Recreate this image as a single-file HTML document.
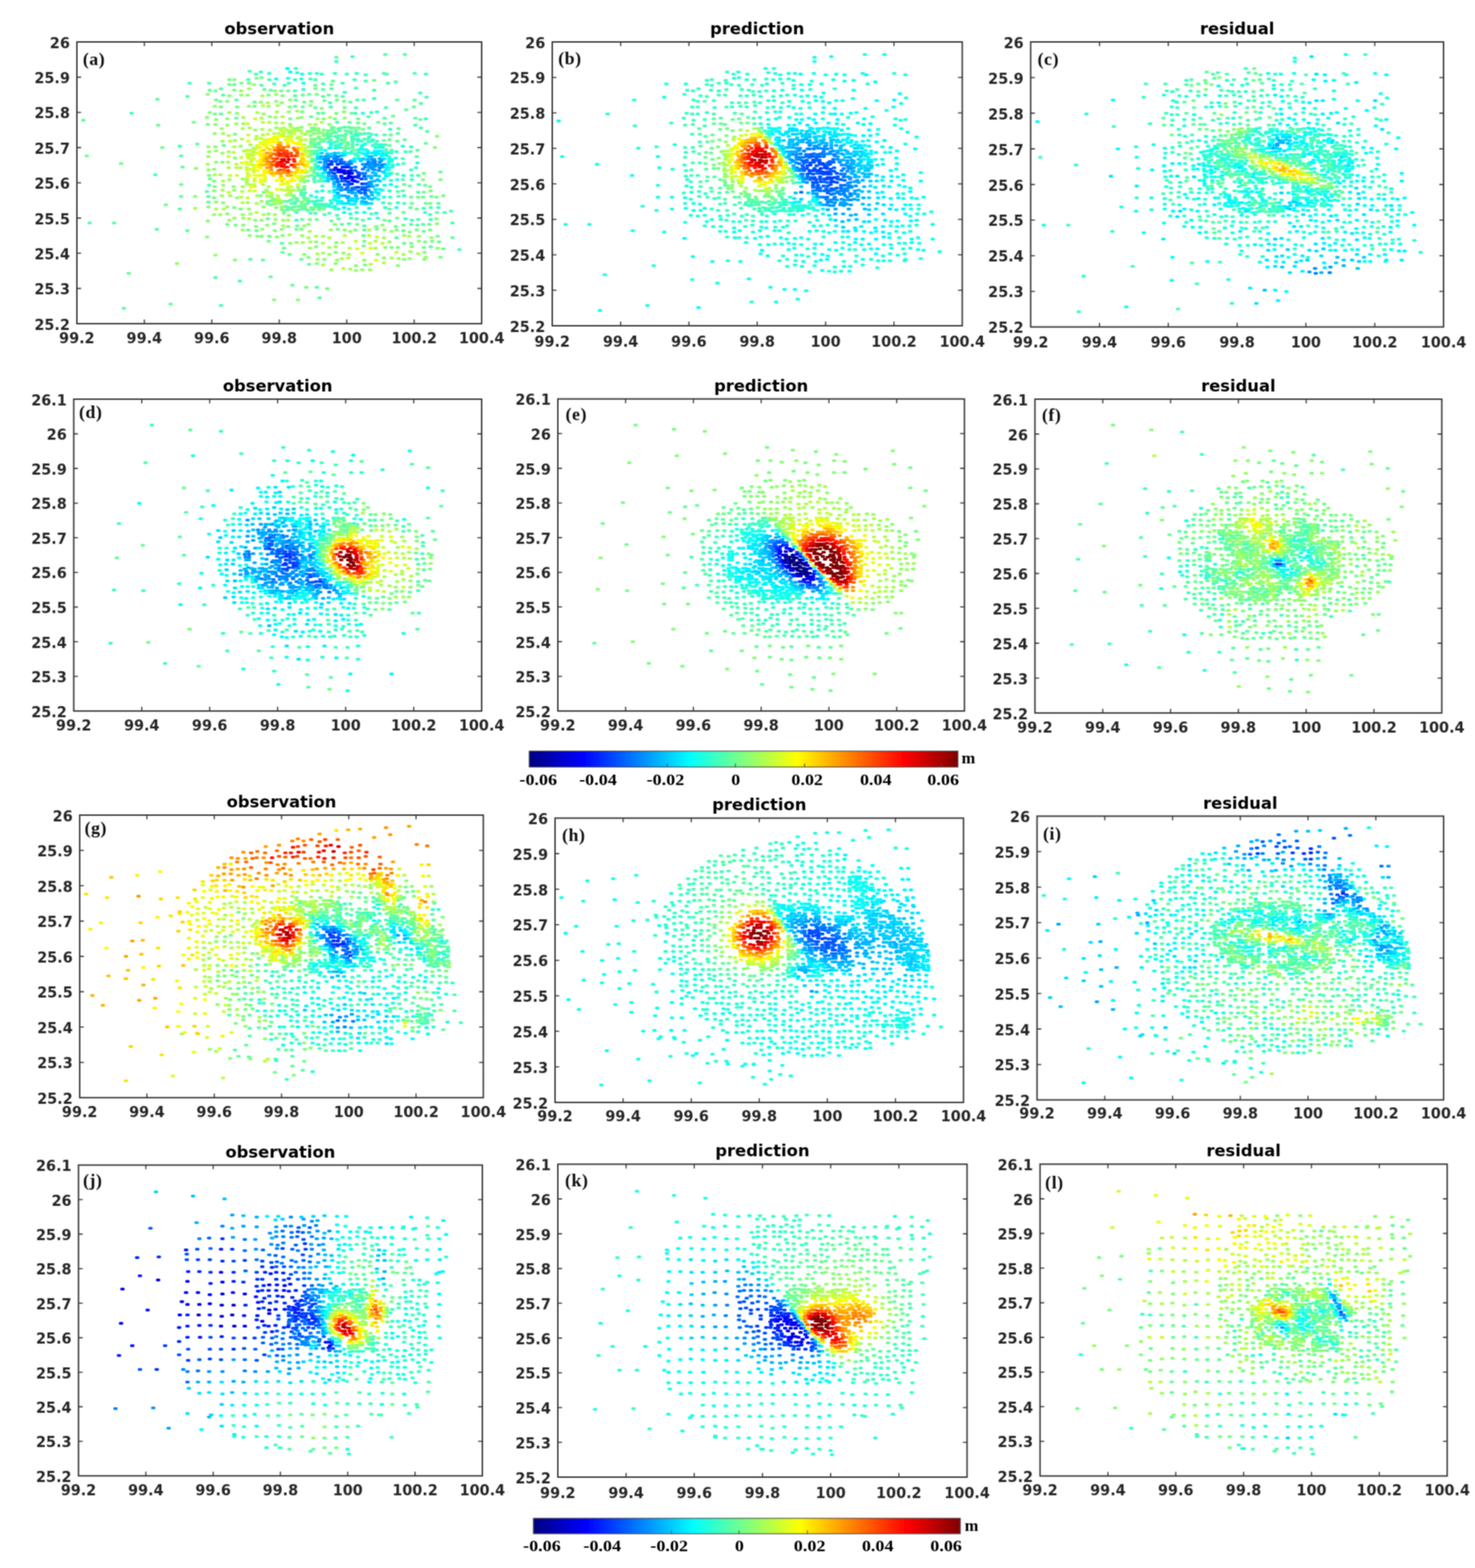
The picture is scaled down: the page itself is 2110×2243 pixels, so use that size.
<!DOCTYPE html><html><head><meta charset="utf-8"><style>html,body{margin:0;padding:0;background:#fff;}svg{display:block;}#w{width:2110px;height:2243px;overflow:hidden;}.tk{font-family:"DejaVu Sans","Liberation Sans",sans-serif;font-weight:bold;font-size:20.6px;fill:#262626;}.ti{font-family:"DejaVu Sans","Liberation Sans",sans-serif;font-weight:bold;font-size:23.4px;fill:#000;}.pl{font-family:"Liberation Serif",serif;font-weight:bold;font-size:25.5px;letter-spacing:0.8px;fill:#111;}.cl{font-family:"Liberation Serif",serif;font-weight:bold;font-size:23.5px;fill:#000;}</style></head><body>
<div id="w">
<svg width="2110" height="2243" viewBox="0 0 2110 2243">
<defs><filter id="bl" x="0" y="0" width="2110" height="2243" filterUnits="userSpaceOnUse"><feConvolveMatrix order="3" kernelMatrix="1 2 1 2 4 2 1 2 1" divisor="16" edgeMode="none"/></filter></defs>
<rect width="2110" height="2243" fill="#fff"/>
<g filter="url(#bl)">
<g fill="none" stroke-width="4.1" stroke-linecap="round"><path d="M354 114h2.4M365 106h2.4M384 114h2.4M391 120h2.4M406 122h2.4M412 119h2.4M423 304h2.4M443 305h2.4M450 305h2.4M421 291h2.4M423 284h2.4M433 280h2.4M430 276h2.4M435 276h2.4M434 271h2.4M439 288h2.4M445 288h2.4M450 288h2.4M454 292h2.4M449 260h2.4M448 256h2.4M455 259h2.4M453 248h2.4M448 243h2.4M450 239h2.4M450 235h2.4M453 216h2.4M454 206h2.4M443 113h2.4M450 114h2.4M470 305h2.4M481 308h2.4M465 292h2.4M468 293h2.4M478 299h2.4M460 266h2.4M458 211h2.4M492 216h2.4M487 211h2.4M462 202h2.4M479 203h2.4M487 194h2.4M484 187h2.4M481 175h2.4M492 182h2.4M472 153h2.4M471 147h2.4M461 120h2.4M509 313h2.4M530 306h2.4M502 216h2.4M497 212h2.4M503 207h2.4M507 220h2.4M510 207h2.4M502 196h2.4M501 191h2.4M520 199h2.4M520 191h2.4M526 203h2.4M531 202h2.4M526 191h2.4M530 192h2.4M508 154h2.4M530 161h2.4M559 248h2.4M551 214h2.4M550 207h2.4M559 219h2.4M559 215h2.4M538 202h2.4M588 315h2.4M577 291h2.4M605 298h2.4M575 257h2.4M588 251h2.4M598 264h2.4M597 251h2.4M576 234h2.4M575 227h2.4M579 217h2.4M615 314h2.4M614 307h2.4M635 304h2.4M626 297h2.4M489 119h2.4M495 106h2.4M508 126h2.4M506 114h2.4M522 116h2.4M534 129h2.4M551 154h2.4M554 119h2.4M593 179h2.4M187 162h2.4M221 250h2.4M256 209h2.4M270 119h2.4M315 437h2.4M342 402h2.4M503 81h2.4M609 139h2.4M646 319h2.4M656 357h2.4" stroke="#47ffb8"/>
<path d="M297 281h2.4M295 274h2.4M298 265h2.4M298 119h2.4M315 163h2.4M337 143h2.4M318 136h2.4M315 127h2.4M373 122h2.4M356 102h2.4M402 348h2.4M387 287h2.4M410 300h2.4M410 296h2.4M416 297h2.4M410 288h2.4M416 291h2.4M415 286h2.4M421 289h2.4M424 287h2.4M431 299h2.4M430 295h2.4M436 299h2.4M435 292h2.4M430 279h2.4M434 283h2.4M445 300h2.4M439 291h2.4M450 295h2.4M454 296h2.4M449 252h2.4M449 216h2.4M449 210h2.4M450 206h2.4M454 211h2.4M455 204h2.4M454 162h2.4M421 137h2.4M421 130h2.4M463 307h2.4M483 313h2.4M458 296h2.4M462 299h2.4M458 259h2.4M458 255h2.4M494 208h2.4M459 202h2.4M467 198h2.4M472 200h2.4M468 195h2.4M467 191h2.4M472 195h2.4M482 202h2.4M482 198h2.4M479 190h2.4M484 194h2.4M493 192h2.4M483 184h2.4M461 162h2.4M461 138h2.4M461 128h2.4M473 127h2.4M489 138h2.4M498 320h2.4M501 312h2.4M520 329h2.4M520 323h2.4M518 315h2.4M503 211h2.4M496 204h2.4M503 203h2.4M506 194h2.4M513 191h2.4M496 188h2.4M501 188h2.4M501 183h2.4M516 192h2.4M525 199h2.4M527 183h2.4M510 143h2.4M526 167h2.4M566 340h2.4M556 316h2.4M556 305h2.4M556 299h2.4M556 291h2.4M569 281h2.4M568 274h2.4M567 249h2.4M549 193h2.4M549 177h2.4M568 191h2.4M558 176h2.4M549 169h2.4M576 330h2.4M587 321h2.4M596 322h2.4M604 321h2.4M597 314h2.4M575 273h2.4M597 275h2.4M586 217h2.4M595 224h2.4M596 215h2.4M615 353h2.4M615 297h2.4M626 291h2.4M519 143h2.4M552 106h2.4M565 117h2.4M593 169h2.4M118 172h2.4M127 319h2.4M162 319h2.4M176 441h2.4M223 328h2.4M258 223h2.4M256 299h2.4M267 330h2.4M267 138h2.4M307 397h2.4M357 371h2.4M456 426h2.4M452 411h2.4M578 78h2.4M550 78h2.4M548 105h2.4M592 105h2.4M601 148h2.4M601 183h2.4M610 188h2.4M644 302h2.4" stroke="#57ffa8"/>
<path d="M372 103h2.4M384 105h2.4M423 315h2.4M449 292h2.4M449 230h2.4M448 228h2.4M448 220h2.4M433 128h2.4M424 104h2.4M422 98h2.4M442 105h2.4M452 105h2.4M464 295h2.4M459 292h2.4M458 287h2.4M473 296h2.4M470 274h2.4M484 211h2.4M482 208h2.4M474 204h2.4M479 195h2.4M488 200h2.4M459 106h2.4M527 313h2.4M509 297h2.4M508 222h2.4M511 223h2.4M501 219h2.4M532 208h2.4M503 200h2.4M506 199h2.4M511 202h2.4M511 199h2.4M508 191h2.4M510 194h2.4M516 202h2.4M507 162h2.4M539 312h2.4M547 290h2.4M568 290h2.4M557 282h2.4M555 251h2.4M536 206h2.4M541 207h2.4M550 218h2.4M561 236h2.4M537 193h2.4M557 185h2.4M538 160h2.4M579 313h2.4M607 304h2.4M588 257h2.4M587 243h2.4M594 240h2.4M587 210h2.4M478 105h2.4M492 132h2.4M509 105h2.4M522 107h2.4M534 141h2.4M480 88h2.4M608 106h2.4M600 133h2.4M608 170h2.4" stroke="#37ffc8"/>
<path d="M297 289h2.4M299 129h2.4M319 208h2.4M308 143h2.4M337 169h2.4M327 121h2.4M334 121h2.4M366 330h2.4M363 146h2.4M377 128h2.4M373 111h2.4M384 338h2.4M403 361h2.4M405 355h2.4M413 364h2.4M382 313h2.4M405 301h2.4M407 295h2.4M405 288h2.4M415 299h2.4M386 129h2.4M430 371h2.4M441 378h2.4M424 323h2.4M431 314h2.4M420 296h2.4M426 300h2.4M426 295h2.4M430 272h2.4M439 301h2.4M444 297h2.4M455 300h2.4M439 284h2.4M444 251h2.4M448 247h2.4M444 216h2.4M444 203h2.4M449 199h2.4M455 198h2.4M448 186h2.4M421 152h2.4M422 143h2.4M432 153h2.4M434 146h2.4M444 167h2.4M450 154h2.4M432 136h2.4M441 135h2.4M450 122h2.4M473 316h2.4M488 321h2.4M492 212h2.4M463 192h2.4M473 191h2.4M473 186h2.4M474 182h2.4M489 204h2.4M492 199h2.4M492 195h2.4M477 188h2.4M476 183h2.4M487 183h2.4M493 187h2.4M491 145h2.4M469 136h2.4M480 137h2.4M519 337h2.4M506 215h2.4M498 182h2.4M499 175h2.4M508 187h2.4M512 183h2.4M502 162h2.4M511 170h2.4M500 146h2.4M565 324h2.4M556 208h2.4M548 201h2.4M556 200h2.4M558 193h2.4M567 202h2.4M569 184h2.4M577 348h2.4M576 322h2.4M576 304h2.4M605 331h2.4M586 297h2.4M588 291h2.4M587 282h2.4M595 299h2.4M608 291h2.4M597 282h2.4M604 282h2.4M577 264h2.4M585 266h2.4M607 265h2.4M578 200h2.4M627 346h2.4M613 321h2.4M624 304h2.4M616 281h2.4M475 116h2.4M567 143h2.4M580 157h2.4M591 153h2.4M592 143h2.4M608 205h2.4M183 391h2.4M224 142h2.4M225 179h2.4M243 435h2.4M260 239h2.4M258 281h2.4M281 206h2.4M375 372h2.4M386 396h2.4M417 408h2.4M480 82h2.4M600 171h2.4M629 246h2.4M646 340h2.4M633 356h2.4" stroke="#67ff98"/>
<path d="M411 112h2.4M453 287h2.4M444 280h2.4M451 282h2.4M454 251h2.4M454 242h2.4M453 220h2.4M421 114h2.4M430 113h2.4M470 295h2.4M472 287h2.4M460 283h2.4M482 291h2.4M463 259h2.4M458 251h2.4M460 248h2.4M458 214h2.4M472 211h2.4M472 207h2.4M479 212h2.4M479 208h2.4M493 219h2.4M486 206h2.4M469 203h2.4M500 306h2.4M509 304h2.4M498 219h2.4M512 218h2.4M512 214h2.4M516 211h2.4M532 200h2.4M527 196h2.4M518 162h2.4M550 297h2.4M546 272h2.4M566 297h2.4M556 273h2.4M558 258h2.4M566 267h2.4M567 257h2.4M555 243h2.4M556 240h2.4M541 211h2.4M545 216h2.4M545 207h2.4M559 231h2.4M555 224h2.4M565 226h2.4M554 218h2.4M566 217h2.4M577 280h2.4M576 251h2.4M575 209h2.4M596 233h2.4" stroke="#26ffd9"/>
<path d="M299 256h2.4M298 251h2.4M296 178h2.4M324 321h2.4M336 322h2.4M305 283h2.4M334 297h2.4M306 267h2.4M305 259h2.4M335 192h2.4M306 163h2.4M315 153h2.4M314 145h2.4M338 153h2.4M307 130h2.4M334 129h2.4M327 114h2.4M373 338h2.4M354 329h2.4M343 299h2.4M372 280h2.4M363 152h2.4M344 119h2.4M355 119h2.4M366 112h2.4M383 345h2.4M391 320h2.4M405 305h2.4M382 288h2.4M386 293h2.4M391 285h2.4M402 300h2.4M414 170h2.4M383 136h2.4M401 130h2.4M411 130h2.4M423 328h2.4M430 328h2.4M442 314h2.4M452 314h2.4M420 301h2.4M435 296h2.4M431 292h2.4M430 289h2.4M420 283h2.4M419 280h2.4M448 299h2.4M434 267h2.4M434 260h2.4M439 259h2.4M444 231h2.4M445 227h2.4M443 222h2.4M444 206h2.4M448 202h2.4M455 196h2.4M445 183h2.4M448 183h2.4M431 160h2.4M444 145h2.4M452 135h2.4M450 127h2.4M482 328h2.4M460 299h2.4M463 199h2.4M462 194h2.4M468 187h2.4M491 203h2.4M463 144h2.4M478 170h2.4M480 162h2.4M481 143h2.4M492 154h2.4M473 121h2.4M521 379h2.4M519 352h2.4M520 345h2.4M507 329h2.4M510 321h2.4M496 207h2.4M506 183h2.4M511 176h2.4M518 185h2.4M520 177h2.4M568 354h2.4M538 328h2.4M537 324h2.4M549 315h2.4M566 329h2.4M567 312h2.4M540 175h2.4M587 348h2.4M605 354h2.4M607 346h2.4M595 329h2.4M605 275h2.4M605 248h2.4M617 345h2.4M625 338h2.4M614 329h2.4M614 291h2.4M615 273h2.4M623 282h2.4M614 267h2.4M534 115h2.4M561 166h2.4M123 223h2.4M172 234h2.4M231 211h2.4M236 293h2.4M258 264h2.4M276 175h2.4M467 413h2.4M437 411h2.4M629 257h2.4M633 280h2.4M629 368h2.4" stroke="#77ff88"/>
<path d="M394 113h2.4M452 274h2.4M454 232h2.4M433 119h2.4M431 106h2.4M491 304h2.4M473 291h2.4M460 273h2.4M478 295h2.4M483 299h2.4M478 286h2.4M477 284h2.4M463 254h2.4M462 252h2.4M520 304h2.4M498 299h2.4M517 219h2.4M517 214h2.4M522 214h2.4M517 208h2.4M521 206h2.4M537 305h2.4M540 285h2.4M540 279h2.4M548 282h2.4M556 248h2.4M560 239h2.4M536 211h2.4M546 211h2.4M555 235h2.4M555 231h2.4M556 227h2.4M559 228h2.4M568 235h2.4" stroke="#16ffe9"/>
<path d="M297 296h2.4M295 168h2.4M299 161h2.4M324 306h2.4M334 312h2.4M308 289h2.4M318 290h2.4M305 273h2.4M305 242h2.4M333 267h2.4M308 232h2.4M317 232h2.4M307 210h2.4M335 226h2.4M307 178h2.4M308 171h2.4M324 170h2.4M338 162h2.4M324 145h2.4M327 137h2.4M334 114h2.4M356 337h2.4M367 338h2.4M347 322h2.4M365 324h2.4M364 315h2.4M376 296h2.4M376 275h2.4M355 152h2.4M372 146h2.4M353 136h2.4M395 339h2.4M403 337h2.4M414 348h2.4M381 322h2.4M392 330h2.4M383 306h2.4M402 328h2.4M411 324h2.4M412 308h2.4M381 291h2.4M394 297h2.4M391 292h2.4M387 282h2.4M415 279h2.4M414 178h2.4M385 167h2.4M394 145h2.4M412 160h2.4M402 147h2.4M413 153h2.4M414 143h2.4M392 130h2.4M403 137h2.4M440 368h2.4M452 377h2.4M434 364h2.4M451 353h2.4M451 346h2.4M440 321h2.4M435 287h2.4M426 272h2.4M439 252h2.4M444 240h2.4M443 220h2.4M430 182h2.4M444 199h2.4M443 194h2.4M448 191h2.4M454 191h2.4M439 188h2.4M443 188h2.4M454 187h2.4M454 184h2.4M430 168h2.4M443 151h2.4M463 371h2.4M479 377h2.4M479 361h2.4M480 347h2.4M478 321h2.4M492 329h2.4M458 200h2.4M459 190h2.4M462 186h2.4M470 178h2.4M462 170h2.4M459 155h2.4M491 160h2.4M508 380h2.4M548 369h2.4M568 380h2.4M539 364h2.4M550 354h2.4M559 354h2.4M549 329h2.4M546 322h2.4M577 371h2.4M588 353h2.4M606 361h2.4M598 345h2.4M585 332h2.4M604 257h2.4M624 320h2.4M623 313h2.4M279 241h2.4M295 339h2.4M296 316h2.4M335 372h2.4M391 429h2.4M425 429h2.4M624 195h2.4M621 211h2.4M606 371h2.4" stroke="#88ff77"/>
<path d="M414 103h2.4M482 288h2.4M477 275h2.4M458 242h2.4M464 215h2.4M470 212h2.4M501 292h2.4M506 227h2.4M520 220h2.4M525 216h2.4M549 265h2.4M548 256h2.4M550 248h2.4M558 264h2.4M545 223h2.4M549 227h2.4M535 216h2.4M540 220h2.4" stroke="#06fff9"/>
<path d="M297 243h2.4M297 224h2.4M298 217h2.4M297 210h2.4M296 135h2.4M305 307h2.4M314 307h2.4M327 315h2.4M316 280h2.4M324 296h2.4M328 280h2.4M338 283h2.4M334 272h2.4M318 265h2.4M327 257h2.4M308 216h2.4M317 219h2.4M306 191h2.4M317 202h2.4M316 184h2.4M324 179h2.4M337 177h2.4M306 152h2.4M327 161h2.4M346 329h2.4M347 312h2.4M346 307h2.4M374 328h2.4M373 315h2.4M355 299h2.4M353 290h2.4M373 288h2.4M367 280h2.4M346 267h2.4M346 256h2.4M352 259h2.4M343 209h2.4M362 212h2.4M347 177h2.4M364 186h2.4M376 163h2.4M344 136h2.4M344 130h2.4M362 121h2.4M393 314h2.4M404 315h2.4M390 288h2.4M397 291h2.4M380 272h2.4M402 296h2.4M400 291h2.4M394 183h2.4M393 168h2.4M383 152h2.4M394 135h2.4M453 371h2.4M423 347h2.4M431 337h2.4M442 355h2.4M434 323h2.4M425 268h2.4M431 256h2.4M444 243h2.4M440 216h2.4M440 210h2.4M444 210h2.4M426 196h2.4M435 192h2.4M420 184h2.4M425 183h2.4M425 169h2.4M424 159h2.4M453 170h2.4M473 386h2.4M481 372h2.4M470 364h2.4M479 353h2.4M490 362h2.4M472 329h2.4M492 169h2.4M508 387h2.4M517 386h2.4M528 386h2.4M520 372h2.4M500 331h2.4M569 370h2.4M556 346h2.4M559 331h2.4M585 370h2.4M608 368h2.4M586 360h2.4M577 337h2.4M598 338h2.4M625 355h2.4M616 340h2.4M252 377h2.4M278 281h2.4M307 365h2.4" stroke="#98ff67"/>
<path d="M410 98h2.4M454 238h2.4M453 224h2.4M491 297h2.4M488 291h2.4M487 288h2.4M478 280h2.4M489 219h2.4M506 292h2.4M507 284h2.4M527 298h2.4M512 227h2.4M520 228h2.4M523 223h2.4M525 219h2.4M531 219h2.4M536 275h2.4M542 271h2.4M551 252h2.4M551 243h2.4M552 239h2.4M551 222h2.4M537 219h2.4M541 216h2.4M546 220h2.4" stroke="#00f5ff"/>
<path d="M296 235h2.4M308 299h2.4M319 299h2.4M317 272h2.4M318 259h2.4M306 250h2.4M314 250h2.4M326 240h2.4M325 232h2.4M326 217h2.4M334 210h2.4M318 191h2.4M326 194h2.4M335 201h2.4M355 313h2.4M357 306h2.4M376 307h2.4M366 291h2.4M348 216h2.4M357 207h2.4M345 199h2.4M346 184h2.4M356 183h2.4M374 185h2.4M347 168h2.4M367 161h2.4M373 169h2.4M355 127h2.4M374 137h2.4M413 336h2.4M392 307h2.4M404 323h2.4M411 315h2.4M395 287h2.4M381 280h2.4M387 279h2.4M382 275h2.4M409 279h2.4M414 275h2.4M383 267h2.4M394 176h2.4M404 191h2.4M412 190h2.4M415 191h2.4M400 184h2.4M409 186h2.4M415 187h2.4M395 160h2.4M382 147h2.4M396 151h2.4M403 167h2.4M432 347h2.4M453 363h2.4M443 346h2.4M440 340h2.4M451 338h2.4M442 331h2.4M429 259h2.4M433 256h2.4M434 253h2.4M438 246h2.4M440 224h2.4M425 187h2.4M429 187h2.4M439 190h2.4M442 178h2.4M450 178h2.4M461 379h2.4M488 370h2.4M461 362h2.4M470 354h2.4M461 348h2.4M461 338h2.4M489 347h2.4M459 175h2.4M471 168h2.4M500 385h2.4M498 364h2.4M527 329h2.4M559 369h2.4M536 355h2.4M536 345h2.4M548 340h2.4M576 364h2.4M584 338h2.4M597 363h2.4M278 298h2.4" stroke="#a8ff57"/>
<path d="M492 291h2.4M483 283h2.4M483 279h2.4M477 272h2.4M463 247h2.4M477 267h2.4M473 220h2.4M492 222h2.4M483 219h2.4M497 291h2.4M503 287h2.4M508 288h2.4M502 284h2.4M516 291h2.4M521 292h2.4M530 291h2.4M506 231h2.4M535 283h2.4M536 271h2.4M540 276h2.4M536 222h2.4" stroke="#00e5ff"/>
<path d="M337 240h2.4M337 235h2.4M333 218h2.4M328 202h2.4M366 304h2.4M346 290h2.4M344 282h2.4M345 274h2.4M352 263h2.4M356 264h2.4M352 256h2.4M343 240h2.4M352 240h2.4M375 264h2.4M352 215h2.4M357 215h2.4M361 218h2.4M365 199h2.4M366 195h2.4M375 193h2.4M375 175h2.4M375 151h2.4M397 284h2.4M396 280h2.4M400 287h2.4M410 272h2.4M414 272h2.4M391 191h2.4M397 191h2.4M385 186h2.4M384 175h2.4M405 183h2.4M403 176h2.4M415 182h2.4M419 272h2.4M434 215h2.4M435 212h2.4M434 207h2.4M424 198h2.4M430 200h2.4M436 200h2.4M419 187h2.4M490 384h2.4M470 340h2.4M492 337h2.4M497 369h2.4M529 378h2.4M499 355h2.4M527 337h2.4M548 376h2.4M546 348h2.4" stroke="#b8ff47"/>
<path d="M454 227h2.4M468 259h2.4M468 255h2.4M458 227h2.4M459 219h2.4M467 220h2.4M498 287h2.4M510 284h2.4M525 291h2.4M515 230h2.4M518 227h2.4M542 259h2.4M536 248h2.4M541 252h2.4M547 246h2.4M546 228h2.4" stroke="#00d4ff"/>
<path d="M326 275h2.4M328 251h2.4M338 251h2.4M326 224h2.4M353 283h2.4M356 273h2.4M353 248h2.4M363 267h2.4M362 264h2.4M377 259h2.4M362 246h2.4M362 243h2.4M344 225h2.4M358 231h2.4M354 226h2.4M359 228h2.4M359 223h2.4M357 220h2.4M361 236h2.4M361 222h2.4M363 214h2.4M366 211h2.4M354 193h2.4M353 177h2.4M372 198h2.4M364 170h2.4M387 276h2.4M401 271h2.4M406 272h2.4M411 277h2.4M411 268h2.4M382 192h2.4M405 195h2.4M411 195h2.4M415 195h2.4M401 187h2.4M405 188h2.4M426 255h2.4M420 191h2.4M428 202h2.4M428 196h2.4M431 191h2.4M508 345h2.4M528 348h2.4M538 339h2.4M566 361h2.4" stroke="#c8ff37"/>
<path d="M482 271h2.4M488 280h2.4M460 240h2.4M477 260h2.4M487 223h2.4M478 219h2.4M507 276h2.4M517 288h2.4M527 284h2.4M531 285h2.4M531 279h2.4M530 252h2.4M532 247h2.4M501 230h2.4M525 228h2.4M527 224h2.4M538 265h2.4M535 259h2.4M539 257h2.4M549 235h2.4" stroke="#00c4ff"/>
<path d="M363 273h2.4M356 251h2.4M352 243h2.4M356 242h2.4M363 259h2.4M363 256h2.4M345 233h2.4M356 235h2.4M353 223h2.4M352 220h2.4M362 227h2.4M367 208h2.4M354 202h2.4M372 204h2.4M377 200h2.4M404 263h2.4M415 267h2.4M396 199h2.4M407 200h2.4M402 192h2.4M411 199h2.4M425 264h2.4M429 252h2.4M434 247h2.4M439 238h2.4M435 222h2.4M436 219h2.4M439 235h2.4M510 356h2.4M517 362h2.4M529 355h2.4M537 372h2.4" stroke="#d9ff26"/>
<path d="M482 276h2.4M492 280h2.4M469 251h2.4M477 263h2.4M457 232h2.4M463 236h2.4M458 224h2.4M468 223h2.4M472 224h2.4M496 283h2.4M497 281h2.4M508 280h2.4M522 289h2.4M517 283h2.4M520 284h2.4M530 275h2.4M532 267h2.4M530 264h2.4M530 260h2.4M530 255h2.4M526 252h2.4M530 224h2.4M536 251h2.4M546 239h2.4M542 227h2.4M544 230h2.4" stroke="#00b4ff"/>
<path d="M358 268h2.4M353 252h2.4M372 260h2.4M363 251h2.4M368 251h2.4M362 240h2.4M373 251h2.4M377 252h2.4M352 235h2.4M351 232h2.4M367 219h2.4M373 206h2.4M377 204h2.4M395 271h2.4M401 264h2.4M410 263h2.4M380 208h2.4M387 208h2.4M382 204h2.4M381 200h2.4M391 196h2.4M401 195h2.4M416 202h2.4M415 198h2.4M420 251h2.4M436 243h2.4M431 211h2.4M439 231h2.4M426 204h2.4" stroke="#e9ff16"/>
<path d="M464 243h2.4M483 267h2.4M464 224h2.4M498 275h2.4M503 276h2.4M522 279h2.4M525 281h2.4M527 265h2.4M525 244h2.4M527 240h2.4M518 235h2.4M531 235h2.4M531 228h2.4M535 243h2.4M534 228h2.4" stroke="#00a4ff"/>
<path d="M372 257h2.4M378 255h2.4M367 244h2.4M368 239h2.4M367 236h2.4M367 231h2.4M371 220h2.4M371 216h2.4M395 258h2.4M417 256h2.4M386 203h2.4M390 199h2.4M395 196h2.4M420 258h2.4M424 252h2.4M429 247h2.4M430 214h2.4M429 206h2.4" stroke="#f9ff06"/>
<path d="M487 272h2.4M474 256h2.4M464 239h2.4M474 252h2.4M487 268h2.4M463 228h2.4M468 227h2.4M478 223h2.4M498 272h2.4M506 271h2.4M513 275h2.4M526 272h2.4M527 261h2.4M532 242h2.4M531 239h2.4M498 232h2.4M527 236h2.4M532 232h2.4M535 238h2.4M541 244h2.4M539 236h2.4M542 232h2.4" stroke="#0094ff"/>
<path d="M377 248h2.4M372 240h2.4M377 244h2.4M372 232h2.4M372 228h2.4M372 223h2.4M371 211h2.4M377 208h2.4M382 247h2.4M400 255h2.4M405 256h2.4M410 260h2.4M415 259h2.4M385 199h2.4M390 203h2.4M396 203h2.4M410 203h2.4M426 246h2.4M431 223h2.4M424 206h2.4M419 204h2.4" stroke="#fff500"/>
<path d="M469 247h2.4M484 264h2.4M478 255h2.4M464 232h2.4M477 227h2.4M481 228h2.4M482 224h2.4M502 272h2.4M507 239h2.4M522 256h2.4M521 248h2.4M518 242h2.4M521 239h2.4M501 234h2.4M523 235h2.4M526 232h2.4M542 240h2.4M535 234h2.4M535 231h2.4M545 236h2.4" stroke="#0084ff"/>
<path d="M377 224h2.4M377 220h2.4M383 245h2.4M390 251h2.4M402 259h2.4M381 212h2.4M431 244h2.4M435 238h2.4M433 231h2.4M433 227h2.4" stroke="#ffe500"/>
<path d="M493 271h2.4M473 247h2.4M482 260h2.4M479 252h2.4M468 230h2.4M493 235h2.4M491 232h2.4M487 228h2.4M512 273h2.4M515 276h2.4M496 268h2.4M503 269h2.4M508 268h2.4M517 268h2.4M526 267h2.4M516 248h2.4" stroke="#0073ff"/>
<path d="M371 236h2.4M376 227h2.4M376 215h2.4M385 214h2.4M411 207h2.4M421 247h2.4M424 243h2.4M425 240h2.4M435 236h2.4M431 227h2.4M431 220h2.4" stroke="#ffd500"/>
<path d="M472 243h2.4M481 256h2.4M492 264h2.4M488 259h2.4M479 231h2.4M486 231h2.4M521 276h2.4M498 264h2.4M501 240h2.4M522 268h2.4M522 263h2.4M497 236h2.4" stroke="#0063ff"/>
<path d="M376 236h2.4M377 231h2.4M391 247h2.4M401 252h2.4M391 211h2.4M400 204h2.4M429 231h2.4M425 212h2.4" stroke="#ffc400"/>
<path d="M468 239h2.4M493 259h2.4M487 234h2.4M517 271h2.4M521 272h2.4M511 247h2.4M507 244h2.4M520 252h2.4" stroke="#0053ff"/>
<path d="M387 248h2.4M410 251h2.4M415 251h2.4M415 246h2.4M381 224h2.4M386 219h2.4M431 235h2.4" stroke="#ffb400"/>
<path d="M477 248h2.4M469 235h2.4M473 231h2.4M511 268h2.4M511 254h2.4M497 239h2.4M517 263h2.4M516 256h2.4" stroke="#0043ff"/>
<path d="M381 240h2.4M395 248h2.4M381 235h2.4M381 219h2.4M397 207h2.4M425 235h2.4" stroke="#ffa400"/>
<path d="M488 255h2.4M473 235h2.4M482 235h2.4M497 260h2.4M510 260h2.4M512 251h2.4" stroke="#0033ff"/>
<path d="M387 243h2.4M400 248h2.4M405 247h2.4M380 227h2.4M385 226h2.4M400 208h2.4M411 210h2.4M424 216h2.4" stroke="#ff9400"/>
<path d="M483 246h2.4M477 243h2.4M487 252h2.4M489 239h2.4M494 239h2.4M502 263h2.4M501 244h2.4M507 253h2.4" stroke="#0022ff"/>
<path d="M386 239h2.4M382 231h2.4M392 215h2.4M401 211h2.4M424 223h2.4M419 212h2.4" stroke="#ff8400"/>
<path d="M479 240h2.4M486 243h2.4M497 255h2.4M503 254h2.4" stroke="#0012ff"/>
<path d="M397 244h2.4M411 247h2.4M387 235h2.4M387 232h2.4M386 223h2.4M391 220h2.4M397 211h2.4M405 211h2.4M420 236h2.4" stroke="#ff7300"/>
<path d="M493 255h2.4M487 246h2.4M503 258h2.4M506 259h2.4" stroke="#0002ff"/>
<path d="M405 243h2.4M390 236h2.4M390 227h2.4M396 215h2.4M420 239h2.4M421 215h2.4M424 219h2.4" stroke="#ff6300"/>
<path d="M483 243h2.4M491 244h2.4M498 252h2.4M502 248h2.4" stroke="#0000f1"/>
<path d="M400 243h2.4M391 231h2.4M395 222h2.4M404 215h2.4M409 216h2.4M415 219h2.4" stroke="#ff5300"/>
<path d="M498 248h2.4M497 245h2.4" stroke="#0000e1"/>
<path d="M411 244h2.4M397 219h2.4M400 215h2.4M421 223h2.4" stroke="#ff4300"/>
<path d="M492 248h2.4M501 253h2.4" stroke="#0000d0"/>
<path d="M395 238h2.4M397 232h2.4M395 227h2.4M399 223h2.4M405 223h2.4M416 223h2.4M405 219h2.4M410 220h2.4M420 231h2.4" stroke="#ff3300"/>
<path d="M410 239h2.4M400 236h2.4M400 220h2.4M419 228h2.4" stroke="#ff2200"/>
<path d="M407 239h2.4M395 235h2.4M405 235h2.4M402 228h2.4M416 236h2.4M410 224h2.4" stroke="#ff1200"/>
<path d="M402 238h2.4" stroke="#ff0200"/>
<path d="M401 232h2.4" stroke="#f10000"/>
<path d="M405 228h2.4M410 232h2.4M412 228h2.4" stroke="#e10000"/>
<path d="M405 230h2.4" stroke="#d00000"/>
<path d="M979 225h2.4M979 211h2.4M979 179h2.4M1011 282h2.4M1001 267h2.4M988 251h2.4M988 243h2.4M1016 269h2.4M990 233h2.4M1000 233h2.4M991 217h2.4M1000 203h2.4M990 178h2.4M1007 180h2.4M991 172h2.4M997 153h2.4M997 145h2.4M1007 171h2.4M1020 163h2.4M1010 138h2.4M1049 306h2.4M1029 292h2.4M1039 301h2.4M1036 291h2.4M1027 283h2.4M1028 276h2.4M1050 293h2.4M1059 298h2.4M1057 290h2.4M1050 162h2.4M1058 152h2.4M1056 147h2.4M1027 136h2.4M1036 136h2.4M1038 128h2.4M1027 119h2.4M1066 315h2.4M1076 309h2.4M1065 293h2.4M1066 290h2.4M1078 299h2.4M1074 294h2.4M1074 290h2.4M1085 302h2.4M1085 298h2.4M1088 303h2.4M1091 297h2.4M1084 293h2.4M1089 289h2.4M1094 301h2.4M1100 298h2.4M1100 293h2.4M1099 288h2.4M1096 191h2.4M1077 169h2.4M1079 160h2.4M1066 147h2.4M1078 146h2.4M1076 131h2.4M1105 290h2.4M1118 285h2.4M1133 245h2.4M1114 215h2.4" stroke="#47ffb8"/>
<path d="M1017 274h2.4M1001 260h2.4M1010 259h2.4M1011 253h2.4M1009 242h2.4M1021 253h2.4M999 220h2.4M1001 209h2.4M1000 192h2.4M999 184h2.4M1011 203h2.4M1008 195h2.4M1020 170h2.4M1007 145h2.4M1036 285h2.4M1039 275h2.4M1050 282h2.4M1029 269h2.4M1030 169h2.4M1038 153h2.4M1060 163h2.4M1070 288h2.4M1080 293h2.4M1079 289h2.4M1070 284h2.4M1075 286h2.4M1084 289h2.4M1094 290h2.4M1078 177h2.4M1069 168h2.4M1105 292h2.4M1108 289h2.4M1114 280h2.4M1117 282h2.4M1119 277h2.4M1134 262h2.4" stroke="#57ffa8"/>
<path d="M977 276h2.4M980 252h2.4M980 244h2.4M978 236h2.4M980 218h2.4M977 169h2.4M981 162h2.4M978 135h2.4M982 129h2.4M999 281h2.4M999 274h2.4M1017 299h2.4M1008 277h2.4M1021 284h2.4M988 268h2.4M987 260h2.4M997 251h2.4M990 211h2.4M989 192h2.4M989 163h2.4M997 163h2.4M989 153h2.4M991 143h2.4M1010 161h2.4M1021 154h2.4M1020 144h2.4M990 130h2.4M1001 137h2.4M998 127h2.4M1016 129h2.4M1010 121h2.4M1010 115h2.4M1017 122h2.4M1017 114h2.4M1039 339h2.4M1029 309h2.4M1038 315h2.4M1040 308h2.4M1060 309h2.4M1026 301h2.4M1046 153h2.4M1046 147h2.4M1027 130h2.4M1038 119h2.4M1037 115h2.4M1058 137h2.4M1060 128h2.4M1045 121h2.4M1056 122h2.4M1039 103h2.4M1048 106h2.4M1067 307h2.4M1076 316h2.4M1089 307h2.4M1070 294h2.4M1094 298h2.4M1099 301h2.4M1099 196h2.4M1088 183h2.4M1067 153h2.4M1079 151h2.4M1086 147h2.4M1097 154h2.4M1067 137h2.4M1070 129h2.4M1077 136h2.4M1075 121h2.4M1078 114h2.4M1085 131h2.4M1095 130h2.4M1089 122h2.4M1095 113h2.4M1104 297h2.4M1110 302h2.4M1110 297h2.4M1115 301h2.4M1114 296h2.4M1120 301h2.4M1115 294h2.4M1114 290h2.4M1120 293h2.4M1120 289h2.4M1123 302h2.4M1128 298h2.4M1123 293h2.4M1123 289h2.4M1133 301h2.4M1123 286h2.4M1139 261h2.4M1138 253h2.4M1119 223h2.4M1118 147h2.4M1105 138h2.4M1118 119h2.4M1155 306h2.4M1147 301h2.4M907 180h2.4M938 210h2.4M959 176h2.4" stroke="#37ffc8"/>
<path d="M1020 241h2.4M1008 234h2.4M1008 225h2.4M1018 228h2.4M1009 218h2.4M1016 219h2.4M1017 212h2.4M1018 193h2.4M1020 177h2.4M1056 282h2.4M1029 257h2.4M1036 265h2.4M1036 261h2.4M1029 185h2.4M1030 177h2.4M1036 178h2.4M1047 171h2.4M1056 170h2.4M1070 280h2.4M1081 285h2.4M1104 284h2.4M1108 286h2.4M1110 274h2.4M1114 278h2.4M1118 272h2.4M1133 253h2.4" stroke="#67ff98"/>
<path d="M979 291h2.4M981 266h2.4M982 257h2.4M980 120h2.4M987 308h2.4M997 309h2.4M1007 323h2.4M1019 324h2.4M1010 317h2.4M1007 308h2.4M1017 314h2.4M1001 301h2.4M987 285h2.4M988 275h2.4M1056 340h2.4M1029 331h2.4M1030 324h2.4M1037 331h2.4M1030 314h2.4M1048 317h2.4M1057 317h2.4M1049 112h2.4M1056 111h2.4M1055 103h2.4M1067 340h2.4M1065 324h2.4M1076 332h2.4M1075 322h2.4M1088 325h2.4M1088 317h2.4M1095 317h2.4M1096 309h2.4M1087 177h2.4M1093 187h2.4M1099 188h2.4M1086 168h2.4M1098 171h2.4M1096 161h2.4M1098 144h2.4M1067 114h2.4M1087 138h2.4M1096 120h2.4M1068 106h2.4M1098 104h2.4M1094 98h2.4M1114 373h2.4M1125 381h2.4M1125 371h2.4M1137 373h2.4M1119 366h2.4M1107 349h2.4M1135 349h2.4M1107 330h2.4M1108 325h2.4M1114 330h2.4M1119 325h2.4M1107 317h2.4M1107 306h2.4M1115 316h2.4M1127 333h2.4M1125 323h2.4M1126 316h2.4M1128 307h2.4M1137 316h2.4M1134 307h2.4M1104 303h2.4M1120 298h2.4M1129 302h2.4M1129 290h2.4M1134 297h2.4M1140 302h2.4M1139 298h2.4M1139 294h2.4M1137 250h2.4M1108 207h2.4M1108 160h2.4M1114 168h2.4M1115 160h2.4M1105 153h2.4M1106 144h2.4M1116 154h2.4M1138 163h2.4M1127 152h2.4M1128 145h2.4M1106 130h2.4M1116 137h2.4M1118 129h2.4M1105 114h2.4M1115 113h2.4M1125 136h2.4M1136 136h2.4M1134 127h2.4M1134 122h2.4M1134 115h2.4M1108 105h2.4M1106 98h2.4M1115 107h2.4M1127 105h2.4M1157 389h2.4M1146 381h2.4M1164 380h2.4M1155 367h2.4M1154 356h2.4M1177 339h2.4M1157 318h2.4M1144 301h2.4M1143 298h2.4M1148 297h2.4M1143 294h2.4M1154 297h2.4M1157 298h2.4M1153 295h2.4M1158 293h2.4M1163 300h2.4M1162 297h2.4M1168 301h2.4M1143 261h2.4M1145 163h2.4M1144 155h2.4M1157 154h2.4M1156 147h2.4M1145 138h2.4M1158 128h2.4M1185 388h2.4M1193 389h2.4M1193 382h2.4M1206 374h2.4M1214 357h2.4M1205 347h2.4M1204 339h2.4M1183 322h2.4M1223 374h2.4M1254 383h2.4M1224 366h2.4M1222 357h2.4M1293 363h2.4M1313 299h2.4M1160 116h2.4M1193 127h2.4M1240 120h2.4M1267 158h2.4M808 321h2.4M842 321h2.4M864 393h2.4M868 163h2.4M906 143h2.4M912 212h2.4M918 295h2.4M934 380h2.4M940 265h2.4M942 240h2.4M938 301h2.4M952 120h2.4M961 242h2.4M964 207h2.4M960 299h2.4M979 318h2.4M989 400h2.4M1040 373h2.4M1074 432h2.4M1236 78h2.4M1164 88h2.4M1278 105h2.4M1294 107h2.4M1287 172h2.4M1294 171h2.4M1316 370h2.4" stroke="#26ffd9"/>
<path d="M1020 236h2.4M1018 202h2.4M1047 274h2.4M1059 277h2.4M1041 270h2.4M1040 266h2.4M1035 258h2.4M1026 241h2.4M1026 210h2.4M1028 200h2.4M1038 194h2.4M1039 184h2.4M1047 187h2.4M1059 176h2.4M1065 281h2.4M1066 277h2.4M1070 278h2.4M1080 282h2.4M1093 281h2.4M1099 281h2.4M1068 176h2.4M1103 282h2.4M1114 274h2.4M1132 258h2.4M1128 241h2.4M1132 248h2.4" stroke="#77ff88"/>
<path d="M980 298h2.4M979 283h2.4M991 301h2.4M991 291h2.4M1000 292h2.4M1007 298h2.4M1050 340h2.4M1049 332h2.4M1049 326h2.4M1057 330h2.4M1066 347h2.4M1079 341h2.4M1087 363h2.4M1086 350h2.4M1087 339h2.4M1098 350h2.4M1086 330h2.4M1095 326h2.4M1099 192h2.4M1099 183h2.4M1098 178h2.4M1136 379h2.4M1117 349h2.4M1116 340h2.4M1127 357h2.4M1138 365h2.4M1135 355h2.4M1127 348h2.4M1124 342h2.4M1136 341h2.4M1133 294h2.4M1129 282h2.4M1109 170h2.4M1128 168h2.4M1134 154h2.4M1127 113h2.4M1136 105h2.4M1148 374h2.4M1175 387h2.4M1166 374h2.4M1146 365h2.4M1145 350h2.4M1145 340h2.4M1155 342h2.4M1164 363h2.4M1164 355h2.4M1165 349h2.4M1174 349h2.4M1147 308h2.4M1167 330h2.4M1163 323h2.4M1177 331h2.4M1173 323h2.4M1168 315h2.4M1166 309h2.4M1149 294h2.4M1157 289h2.4M1163 288h2.4M1167 293h2.4M1167 289h2.4M1147 145h2.4M1176 170h2.4M1176 161h2.4M1177 154h2.4M1176 145h2.4M1146 129h2.4M1154 137h2.4M1145 121h2.4M1157 121h2.4M1165 138h2.4M1174 139h2.4M1202 388h2.4M1214 388h2.4M1206 381h2.4M1215 381h2.4M1183 366h2.4M1185 357h2.4M1195 358h2.4M1202 364h2.4M1204 355h2.4M1214 350h2.4M1212 339h2.4M1185 333h2.4M1193 331h2.4M1187 163h2.4M1195 144h2.4M1203 163h2.4M1212 168h2.4M1233 379h2.4M1233 371h2.4M1245 371h2.4M1255 373h2.4M1235 357h2.4M1231 350h2.4M1245 356h2.4M1254 192h2.4M1255 185h2.4M1224 161h2.4M1263 373h2.4M1272 373h2.4M1294 371h2.4M1262 366h2.4M1272 363h2.4M1274 355h2.4M1263 350h2.4M1273 350h2.4M1283 365h2.4M1291 356h2.4M1285 348h2.4M1285 340h2.4M1293 348h2.4M1273 323h2.4M1281 331h2.4M1290 323h2.4M1291 277h2.4M1265 218h2.4M1301 355h2.4M1312 357h2.4M1314 348h2.4M1312 340h2.4M1301 331h2.4M1300 323h2.4M1310 322h2.4M1301 309h2.4M1311 306h2.4M1321 306h2.4M1302 299h2.4M1313 293h2.4M1163 105h2.4M1177 133h2.4M1174 120h2.4M1180 107h2.4M1191 114h2.4M1195 106h2.4M1204 144h2.4M1207 116h2.4M1207 107h2.4M1219 141h2.4M1220 129h2.4M1220 115h2.4M1237 155h2.4M1247 167h2.4M1279 179h2.4M1280 170h2.4M1277 153h2.4M1294 206h2.4M803 224h2.4M853 235h2.4M857 444h2.4M903 251h2.4M904 330h2.4M925 437h2.4M940 224h2.4M940 282h2.4M949 332h2.4M949 139h2.4M960 282h2.4M990 367h2.4M1018 374h2.4M1025 405h2.4M1058 374h2.4M1070 399h2.4M1109 432h2.4M1140 428h2.4M1152 416h2.4M1136 414h2.4M1121 414h2.4M1101 411h2.4M1264 78h2.4M1188 81h2.4M1164 82h2.4M1233 105h2.4M1295 140h2.4M1288 148h2.4M1288 184h2.4M1297 189h2.4M1310 196h2.4M1316 247h2.4M1331 303h2.4M1333 342h2.4M1343 360h2.4M1320 358h2.4M1293 373h2.4" stroke="#16ffe9"/>
<path d="M1036 253h2.4M1036 249h2.4M1046 269h2.4M1046 265h2.4M1028 234h2.4M1027 226h2.4M1031 217h2.4M1064 274h2.4M1095 278h2.4M1099 199h2.4M1095 196h2.4M1084 184h2.4M1088 189h2.4M1109 269h2.4M1119 269h2.4M1128 253h2.4M1123 232h2.4M1103 205h2.4" stroke="#88ff77"/>
<path d="M1089 358h2.4M1097 366h2.4M1097 338h2.4M1134 290h2.4M1137 289h2.4M1103 188h2.4M1104 184h2.4M1109 188h2.4M1109 184h2.4M1114 183h2.4M1127 179h2.4M1135 179h2.4M1138 171h2.4M1173 372h2.4M1175 364h2.4M1157 331h2.4M1176 306h2.4M1162 286h2.4M1143 256h2.4M1177 183h2.4M1146 171h2.4M1156 169h2.4M1163 171h2.4M1165 163h2.4M1166 144h2.4M1144 106h2.4M1182 371h2.4M1194 347h2.4M1187 314h2.4M1181 189h2.4M1186 184h2.4M1184 176h2.4M1191 184h2.4M1197 184h2.4M1196 177h2.4M1206 192h2.4M1210 200h2.4M1205 178h2.4M1212 184h2.4M1197 171h2.4M1185 147h2.4M1193 155h2.4M1216 162h2.4M1222 347h2.4M1223 342h2.4M1252 363h2.4M1254 356h2.4M1242 349h2.4M1252 342h2.4M1235 331h2.4M1245 333h2.4M1252 331h2.4M1252 314h2.4M1237 215h2.4M1236 208h2.4M1251 228h2.4M1245 220h2.4M1245 216h2.4M1224 203h2.4M1222 194h2.4M1233 202h2.4M1234 178h2.4M1253 203h2.4M1242 186h2.4M1244 177h2.4M1235 170h2.4M1271 340h2.4M1271 334h2.4M1274 317h2.4M1282 324h2.4M1292 333h2.4M1283 316h2.4M1294 306h2.4M1294 293h2.4M1283 277h2.4M1291 284h2.4M1274 252h2.4M1285 265h2.4M1293 267h2.4M1291 258h2.4M1283 253h2.4M1281 242h2.4M1291 250h2.4M1261 228h2.4M1261 210h2.4M1272 218h2.4M1282 234h2.4M1281 226h2.4M1282 216h2.4M1303 347h2.4M1303 342h2.4M1302 316h2.4M1310 315h2.4M1301 293h2.4M1303 283h2.4M1301 274h2.4M1310 284h2.4M1301 269h2.4M1238 107h2.4M1253 144h2.4M1251 117h2.4M1278 143h2.4M798 173h2.4M978 341h2.4M998 440h2.4M1286 134h2.4M1308 213h2.4M1316 259h2.4M1320 282h2.4M1333 321h2.4" stroke="#06fff9"/>
<path d="M1035 244h2.4M1047 260h2.4M1035 236h2.4M1035 221h2.4M1037 203h2.4M1058 186h2.4M1089 273h2.4M1098 277h2.4M1103 273h2.4M1109 265h2.4M1124 260h2.4M1123 254h2.4M1128 244h2.4M1115 221h2.4" stroke="#98ff67"/>
<path d="M1120 220h2.4M1119 217h2.4M1115 212h2.4M1110 205h2.4M1109 200h2.4M1104 192h2.4M1110 197h2.4M1115 191h2.4M1113 188h2.4M1123 189h2.4M1142 289h2.4M1176 299h2.4M1163 282h2.4M1143 176h2.4M1158 183h2.4M1161 184h2.4M1169 188h2.4M1168 184h2.4M1166 176h2.4M1172 184h2.4M1178 188h2.4M1195 323h2.4M1205 331h2.4M1217 209h2.4M1198 192h2.4M1183 183h2.4M1193 188h2.4M1205 200h2.4M1201 193h2.4M1211 204h2.4M1216 204h2.4M1217 201h2.4M1212 197h2.4M1212 192h2.4M1216 193h2.4M1203 186h2.4M1193 163h2.4M1233 342h2.4M1223 330h2.4M1222 326h2.4M1231 324h2.4M1251 326h2.4M1254 276h2.4M1235 228h2.4M1235 219h2.4M1230 208h2.4M1241 229h2.4M1241 225h2.4M1245 229h2.4M1254 236h2.4M1240 220h2.4M1242 209h2.4M1252 218h2.4M1234 194h2.4M1226 176h2.4M1241 201h2.4M1244 194h2.4M1263 339h2.4M1262 332h2.4M1262 324h2.4M1265 315h2.4M1274 293h2.4M1263 282h2.4M1261 275h2.4M1273 284h2.4M1281 300h2.4M1291 299h2.4M1284 283h2.4M1263 266h2.4M1261 258h2.4M1271 267h2.4M1274 259h2.4M1262 253h2.4M1273 244h2.4M1262 235h2.4M1273 211h2.4M1264 201h2.4" stroke="#00f5ff"/>
<path d="M1039 252h2.4M1035 241h2.4M1059 266h2.4M1034 233h2.4M1037 228h2.4M1037 225h2.4M1035 216h2.4M1040 208h2.4M1049 196h2.4M1079 272h2.4M1084 273h2.4M1094 273h2.4M1098 274h2.4M1066 269h2.4M1078 184h2.4M1085 188h2.4M1118 261h2.4" stroke="#a8ff57"/>
<path d="M1135 284h2.4M1113 208h2.4M1118 209h2.4M1113 203h2.4M1114 201h2.4M1113 197h2.4M1119 193h2.4M1124 191h2.4M1127 195h2.4M1127 188h2.4M1129 184h2.4M1133 187h2.4M1133 184h2.4M1139 187h2.4M1138 185h2.4M1173 293h2.4M1168 285h2.4M1146 187h2.4M1157 187h2.4M1154 179h2.4M1169 195h2.4M1172 195h2.4M1177 196h2.4M1178 193h2.4M1162 189h2.4M1185 308h2.4M1212 331h2.4M1206 207h2.4M1187 197h2.4M1186 192h2.4M1197 200h2.4M1191 195h2.4M1193 192h2.4M1195 195h2.4M1186 189h2.4M1201 203h2.4M1235 317h2.4M1242 317h2.4M1252 299h2.4M1255 283h2.4M1244 266h2.4M1251 268h2.4M1253 259h2.4M1253 251h2.4M1235 237h2.4M1231 229h2.4M1237 223h2.4M1226 217h2.4M1222 207h2.4M1226 212h2.4M1227 208h2.4M1232 221h2.4M1232 212h2.4M1241 233h2.4M1245 232h2.4M1262 306h2.4M1263 293h2.4M1272 299h2.4" stroke="#00e5ff"/>
<path d="M1039 244h2.4M1046 257h2.4M1056 262h2.4M1039 236h2.4M1040 221h2.4M1040 216h2.4M1048 200h2.4M1099 269h2.4M1068 187h2.4M1114 261h2.4M1115 258h2.4M1117 258h2.4M1122 248h2.4M1109 213h2.4" stroke="#b8ff47"/>
<path d="M1134 241h2.4M1119 213h2.4M1129 233h2.4M1124 225h2.4M1120 201h2.4M1139 199h2.4M1133 192h2.4M1139 197h2.4M1138 192h2.4M1145 285h2.4M1155 276h2.4M1145 267h2.4M1142 252h2.4M1144 191h2.4M1147 195h2.4M1147 193h2.4M1152 196h2.4M1152 192h2.4M1157 192h2.4M1153 188h2.4M1166 199h2.4M1164 196h2.4M1164 191h2.4M1194 315h2.4M1205 325h2.4M1211 220h2.4M1191 200h2.4M1196 203h2.4M1242 307h2.4M1242 300h2.4M1242 293h2.4M1254 291h2.4M1242 283h2.4M1228 242h2.4M1231 241h2.4M1237 240h2.4M1244 259h2.4M1245 249h2.4M1242 241h2.4M1245 240h2.4M1227 234h2.4M1227 228h2.4M1230 237h2.4M1230 232h2.4M1230 224h2.4M1223 220h2.4M1221 217h2.4M1225 221h2.4M1222 212h2.4M1231 217h2.4M1241 236h2.4M1246 237h2.4" stroke="#00d4ff"/>
<path d="M1055 258h2.4M1046 253h2.4M1045 248h2.4M1051 252h2.4M1045 242h2.4M1042 229h2.4M1042 224h2.4M1059 194h2.4M1095 270h2.4M1088 192h2.4M1100 203h2.4M1118 254h2.4M1124 240h2.4M1123 236h2.4" stroke="#c8ff37"/>
<path d="M1137 276h2.4M1124 217h2.4M1124 211h2.4M1128 211h2.4M1128 207h2.4M1128 204h2.4M1129 200h2.4M1132 203h2.4M1133 200h2.4M1172 290h2.4M1143 203h2.4M1142 201h2.4M1157 196h2.4M1164 204h2.4M1167 203h2.4M1173 201h2.4M1177 200h2.4M1204 317h2.4M1213 315h2.4M1208 225h2.4M1215 225h2.4M1202 215h2.4M1205 221h2.4M1208 215h2.4M1201 212h2.4M1202 209h2.4M1211 217h2.4M1216 220h2.4M1188 204h2.4M1188 201h2.4M1224 314h2.4M1236 299h2.4M1233 292h2.4M1232 274h2.4M1242 274h2.4M1235 267h2.4M1227 253h2.4M1227 246h2.4M1233 248h2.4M1236 253h2.4M1236 249h2.4M1237 244h2.4M1241 253h2.4M1242 249h2.4M1241 244h2.4M1220 235h2.4M1220 232h2.4M1225 237h2.4M1220 230h2.4M1221 223h2.4" stroke="#00c4ff"/>
<path d="M1060 261h2.4M1046 244h2.4M1042 232h2.4M1045 238h2.4M1045 220h2.4M1046 215h2.4M1045 213h2.4M1085 266h2.4M1088 264h2.4M1066 193h2.4M1104 260h2.4M1110 257h2.4M1113 254h2.4M1119 249h2.4M1115 224h2.4" stroke="#d9ff26"/>
<path d="M1138 244h2.4M1129 228h2.4M1127 224h2.4M1134 237h2.4M1128 221h2.4M1129 217h2.4M1133 217h2.4M1133 211h2.4M1134 207h2.4M1139 207h2.4M1139 205h2.4M1177 293h2.4M1162 277h2.4M1148 260h2.4M1171 207h2.4M1147 203h2.4M1147 200h2.4M1152 199h2.4M1159 205h2.4M1157 201h2.4M1174 205h2.4M1176 204h2.4M1194 306h2.4M1205 306h2.4M1216 308h2.4M1183 300h2.4M1217 248h2.4M1218 244h2.4M1181 208h2.4M1188 208h2.4M1197 216h2.4M1195 208h2.4M1203 229h2.4M1205 229h2.4M1216 236h2.4M1218 233h2.4M1213 225h2.4M1217 229h2.4M1203 220h2.4M1181 205h2.4M1223 307h2.4M1226 286h2.4M1226 281h2.4M1226 278h2.4M1227 272h2.4M1234 283h2.4M1233 258h2.4M1222 253h2.4M1222 250h2.4M1220 245h2.4M1220 240h2.4" stroke="#00b4ff"/>
<path d="M1061 257h2.4M1057 253h2.4M1045 223h2.4M1049 212h2.4M1056 199h2.4M1086 193h2.4M1120 245h2.4M1117 228h2.4" stroke="#e9ff16"/>
<path d="M1134 231h2.4M1138 217h2.4M1138 212h2.4M1168 281h2.4M1148 256h2.4M1145 249h2.4M1147 253h2.4M1143 212h2.4M1164 209h2.4M1154 204h2.4M1194 299h2.4M1196 286h2.4M1201 293h2.4M1202 290h2.4M1206 294h2.4M1207 290h2.4M1213 299h2.4M1210 292h2.4M1216 293h2.4M1206 286h2.4M1212 286h2.4M1215 254h2.4M1216 240h2.4M1197 224h2.4M1188 212h2.4M1191 216h2.4M1197 219h2.4M1208 236h2.4M1211 233h2.4M1211 230h2.4M1221 285h2.4M1221 277h2.4M1222 273h2.4M1221 260h2.4M1227 261h2.4M1225 258h2.4" stroke="#00a4ff"/>
<path d="M1050 246h2.4M1046 228h2.4M1051 209h2.4M1093 265h2.4M1099 261h2.4M1075 192h2.4M1081 192h2.4" stroke="#f9ff06"/>
<path d="M1139 240h2.4M1138 233h2.4M1132 229h2.4M1139 228h2.4M1138 225h2.4M1133 221h2.4M1138 221h2.4M1162 273h2.4M1167 277h2.4M1173 282h2.4M1153 261h2.4M1142 215h2.4M1154 213h2.4M1157 208h2.4M1169 212h2.4M1167 209h2.4M1172 212h2.4M1179 209h2.4M1182 293h2.4M1186 294h2.4M1188 289h2.4M1191 294h2.4M1193 290h2.4M1187 286h2.4M1203 285h2.4M1208 280h2.4M1211 282h2.4M1216 286h2.4M1216 280h2.4M1211 273h2.4M1212 269h2.4M1217 268h2.4M1216 266h2.4M1212 262h2.4M1215 261h2.4M1215 256h2.4M1212 253h2.4M1211 245h2.4M1213 241h2.4M1193 223h2.4M1197 228h2.4M1183 220h2.4M1186 220h2.4M1187 217h2.4M1182 213h2.4M1203 236h2.4M1200 232h2.4M1212 238h2.4M1223 266h2.4" stroke="#0094ff"/>
<path d="M1051 241h2.4M1061 254h2.4M1051 237h2.4M1050 220h2.4M1054 212h2.4M1056 207h2.4M1056 205h2.4M1060 201h2.4M1085 260h2.4M1093 261h2.4M1089 196h2.4M1108 253h2.4M1113 248h2.4M1119 240h2.4M1119 238h2.4" stroke="#fff500"/>
<path d="M1177 282h2.4M1152 256h2.4M1147 249h2.4M1143 244h2.4M1144 242h2.4M1143 228h2.4M1143 225h2.4M1148 225h2.4M1144 220h2.4M1149 216h2.4M1157 213h2.4M1163 213h2.4M1178 221h2.4M1177 217h2.4M1177 213h2.4M1183 289h2.4M1181 285h2.4M1192 285h2.4M1193 282h2.4M1192 277h2.4M1198 276h2.4M1197 274h2.4M1201 278h2.4M1202 273h2.4M1206 277h2.4M1206 273h2.4M1215 277h2.4M1208 270h2.4M1213 266h2.4M1207 249h2.4M1203 244h2.4M1206 241h2.4M1192 221h2.4" stroke="#0084ff"/>
<path d="M1061 250h2.4M1079 259h2.4M1101 257h2.4M1094 200h2.4M1115 246h2.4M1117 232h2.4" stroke="#ffe500"/>
<path d="M1145 275h2.4M1167 272h2.4M1172 273h2.4M1178 273h2.4M1158 257h2.4M1154 253h2.4M1162 268h2.4M1172 269h2.4M1142 234h2.4M1153 224h2.4M1152 221h2.4M1177 224h2.4M1163 220h2.4M1168 221h2.4M1173 220h2.4M1182 282h2.4M1188 278h2.4M1187 273h2.4M1191 272h2.4M1193 270h2.4M1202 269h2.4M1202 265h2.4M1207 265h2.4M1207 258h2.4M1202 249h2.4M1206 253h2.4M1191 228h2.4" stroke="#0073ff"/>
<path d="M1055 241h2.4M1060 246h2.4M1051 232h2.4M1054 237h2.4M1054 221h2.4M1054 217h2.4M1060 205h2.4M1084 257h2.4M1065 201h2.4M1074 197h2.4M1085 196h2.4M1104 252h2.4M1110 248h2.4M1115 228h2.4" stroke="#ffd500"/>
<path d="M1149 244h2.4M1148 240h2.4M1154 249h2.4M1159 254h2.4M1162 265h2.4M1168 268h2.4M1169 265h2.4M1177 266h2.4M1178 260h2.4M1168 248h2.4M1147 237h2.4M1149 233h2.4M1147 230h2.4M1152 232h2.4M1153 229h2.4M1157 225h2.4M1158 221h2.4M1162 224h2.4M1167 225h2.4M1171 229h2.4M1171 224h2.4M1183 276h2.4M1183 273h2.4M1181 270h2.4M1183 266h2.4M1188 270h2.4M1182 261h2.4M1196 269h2.4M1192 240h2.4M1202 257h2.4M1183 233h2.4M1186 231h2.4M1191 232h2.4" stroke="#0063ff"/>
<path d="M1055 233h2.4M1088 257h2.4M1069 200h2.4M1079 197h2.4M1105 248h2.4" stroke="#ffc400"/>
<path d="M1157 248h2.4M1153 241h2.4M1162 261h2.4M1163 256h2.4M1167 261h2.4M1166 257h2.4M1173 260h2.4M1172 256h2.4M1178 256h2.4M1164 254h2.4M1162 249h2.4M1164 241h2.4M1172 253h2.4M1172 248h2.4M1154 237h2.4M1158 233h2.4M1163 232h2.4M1167 237h2.4M1162 229h2.4M1166 229h2.4M1172 235h2.4M1187 264h2.4M1196 261h2.4M1197 256h2.4M1187 249h2.4M1182 241h2.4M1186 246h2.4M1187 242h2.4M1197 253h2.4M1196 248h2.4M1192 245h2.4M1182 237h2.4M1186 235h2.4" stroke="#0053ff"/>
<path d="M1055 229h2.4M1056 224h2.4M1061 209h2.4M1099 252h2.4M1065 205h2.4M1074 200h2.4M1109 241h2.4M1115 236h2.4" stroke="#ffb400"/>
<path d="M1157 244h2.4M1162 244h2.4M1167 244h2.4M1177 249h2.4M1171 244h2.4M1173 241h2.4M1176 246h2.4M1179 240h2.4M1158 236h2.4M1171 232h2.4M1178 236h2.4M1176 234h2.4M1182 256h2.4M1188 260h2.4M1188 256h2.4M1191 260h2.4M1183 254h2.4M1183 249h2.4M1186 254h2.4M1182 246h2.4M1192 254h2.4" stroke="#0043ff"/>
<path d="M1066 249h2.4M1071 250h2.4M1074 252h2.4M1085 254h2.4M1064 209h2.4M1069 204h2.4M1079 200h2.4M1091 201h2.4M1108 244h2.4M1113 232h2.4M1108 217h2.4" stroke="#ffa400"/>
<path d="M1059 237h2.4M1060 216h2.4M1066 246h2.4M1094 253h2.4M1099 248h2.4M1109 237h2.4M1109 220h2.4" stroke="#ff9400"/>
<path d="M1060 232h2.4M1059 228h2.4M1061 221h2.4M1064 241h2.4M1079 249h2.4M1065 213h2.4M1074 204h2.4M1094 204h2.4M1103 213h2.4" stroke="#ff8400"/>
<path d="M1061 225h2.4M1075 248h2.4M1095 248h2.4M1080 204h2.4M1108 224h2.4M1105 216h2.4" stroke="#ff7300"/>
<path d="M1071 244h2.4M1084 249h2.4M1089 248h2.4M1095 246h2.4M1064 237h2.4M1070 209h2.4M1084 205h2.4M1104 241h2.4" stroke="#ff6300"/>
<path d="M1069 240h2.4M1064 228h2.4M1065 220h2.4M1095 208h2.4M1104 237h2.4" stroke="#ff5300"/>
<path d="M1081 245h2.4M1084 245h2.4M1065 233h2.4M1065 225h2.4M1104 232h2.4M1105 225h2.4" stroke="#ff4300"/>
<path d="M1089 244h2.4M1069 215h2.4M1074 212h2.4M1080 208h2.4M1100 237h2.4M1084 209h2.4" stroke="#ff3300"/>
<path d="M1093 241h2.4M1070 236h2.4M1069 227h2.4M1070 220h2.4M1095 211h2.4M1103 229h2.4" stroke="#ff2200"/>
<path d="M1079 240h2.4M1091 241h2.4M1071 233h2.4M1070 224h2.4M1074 237h2.4M1089 213h2.4" stroke="#ff1200"/>
<path d="M1086 239h2.4M1079 236h2.4M1076 217h2.4M1081 212h2.4M1100 224h2.4M1085 212h2.4M1099 220h2.4" stroke="#ff0200"/>
<path d="M1074 232h2.4M1075 221h2.4M1079 216h2.4M1089 237h2.4M1083 216h2.4M1093 217h2.4" stroke="#f10000"/>
<path d="M1081 233h2.4M1074 228h2.4M1084 237h2.4M1094 233h2.4M1088 216h2.4" stroke="#e10000"/>
<path d="M1078 229h2.4M1079 223h2.4M1081 220h2.4M1085 233h2.4M1089 231h2.4M1095 230h2.4M1094 225h2.4M1084 221h2.4M1094 221h2.4" stroke="#d00000"/>
<path d="M1086 229h2.4M1083 224h2.4M1089 221h2.4" stroke="#c00000"/>
<path d="M1089 230h2.4M1089 225h2.4" stroke="#b00000"/>
<path d="M1663 277h2.4M1668 258h2.4M1668 130h2.4M1677 292h2.4M1674 276h2.4M1685 275h2.4M1673 261h2.4M1685 221h2.4M1675 179h2.4M1697 204h2.4M1704 193h2.4M1683 164h2.4M1706 171h2.4M1696 121h2.4M1716 315h2.4M1715 310h2.4M1724 316h2.4M1727 309h2.4M1726 267h2.4M1742 263h2.4M1747 255h2.4M1737 238h2.4M1732 229h2.4M1731 224h2.4M1745 238h2.4M1746 217h2.4M1747 209h2.4M1734 201h2.4M1745 194h2.4M1716 169h2.4M1734 172h2.4M1742 170h2.4M1746 129h2.4M1741 104h2.4M1752 316h2.4M1764 300h2.4M1757 245h2.4M1761 249h2.4M1765 250h2.4M1767 246h2.4M1770 257h2.4M1785 261h2.4M1781 253h2.4M1781 249h2.4M1786 253h2.4M1761 233h2.4M1751 221h2.4M1756 220h2.4M1751 213h2.4M1776 232h2.4M1782 230h2.4M1752 206h2.4M1771 197h2.4M1774 192h2.4M1782 192h2.4M1785 193h2.4M1773 177h2.4M1755 169h2.4M1766 152h2.4M1783 154h2.4M1785 144h2.4M1753 137h2.4M1756 130h2.4M1764 114h2.4M1771 131h2.4M1781 98h2.4M1793 331h2.4M1805 326h2.4M1814 308h2.4M1821 308h2.4M1795 290h2.4M1801 291h2.4M1794 287h2.4M1806 278h2.4M1821 298h2.4M1825 299h2.4M1826 295h2.4M1822 285h2.4M1800 261h2.4M1794 245h2.4M1807 245h2.4M1821 263h2.4M1825 254h2.4M1825 226h2.4M1805 194h2.4M1790 188h2.4M1821 179h2.4M1796 171h2.4M1801 169h2.4M1793 144h2.4M1803 154h2.4M1825 172h2.4M1804 129h2.4M1831 302h2.4M1830 299h2.4M1854 278h2.4M1835 257h2.4M1854 262h2.4M1859 270h2.4M1835 226h2.4M1844 226h2.4M1849 229h2.4M1859 236h2.4M1858 233h2.4M1865 237h2.4M1863 234h2.4M1859 225h2.4M1850 221h2.4M1851 209h2.4M1861 221h2.4M1859 213h2.4M1840 188h2.4M1849 190h2.4M1848 185h2.4M1855 185h2.4M1843 148h2.4M1841 137h2.4M1845 128h2.4M1844 121h2.4M1870 323h2.4M1892 332h2.4M1899 332h2.4M1879 273h2.4M1895 291h2.4M1890 270h2.4M1893 254h2.4M1893 242h2.4M1905 249h2.4M1905 244h2.4M1904 241h2.4M1878 217h2.4M1900 226h2.4M1898 217h2.4M1875 205h2.4M1875 202h2.4M1900 185h2.4M1880 164h2.4M1910 327h2.4M1921 284h2.4M1919 275h2.4M1911 267h2.4M1908 261h2.4M1909 254h2.4M1909 251h2.4M1908 245h2.4M1914 246h2.4M1919 241h2.4M1929 250h2.4M1909 213h2.4M1921 202h2.4M1932 177h2.4M1962 356h2.4M1969 332h2.4M1979 300h2.4M1961 245h2.4M1972 266h2.4M1981 268h2.4M1950 236h2.4M1927 120h2.4M1487 225h2.4M1527 322h2.4M1592 181h2.4M1619 381h2.4M1638 120h2.4M1711 406h2.4M1744 375h2.4M1952 78h2.4M1921 105h2.4" stroke="#47ffb8"/>
<path d="M1666 120h2.4M1673 286h2.4M1696 259h2.4M1702 270h2.4M1697 254h2.4M1694 226h2.4M1704 228h2.4M1702 220h2.4M1703 212h2.4M1696 162h2.4M1683 128h2.4M1703 114h2.4M1743 341h2.4M1736 333h2.4M1743 331h2.4M1734 318h2.4M1743 318h2.4M1732 266h2.4M1733 261h2.4M1745 267h2.4M1741 259h2.4M1712 210h2.4M1740 238h2.4M1742 234h2.4M1741 230h2.4M1740 217h2.4M1722 178h2.4M1742 206h2.4M1742 200h2.4M1747 206h2.4M1734 187h2.4M1736 112h2.4M1734 106h2.4M1782 318h2.4M1757 250h2.4M1756 241h2.4M1780 265h2.4M1771 255h2.4M1770 250h2.4M1775 249h2.4M1765 224h2.4M1757 209h2.4M1761 222h2.4M1762 217h2.4M1767 209h2.4M1772 230h2.4M1766 204h2.4M1766 201h2.4M1764 178h2.4M1780 205h2.4M1785 188h2.4M1765 146h2.4M1773 168h2.4M1784 172h2.4M1754 106h2.4M1785 104h2.4M1797 298h2.4M1791 293h2.4M1792 291h2.4M1807 302h2.4M1804 273h2.4M1810 303h2.4M1816 291h2.4M1809 249h2.4M1820 254h2.4M1794 217h2.4M1801 202h2.4M1807 202h2.4M1791 185h2.4M1814 179h2.4M1814 152h2.4M1792 138h2.4M1801 114h2.4M1802 107h2.4M1849 266h2.4M1839 232h2.4M1845 233h2.4M1840 229h2.4M1850 233h2.4M1849 225h2.4M1844 188h2.4M1845 183h2.4M1895 271h2.4M1895 225h2.4M1899 234h2.4M1904 237h2.4M1890 220h2.4M1898 221h2.4M1884 201h2.4M1879 196h2.4M1914 281h2.4M1909 274h2.4M1915 273h2.4M1915 208h2.4M1939 219h2.4M1970 326h2.4M1971 317h2.4M1865 133h2.4M1861 120h2.4M1867 107h2.4M1684 442h2.4M1704 376h2.4" stroke="#57ffa8"/>
<path d="M1665 226h2.4M1667 162h2.4M1693 309h2.4M1685 282h2.4M1674 269h2.4M1687 267h2.4M1695 243h2.4M1676 218h2.4M1694 234h2.4M1686 193h2.4M1685 185h2.4M1704 202h2.4M1676 172h2.4M1675 153h2.4M1683 154h2.4M1693 171h2.4M1686 137h2.4M1702 130h2.4M1696 115h2.4M1715 293h2.4M1723 285h2.4M1733 275h2.4M1745 278h2.4M1748 257h2.4M1736 246h2.4M1743 253h2.4M1741 242h2.4M1728 233h2.4M1728 230h2.4M1728 225h2.4M1727 222h2.4M1737 233h2.4M1745 229h2.4M1740 222h2.4M1747 221h2.4M1743 208h2.4M1736 196h2.4M1745 177h2.4M1724 153h2.4M1732 147h2.4M1744 152h2.4M1754 341h2.4M1765 342h2.4M1773 364h2.4M1783 367h2.4M1784 351h2.4M1762 310h2.4M1775 326h2.4M1767 294h2.4M1750 275h2.4M1765 273h2.4M1772 303h2.4M1775 304h2.4M1771 274h2.4M1752 270h2.4M1765 260h2.4M1752 249h2.4M1753 247h2.4M1775 265h2.4M1775 258h2.4M1781 271h2.4M1786 249h2.4M1782 246h2.4M1750 237h2.4M1756 237h2.4M1757 234h2.4M1751 226h2.4M1755 228h2.4M1765 229h2.4M1775 230h2.4M1787 238h2.4M1781 196h2.4M1765 161h2.4M1764 136h2.4M1762 131h2.4M1761 121h2.4M1773 138h2.4M1783 120h2.4M1781 113h2.4M1802 341h2.4M1795 326h2.4M1794 318h2.4M1813 317h2.4M1790 298h2.4M1797 303h2.4M1801 297h2.4M1801 279h2.4M1816 303h2.4M1810 294h2.4M1810 290h2.4M1820 302h2.4M1824 290h2.4M1795 266h2.4M1802 258h2.4M1790 241h2.4M1799 255h2.4M1805 255h2.4M1805 249h2.4M1802 246h2.4M1819 259h2.4M1810 255h2.4M1796 214h2.4M1795 208h2.4M1801 216h2.4M1819 222h2.4M1790 206h2.4M1796 205h2.4M1797 198h2.4M1801 183h2.4M1814 196h2.4M1825 185h2.4M1805 147h2.4M1825 163h2.4M1815 146h2.4M1803 137h2.4M1812 136h2.4M1814 113h2.4M1821 115h2.4M1823 106h2.4M1834 309h2.4M1853 310h2.4M1832 286h2.4M1855 302h2.4M1849 274h2.4M1859 274h2.4M1835 261h2.4M1840 261h2.4M1849 262h2.4M1830 226h2.4M1854 226h2.4M1858 230h2.4M1855 221h2.4M1856 212h2.4M1864 214h2.4M1864 184h2.4M1852 163h2.4M1863 161h2.4M1832 121h2.4M1852 138h2.4M1862 139h2.4M1880 283h2.4M1879 278h2.4M1889 294h2.4M1893 295h2.4M1903 287h2.4M1903 278h2.4M1870 267h2.4M1881 271h2.4M1884 270h2.4M1879 246h2.4M1903 257h2.4M1889 250h2.4M1873 236h2.4M1875 209h2.4M1884 216h2.4M1890 237h2.4M1895 237h2.4M1891 229h2.4M1905 234h2.4M1904 230h2.4M1903 225h2.4M1889 216h2.4M1874 198h2.4M1878 200h2.4M1884 204h2.4M1883 195h2.4M1889 193h2.4M1903 193h2.4M1892 179h2.4M1874 163h2.4M1911 343h2.4M1911 331h2.4M1914 254h2.4M1923 250h2.4M1907 230h2.4M1918 238h2.4M1917 232h2.4M1908 218h2.4M1914 218h2.4M1909 208h2.4M1914 213h2.4M1919 218h2.4M1924 216h2.4M1919 213h2.4M1918 208h2.4M1927 220h2.4M1932 216h2.4M1929 202h2.4M1931 194h2.4M1940 204h2.4M1923 170h2.4M1951 351h2.4M1979 357h2.4M1972 341h2.4M1982 307h2.4M1971 278h2.4M1971 253h2.4M1948 229h2.4M1991 343h2.4M2001 300h2.4M1989 275h2.4M1847 116h2.4M1880 127h2.4M1968 170h2.4M1542 446h2.4M1549 395h2.4M1590 331h2.4M1625 283h2.4M1635 139h2.4M1644 177h2.4M1976 149h2.4M1974 172h2.4M1985 190h2.4M2022 344h2.4" stroke="#37ffc8"/>
<path d="M1664 179h2.4M1663 169h2.4M1686 204h2.4M1706 178h2.4M1693 146h2.4M1707 154h2.4M1735 327h2.4M1747 262h2.4M1746 233h2.4M1715 185h2.4M1716 178h2.4M1747 201h2.4M1736 162h2.4M1713 131h2.4M1713 120h2.4M1723 115h2.4M1725 103h2.4M1751 242h2.4M1760 253h2.4M1750 210h2.4M1770 225h2.4M1775 225h2.4M1780 226h2.4M1770 209h2.4M1781 208h2.4M1756 205h2.4M1760 205h2.4M1761 197h2.4M1767 192h2.4M1771 205h2.4M1775 196h2.4M1785 184h2.4M1784 179h2.4M1806 299h2.4M1821 291h2.4M1796 242h2.4M1790 214h2.4M1807 221h2.4M1814 222h2.4M1792 153h2.4M1815 168h2.4M1821 155h2.4M1792 131h2.4M1804 119h2.4M1795 105h2.4M1839 257h2.4M1829 253h2.4M1866 241h2.4M1834 230h2.4M1854 237h2.4M1853 230h2.4M1874 265h2.4M1869 262h2.4M1874 247h2.4M1883 249h2.4M1889 258h2.4M1894 259h2.4M1899 269h2.4M1904 269h2.4M1869 238h2.4M1899 238h2.4M1913 279h2.4" stroke="#67ff98"/>
<path d="M1665 292h2.4M1665 284h2.4M1667 267h2.4M1666 253h2.4M1666 219h2.4M1665 212h2.4M1664 136h2.4M1673 309h2.4M1696 318h2.4M1686 293h2.4M1703 300h2.4M1707 285h2.4M1703 275h2.4M1687 261h2.4M1673 244h2.4M1676 211h2.4M1687 209h2.4M1694 195h2.4M1693 180h2.4M1675 164h2.4M1677 144h2.4M1682 146h2.4M1676 131h2.4M1696 138h2.4M1725 340h2.4M1736 341h2.4M1736 307h2.4M1746 310h2.4M1725 302h2.4M1714 276h2.4M1725 276h2.4M1742 283h2.4M1715 270h2.4M1727 271h2.4M1723 254h2.4M1725 253h2.4M1733 270h2.4M1747 246h2.4M1713 227h2.4M1720 234h2.4M1723 228h2.4M1723 225h2.4M1721 217h2.4M1726 216h2.4M1727 209h2.4M1742 224h2.4M1747 226h2.4M1737 220h2.4M1735 213h2.4M1737 209h2.4M1740 212h2.4M1724 195h2.4M1713 137h2.4M1723 136h2.4M1773 340h2.4M1783 339h2.4M1761 323h2.4M1753 309h2.4M1763 317h2.4M1781 327h2.4M1774 318h2.4M1783 310h2.4M1751 282h2.4M1757 279h2.4M1766 283h2.4M1772 299h2.4M1786 299h2.4M1786 294h2.4M1786 289h2.4M1779 282h2.4M1786 282h2.4M1785 275h2.4M1765 240h2.4M1771 267h2.4M1785 270h2.4M1787 258h2.4M1770 245h2.4M1777 241h2.4M1752 233h2.4M1760 238h2.4M1760 229h2.4M1770 238h2.4M1754 176h2.4M1777 202h2.4M1781 200h2.4M1787 204h2.4M1763 169h2.4M1773 148h2.4M1754 115h2.4M1781 131h2.4M1805 367h2.4M1811 343h2.4M1801 331h2.4M1794 307h2.4M1801 317h2.4M1823 317h2.4M1802 302h2.4M1802 295h2.4M1806 289h2.4M1791 285h2.4M1790 283h2.4M1801 281h2.4M1804 283h2.4M1801 275h2.4M1815 299h2.4M1826 303h2.4M1820 295h2.4M1810 287h2.4M1823 277h2.4M1797 257h2.4M1805 270h2.4M1805 262h2.4M1794 254h2.4M1797 248h2.4M1810 261h2.4M1826 262h2.4M1815 253h2.4M1805 217h2.4M1802 213h2.4M1805 209h2.4M1811 218h2.4M1791 193h2.4M1799 204h2.4M1799 198h2.4M1802 192h2.4M1796 184h2.4M1799 189h2.4M1816 200h2.4M1810 191h2.4M1810 189h2.4M1814 189h2.4M1816 185h2.4M1819 185h2.4M1802 161h2.4M1842 343h2.4M1851 356h2.4M1861 351h2.4M1844 332h2.4M1864 332h2.4M1855 316h2.4M1835 298h2.4M1850 283h2.4M1855 282h2.4M1854 273h2.4M1860 283h2.4M1864 283h2.4M1865 274h2.4M1829 257h2.4M1849 269h2.4M1855 269h2.4M1856 266h2.4M1845 221h2.4M1850 214h2.4M1854 209h2.4M1864 218h2.4M1858 208h2.4M1851 197h2.4M1851 192h2.4M1864 200h2.4M1864 196h2.4M1859 185h2.4M1833 171h2.4M1853 144h2.4M1833 129h2.4M1870 368h2.4M1900 340h2.4M1874 295h2.4M1881 300h2.4M1878 295h2.4M1880 291h2.4M1871 277h2.4M1875 279h2.4M1880 286h2.4M1884 275h2.4M1890 291h2.4M1893 287h2.4M1888 278h2.4M1890 274h2.4M1894 274h2.4M1875 271h2.4M1899 254h2.4M1902 255h2.4M1900 242h2.4M1870 234h2.4M1874 218h2.4M1869 209h2.4M1876 212h2.4M1885 220h2.4M1883 209h2.4M1893 230h2.4M1898 230h2.4M1893 222h2.4M1895 216h2.4M1888 213h2.4M1893 208h2.4M1903 221h2.4M1905 210h2.4M1880 193h2.4M1886 192h2.4M1870 183h2.4M1885 185h2.4M1888 204h2.4M1893 193h2.4M1899 204h2.4M1899 192h2.4M1880 155h2.4M1929 350h2.4M1919 325h2.4M1922 318h2.4M1940 333h2.4M1930 318h2.4M1920 293h2.4M1908 286h2.4M1909 278h2.4M1930 301h2.4M1929 294h2.4M1930 284h2.4M1922 267h2.4M1908 240h2.4M1915 242h2.4M1920 249h2.4M1924 254h2.4M1931 266h2.4M1929 254h2.4M1933 241h2.4M1908 236h2.4M1907 232h2.4M1923 229h2.4M1913 222h2.4M1919 222h2.4M1923 209h2.4M1934 238h2.4M1929 226h2.4M1933 230h2.4M1942 237h2.4M1939 228h2.4M1932 221h2.4M1930 210h2.4M1911 204h2.4M1910 194h2.4M1922 195h2.4M1922 178h2.4M1942 193h2.4M1942 185h2.4M1961 351h2.4M1971 366h2.4M1973 349h2.4M1981 349h2.4M1950 325h2.4M1959 335h2.4M1961 324h2.4M1953 316h2.4M1962 318h2.4M1979 335h2.4M1978 324h2.4M1979 278h2.4M1962 253h2.4M1979 259h2.4M1979 250h2.4M1960 218h2.4M1970 217h2.4M1952 202h2.4M1991 348h2.4M2000 342h2.4M1990 317h2.4M1989 310h2.4M2009 307h2.4M1907 130h2.4M1925 107h2.4M1935 167h2.4M1965 154h2.4M1982 206h2.4M1538 236h2.4M1553 163h2.4M1603 296h2.4M1624 210h2.4M1627 241h2.4M1646 300h2.4M1756 400h2.4M1761 434h2.4M1851 83h2.4M1851 88h2.4M1983 140h2.4M2031 361h2.4" stroke="#26ffd9"/>
<path d="M1695 219h2.4M1675 193h2.4M1706 144h2.4M1703 122h2.4M1725 185h2.4M1724 128h2.4M1724 119h2.4M1732 121h2.4M1780 262h2.4M1755 216h2.4M1767 213h2.4M1781 212h2.4M1751 202h2.4M1755 201h2.4M1752 194h2.4M1760 200h2.4M1761 193h2.4M1765 198h2.4M1772 193h2.4M1775 184h2.4M1753 153h2.4M1752 148h2.4M1782 161h2.4M1824 251h2.4M1791 238h2.4M1806 224h2.4M1791 217h2.4M1802 222h2.4M1814 224h2.4M1795 160h2.4M1792 115h2.4M1793 98h2.4M1856 188h2.4M1869 241h2.4M1903 267h2.4M1900 263h2.4M1903 262h2.4" stroke="#77ff88"/>
<path d="M1665 299h2.4M1693 324h2.4M1697 283h2.4M1706 242h2.4M1707 164h2.4M1724 332h2.4M1722 292h2.4M1745 299h2.4M1743 291h2.4M1715 258h2.4M1722 265h2.4M1722 245h2.4M1721 242h2.4M1725 245h2.4M1733 258h2.4M1732 253h2.4M1731 248h2.4M1737 253h2.4M1726 237h2.4M1717 218h2.4M1721 222h2.4M1731 220h2.4M1732 216h2.4M1731 214h2.4M1714 201h2.4M1724 203h2.4M1732 153h2.4M1742 147h2.4M1744 137h2.4M1753 349h2.4M1775 359h2.4M1772 351h2.4M1762 333h2.4M1751 294h2.4M1761 295h2.4M1761 287h2.4M1767 286h2.4M1770 294h2.4M1781 299h2.4M1781 291h2.4M1781 279h2.4M1784 278h2.4M1772 261h2.4M1780 242h2.4M1750 229h2.4M1756 224h2.4M1771 234h2.4M1780 234h2.4M1785 200h2.4M1786 197h2.4M1776 122h2.4M1801 375h2.4M1803 351h2.4M1811 325h2.4M1791 304h2.4M1806 294h2.4M1815 283h2.4M1796 270h2.4M1791 261h2.4M1804 259h2.4M1800 249h2.4M1800 208h2.4M1824 222h2.4M1795 200h2.4M1795 188h2.4M1819 188h2.4M1821 127h2.4M1821 122h2.4M1813 105h2.4M1842 368h2.4M1832 351h2.4M1851 364h2.4M1852 350h2.4M1864 340h2.4M1842 308h2.4M1834 302h2.4M1830 295h2.4M1829 290h2.4M1855 286h2.4M1832 268h2.4M1829 262h2.4M1864 267h2.4M1840 225h2.4M1839 222h2.4M1841 214h2.4M1866 210h2.4M1833 188h2.4M1861 206h2.4M1853 177h2.4M1865 189h2.4M1844 154h2.4M1864 171h2.4M1863 146h2.4M1831 106h2.4M1873 334h2.4M1880 332h2.4M1882 324h2.4M1881 307h2.4M1892 326h2.4M1891 318h2.4M1892 307h2.4M1870 283h2.4M1874 287h2.4M1874 274h2.4M1885 277h2.4M1895 281h2.4M1874 242h2.4M1879 241h2.4M1890 244h2.4M1880 224h2.4M1885 229h2.4M1869 214h2.4M1880 221h2.4M1888 232h2.4M1889 210h2.4M1873 192h2.4M1868 190h2.4M1874 189h2.4M1873 184h2.4M1880 188h2.4M1883 177h2.4M1890 186h2.4M1884 171h2.4M1919 351h2.4M1933 357h2.4M1929 308h2.4M1923 300h2.4M1913 287h2.4M1912 259h2.4M1925 241h2.4M1932 260h2.4M1933 250h2.4M1930 242h2.4M1912 238h2.4M1915 234h2.4M1909 224h2.4M1924 224h2.4M1910 221h2.4M1923 220h2.4M1930 187h2.4M1958 341h2.4M1949 333h2.4M1949 275h2.4M1961 285h2.4M1982 294h2.4M1951 267h2.4M1959 268h2.4M1962 260h2.4M1950 254h2.4M1970 235h2.4M1969 226h2.4M2002 349h2.4M2001 294h2.4M1991 284h2.4M1989 270h2.4M1850 105h2.4M1907 142h2.4M1924 155h2.4M1941 144h2.4M1492 322h2.4M1610 439h2.4M1625 225h2.4M1624 302h2.4M1635 333h2.4M1649 207h2.4M1646 283h2.4M1664 319h2.4M1675 401h2.4M1924 78h2.4M1966 105h2.4M1974 134h2.4M1981 374h2.4" stroke="#16ffe9"/>
<path d="M1744 186h2.4M1743 111h2.4M1767 221h2.4M1766 217h2.4M1761 212h2.4M1771 222h2.4M1770 217h2.4M1775 221h2.4M1772 212h2.4M1780 221h2.4M1755 188h2.4M1764 185h2.4M1771 189h2.4M1775 189h2.4M1780 188h2.4M1815 245h2.4M1819 249h2.4M1845 258h2.4M1865 261h2.4M1845 237h2.4M1884 257h2.4M1874 250h2.4M1869 247h2.4M1884 254h2.4M1894 266h2.4M1900 267h2.4" stroke="#88ff77"/>
<path d="M1665 245h2.4M1664 237h2.4M1705 325h2.4M1703 315h2.4M1693 299h2.4M1694 278h2.4M1674 252h2.4M1686 234h2.4M1706 237h2.4M1716 325h2.4M1712 302h2.4M1713 284h2.4M1737 283h2.4M1722 262h2.4M1721 258h2.4M1712 242h2.4M1722 250h2.4M1732 245h2.4M1731 243h2.4M1738 241h2.4M1747 251h2.4M1742 123h2.4M1751 326h2.4M1775 308h2.4M1752 291h2.4M1756 295h2.4M1760 291h2.4M1752 278h2.4M1777 298h2.4M1771 290h2.4M1785 302h2.4M1776 274h2.4M1776 245h2.4M1765 237h2.4M1767 234h2.4M1775 237h2.4M1824 374h2.4M1822 357h2.4M1822 350h2.4M1813 334h2.4M1797 275h2.4M1805 286h2.4M1806 214h2.4M1816 218h2.4M1811 212h2.4M1815 212h2.4M1815 205h2.4M1819 204h2.4M1820 193h2.4M1826 188h2.4M1836 295h2.4M1850 301h2.4M1850 298h2.4M1863 300h2.4M1860 294h2.4M1864 294h2.4M1849 287h2.4M1849 278h2.4M1831 221h2.4M1844 213h2.4M1865 221h2.4M1831 192h2.4M1844 193h2.4M1830 177h2.4M1841 179h2.4M1856 195h2.4M1860 202h2.4M1859 196h2.4M1866 193h2.4M1843 169h2.4M1831 156h2.4M1834 145h2.4M1850 171h2.4M1864 155h2.4M1832 138h2.4M1902 358h2.4M1901 351h2.4M1873 309h2.4M1881 316h2.4M1900 316h2.4M1869 294h2.4M1875 290h2.4M1883 287h2.4M1900 300h2.4M1898 293h2.4M1903 294h2.4M1890 285h2.4M1894 278h2.4M1900 287h2.4M1898 283h2.4M1904 281h2.4M1898 274h2.4M1868 271h2.4M1894 250h2.4M1898 246h2.4M1878 233h2.4M1878 229h2.4M1884 225h2.4M1873 221h2.4M1868 206h2.4M1878 184h2.4M1893 201h2.4M1898 201h2.4M1900 198h2.4M1899 169h2.4M1923 358h2.4M1921 343h2.4M1923 332h2.4M1910 308h2.4M1939 327h2.4M1939 300h2.4M1921 259h2.4M1924 245h2.4M1940 259h2.4M1928 245h2.4M1941 251h2.4M1923 237h2.4M1919 230h2.4M1928 233h2.4M1929 229h2.4M1911 161h2.4M1951 374h2.4M1959 374h2.4M1951 340h2.4M1951 294h2.4M1962 294h2.4M1951 283h2.4M1969 301h2.4M1971 284h2.4M1949 259h2.4M1968 242h2.4M1953 219h2.4M1949 211h2.4M1961 212h2.4M1989 357h2.4M1988 332h2.4M1998 323h2.4M1998 316h2.4M1999 307h2.4M1878 114h2.4M1907 115h2.4M1954 158h2.4M1967 180h2.4M1483 174h2.4M1591 143h2.4M1598 213h2.4M1647 243h2.4M1676 368h2.4M1726 374h2.4M1839 417h2.4M1823 415h2.4M1982 107h2.4M1982 171h2.4M1999 197h2.4M1996 213h2.4M2004 248h2.4M2008 283h2.4M2019 304h2.4M2022 322h2.4" stroke="#06fff9"/>
<path d="M1746 164h2.4M1776 213h2.4M1779 218h2.4M1771 185h2.4M1806 241h2.4M1820 246h2.4M1796 237h2.4M1806 238h2.4M1802 225h2.4M1826 229h2.4M1834 254h2.4M1853 258h2.4M1860 261h2.4M1861 241h2.4M1829 229h2.4M1878 261h2.4M1883 262h2.4" stroke="#98ff67"/>
<path d="M1677 302h2.4M1676 234h2.4M1715 333h2.4M1736 293h2.4M1714 235h2.4M1721 237h2.4M1731 238h2.4M1773 331h2.4M1757 289h2.4M1765 290h2.4M1757 285h2.4M1757 281h2.4M1775 290h2.4M1781 274h2.4M1812 382h2.4M1794 350h2.4M1814 349h2.4M1790 274h2.4M1791 253h2.4M1792 249h2.4M1820 217h2.4M1820 200h2.4M1825 193h2.4M1823 136h2.4M1835 375h2.4M1862 388h2.4M1860 373h2.4M1862 366h2.4M1844 319h2.4M1854 331h2.4M1860 324h2.4M1842 276h2.4M1829 216h2.4M1844 209h2.4M1864 224h2.4M1834 193h2.4M1846 206h2.4M1839 192h2.4M1851 204h2.4M1854 204h2.4M1853 199h2.4M1863 204h2.4M1832 163h2.4M1893 376h2.4M1893 348h2.4M1874 315h2.4M1870 301h2.4M1870 290h2.4M1868 286h2.4M1870 274h2.4M1874 232h2.4M1871 220h2.4M1871 176h2.4M1872 147h2.4M1891 163h2.4M1903 162h2.4M1909 358h2.4M1909 348h2.4M1941 357h2.4M1940 315h2.4M1930 275h2.4M1915 262h2.4M1915 229h2.4M1933 233h2.4M1982 372h2.4M1959 364h2.4M1980 364h2.4M1979 285h2.4M2000 359h2.4M1988 325h2.4M1990 300h2.4M1998 285h2.4M1891 144h2.4M1895 116h2.4M1894 107h2.4M1939 118h2.4M1625 266h2.4M1663 342h2.4M1827 430h2.4M1787 412h2.4M2004 259h2.4M2008 359h2.4M2004 372h2.4" stroke="#00f5ff"/>
<path d="M1775 216h2.4M1815 242h2.4M1790 230h2.4M1795 221h2.4M1819 230h2.4M1841 253h2.4M1879 255h2.4M1889 266h2.4" stroke="#a8ff57"/>
<path d="M1683 310h2.4M1687 302h2.4M1683 252h2.4M1707 253h2.4M1781 302h2.4M1772 240h2.4M1811 372h2.4M1823 381h2.4M1813 358h2.4M1825 367h2.4M1824 217h2.4M1821 208h2.4M1826 199h2.4M1844 390h2.4M1851 381h2.4M1853 375h2.4M1833 366h2.4M1832 341h2.4M1850 324h2.4M1863 307h2.4M1840 296h2.4M1845 294h2.4M1844 290h2.4M1854 294h2.4M1854 290h2.4M1859 291h2.4M1836 216h2.4M1830 213h2.4M1834 196h2.4M1839 196h2.4M1894 383h2.4M1872 358h2.4M1882 359h2.4M1881 349h2.4M1889 366h2.4M1891 341h2.4M1903 309h2.4M1904 204h2.4M1905 201h2.4M1882 144h2.4M1940 364h2.4M1940 343h2.4M1912 315h2.4M1933 334h2.4M1941 292h2.4M1943 284h2.4M1942 277h2.4M1939 269h2.4M1918 225h2.4M1928 237h2.4M1913 176h2.4M1950 307h2.4M1960 300h2.4M1989 294h2.4M1882 106h2.4M1966 144h2.4M1588 252h2.4M1796 434h2.4M1875 81h2.4M1976 185h2.4" stroke="#00e5ff"/>
<path d="M1786 225h2.4M1786 220h2.4M1810 240h2.4M1791 233h2.4M1811 226h2.4M1816 229h2.4M1831 250h2.4M1850 257h2.4M1860 257h2.4M1863 247h2.4M1875 261h2.4" stroke="#b8ff47"/>
<path d="M1823 342h2.4M1815 208h2.4M1825 212h2.4M1826 197h2.4M1833 382h2.4M1841 357h2.4M1841 298h2.4M1844 299h2.4M1832 276h2.4M1850 289h2.4M1830 204h2.4M1834 201h2.4M1839 200h2.4M1844 201h2.4M1844 196h2.4M1869 372h2.4M1892 356h2.4M1910 376h2.4M1921 372h2.4M1933 372h2.4M1943 374h2.4M1950 368h2.4" stroke="#00d4ff"/>
<path d="M1791 225h2.4M1802 237h2.4M1804 229h2.4M1846 255h2.4M1865 257h2.4M1836 234h2.4M1870 250h2.4" stroke="#c8ff37"/>
<path d="M1841 205h2.4M1941 384h2.4M1912 368h2.4M1808 415h2.4" stroke="#00c4ff"/>
<path d="M1795 225h2.4M1804 233h2.4M1802 229h2.4M1851 254h2.4M1864 250h2.4M1858 245h2.4M1841 237h2.4M1876 257h2.4M1870 255h2.4" stroke="#d9ff26"/>
<path d="M1820 212h2.4M1826 208h2.4M1829 201h2.4M1834 204h2.4M1889 390h2.4M1921 380h2.4" stroke="#00b4ff"/>
<path d="M1825 244h2.4M1800 232h2.4M1810 237h2.4M1816 233h2.4M1820 232h2.4M1851 242h2.4M1869 257h2.4M1873 255h2.4" stroke="#e9ff16"/>
<path d="M1826 206h2.4M1872 389h2.4M1902 382h2.4" stroke="#00a4ff"/>
<path d="M1821 241h2.4M1825 234h2.4M1840 249h2.4" stroke="#f9ff06"/>
<path d="M1880 384h2.4" stroke="#0094ff"/>
<path d="M1810 233h2.4M1821 238h2.4M1834 249h2.4M1844 249h2.4M1854 245h2.4M1859 254h2.4" stroke="#fff500"/>
<path d="M1881 391h2.4M1901 390h2.4" stroke="#0084ff"/>
<path d="M1830 244h2.4M1840 241h2.4M1855 248h2.4M1859 249h2.4" stroke="#ffe500"/>
<path d="M1825 240h2.4M1849 250h2.4M1849 245h2.4M1829 234h2.4M1834 238h2.4" stroke="#ffd500"/>
<path d="M1836 245h2.4M1844 245h2.4" stroke="#ffc400"/>
<path d="M1831 243h2.4M1835 241h2.4" stroke="#ffb400"/>
<path d="M334 735h2.4M363 886h2.4M362 869h2.4M409 901h2.4M441 910h2.4M419 711h2.4M430 713h2.4M477 871h2.4M467 813h2.4M472 817h2.4M462 809h2.4M461 805h2.4M457 797h2.4M457 785h2.4M461 773h2.4M466 773h2.4M467 764h2.4M487 742h2.4M467 710h2.4M491 719h2.4M480 713h2.4M500 911h2.4M499 903h2.4M508 887h2.4M509 849h2.4M495 832h2.4M529 752h2.4M506 719h2.4M597 845h2.4M595 800h2.4M603 792h2.4M604 776h2.4M576 760h2.4M576 753h2.4M344 649h2.4M296 702h2.4M169 749h2.4M235 949h2.4M324 931h2.4M598 877h2.4M632 702h2.4M459 662h2.4M479 665h2.4M496 926h2.4M387 941h2.4" stroke="#47ffb8"/>
<path d="M354 869h2.4M419 720h2.4M429 705h2.4M438 719h2.4M450 721h2.4M429 695h2.4M440 696h2.4M438 690h2.4M468 887h2.4M457 778h2.4M461 778h2.4M467 777h2.4M472 765h2.4M492 753h2.4M482 741h2.4M467 718h2.4M459 703h2.4M478 703h2.4M510 902h2.4M529 880h2.4M519 864h2.4M507 844h2.4M501 840h2.4M527 855h2.4M510 750h2.4M528 744h2.4M500 727h2.4M498 720h2.4M508 729h2.4M556 872h2.4M547 854h2.4M597 832h2.4M605 815h2.4M597 807h2.4M604 781h2.4M603 766h2.4M207 662h2.4M588 664h2.4M611 669h2.4M256 768h2.4M262 794h2.4M265 733h2.4M357 906h2.4M369 931h2.4M438 965h2.4M440 983h2.4M472 969h2.4M596 900h2.4M611 741h2.4M618 760h2.4M516 660h2.4M427 926h2.4M479 926h2.4M495 941h2.4" stroke="#57ffa8"/>
<path d="M325 751h2.4M332 742h2.4M353 880h2.4M342 871h2.4M360 863h2.4M383 902h2.4M403 887h2.4M409 688h2.4M418 911h2.4M442 702h2.4M451 705h2.4M431 687h2.4M471 911h2.4M469 904h2.4M469 893h2.4M491 909h2.4M488 900h2.4M490 896h2.4M476 828h2.4M485 833h2.4M462 814h2.4M472 822h2.4M456 801h2.4M456 773h2.4M462 770h2.4M466 769h2.4M460 735h2.4M476 741h2.4M480 734h2.4M461 722h2.4M487 728h2.4M488 714h2.4M468 697h2.4M488 696h2.4M517 904h2.4M497 887h2.4M506 864h2.4M520 877h2.4M520 869h2.4M525 871h2.4M505 849h2.4M505 749h2.4M496 736h2.4M509 737h2.4M510 714h2.4M535 744h2.4M567 745h2.4M216 608h2.4M315 617h2.4M404 640h2.4M441 644h2.4M162 844h2.4M204 845h2.4M288 725h2.4M255 835h2.4M291 865h2.4M157 920h2.4M391 960h2.4M391 659h2.4M426 662h2.4M501 676h2.4M389 925h2.4" stroke="#37ffc8"/>
<path d="M428 718h2.4M482 828h2.4M457 789h2.4M457 781h2.4M462 785h2.4M470 777h2.4M471 769h2.4M477 749h2.4M491 761h2.4M492 758h2.4M490 750h2.4M477 745h2.4M491 745h2.4M490 741h2.4M458 711h2.4M491 706h2.4M508 877h2.4M528 862h2.4M502 837h2.4M501 833h2.4M509 841h2.4M497 757h2.4M494 750h2.4M502 753h2.4M517 758h2.4M520 749h2.4M529 736h2.4M537 862h2.4M557 863h2.4M566 862h2.4M538 856h2.4M565 751h2.4M585 847h2.4M603 839h2.4M607 830h2.4M606 806h2.4M604 799h2.4M594 791h2.4M584 759h2.4M584 750h2.4M271 615h2.4M262 698h2.4M203 780h2.4M166 798h2.4M283 953h2.4M344 904h2.4M589 877h2.4M630 724h2.4M621 772h2.4M616 794h2.4M613 831h2.4M407 676h2.4M443 675h2.4M476 679h2.4" stroke="#67ff98"/>
<path d="M325 846h2.4M313 816h2.4M323 784h2.4M321 760h2.4M321 744h2.4M361 877h2.4M374 870h2.4M372 864h2.4M361 855h2.4M361 839h2.4M360 833h2.4M343 726h2.4M403 904h2.4M413 895h2.4M392 887h2.4M391 880h2.4M410 885h2.4M450 911h2.4M442 903h2.4M447 901h2.4M450 894h2.4M438 861h2.4M424 856h2.4M452 785h2.4M451 774h2.4M430 726h2.4M438 729h2.4M439 713h2.4M450 710h2.4M418 696h2.4M451 694h2.4M451 688h2.4M477 910h2.4M479 901h2.4M479 895h2.4M467 879h2.4M467 872h2.4M490 869h2.4M481 833h2.4M490 833h2.4M457 769h2.4M467 745h2.4M491 734h2.4M470 726h2.4M467 705h2.4M480 695h2.4M509 911h2.4M498 893h2.4M520 909h2.4M497 880h2.4M505 870h2.4M508 856h2.4M496 841h2.4M497 837h2.4M519 853h2.4M506 742h2.4M577 743h2.4M546 672h2.4M286 742h2.4M298 764h2.4M304 837h2.4M318 906h2.4M372 906h2.4M397 979h2.4M410 659h2.4M501 659h2.4M462 676h2.4M516 676h2.4M439 944h2.4M460 940h2.4M511 943h2.4" stroke="#26ffd9"/>
<path d="M461 801h2.4M462 796h2.4M462 793h2.4M461 781h2.4M475 769h2.4M477 761h2.4M487 757h2.4M486 753h2.4M482 745h2.4M509 845h2.4M516 840h2.4M495 761h2.4M496 753h2.4M499 749h2.4M510 754h2.4M530 759h2.4M525 726h2.4M536 872h2.4M559 849h2.4M566 846h2.4M546 752h2.4M536 736h2.4M545 744h2.4M558 742h2.4M557 736h2.4M578 861h2.4M597 837h2.4M596 821h2.4M595 768h2.4M270 900h2.4M211 919h2.4M470 986h2.4M614 814h2.4" stroke="#77ff88"/>
<path d="M313 791h2.4M313 784h2.4M333 789h2.4M332 750h2.4M371 895h2.4M345 862h2.4M352 862h2.4M373 877h2.4M344 855h2.4M353 839h2.4M372 854h2.4M350 734h2.4M353 729h2.4M371 729h2.4M372 710h2.4M372 704h2.4M409 912h2.4M399 892h2.4M412 879h2.4M384 853h2.4M380 718h2.4M391 710h2.4M411 718h2.4M383 697h2.4M429 910h2.4M420 893h2.4M420 886h2.4M421 861h2.4M431 862h2.4M439 870h2.4M450 870h2.4M419 857h2.4M427 856h2.4M434 856h2.4M437 852h2.4M453 796h2.4M452 792h2.4M452 780h2.4M452 777h2.4M434 757h2.4M428 753h2.4M431 749h2.4M428 742h2.4M436 762h2.4M451 727h2.4M461 910h2.4M457 894h2.4M458 808h2.4M461 766h2.4M462 749h2.4M458 727h2.4M478 718h2.4M458 688h2.4M509 894h2.4M501 849h2.4M515 743h2.4M275 652h2.4M475 646h2.4M585 645h2.4M287 820h2.4M347 957h2.4M496 988h2.4M576 906h2.4M611 698h2.4M389 680h2.4M439 925h2.4M511 924h2.4M409 940h2.4" stroke="#16ffe9"/>
<path d="M492 828h2.4M472 812h2.4M477 821h2.4M457 793h2.4M467 782h2.4M471 773h2.4M477 766h2.4M480 753h2.4M485 761h2.4M485 747h2.4M519 846h2.4M519 840h2.4M519 729h2.4M519 720h2.4M546 871h2.4M547 863h2.4M556 856h2.4M565 840h2.4M536 752h2.4M548 735h2.4M554 751h2.4M574 846h2.4M584 854h2.4M586 840h2.4M595 774h2.4M594 760h2.4M612 792h2.4" stroke="#88ff77"/>
<path d="M333 848h2.4M321 837h2.4M316 821h2.4M314 808h2.4M311 800h2.4M323 823h2.4M322 766h2.4M369 885h2.4M351 856h2.4M345 839h2.4M343 831h2.4M351 829h2.4M362 848h2.4M372 846h2.4M360 829h2.4M342 809h2.4M351 808h2.4M341 743h2.4M343 735h2.4M391 908h2.4M393 901h2.4M393 893h2.4M402 911h2.4M382 887h2.4M382 877h2.4M394 861h2.4M403 872h2.4M401 861h2.4M379 849h2.4M392 853h2.4M414 745h2.4M400 710h2.4M403 688h2.4M419 879h2.4M429 872h2.4M438 878h2.4M448 886h2.4M451 862h2.4M417 852h2.4M428 853h2.4M432 853h2.4M442 857h2.4M438 849h2.4M452 805h2.4M433 766h2.4M453 789h2.4M448 767h2.4M429 758h2.4M426 749h2.4M417 744h2.4M417 741h2.4M427 746h2.4M434 742h2.4M438 753h2.4M438 750h2.4M438 741h2.4M441 741h2.4M451 736h2.4M457 903h2.4M487 863h2.4M471 829h2.4M486 857h2.4M485 837h2.4M492 840h2.4M455 759h2.4M461 757h2.4M470 758h2.4M468 750h2.4M480 729h2.4M460 696h2.4M515 893h2.4M497 870h2.4M497 845h2.4M504 651h2.4M368 698h2.4M198 720h2.4M304 723h2.4M285 841h2.4M257 865h2.4M500 964h2.4M446 659h2.4M480 941h2.4" stroke="#06fff9"/>
<path d="M462 788h2.4M466 788h2.4M482 764h2.4M485 765h2.4M480 761h2.4M524 833h2.4M496 765h2.4M510 761h2.4M565 854h2.4M568 783h2.4M566 757h2.4M586 831h2.4M597 814h2.4M615 806h2.4M615 798h2.4" stroke="#98ff67"/>
<path d="M322 807h2.4M333 801h2.4M322 791h2.4M332 768h2.4M354 824h2.4M341 798h2.4M360 825h2.4M343 759h2.4M342 750h2.4M364 735h2.4M360 720h2.4M381 863h2.4M399 857h2.4M399 853h2.4M403 856h2.4M392 748h2.4M398 745h2.4M399 741h2.4M408 741h2.4M413 742h2.4M381 728h2.4M394 719h2.4M381 711h2.4M379 704h2.4M393 705h2.4M401 728h2.4M432 904h2.4M440 887h2.4M428 848h2.4M433 849h2.4M433 845h2.4M436 858h2.4M447 855h2.4M426 772h2.4M442 772h2.4M443 768h2.4M446 772h2.4M417 750h2.4M421 749h2.4M423 746h2.4M430 737h2.4M436 756h2.4M438 745h2.4M438 736h2.4M458 878h2.4M479 888h2.4M490 886h2.4M487 880h2.4M476 857h2.4M482 856h2.4M490 849h2.4M490 846h2.4M480 837h2.4M462 821h2.4M458 814h2.4M467 825h2.4M471 825h2.4M456 765h2.4M458 761h2.4M461 742h2.4M499 863h2.4M495 848h2.4M330 701h2.4M559 964h2.4M463 924h2.4" stroke="#00f5ff"/>
<path d="M482 824h2.4M477 773h2.4M489 765h2.4M507 836h2.4M510 837h2.4M519 833h2.4M529 833h2.4M500 757h2.4M506 757h2.4M504 753h2.4M518 734h2.4M544 837h2.4M556 838h2.4M567 832h2.4M549 825h2.4M565 822h2.4M546 758h2.4M576 854h2.4M576 829h2.4M574 821h2.4M585 799h2.4M584 790h2.4M577 774h2.4M574 768h2.4M595 785h2.4" stroke="#a8ff57"/>
<path d="M334 862h2.4M333 854h2.4M324 831h2.4M335 841h2.4M324 801h2.4M311 775h2.4M335 784h2.4M330 776h2.4M311 759h2.4M342 847h2.4M353 846h2.4M369 841h2.4M369 837h2.4M374 841h2.4M350 825h2.4M374 807h2.4M344 782h2.4M341 768h2.4M370 784h2.4M352 751h2.4M361 742h2.4M372 734h2.4M364 727h2.4M382 871h2.4M392 870h2.4M413 869h2.4M378 845h2.4M393 849h2.4M402 852h2.4M399 849h2.4M398 751h2.4M399 718h2.4M393 697h2.4M412 697h2.4M422 903h2.4M438 893h2.4M428 877h2.4M422 852h2.4M424 849h2.4M432 840h2.4M442 848h2.4M451 801h2.4M428 768h2.4M433 770h2.4M446 782h2.4M437 772h2.4M446 777h2.4M422 760h2.4M431 762h2.4M419 734h2.4M442 762h2.4M443 757h2.4M458 869h2.4M469 862h2.4M479 879h2.4M468 830h2.4M491 857h2.4M458 817h2.4M461 818h2.4M456 806h2.4M462 761h2.4M458 753h2.4M462 753h2.4M296 797h2.4M409 924h2.4M426 943h2.4" stroke="#00e5ff"/>
<path d="M467 804h2.4M485 826h2.4M465 794h2.4M468 786h2.4M471 781h2.4M528 845h2.4M519 836h2.4M496 769h2.4M510 756h2.4M544 831h2.4M549 816h2.4M565 791h2.4M556 760h2.4M574 817h2.4M587 824h2.4M577 798h2.4M575 792h2.4" stroke="#b8ff47"/>
<path d="M321 855h2.4M323 815h2.4M334 821h2.4M332 807h2.4M314 769h2.4M333 759h2.4M365 832h2.4M370 821h2.4M374 799h2.4M340 792h2.4M372 792h2.4M361 767h2.4M370 742h2.4M413 863h2.4M385 848h2.4M384 845h2.4M413 856h2.4M412 853h2.4M409 846h2.4M384 750h2.4M383 742h2.4M382 735h2.4M392 736h2.4M408 752h2.4M403 741h2.4M400 734h2.4M407 744h2.4M391 726h2.4M410 729h2.4M399 704h2.4M427 843h2.4M451 852h2.4M447 849h2.4M433 812h2.4M432 810h2.4M432 805h2.4M453 812h2.4M436 809h2.4M438 805h2.4M447 808h2.4M448 805h2.4M451 810h2.4M432 784h2.4M428 764h2.4M448 784h2.4M442 778h2.4M442 764h2.4M428 761h2.4M442 754h2.4M452 750h2.4M442 746h2.4M450 744h2.4M419 728h2.4M459 864h2.4M485 853h2.4M487 841h2.4M458 821h2.4M461 824h2.4M466 820h2.4" stroke="#00d4ff"/>
<path d="M472 809h2.4M467 797h2.4M481 821h2.4M477 817h2.4M487 770h2.4M500 829h2.4M505 832h2.4M515 833h2.4M528 841h2.4M530 825h2.4M505 761h2.4M539 845h2.4M548 846h2.4M539 833h2.4M567 798h2.4M539 782h2.4M547 783h2.4M545 767h2.4M555 790h2.4M559 774h2.4M564 776h2.4M537 758h2.4M576 840h2.4M583 813h2.4" stroke="#c8ff37"/>
<path d="M335 831h2.4M365 829h2.4M369 828h2.4M343 816h2.4M359 813h2.4M363 814h2.4M370 813h2.4M375 817h2.4M351 789h2.4M353 775h2.4M372 775h2.4M370 764h2.4M373 769h2.4M354 760h2.4M361 758h2.4M360 750h2.4M375 758h2.4M384 895h2.4M389 845h2.4M379 837h2.4M383 840h2.4M398 845h2.4M408 856h2.4M412 848h2.4M414 845h2.4M408 832h2.4M379 817h2.4M395 770h2.4M400 769h2.4M394 752h2.4M394 745h2.4M397 754h2.4M405 753h2.4M403 748h2.4M404 747h2.4M410 735h2.4M419 845h2.4M438 844h2.4M443 844h2.4M448 852h2.4M451 856h2.4M437 841h2.4M441 840h2.4M427 822h2.4M433 820h2.4M432 817h2.4M437 812h2.4M453 817h2.4M444 808h2.4M442 804h2.4M436 797h2.4M443 801h2.4M431 794h2.4M432 789h2.4M432 781h2.4M419 774h2.4M419 764h2.4M422 768h2.4M428 777h2.4M432 776h2.4M439 788h2.4M437 786h2.4M422 758h2.4M419 753h2.4M422 753h2.4M443 750h2.4M450 760h2.4M469 855h2.4M466 833h2.4M481 845h2.4M485 850h2.4M477 840h2.4" stroke="#00c4ff"/>
<path d="M468 801h2.4M485 820h2.4M470 786h2.4M483 770h2.4M490 770h2.4M497 828h2.4M530 828h2.4M501 765h2.4M524 774h2.4M526 767h2.4M501 761h2.4M535 825h2.4M539 824h2.4M539 820h2.4M539 813h2.4M546 808h2.4M566 809h2.4M540 789h2.4M539 773h2.4M578 808h2.4M584 783h2.4" stroke="#d9ff26"/>
<path d="M349 814h2.4M354 812h2.4M351 801h2.4M355 801h2.4M360 820h2.4M365 818h2.4M363 805h2.4M350 783h2.4M364 784h2.4M370 770h2.4M389 848h2.4M394 845h2.4M388 840h2.4M389 837h2.4M395 841h2.4M412 836h2.4M379 814h2.4M385 812h2.4M392 818h2.4M393 813h2.4M380 807h2.4M378 777h2.4M395 778h2.4M393 773h2.4M399 777h2.4M399 773h2.4M397 765h2.4M414 777h2.4M379 750h2.4M389 761h2.4M401 760h2.4M412 759h2.4M417 848h2.4M418 838h2.4M427 840h2.4M431 836h2.4M432 832h2.4M446 844h2.4M453 845h2.4M447 841h2.4M428 810h2.4M429 802h2.4M432 801h2.4M436 801h2.4M447 798h2.4M422 776h2.4M424 774h2.4M417 769h2.4M441 786h2.4M448 790h2.4M461 856h2.4M456 841h2.4M481 848h2.4" stroke="#00b4ff"/>
<path d="M475 809h2.4M505 828h2.4M521 828h2.4M520 772h2.4M519 769h2.4M525 777h2.4M534 818h2.4M539 816h2.4M536 804h2.4M540 809h2.4M540 802h2.4M539 796h2.4M558 817h2.4M557 805h2.4M557 799h2.4M549 792h2.4M535 774h2.4M539 778h2.4M545 773h2.4M558 768h2.4M575 782h2.4" stroke="#e9ff16"/>
<path d="M375 837h2.4M343 822h2.4M351 821h2.4M353 820h2.4M351 817h2.4M366 825h2.4M361 816h2.4M368 825h2.4M371 818h2.4M374 813h2.4M353 767h2.4M361 792h2.4M361 773h2.4M375 766h2.4M353 744h2.4M369 762h2.4M374 762h2.4M372 750h2.4M383 833h2.4M384 828h2.4M403 846h2.4M400 836h2.4M403 836h2.4M402 834h2.4M414 840h2.4M379 825h2.4M378 822h2.4M389 821h2.4M380 800h2.4M388 810h2.4M394 808h2.4M393 805h2.4M394 781h2.4M378 764h2.4M394 765h2.4M404 782h2.4M404 774h2.4M379 762h2.4M378 754h2.4M394 760h2.4M388 750h2.4M422 845h2.4M417 841h2.4M422 840h2.4M427 834h2.4M453 849h2.4M442 837h2.4M446 838h2.4M417 820h2.4M422 816h2.4M429 818h2.4M453 821h2.4M428 780h2.4M443 782h2.4M447 793h2.4M419 758h2.4M457 847h2.4M471 841h2.4M472 837h2.4" stroke="#00a4ff"/>
<path d="M482 816h2.4M476 778h2.4M511 832h2.4M517 830h2.4M525 828h2.4M501 769h2.4M511 773h2.4M508 766h2.4M530 784h2.4M529 777h2.4M536 782h2.4" stroke="#f9ff06"/>
<path d="M350 797h2.4M368 758h2.4M379 834h2.4M378 829h2.4M393 833h2.4M399 829h2.4M405 828h2.4M383 824h2.4M383 818h2.4M388 818h2.4M390 802h2.4M414 821h2.4M398 809h2.4M382 793h2.4M378 781h2.4M379 773h2.4M385 765h2.4M390 769h2.4M414 781h2.4M403 778h2.4M404 769h2.4M408 776h2.4M410 774h2.4M409 767h2.4M384 760h2.4M384 758h2.4M393 758h2.4M428 829h2.4M438 836h2.4M418 826h2.4M423 824h2.4M423 822h2.4M418 818h2.4M432 824h2.4M426 813h2.4M427 806h2.4M432 798h2.4M439 826h2.4M438 816h2.4M442 814h2.4M446 813h2.4M418 782h2.4M423 786h2.4M424 782h2.4M463 829h2.4M477 844h2.4" stroke="#0094ff"/>
<path d="M482 773h2.4M486 773h2.4M525 826h2.4M530 817h2.4M531 812h2.4M496 773h2.4M520 780h2.4M515 777h2.4M516 773h2.4M529 774h2.4M547 798h2.4M535 778h2.4" stroke="#fff500"/>
<path d="M373 828h2.4M355 797h2.4M349 793h2.4M354 789h2.4M388 833h2.4M409 829h2.4M414 834h2.4M393 820h2.4M388 804h2.4M395 802h2.4M399 825h2.4M403 825h2.4M398 816h2.4M398 813h2.4M402 818h2.4M409 825h2.4M408 821h2.4M412 824h2.4M399 804h2.4M399 802h2.4M388 790h2.4M384 773h2.4M409 784h2.4M403 766h2.4M413 773h2.4M423 832h2.4M437 821h2.4M448 821h2.4M453 824h2.4M448 816h2.4M443 797h2.4M417 778h2.4M442 794h2.4M462 837h2.4M466 837h2.4" stroke="#0084ff"/>
<path d="M471 802h2.4M480 813h2.4M472 793h2.4M491 772h2.4M530 821h2.4M526 813h2.4M524 805h2.4M531 809h2.4M526 782h2.4M530 782h2.4M534 820h2.4M533 812h2.4M535 790h2.4M541 793h2.4M534 785h2.4" stroke="#ffe500"/>
<path d="M355 793h2.4M390 829h2.4M395 824h2.4M404 820h2.4M379 785h2.4M383 782h2.4M388 792h2.4M394 792h2.4M380 770h2.4M388 778h2.4M390 766h2.4M403 788h2.4M397 786h2.4M402 785h2.4M413 785h2.4M418 828h2.4M438 830h2.4M441 833h2.4M451 840h2.4M452 837h2.4M424 812h2.4M424 801h2.4M442 816h2.4M448 824h2.4M424 790h2.4M428 794h2.4M470 847h2.4M463 840h2.4M457 829h2.4M461 833h2.4M466 841h2.4" stroke="#0073ff"/>
<path d="M492 821h2.4M486 818h2.4M480 778h2.4M500 824h2.4M505 825h2.4M529 804h2.4M531 802h2.4M499 772h2.4M516 782h2.4M519 785h2.4" stroke="#ffd500"/>
<path d="M395 796h2.4M409 816h2.4M400 798h2.4M403 797h2.4M413 801h2.4M395 788h2.4M389 786h2.4M387 780h2.4M385 769h2.4M388 774h2.4M409 781h2.4M422 798h2.4M442 822h2.4M418 790h2.4M422 793h2.4M419 785h2.4M456 837h2.4" stroke="#0063ff"/>
<path d="M476 806h2.4M481 809h2.4M475 786h2.4M477 781h2.4M526 822h2.4M530 798h2.4M512 782h2.4M504 774h2.4M528 790h2.4" stroke="#ffc400"/>
<path d="M404 814h2.4M404 808h2.4M408 808h2.4M384 778h2.4M398 792h2.4M398 789h2.4M404 792h2.4M407 789h2.4M414 789h2.4M446 833h2.4M418 812h2.4M424 805h2.4M419 800h2.4" stroke="#0053ff"/>
<path d="M473 790h2.4M521 825h2.4M519 804h2.4M524 808h2.4M506 777h2.4M535 797h2.4" stroke="#ffb400"/>
<path d="M409 814h2.4M412 812h2.4M414 805h2.4M408 801h2.4M384 785h2.4M451 832h2.4M419 805h2.4M423 809h2.4M443 825h2.4M419 794h2.4M457 832h2.4" stroke="#0043ff"/>
<path d="M481 781h2.4M485 778h2.4M521 818h2.4M521 808h2.4M526 797h2.4M509 777h2.4M515 786h2.4M529 793h2.4" stroke="#ffa400"/>
<path d="M407 806h2.4M408 796h2.4M414 797h2.4M409 793h2.4M413 793h2.4M419 809h2.4" stroke="#0033ff"/>
<path d="M490 777h2.4M514 825h2.4M520 813h2.4M519 801h2.4M525 792h2.4" stroke="#ff9400"/>
<path d="M485 812h2.4M491 817h2.4M480 805h2.4M477 800h2.4M476 797h2.4M501 821h2.4M511 826h2.4M497 778h2.4M501 777h2.4M522 790h2.4" stroke="#ff8400"/>
<path d="M477 793h2.4M519 820h2.4M500 780h2.4" stroke="#ff7300"/>
<path d="M487 781h2.4M497 820h2.4M515 806h2.4M504 782h2.4M509 784h2.4" stroke="#ff6300"/>
<path d="M491 782h2.4M511 821h2.4M516 797h2.4M515 792h2.4M515 789h2.4" stroke="#ff5300"/>
<path d="M491 812h2.4M485 808h2.4M480 785h2.4M497 818h2.4M506 820h2.4" stroke="#ff4300"/>
<path d="M516 813h2.4M516 800h2.4M509 788h2.4" stroke="#ff3300"/>
<path d="M487 784h2.4M495 814h2.4M515 820h2.4M516 817h2.4M514 810h2.4" stroke="#ff2200"/>
<path d="M481 793h2.4M490 785h2.4M511 817h2.4" stroke="#ff1200"/>
<path d="M500 784h2.4M506 786h2.4" stroke="#ff0200"/>
<path d="M511 804h2.4M496 786h2.4M506 790h2.4M509 794h2.4" stroke="#f10000"/>
<path d="M511 810h2.4M507 792h2.4" stroke="#e10000"/>
<path d="M510 813h2.4M509 800h2.4M509 797h2.4" stroke="#d00000"/>
<path d="M506 814h2.4M507 801h2.4M502 790h2.4" stroke="#c00000"/>
<path d="M486 790h2.4" stroke="#b00000"/>
<path d="M487 801h2.4M485 796h2.4M501 813h2.4M500 810h2.4M497 789h2.4" stroke="#a00000"/>
<path d="M497 808h2.4" stroke="#900000"/>
<path d="M491 797h2.4M501 804h2.4M497 801h2.4M496 796h2.4M501 800h2.4M500 798h2.4M505 809h2.4M504 805h2.4M495 794h2.4M499 794h2.4" stroke="#800000"/>
<path d="M1016 846h2.4M1025 854h2.4M1006 808h2.4M1014 823h2.4M1005 791h2.4M1005 783h2.4M1015 784h2.4M1022 776h2.4M1037 862h2.4M1065 877h2.4M1054 869h2.4M1052 863h2.4M1065 870h2.4M1064 864h2.4M1035 855h2.4M1034 847h2.4M1042 856h2.4M1063 854h2.4M1043 750h2.4M1064 734h2.4M1091 892h2.4M1104 895h2.4M1074 877h2.4M1074 871h2.4M1073 863h2.4M1083 870h2.4M1071 750h2.4M1075 742h2.4M1085 745h2.4M1090 745h2.4M1095 746h2.4M1113 903h2.4M1123 904h2.4M1132 910h2.4M1133 903h2.4M1139 901h2.4M1141 894h2.4M1131 887h2.4M1139 886h2.4M1162 911h2.4M1168 910h2.4M1170 895h2.4M1179 900h2.4M1181 896h2.4M1160 887h2.4M1159 879h2.4M1170 888h2.4M1179 879h2.4M1192 911h2.4M1201 902h2.4M1200 894h2.4M1207 892h2.4M1188 887h2.4M1188 880h2.4M1199 877h2.4M1197 870h2.4M1211 869h2.4M1210 864h2.4M988 797h2.4M996 837h2.4" stroke="#47ffb8"/>
<path d="M1025 862h2.4M1013 855h2.4M1024 848h2.4M1013 837h2.4M1016 831h2.4M1026 840h2.4M1008 821h2.4M1005 816h2.4M1003 800h2.4M1003 775h2.4M1006 769h2.4M1013 766h2.4M1025 759h2.4M1023 749h2.4M1062 895h2.4M1045 880h2.4M1046 868h2.4M1055 886h2.4M1053 877h2.4M1061 885h2.4M1035 759h2.4M1034 749h2.4M1033 743h2.4M1052 742h2.4M1063 729h2.4M1084 893h2.4M1095 903h2.4M1101 901h2.4M1074 887h2.4M1090 741h2.4M1094 741h2.4M1121 909h2.4M1142 911h2.4M1129 893h2.4M1128 772h2.4M1133 778h2.4M1153 910h2.4M1149 903h2.4M1182 909h2.4M1200 911h2.4M1190 903h2.4M1189 893h2.4M1199 887h2.4M1211 877h2.4M1220 880h2.4M1217 871h2.4M977 841h2.4M1170 926h2.4" stroke="#57ffa8"/>
<path d="M1015 815h2.4M1014 807h2.4M1016 800h2.4M1014 790h2.4M1024 789h2.4M1027 784h2.4M1024 768h2.4M1044 862h2.4M1045 845h2.4M1036 839h2.4M1034 831h2.4M1063 846h2.4M1033 767h2.4M1044 767h2.4M1046 760h2.4M1052 750h2.4M1064 750h2.4M1062 742h2.4M1084 887h2.4M1082 880h2.4M1085 861h2.4M1094 887h2.4M1101 884h2.4M1103 879h2.4M1095 872h2.4M1105 869h2.4M1071 849h2.4M1070 845h2.4M1076 848h2.4M1070 754h2.4M1076 749h2.4M1079 750h2.4M1086 752h2.4M1084 748h2.4M1089 754h2.4M1090 750h2.4M1095 748h2.4M1111 893h2.4M1111 886h2.4M1111 879h2.4M1120 877h2.4M1121 872h2.4M1129 878h2.4M1142 870h2.4M1143 862h2.4M1133 857h2.4M1139 855h2.4M1119 764h2.4M1125 770h2.4M1148 894h2.4M1160 904h2.4M1170 901h2.4M1158 871h2.4M1170 879h2.4M1181 886h2.4M1181 869h2.4M1188 870h2.4M1198 864h2.4M1199 856h2.4M1196 849h2.4" stroke="#37ffc8"/>
<path d="M1003 759h2.4M1013 760h2.4M1017 751h2.4M1013 744h2.4M1024 742h2.4M1034 871h2.4M1045 744h2.4M1042 734h2.4M1056 735h2.4M1034 726h2.4M1045 729h2.4M1055 727h2.4M1082 908h2.4M1074 902h2.4M1075 895h2.4M1084 901h2.4M1093 911h2.4M1100 911h2.4M1074 734h2.4M1083 735h2.4M1099 744h2.4M1073 728h2.4M1110 910h2.4M1114 757h2.4M1110 753h2.4M1211 908h2.4M1208 904h2.4M979 725h2.4M996 723h2.4M979 819h2.4M849 920h2.4M1016 931h2.4M1048 906h2.4M1064 906h2.4M1089 979h2.4M1129 965h2.4M1163 969h2.4M1081 925h2.4M1119 926h2.4M1131 925h2.4M1187 926h2.4M1171 941h2.4" stroke="#67ff98"/>
<path d="M1027 831h2.4M1026 821h2.4M1024 807h2.4M1025 801h2.4M1045 839h2.4M1043 829h2.4M1053 855h2.4M1053 848h2.4M1052 839h2.4M1066 841h2.4M1035 822h2.4M1041 825h2.4M1042 821h2.4M1032 792h2.4M1035 782h2.4M1042 783h2.4M1045 775h2.4M1053 766h2.4M1062 764h2.4M1053 757h2.4M1060 762h2.4M1060 758h2.4M1092 861h2.4M1104 863h2.4M1075 853h2.4M1084 852h2.4M1081 848h2.4M1075 839h2.4M1090 857h2.4M1091 853h2.4M1099 856h2.4M1104 855h2.4M1076 760h2.4M1081 760h2.4M1085 758h2.4M1096 753h2.4M1099 752h2.4M1112 861h2.4M1122 862h2.4M1130 870h2.4M1129 861h2.4M1127 857h2.4M1139 852h2.4M1142 856h2.4M1142 851h2.4M1110 758h2.4M1113 760h2.4M1160 893h2.4M1149 877h2.4M1149 869h2.4M1150 864h2.4M1168 871h2.4M1176 826h2.4M1190 863h2.4M1188 844h2.4M1192 849h2.4M1187 841h2.4" stroke="#26ffd9"/>
<path d="M1026 735h2.4M1034 735h2.4M1051 720h2.4M1064 710h2.4M1071 718h2.4M1071 703h2.4M1094 688h2.4M1140 784h2.4M1137 782h2.4M1109 750h2.4M1119 760h2.4M1201 849h2.4M1188 836h2.4M1227 872h2.4M1247 872h2.4M1295 776h2.4M1285 760h2.4M908 608h2.4M963 614h2.4M1096 640h2.4M1166 646h2.4M1301 669h2.4M1237 671h2.4M954 698h2.4M1060 698h2.4M890 719h2.4M861 749h2.4M895 779h2.4M896 845h2.4M954 794h2.4M957 733h2.4M990 764h2.4M947 835h2.4M949 864h2.4M983 864h2.4M927 949h2.4M975 953h2.4M1010 906h2.4M1036 903h2.4M1060 931h2.4M1082 960h2.4M1131 983h2.4M1161 986h2.4M1187 988h2.4M1267 906h2.4M1287 899h2.4M1301 698h2.4M1323 702h2.4M1309 760h2.4M1083 659h2.4M1151 662h2.4M1099 676h2.4M1134 674h2.4M1207 676h2.4M1100 924h2.4M1155 924h2.4M1202 924h2.4M1100 940h2.4M1117 943h2.4M1131 944h2.4M1152 940h2.4M1186 941h2.4" stroke="#77ff88"/>
<path d="M1052 833h2.4M1056 832h2.4M1061 841h2.4M1060 837h2.4M1067 837h2.4M1035 816h2.4M1046 824h2.4M1045 820h2.4M1041 813h2.4M1046 812h2.4M1033 809h2.4M1033 798h2.4M1042 801h2.4M1042 797h2.4M1046 801h2.4M1051 820h2.4M1041 793h2.4M1043 789h2.4M1046 789h2.4M1053 773h2.4M1061 770h2.4M1065 769h2.4M1067 766h2.4M1065 762h2.4M1067 757h2.4M1076 845h2.4M1080 845h2.4M1084 849h2.4M1086 845h2.4M1071 837h2.4M1079 839h2.4M1081 836h2.4M1095 856h2.4M1094 851h2.4M1091 849h2.4M1095 845h2.4M1103 853h2.4M1100 845h2.4M1104 848h2.4M1072 770h2.4M1070 764h2.4M1077 768h2.4M1071 762h2.4M1075 757h2.4M1086 760h2.4M1110 857h2.4M1109 852h2.4M1116 856h2.4M1113 852h2.4M1119 856h2.4M1119 853h2.4M1125 856h2.4M1123 852h2.4M1124 849h2.4M1128 852h2.4M1129 849h2.4M1138 849h2.4M1161 862h2.4M1178 863h2.4M1153 856h2.4" stroke="#16ffe9"/>
<path d="M1064 703h2.4M1092 734h2.4M1100 741h2.4M1105 744h2.4M1083 726h2.4M1073 710h2.4M1082 710h2.4M1085 704h2.4M1090 718h2.4M1102 718h2.4M1092 710h2.4M1090 704h2.4M1074 696h2.4M1085 697h2.4M1103 697h2.4M1101 687h2.4M1144 788h2.4M1113 753h2.4M1108 744h2.4M1120 695h2.4M1122 687h2.4M1142 688h2.4M1149 687h2.4M1237 871h2.4M1248 863h2.4M1269 861h2.4M1294 838h2.4M1298 830h2.4M1294 781h2.4M1286 774h2.4M1294 765h2.4M1275 750h2.4M1306 797h2.4M1303 792h2.4M1007 617h2.4M899 662h2.4M967 652h2.4M1036 649h2.4M1133 644h2.4M1195 650h2.4M1276 645h2.4M1278 664h2.4M988 702h2.4M1021 701h2.4M858 798h2.4M854 843h2.4M948 768h2.4M978 742h2.4M962 900h2.4M904 918h2.4M1039 957h2.4M1191 964h2.4M1250 964h2.4M1280 877h2.4M1288 877h2.4M1321 724h2.4M1302 741h2.4M1312 772h2.4M1307 794h2.4M1305 814h2.4M1303 831h2.4M1101 659h2.4M1117 661h2.4M1170 665h2.4M1192 659h2.4M1207 660h2.4M1154 676h2.4M1168 679h2.4M1192 676h2.4M1078 941h2.4M1202 943h2.4" stroke="#88ff77"/>
<path d="M1052 829h2.4M1057 829h2.4M1061 828h2.4M1065 828h2.4M1042 817h2.4M1042 808h2.4M1046 797h2.4M1052 825h2.4M1053 816h2.4M1055 814h2.4M1061 820h2.4M1054 805h2.4M1047 793h2.4M1053 792h2.4M1056 784h2.4M1062 784h2.4M1063 774h2.4M1071 833h2.4M1070 829h2.4M1075 833h2.4M1087 841h2.4M1080 832h2.4M1084 833h2.4M1089 845h2.4M1106 845h2.4M1105 840h2.4M1071 773h2.4M1075 773h2.4M1076 765h2.4M1081 769h2.4M1081 766h2.4M1092 760h2.4M1108 848h2.4M1110 845h2.4M1116 849h2.4M1114 845h2.4M1120 848h2.4M1125 845h2.4M1118 840h2.4M1133 848h2.4M1134 844h2.4M1144 849h2.4M1168 857h2.4M1183 857h2.4M1164 812h2.4M1172 821h2.4M1186 848h2.4" stroke="#06fff9"/>
<path d="M1085 719h2.4M1093 728h2.4M1125 766h2.4M1109 741h2.4M1115 746h2.4M1110 734h2.4M1119 746h2.4M1110 728h2.4M1111 719h2.4M1122 726h2.4M1119 718h2.4M1111 711h2.4M1122 713h2.4M1121 705h2.4M1110 696h2.4M1129 689h2.4M1143 694h2.4M1149 711h2.4M1150 703h2.4M1158 705h2.4M1169 702h2.4M1179 714h2.4M1182 705h2.4M1151 695h2.4M1171 694h2.4M1193 840h2.4M1197 719h2.4M1201 713h2.4M1210 720h2.4M1216 726h2.4M1257 862h2.4M1256 854h2.4M1236 744h2.4M1239 735h2.4M1256 751h2.4M1248 736h2.4M1258 745h2.4M1267 854h2.4M1275 854h2.4M1275 846h2.4M1277 831h2.4M1288 845h2.4M1288 837h2.4M1288 832h2.4M1278 824h2.4M1286 821h2.4M1288 814h2.4M1296 815h2.4M1288 807h2.4M1297 806h2.4M1295 799h2.4M1285 791h2.4M1286 784h2.4M1286 768h2.4M1267 753h2.4M1275 759h2.4M1138 659h2.4M1081 680h2.4" stroke="#98ff67"/>
<path d="M1057 825h2.4M1051 812h2.4M1057 818h2.4M1060 825h2.4M1062 818h2.4M1062 813h2.4M1067 817h2.4M1065 813h2.4M1065 807h2.4M1065 798h2.4M1063 792h2.4M1075 828h2.4M1081 829h2.4M1091 836h2.4M1094 836h2.4M1091 829h2.4M1094 834h2.4M1103 836h2.4M1105 834h2.4M1070 825h2.4M1074 824h2.4M1071 817h2.4M1070 814h2.4M1087 824h2.4M1072 800h2.4M1095 825h2.4M1094 818h2.4M1073 793h2.4M1070 781h2.4M1075 782h2.4M1069 776h2.4M1076 778h2.4M1080 778h2.4M1080 774h2.4M1087 770h2.4M1086 765h2.4M1089 765h2.4M1104 759h2.4M1118 843h2.4M1108 841h2.4M1113 840h2.4M1124 840h2.4M1123 836h2.4M1130 844h2.4M1138 844h2.4M1129 841h2.4M1133 840h2.4M1120 768h2.4M1160 855h2.4M1173 856h2.4M1177 857h2.4M1176 853h2.4M1183 840h2.4M1181 833h2.4M1168 817h2.4" stroke="#00f5ff"/>
<path d="M1105 742h2.4M1102 735h2.4M1101 728h2.4M1113 749h2.4M1120 758h2.4M1123 762h2.4M1118 748h2.4M1122 737h2.4M1129 728h2.4M1129 718h2.4M1130 712h2.4M1133 702h2.4M1141 710h2.4M1143 705h2.4M1132 696h2.4M1149 726h2.4M1152 721h2.4M1161 726h2.4M1158 710h2.4M1182 719h2.4M1172 713h2.4M1160 697h2.4M1179 696h2.4M1200 737h2.4M1209 733h2.4M1192 727h2.4M1189 719h2.4M1199 728h2.4M1210 729h2.4M1229 862h2.4M1238 863h2.4M1247 856h2.4M1258 831h2.4M1227 736h2.4M1257 757h2.4M1249 742h2.4M1267 840h2.4M1267 829h2.4M1277 840h2.4M1276 799h2.4M1286 800h2.4M1275 790h2.4M1275 783h2.4M1268 773h2.4M1265 768h2.4M1294 792h2.4M1267 759h2.4M1268 743h2.4M1306 806h2.4" stroke="#a8ff57"/>
<path d="M1096 828h2.4M1100 832h2.4M1101 829h2.4M1070 822h2.4M1075 818h2.4M1077 812h2.4M1081 821h2.4M1084 820h2.4M1072 807h2.4M1079 810h2.4M1079 804h2.4M1085 805h2.4M1081 802h2.4M1090 825h2.4M1095 820h2.4M1090 813h2.4M1095 814h2.4M1101 825h2.4M1100 821h2.4M1104 824h2.4M1106 821h2.4M1101 814h2.4M1095 808h2.4M1070 784h2.4M1075 785h2.4M1079 792h2.4M1079 789h2.4M1086 788h2.4M1081 785h2.4M1079 780h2.4M1085 781h2.4M1087 778h2.4M1084 772h2.4M1091 769h2.4M1109 838h2.4M1115 832h2.4M1118 834h2.4M1123 832h2.4M1130 836h2.4M1109 825h2.4M1135 782h2.4M1148 847h2.4M1176 850h2.4M1181 849h2.4M1182 846h2.4M1173 824h2.4" stroke="#00e5ff"/>
<path d="M1125 757h2.4M1119 753h2.4M1123 749h2.4M1120 742h2.4M1125 741h2.4M1128 756h2.4M1129 750h2.4M1130 744h2.4M1129 741h2.4M1133 741h2.4M1129 736h2.4M1142 736h2.4M1142 727h2.4M1141 721h2.4M1158 804h2.4M1151 735h2.4M1171 734h2.4M1158 718h2.4M1171 729h2.4M1169 718h2.4M1179 727h2.4M1219 862h2.4M1187 736h2.4M1197 742h2.4M1207 743h2.4M1220 736h2.4M1250 848h2.4M1257 846h2.4M1256 840h2.4M1259 783h2.4M1249 768h2.4M1237 758h2.4M1237 752h2.4M1226 744h2.4M1247 759h2.4M1245 751h2.4M1265 846h2.4M1265 821h2.4M1274 813h2.4M1266 781h2.4" stroke="#b8ff47"/>
<path d="M1079 817h2.4M1084 818h2.4M1085 813h2.4M1086 808h2.4M1086 802h2.4M1086 796h2.4M1090 816h2.4M1101 816h2.4M1104 812h2.4M1090 808h2.4M1090 804h2.4M1091 798h2.4M1095 797h2.4M1100 808h2.4M1099 806h2.4M1085 792h2.4M1089 789h2.4M1089 786h2.4M1090 777h2.4M1090 773h2.4M1096 769h2.4M1095 766h2.4M1109 828h2.4M1119 829h2.4M1144 844h2.4M1133 837h2.4M1138 841h2.4M1108 820h2.4M1110 764h2.4M1172 848h2.4" stroke="#00d4ff"/>
<path d="M1128 762h2.4M1129 753h2.4M1133 746h2.4M1142 744h2.4M1163 809h2.4M1152 742h2.4M1158 745h2.4M1182 741h2.4M1182 734h2.4M1198 844h2.4M1210 853h2.4M1220 752h2.4M1220 744h2.4M1229 856h2.4M1238 854h2.4M1239 846h2.4M1247 838h2.4M1256 822h2.4M1250 774h2.4M1255 775h2.4M1228 758h2.4M1227 752h2.4M1265 816h2.4M1269 808h2.4M1268 798h2.4M1266 792h2.4" stroke="#c8ff37"/>
<path d="M1090 802h2.4M1090 792h2.4M1095 792h2.4M1096 773h2.4M1100 767h2.4M1132 833h2.4M1137 838h2.4M1143 840h2.4M1115 824h2.4M1114 822h2.4M1110 818h2.4M1178 841h2.4M1152 800h2.4" stroke="#00c4ff"/>
<path d="M1134 772h2.4M1133 762h2.4M1133 754h2.4M1134 750h2.4M1143 750h2.4M1149 793h2.4M1153 749h2.4M1167 741h2.4M1173 741h2.4M1178 742h2.4M1182 745h2.4M1200 845h2.4M1196 749h2.4M1201 749h2.4M1211 749h2.4M1221 759h2.4M1257 808h2.4M1258 798h2.4M1246 790h2.4M1256 791h2.4" stroke="#d9ff26"/>
<path d="M1100 800h2.4M1099 796h2.4M1094 788h2.4M1094 784h2.4M1095 782h2.4M1100 793h2.4M1099 789h2.4M1095 778h2.4M1129 830h2.4M1109 812h2.4M1118 821h2.4M1124 824h2.4M1109 769h2.4M1113 768h2.4M1147 841h2.4M1173 845h2.4M1177 833h2.4" stroke="#00b4ff"/>
<path d="M1135 757h2.4M1149 752h2.4M1160 750h2.4M1168 745h2.4M1187 832h2.4M1191 748h2.4M1196 753h2.4M1201 753h2.4M1235 837h2.4M1240 816h2.4M1249 816h2.4M1248 805h2.4M1248 799h2.4M1238 783h2.4M1236 773h2.4M1236 766h2.4" stroke="#e9ff16"/>
<path d="M1105 804h2.4M1105 801h2.4M1101 774h2.4M1144 837h2.4M1137 833h2.4M1113 816h2.4M1118 772h2.4M1162 846h2.4M1176 837h2.4" stroke="#00a4ff"/>
<path d="M1134 768h2.4M1133 764h2.4M1137 777h2.4M1147 758h2.4M1154 753h2.4M1169 749h2.4M1173 745h2.4M1176 746h2.4M1218 855h2.4M1186 749h2.4M1201 756h2.4M1208 758h2.4M1230 845h2.4M1240 824h2.4M1237 807h2.4M1238 798h2.4M1240 792h2.4" stroke="#f9ff06"/>
<path d="M1100 776h2.4M1104 773h2.4M1120 818h2.4M1111 809h2.4M1168 844h2.4M1173 828h2.4M1148 797h2.4M1169 821h2.4" stroke="#0094ff"/>
<path d="M1143 785h2.4M1140 766h2.4M1141 759h2.4M1152 757h2.4M1177 753h2.4M1181 750h2.4M1217 767h2.4M1193 753h2.4M1198 756h2.4M1235 831h2.4M1231 789h2.4M1226 773h2.4M1230 778h2.4M1230 773h2.4" stroke="#fff500"/>
<path d="M1105 796h2.4M1104 792h2.4M1101 784h2.4M1100 781h2.4M1124 820h2.4M1110 805h2.4M1130 826h2.4M1116 773h2.4M1124 776h2.4M1144 792h2.4M1154 840h2.4M1157 841h2.4M1163 841h2.4M1168 840h2.4" stroke="#0084ff"/>
<path d="M1137 772h2.4M1183 828h2.4M1172 752h2.4M1183 753h2.4M1193 837h2.4M1191 757h2.4M1187 753h2.4M1202 761h2.4M1230 824h2.4M1230 820h2.4M1230 816h2.4M1230 813h2.4M1231 809h2.4M1231 802h2.4M1232 793h2.4M1227 782h2.4M1230 782h2.4M1226 778h2.4" stroke="#ffe500"/>
<path d="M1105 788h2.4M1104 785h2.4M1106 777h2.4M1116 812h2.4M1114 809h2.4M1110 774h2.4M1147 837h2.4M1172 837h2.4M1172 832h2.4" stroke="#0073ff"/>
<path d="M1147 765h2.4M1149 761h2.4M1161 758h2.4M1220 774h2.4M1230 832h2.4M1230 796h2.4" stroke="#ffd500"/>
<path d="M1106 781h2.4M1118 813h2.4M1123 817h2.4M1128 821h2.4M1108 778h2.4M1119 776h2.4M1154 837h2.4" stroke="#0063ff"/>
<path d="M1153 796h2.4M1176 820h2.4M1154 761h2.4M1179 756h2.4M1220 777h2.4M1188 757h2.4M1192 760h2.4M1196 761h2.4M1226 825h2.4M1225 820h2.4M1225 818h2.4M1227 804h2.4M1226 790h2.4M1225 785h2.4" stroke="#ffc400"/>
<path d="M1143 832h2.4M1110 800h2.4M1113 776h2.4M1163 837h2.4M1168 828h2.4" stroke="#0053ff"/>
<path d="M1183 757h2.4M1221 782h2.4M1210 769h2.4M1217 776h2.4M1215 774h2.4M1225 812h2.4M1226 797h2.4" stroke="#ffb400"/>
<path d="M1110 789h2.4M1109 782h2.4M1139 790h2.4M1158 837h2.4M1164 817h2.4" stroke="#0043ff"/>
<path d="M1142 774h2.4M1152 766h2.4M1169 761h2.4M1171 761h2.4M1176 761h2.4M1201 841h2.4M1210 845h2.4M1219 845h2.4M1221 784h2.4M1211 772h2.4" stroke="#ffa400"/>
<path d="M1115 804h2.4M1119 809h2.4M1135 824h2.4M1110 794h2.4M1110 785h2.4M1124 780h2.4M1133 786h2.4" stroke="#0033ff"/>
<path d="M1143 776h2.4M1149 769h2.4M1182 761h2.4M1219 840h2.4M1221 816h2.4M1222 812h2.4M1222 809h2.4M1222 798h2.4M1192 765h2.4M1200 766h2.4M1220 789h2.4M1217 782h2.4M1207 773h2.4M1186 761h2.4" stroke="#ff9400"/>
<path d="M1116 801h2.4M1114 797h2.4M1133 822h2.4M1144 796h2.4M1115 782h2.4M1119 780h2.4M1148 832h2.4M1152 833h2.4" stroke="#0022ff"/>
<path d="M1144 780h2.4M1153 769h2.4M1159 764h2.4M1221 825h2.4M1221 820h2.4M1221 804h2.4M1222 802h2.4M1220 793h2.4" stroke="#ff8400"/>
<path d="M1119 805h2.4M1114 786h2.4M1157 833h2.4M1163 821h2.4" stroke="#0012ff"/>
<path d="M1147 773h2.4M1163 765h2.4M1173 764h2.4M1181 765h2.4M1221 828h2.4M1188 765h2.4M1211 780h2.4M1216 792h2.4" stroke="#ff7300"/>
<path d="M1125 812h2.4M1123 810h2.4M1114 792h2.4M1124 784h2.4M1159 829h2.4M1162 829h2.4M1162 825h2.4M1158 813h2.4M1152 805h2.4" stroke="#0002ff"/>
<path d="M1148 788h2.4M1168 765h2.4M1176 764h2.4M1220 833h2.4M1217 797h2.4M1192 768h2.4M1202 773h2.4M1206 776h2.4" stroke="#ff6300"/>
<path d="M1130 816h2.4M1140 824h2.4M1115 789h2.4M1128 785h2.4M1147 801h2.4" stroke="#0000f1"/>
<path d="M1159 801h2.4M1173 816h2.4M1148 778h2.4M1153 773h2.4M1157 769h2.4M1207 840h2.4M1217 813h2.4M1213 790h2.4M1207 781h2.4M1210 785h2.4" stroke="#ff5300"/>
<path d="M1139 793h2.4M1149 829h2.4M1154 828h2.4M1154 809h2.4" stroke="#0000e1"/>
<path d="M1148 785h2.4M1162 769h2.4M1192 832h2.4M1210 840h2.4M1217 822h2.4M1215 805h2.4M1187 769h2.4M1200 776h2.4" stroke="#ff4300"/>
<path d="M1120 802h2.4M1128 812h2.4M1133 816h2.4M1139 821h2.4M1144 824h2.4M1119 794h2.4M1123 789h2.4M1130 788h2.4M1158 825h2.4" stroke="#0000d0"/>
<path d="M1152 777h2.4M1157 772h2.4M1166 769h2.4M1215 832h2.4M1216 828h2.4M1216 826h2.4M1215 808h2.4M1197 777h2.4M1195 774h2.4" stroke="#ff3300"/>
<path d="M1167 808h2.4M1149 781h2.4M1174 770h2.4M1182 770h2.4M1198 836h2.4M1203 782h2.4M1190 772h2.4M1206 789h2.4M1206 786h2.4" stroke="#ff2200"/>
<path d="M1124 805h2.4M1123 797h2.4M1133 813h2.4M1128 809h2.4M1153 824h2.4M1157 820h2.4" stroke="#0000b0"/>
<path d="M1171 813h2.4M1154 793h2.4M1153 781h2.4M1162 773h2.4M1179 770h2.4M1201 836h2.4M1210 836h2.4M1212 808h2.4M1210 804h2.4M1210 801h2.4M1187 773h2.4M1206 792h2.4" stroke="#ff1200"/>
<path d="M1123 801h2.4M1144 821h2.4M1123 794h2.4M1153 814h2.4" stroke="#0000a0"/>
<path d="M1158 777h2.4M1169 773h2.4M1183 772h2.4M1188 828h2.4M1207 800h2.4M1207 797h2.4M1193 777h2.4" stroke="#ff0200"/>
<path d="M1143 801h2.4M1133 794h2.4M1149 821h2.4M1154 821h2.4M1152 818h2.4M1150 808h2.4M1147 806h2.4" stroke="#000090"/>
<path d="M1158 797h2.4M1177 818h2.4M1153 788h2.4M1162 777h2.4M1173 773h2.4M1178 773h2.4M1210 833h2.4M1212 818h2.4M1211 813h2.4M1200 784h2.4" stroke="#f10000"/>
<path d="M1140 816h2.4M1138 813h2.4M1144 817h2.4M1144 812h2.4M1129 805h2.4M1135 808h2.4M1133 804h2.4M1128 801h2.4M1128 797h2.4M1134 801h2.4M1134 797h2.4M1139 808h2.4M1139 805h2.4M1143 810h2.4M1144 805h2.4M1138 798h2.4M1149 817h2.4M1149 813h2.4" stroke="#000080"/>
<path d="M1153 785h2.4M1192 829h2.4M1212 828h2.4M1212 825h2.4M1200 788h2.4M1195 782h2.4" stroke="#e10000"/>
<path d="M1162 802h2.4M1157 794h2.4M1158 781h2.4M1197 832h2.4M1206 833h2.4M1210 820h2.4M1191 780h2.4M1198 786h2.4M1188 778h2.4" stroke="#d00000"/>
<path d="M1167 778h2.4M1182 777h2.4M1208 830h2.4M1206 805h2.4M1200 794h2.4" stroke="#c00000"/>
<path d="M1158 788h2.4M1159 786h2.4M1162 781h2.4M1202 832h2.4M1207 813h2.4M1198 792h2.4M1197 790h2.4" stroke="#b00000"/>
<path d="M1183 820h2.4M1172 778h2.4M1177 778h2.4M1200 797h2.4M1207 817h2.4M1205 810h2.4M1191 784h2.4" stroke="#a00000"/>
<path d="M1167 806h2.4M1161 786h2.4M1197 828h2.4M1203 804h2.4M1200 800h2.4M1205 825h2.4M1207 820h2.4" stroke="#900000"/>
<path d="M1176 812h2.4M1182 816h2.4M1182 812h2.4M1172 809h2.4M1171 805h2.4M1168 800h2.4M1167 797h2.4M1176 808h2.4M1179 800h2.4M1176 796h2.4M1183 797h2.4M1164 792h2.4M1164 790h2.4M1168 792h2.4M1172 793h2.4M1166 786h2.4M1168 781h2.4M1172 785h2.4M1173 780h2.4M1177 790h2.4M1179 784h2.4M1178 781h2.4M1181 785h2.4M1182 782h2.4M1188 820h2.4M1191 824h2.4M1193 821h2.4M1188 818h2.4M1186 814h2.4M1192 812h2.4M1196 825h2.4M1197 820h2.4M1202 826h2.4M1202 821h2.4M1197 813h2.4M1202 817h2.4M1201 813h2.4M1188 808h2.4M1191 810h2.4M1192 804h2.4M1188 801h2.4M1187 796h2.4M1192 800h2.4M1192 798h2.4M1196 809h2.4M1195 805h2.4M1202 810h2.4M1198 801h2.4M1187 794h2.4M1188 789h2.4M1191 794h2.4M1193 790h2.4M1187 786h2.4" stroke="#800000"/>
<path d="M1699 848h2.4M1708 856h2.4M1698 833h2.4M1697 825h2.4M1699 752h2.4M1717 873h2.4M1748 872h2.4M1716 849h2.4M1728 847h2.4M1719 841h2.4M1746 848h2.4M1735 835h2.4M1749 843h2.4M1718 817h2.4M1728 822h2.4M1725 819h2.4M1724 815h2.4M1725 802h2.4M1725 798h2.4M1729 802h2.4M1740 826h2.4M1738 815h2.4M1745 765h2.4M1749 767h2.4M1777 889h2.4M1754 835h2.4M1769 826h2.4M1773 826h2.4M1778 821h2.4M1784 815h2.4M1783 783h2.4M1788 782h2.4M1786 698h2.4M1816 905h2.4M1805 864h2.4M1793 847h2.4M1796 842h2.4M1806 806h2.4M1827 819h2.4M1812 806h2.4M1843 895h2.4M1832 880h2.4M1832 823h2.4M1841 827h2.4M1845 826h2.4M1831 799h2.4M1842 803h2.4M1845 803h2.4M1855 822h2.4M1851 802h2.4M1850 799h2.4M1839 795h2.4M1845 782h2.4M1845 774h2.4M1851 783h2.4M1855 786h2.4M1855 782h2.4M1861 786h2.4M1861 782h2.4M1850 779h2.4M1851 767h2.4M1856 766h2.4M1860 775h2.4M1830 760h2.4M1865 763h2.4M1866 759h2.4M1864 751h2.4M1841 711h2.4M1834 696h2.4M1903 882h2.4M1871 802h2.4M1883 798h2.4M1890 815h2.4M1895 810h2.4M1890 801h2.4M1880 791h2.4M1885 783h2.4M1875 778h2.4M1869 762h2.4M1871 758h2.4M1870 754h2.4M1891 759h2.4M1894 751h2.4M1940 810h2.4M1690 618h2.4M1582 663h2.4M1718 650h2.4M1637 699h2.4M1637 796h2.4M1632 866h2.4M1644 903h2.4M1586 921h2.4M1743 933h2.4M1986 832h2.4M1853 929h2.4M1854 944h2.4" stroke="#47ffb8"/>
<path d="M1695 857h2.4M1707 850h2.4M1707 808h2.4M1686 760h2.4M1706 751h2.4M1706 743h2.4M1728 882h2.4M1726 864h2.4M1736 879h2.4M1734 865h2.4M1747 866h2.4M1725 858h2.4M1736 849h2.4M1743 842h2.4M1743 839h2.4M1749 839h2.4M1728 813h2.4M1715 800h2.4M1725 810h2.4M1735 818h2.4M1734 814h2.4M1742 827h2.4M1736 775h2.4M1746 776h2.4M1744 771h2.4M1717 736h2.4M1743 763h2.4M1767 895h2.4M1777 906h2.4M1773 894h2.4M1767 889h2.4M1775 863h2.4M1787 871h2.4M1787 865h2.4M1757 835h2.4M1758 829h2.4M1762 834h2.4M1764 831h2.4M1782 858h2.4M1787 857h2.4M1773 814h2.4M1783 823h2.4M1786 826h2.4M1784 817h2.4M1787 814h2.4M1753 786h2.4M1758 786h2.4M1757 783h2.4M1752 778h2.4M1759 779h2.4M1759 766h2.4M1762 779h2.4M1778 784h2.4M1783 786h2.4M1778 779h2.4M1783 778h2.4M1757 743h2.4M1765 711h2.4M1767 706h2.4M1773 719h2.4M1774 711h2.4M1794 888h2.4M1793 881h2.4M1803 850h2.4M1801 845h2.4M1808 847h2.4M1792 840h2.4M1812 846h2.4M1827 851h2.4M1827 846h2.4M1791 822h2.4M1806 812h2.4M1806 799h2.4M1816 817h2.4M1822 823h2.4M1827 823h2.4M1820 815h2.4M1810 811h2.4M1824 722h2.4M1814 697h2.4M1853 903h2.4M1844 848h2.4M1830 843h2.4M1836 839h2.4M1837 830h2.4M1840 839h2.4M1845 830h2.4M1841 799h2.4M1865 818h2.4M1854 806h2.4M1859 810h2.4M1847 794h2.4M1847 791h2.4M1844 787h2.4M1855 794h2.4M1849 788h2.4M1854 779h2.4M1864 778h2.4M1863 766h2.4M1832 762h2.4M1859 762h2.4M1860 754h2.4M1866 754h2.4M1865 746h2.4M1833 704h2.4M1862 697h2.4M1899 872h2.4M1902 863h2.4M1882 857h2.4M1880 815h2.4M1871 809h2.4M1874 811h2.4M1881 803h2.4M1900 824h2.4M1870 774h2.4M1883 778h2.4M1890 783h2.4M1903 775h2.4M1868 751h2.4M1884 751h2.4M1930 874h2.4M1912 858h2.4M1918 839h2.4M1929 858h2.4M1907 821h2.4M1910 754h2.4M1919 745h2.4M1930 761h2.4M1949 794h2.4M1878 651h2.4M1920 672h2.4M1704 702h2.4M1742 699h2.4M1573 721h2.4M1541 800h2.4M1537 845h2.4M1631 769h2.4M1679 724h2.4M1665 866h2.4M1532 922h2.4M1657 955h2.4M1718 906h2.4M1765 962h2.4M1763 927h2.4M1802 929h2.4" stroke="#57ffa8"/>
<path d="M1688 810h2.4M1698 802h2.4M1709 786h2.4M1745 897h2.4M1747 879h2.4M1739 833h2.4M1717 823h2.4M1724 827h2.4M1728 825h2.4M1716 810h2.4M1737 807h2.4M1718 783h2.4M1725 784h2.4M1748 771h2.4M1752 831h2.4M1767 819h2.4M1776 819h2.4M1806 906h2.4M1816 805h2.4M1817 798h2.4M1841 805h2.4M1846 810h2.4M1852 823h2.4M1851 819h2.4M1854 815h2.4M1861 802h2.4M1865 783h2.4M1865 773h2.4M1861 772h2.4M1864 771h2.4M1841 719h2.4M1832 712h2.4M1874 799h2.4M1884 811h2.4M1883 801h2.4M1888 811h2.4M1876 791h2.4M1870 787h2.4M1880 787h2.4M1878 783h2.4M1671 703h2.4M1640 734h2.4M1661 821h2.4M1699 933h2.4" stroke="#37ffc8"/>
<path d="M1708 864h2.4M1695 839h2.4M1709 832h2.4M1686 802h2.4M1687 785h2.4M1689 770h2.4M1697 792h2.4M1697 786h2.4M1707 791h2.4M1696 768h2.4M1705 777h2.4M1695 761h2.4M1708 736h2.4M1719 864h2.4M1729 870h2.4M1738 888h2.4M1737 871h2.4M1718 857h2.4M1717 833h2.4M1727 841h2.4M1726 831h2.4M1735 841h2.4M1739 831h2.4M1743 829h2.4M1734 822h2.4M1744 822h2.4M1748 809h2.4M1748 800h2.4M1724 795h2.4M1725 790h2.4M1729 794h2.4M1716 769h2.4M1727 768h2.4M1745 785h2.4M1728 745h2.4M1727 730h2.4M1746 704h2.4M1776 913h2.4M1783 903h2.4M1765 882h2.4M1756 865h2.4M1767 851h2.4M1753 839h2.4M1773 858h2.4M1774 855h2.4M1786 855h2.4M1783 847h2.4M1774 838h2.4M1788 842h2.4M1753 815h2.4M1759 814h2.4M1754 808h2.4M1764 803h2.4M1778 815h2.4M1789 822h2.4M1782 798h2.4M1752 783h2.4M1762 794h2.4M1762 791h2.4M1763 775h2.4M1769 779h2.4M1764 770h2.4M1764 767h2.4M1768 766h2.4M1772 787h2.4M1777 786h2.4M1781 791h2.4M1788 790h2.4M1787 787h2.4M1778 775h2.4M1772 766h2.4M1784 775h2.4M1753 751h2.4M1757 736h2.4M1754 719h2.4M1765 727h2.4M1768 720h2.4M1792 913h2.4M1803 912h2.4M1796 905h2.4M1825 914h2.4M1824 896h2.4M1802 879h2.4M1803 874h2.4M1814 889h2.4M1812 880h2.4M1796 854h2.4M1797 847h2.4M1808 858h2.4M1805 838h2.4M1811 854h2.4M1825 858h2.4M1811 843h2.4M1792 820h2.4M1792 814h2.4M1798 813h2.4M1802 807h2.4M1817 826h2.4M1816 815h2.4M1822 825h2.4M1827 826h2.4M1811 803h2.4M1810 798h2.4M1793 787h2.4M1791 779h2.4M1825 728h2.4M1826 706h2.4M1793 697h2.4M1812 690h2.4M1845 913h2.4M1831 905h2.4M1851 912h2.4M1865 912h2.4M1853 897h2.4M1853 881h2.4M1835 858h2.4M1830 839h2.4M1837 842h2.4M1831 834h2.4M1831 831h2.4M1835 835h2.4M1840 843h2.4M1846 839h2.4M1840 835h2.4M1851 846h2.4M1856 825h2.4M1859 822h2.4M1860 820h2.4M1859 813h2.4M1849 810h2.4M1850 807h2.4M1855 811h2.4M1836 794h2.4M1836 790h2.4M1835 767h2.4M1841 778h2.4M1845 778h2.4M1840 771h2.4M1841 766h2.4M1851 794h2.4M1859 779h2.4M1859 766h2.4M1835 758h2.4M1832 754h2.4M1852 762h2.4M1854 762h2.4M1856 747h2.4M1856 742h2.4M1859 748h2.4M1861 743h2.4M1864 743h2.4M1835 723h2.4M1841 706h2.4M1865 720h2.4M1862 715h2.4M1872 895h2.4M1883 896h2.4M1894 879h2.4M1884 815h2.4M1879 811h2.4M1900 815h2.4M1890 798h2.4M1893 802h2.4M1898 807h2.4M1900 799h2.4M1904 800h2.4M1874 782h2.4M1881 793h2.4M1883 795h2.4M1883 790h2.4M1883 786h2.4M1871 779h2.4M1870 770h2.4M1870 766h2.4M1880 778h2.4M1899 794h2.4M1903 794h2.4M1902 791h2.4M1875 754h2.4M1884 758h2.4M1884 755h2.4M1870 737h2.4M1904 760h2.4M1889 744h2.4M1903 737h2.4M1884 715h2.4M1893 721h2.4M1931 865h2.4M1913 847h2.4M1913 815h2.4M1923 826h2.4M1913 779h2.4M1938 793h2.4M1909 745h2.4M1928 752h2.4M1950 842h2.4M1950 831h2.4M1981 832h2.4M1961 826h2.4M1950 799h2.4M1969 822h2.4M1979 816h2.4M1971 809h2.4M1980 807h2.4M1949 783h2.4M1948 769h2.4M1978 777h2.4M1950 761h2.4M1988 808h2.4M1984 670h2.4M1544 750h2.4M1662 726h2.4M1672 765h2.4M1679 839h2.4M1746 908h2.4M1846 972h2.4M1844 989h2.4M1949 908h2.4M1971 879h2.4M1821 659h2.4M1833 663h2.4M1853 666h2.4M1870 929h2.4M1885 926h2.4M1761 944h2.4M1783 942h2.4M1813 946h2.4" stroke="#67ff98"/>
<path d="M1690 823h2.4M1697 817h2.4M1697 809h2.4M1744 887h2.4M1736 857h2.4M1747 830h2.4M1725 823h2.4M1717 727h2.4M1767 822h2.4M1772 818h2.4M1827 798h2.4M1840 822h2.4M1846 823h2.4M1847 814h2.4M1836 798h2.4M1856 817h2.4M1859 797h2.4M1864 787h2.4M1851 774h2.4M1856 774h2.4M1849 771h2.4M1857 772h2.4M1875 806h2.4M1878 807h2.4M1889 807h2.4M1873 795h2.4M1874 786h2.4M1660 842h2.4M1610 951h2.4M1722 959h2.4" stroke="#26ffd9"/>
<path d="M1709 842h2.4M1708 823h2.4M1707 802h2.4M1686 776h2.4M1706 770h2.4M1735 831h2.4M1729 798h2.4M1734 827h2.4M1715 794h2.4M1728 791h2.4M1728 776h2.4M1736 793h2.4M1736 768h2.4M1717 751h2.4M1726 752h2.4M1716 744h2.4M1724 735h2.4M1735 751h2.4M1743 759h2.4M1748 763h2.4M1749 759h2.4M1757 904h2.4M1767 903h2.4M1783 914h2.4M1787 897h2.4M1768 863h2.4M1784 886h2.4M1777 874h2.4M1753 851h2.4M1752 847h2.4M1759 849h2.4M1766 854h2.4M1763 850h2.4M1757 841h2.4M1762 841h2.4M1764 838h2.4M1767 835h2.4M1777 858h2.4M1773 851h2.4M1786 850h2.4M1753 827h2.4M1752 823h2.4M1757 819h2.4M1764 823h2.4M1767 814h2.4M1754 802h2.4M1762 806h2.4M1769 798h2.4M1778 827h2.4M1784 827h2.4M1773 810h2.4M1788 798h2.4M1756 794h2.4M1763 787h2.4M1762 781h2.4M1754 774h2.4M1755 771h2.4M1753 766h2.4M1787 794h2.4M1754 763h2.4M1758 759h2.4M1759 751h2.4M1763 762h2.4M1775 761h2.4M1755 712h2.4M1753 704h2.4M1773 705h2.4M1777 689h2.4M1815 912h2.4M1821 903h2.4M1795 863h2.4M1822 888h2.4M1813 872h2.4M1812 863h2.4M1825 864h2.4M1792 854h2.4M1798 858h2.4M1791 850h2.4M1798 851h2.4M1806 854h2.4M1807 851h2.4M1791 843h2.4M1801 842h2.4M1806 842h2.4M1812 851h2.4M1825 853h2.4M1821 843h2.4M1826 839h2.4M1798 826h2.4M1800 815h2.4M1808 813h2.4M1793 811h2.4M1802 811h2.4M1803 803h2.4M1806 803h2.4M1816 823h2.4M1811 814h2.4M1823 818h2.4M1797 794h2.4M1806 795h2.4M1802 782h2.4M1816 795h2.4M1822 794h2.4M1826 794h2.4M1802 719h2.4M1804 714h2.4M1813 714h2.4M1803 696h2.4M1805 688h2.4M1825 695h2.4M1835 912h2.4M1831 896h2.4M1864 898h2.4M1832 871h2.4M1843 864h2.4M1853 890h2.4M1861 881h2.4M1851 873h2.4M1831 848h2.4M1845 843h2.4M1842 831h2.4M1855 847h2.4M1851 830h2.4M1840 790h2.4M1842 787h2.4M1840 774h2.4M1845 770h2.4M1836 762h2.4M1844 759h2.4M1854 754h2.4M1861 758h2.4M1854 735h2.4M1832 728h2.4M1852 719h2.4M1865 707h2.4M1854 695h2.4M1874 913h2.4M1883 914h2.4M1873 905h2.4M1884 905h2.4M1882 889h2.4M1893 866h2.4M1893 855h2.4M1901 856h2.4M1869 816h2.4M1875 814h2.4M1904 818h2.4M1898 810h2.4M1905 810h2.4M1873 774h2.4M1889 791h2.4M1895 791h2.4M1889 787h2.4M1893 786h2.4M1894 781h2.4M1899 783h2.4M1889 778h2.4M1898 775h2.4M1874 758h2.4M1873 750h2.4M1884 762h2.4M1878 754h2.4M1883 738h2.4M1903 753h2.4M1902 745h2.4M1874 728h2.4M1882 730h2.4M1933 850h2.4M1930 840h2.4M1908 819h2.4M1907 814h2.4M1909 799h2.4M1932 818h2.4M1939 824h2.4M1941 800h2.4M1913 783h2.4M1912 775h2.4M1933 775h2.4M1932 769h2.4M1911 759h2.4M1922 736h2.4M1932 743h2.4M1941 746h2.4M1952 863h2.4M1948 848h2.4M1958 848h2.4M1959 842h2.4M1960 833h2.4M1971 839h2.4M1957 815h2.4M1958 801h2.4M1971 816h2.4M1969 802h2.4M1977 800h2.4M1977 783h2.4M1958 760h2.4M1989 799h2.4M1591 608h2.4M1579 847h2.4M1630 837h2.4M1814 985h2.4M1874 966h2.4M1932 966h2.4M1970 902h2.4M2006 703h2.4M1985 743h2.4M1800 662h2.4M1890 661h2.4M1817 675h2.4M1875 677h2.4M1813 928h2.4M1800 945h2.4" stroke="#77ff88"/>
<path d="M1687 818h2.4M1696 745h2.4M1818 809h2.4M1817 803h2.4M1835 826h2.4M1837 823h2.4M1832 815h2.4M1835 819h2.4M1865 798h2.4M1860 791h2.4M1875 802h2.4M1885 805h2.4M1893 805h2.4M1871 790h2.4M1671 798h2.4M1693 908h2.4" stroke="#16ffe9"/>
<path d="M1688 792h2.4M1707 761h2.4M1740 819h2.4M1745 814h2.4M1749 819h2.4M1748 815h2.4M1739 785h2.4M1746 794h2.4M1718 760h2.4M1729 761h2.4M1736 759h2.4M1738 736h2.4M1738 728h2.4M1746 730h2.4M1746 711h2.4M1765 911h2.4M1758 855h2.4M1759 846h2.4M1768 847h2.4M1769 842h2.4M1776 853h2.4M1772 846h2.4M1778 847h2.4M1788 846h2.4M1777 838h2.4M1774 830h2.4M1776 836h2.4M1779 830h2.4M1757 826h2.4M1762 811h2.4M1768 809h2.4M1769 803h2.4M1777 798h2.4M1788 806h2.4M1783 802h2.4M1787 803h2.4M1768 794h2.4M1758 774h2.4M1759 770h2.4M1769 771h2.4M1772 790h2.4M1778 794h2.4M1777 790h2.4M1783 794h2.4M1773 779h2.4M1779 770h2.4M1777 767h2.4M1788 779h2.4M1783 768h2.4M1753 755h2.4M1769 762h2.4M1767 760h2.4M1756 729h2.4M1775 729h2.4M1785 719h2.4M1757 697h2.4M1767 698h2.4M1783 688h2.4M1794 895h2.4M1812 895h2.4M1824 872h2.4M1801 858h2.4M1802 855h2.4M1801 835h2.4M1802 831h2.4M1810 859h2.4M1816 859h2.4M1817 846h2.4M1813 837h2.4M1816 839h2.4M1820 839h2.4M1796 818h2.4M1793 802h2.4M1798 803h2.4M1813 818h2.4M1793 795h2.4M1792 783h2.4M1797 787h2.4M1798 783h2.4M1802 795h2.4M1796 778h2.4M1807 768h2.4M1805 763h2.4M1817 758h2.4M1804 706h2.4M1812 719h2.4M1862 903h2.4M1841 881h2.4M1841 873h2.4M1843 857h2.4M1851 859h2.4M1860 859h2.4M1865 859h2.4M1859 851h2.4M1854 839h2.4M1856 830h2.4M1865 813h2.4M1835 779h2.4M1835 774h2.4M1836 771h2.4M1846 766h2.4M1836 754h2.4M1836 750h2.4M1842 751h2.4M1841 746h2.4M1851 750h2.4M1850 742h2.4M1865 735h2.4M1844 727h2.4M1854 730h2.4M1861 729h2.4M1854 714h2.4M1852 703h2.4M1832 688h2.4M1889 895h2.4M1871 889h2.4M1873 865h2.4M1894 871h2.4M1879 851h2.4M1902 842h2.4M1894 815h2.4M1899 827h2.4M1904 822h2.4M1904 814h2.4M1903 806h2.4M1905 804h2.4M1875 766h2.4M1878 776h2.4M1889 794h2.4M1889 774h2.4M1899 778h2.4M1900 769h2.4M1875 762h2.4M1879 763h2.4M1880 758h2.4M1880 743h2.4M1892 735h2.4M1893 730h2.4M1899 727h2.4M1921 865h2.4M1939 864h2.4M1921 856h2.4M1922 848h2.4M1913 834h2.4M1939 856h2.4M1939 842h2.4M1923 818h2.4M1920 809h2.4M1921 799h2.4M1931 800h2.4M1908 791h2.4M1922 793h2.4M1908 775h2.4M1919 775h2.4M1919 768h2.4M1929 792h2.4M1919 753h2.4M1910 737h2.4M1931 737h2.4M1958 856h2.4M1970 834h2.4M1977 840h2.4M1952 809h2.4M1958 791h2.4M1957 785h2.4M1951 775h2.4M1969 775h2.4M1977 767h2.4M1958 751h2.4M1968 761h2.4M1646 615h2.4M1778 640h2.4M1816 645h2.4M1849 647h2.4M1959 646h2.4M1961 664h2.4M1578 781h2.4M1661 744h2.4M1731 908h2.4M1870 990h2.4M1963 879h2.4M2004 725h2.4M1784 659h2.4M1885 945h2.4" stroke="#88ff77"/>
<path d="M1827 814h2.4M1821 800h2.4M1832 818h2.4M1836 815h2.4M1841 815h2.4M1846 819h2.4M1835 802h2.4M1870 797h2.4M1869 795h2.4" stroke="#06fff9"/>
<path d="M1745 820h2.4M1747 751h2.4M1735 743h2.4M1745 743h2.4M1746 735h2.4M1734 721h2.4M1757 889h2.4M1756 873h2.4M1786 881h2.4M1763 846h2.4M1782 834h2.4M1753 819h2.4M1762 819h2.4M1768 807h2.4M1773 806h2.4M1782 810h2.4M1768 783h2.4M1767 774h2.4M1773 775h2.4M1774 770h2.4M1787 774h2.4M1762 751h2.4M1768 754h2.4M1768 747h2.4M1766 737h2.4M1773 742h2.4M1774 736h2.4M1793 859h2.4M1792 829h2.4M1797 834h2.4M1806 833h2.4M1821 857h2.4M1822 854h2.4M1821 851h2.4M1821 846h2.4M1825 842h2.4M1826 834h2.4M1792 827h2.4M1797 824h2.4M1801 823h2.4M1803 819h2.4M1806 818h2.4M1793 807h2.4M1797 811h2.4M1798 806h2.4M1792 791h2.4M1798 791h2.4M1806 790h2.4M1806 782h2.4M1803 769h2.4M1807 771h2.4M1822 791h2.4M1810 763h2.4M1793 721h2.4M1794 712h2.4M1824 711h2.4M1825 689h2.4M1842 889h2.4M1833 866h2.4M1864 888h2.4M1861 865h2.4M1856 858h2.4M1855 850h2.4M1859 854h2.4M1851 842h2.4M1866 822h2.4M1832 794h2.4M1841 783h2.4M1834 736h2.4M1851 747h2.4M1842 698h2.4M1891 906h2.4M1871 872h2.4M1881 845h2.4M1901 846h2.4M1890 842h2.4M1893 838h2.4M1895 830h2.4M1889 822h2.4M1895 827h2.4M1893 822h2.4M1890 818h2.4M1895 820h2.4M1904 827h2.4M1875 770h2.4M1894 774h2.4M1892 770h2.4M1903 779h2.4M1879 750h2.4M1910 874h2.4M1911 864h2.4M1918 833h2.4M1909 826h2.4M1913 826h2.4M1912 822h2.4M1913 818h2.4M1914 810h2.4M1914 803h2.4M1915 794h2.4M1910 783h2.4M1920 759h2.4M1949 856h2.4M1970 847h2.4M1947 823h2.4M1969 786h2.4M1977 793h2.4M1969 769h2.4M1949 754h2.4M1771 982h2.4M1812 968h2.4M1984 699h2.4M1992 761h2.4M1990 796h2.4M1987 816h2.4M1766 659h2.4M1875 659h2.4M1763 681h2.4M1781 677h2.4M1836 677h2.4M1850 679h2.4M1890 677h2.4M1783 926h2.4M1834 942h2.4M1869 944h2.4" stroke="#98ff67"/>
<path d="M1746 856h2.4M1757 879h2.4M1766 872h2.4M1786 837h2.4M1783 831h2.4M1788 835h2.4M1778 810h2.4M1773 803h2.4M1774 799h2.4M1781 807h2.4M1769 790h2.4M1773 794h2.4M1758 762h2.4M1767 750h2.4M1771 755h2.4M1773 752h2.4M1777 742h2.4M1816 850h2.4M1816 842h2.4M1812 831h2.4M1820 835h2.4M1806 826h2.4M1807 822h2.4M1796 799h2.4M1813 827h2.4M1811 823h2.4M1798 775h2.4M1791 770h2.4M1796 770h2.4M1802 778h2.4M1813 790h2.4M1806 750h2.4M1803 743h2.4M1805 738h2.4M1816 763h2.4M1812 754h2.4M1812 751h2.4M1817 751h2.4M1824 761h2.4M1826 751h2.4M1812 746h2.4M1815 742h2.4M1812 737h2.4M1824 746h2.4M1825 737h2.4M1804 727h2.4M1812 730h2.4M1816 703h2.4M1843 906h2.4M1864 871h2.4M1859 827h2.4M1831 790h2.4M1831 786h2.4M1836 787h2.4M1830 766h2.4M1894 911h2.4M1882 879h2.4M1875 851h2.4M1883 851h2.4M1883 847h2.4M1883 843h2.4M1893 847h2.4M1893 842h2.4M1890 832h2.4M1899 829h2.4M1903 835h2.4M1904 830h2.4M1871 819h2.4M1880 822h2.4M1885 823h2.4M1885 819h2.4M1888 827h2.4M1885 774h2.4M1882 768h2.4M1904 785h2.4M1904 784h2.4M1872 721h2.4M1880 720h2.4M1940 848h2.4M1941 833h2.4M1909 806h2.4M1931 807h2.4M1908 787h2.4M1921 784h2.4M1909 780h2.4M1942 784h2.4M1938 777h2.4M1940 759h2.4M1967 792h2.4M1951 745h2.4M1986 794h2.4M1995 773h2.4M1837 926h2.4" stroke="#a8ff57"/>
<path d="M1836 810h2.4" stroke="#00e5ff"/>
<path d="M1758 897h2.4M1779 754h2.4M1777 749h2.4M1782 742h2.4M1815 835h2.4M1806 786h2.4M1793 775h2.4M1793 766h2.4M1800 773h2.4M1802 765h2.4M1822 768h2.4M1802 762h2.4M1808 758h2.4M1802 747h2.4M1808 743h2.4M1811 758h2.4M1816 755h2.4M1812 742h2.4M1855 834h2.4M1831 783h2.4M1836 782h2.4M1830 775h2.4M1871 882h2.4M1880 866h2.4M1884 838h2.4M1889 835h2.4M1893 835h2.4M1898 834h2.4M1920 873h2.4M1913 798h2.4M1914 790h2.4M1939 752h2.4M1948 818h2.4M1650 652h2.4" stroke="#b8ff47"/>
<path d="M1822 810h2.4" stroke="#00d4ff"/>
<path d="M1786 760h2.4M1782 754h2.4M1772 746h2.4M1781 745h2.4M1785 736h2.4M1784 730h2.4M1806 778h2.4M1811 787h2.4M1827 790h2.4M1816 766h2.4M1793 759h2.4M1796 762h2.4M1803 760h2.4M1793 729h2.4M1864 847h2.4M1861 843h2.4M1859 839h2.4M1859 835h2.4M1831 771h2.4M1835 743h2.4M1879 872h2.4M1871 846h2.4" stroke="#c8ff37"/>
<path d="M1826 811h2.4M1835 807h2.4" stroke="#00c4ff"/>
<path d="M1778 748h2.4M1787 743h2.4M1793 735h2.4M1864 851h2.4M1866 842h2.4M1871 821h2.4M1885 828h2.4" stroke="#d9ff26"/>
<path d="M1822 807h2.4M1832 809h2.4" stroke="#00b4ff"/>
<path d="M1788 746h2.4M1815 787h2.4M1811 773h2.4M1816 774h2.4M1797 759h2.4M1793 755h2.4M1796 754h2.4M1816 747h2.4M1869 850h2.4M1885 834h2.4M1875 823h2.4" stroke="#e9ff16"/>
<path d="M1825 802h2.4M1830 802h2.4" stroke="#00a4ff"/>
<path d="M1826 787h2.4M1817 770h2.4M1791 751h2.4M1802 754h2.4M1801 750h2.4M1791 742h2.4M1797 747h2.4M1864 835h2.4M1831 779h2.4M1881 838h2.4" stroke="#f9ff06"/>
<path d="M1796 750h2.4M1791 745h2.4M1875 842h2.4M1879 827h2.4" stroke="#fff500"/>
<path d="M1866 829h2.4M1870 843h2.4M1879 834h2.4" stroke="#ffe500"/>
<path d="M1826 782h2.4M1820 774h2.4M1825 775h2.4M1879 830h2.4M1874 826h2.4" stroke="#ffd500"/>
<path d="M1816 779h2.4M1826 778h2.4M1876 839h2.4" stroke="#ffc400"/>
<path d="M1817 783h2.4M1822 785h2.4M1871 838h2.4" stroke="#ffb400"/>
<path d="M1830 807h2.4" stroke="#0043ff"/>
<path d="M1820 783h2.4M1820 778h2.4M1875 834h2.4" stroke="#ffa400"/>
<path d="M1826 807h2.4" stroke="#0033ff"/>
<path d="M1869 834h2.4M1871 829h2.4" stroke="#ff9400"/>
<path d="M1874 831h2.4" stroke="#ff6300"/>
<path d="M378 1453h2.4M379 1403h2.4M367 1380h2.4M393 1515h2.4M418 1483h2.4M408 1439h2.4M406 1428h2.4M406 1420h2.4M405 1414h2.4M385 1406h2.4M398 1397h2.4M453 1484h2.4M435 1460h2.4M423 1447h2.4M436 1455h2.4M424 1431h2.4M424 1422h2.4M435 1387h2.4M443 1391h2.4M442 1386h2.4M441 1382h2.4M443 1321h2.4M448 1317h2.4M446 1310h2.4M475 1503h2.4M492 1503h2.4M480 1377h2.4M466 1314h2.4M476 1317h2.4M490 1321h2.4M466 1310h2.4M485 1310h2.4M495 1307h2.4M530 1492h2.4M511 1437h2.4M511 1411h2.4M533 1422h2.4M532 1412h2.4M503 1398h2.4M519 1382h2.4M499 1329h2.4M505 1333h2.4M510 1333h2.4M506 1325h2.4M511 1313h2.4M534 1323h2.4M501 1309h2.4M510 1305h2.4M515 1306h2.4M500 1293h2.4M528 1310h2.4M533 1306h2.4M533 1284h2.4M542 1478h2.4M559 1470h2.4M557 1443h2.4M570 1436h2.4M562 1387h2.4M562 1370h2.4M557 1346h2.4M538 1337h2.4M547 1330h2.4M553 1329h2.4M538 1321h2.4M544 1325h2.4M551 1316h2.4M558 1313h2.4M574 1323h2.4M567 1314h2.4M573 1318h2.4M563 1310h2.4M572 1294h2.4M588 1446h2.4M610 1463h2.4M610 1459h2.4M596 1451h2.4M600 1451h2.4M579 1430h2.4M591 1427h2.4M588 1406h2.4M597 1403h2.4M608 1389h2.4M611 1381h2.4M581 1366h2.4M612 1374h2.4M605 1367h2.4M610 1362h2.4M602 1350h2.4M606 1353h2.4M611 1358h2.4M609 1353h2.4M607 1351h2.4M588 1343h2.4M581 1306h2.4M620 1446h2.4M619 1438h2.4M630 1437h2.4M619 1420h2.4M618 1396h2.4M628 1406h2.4M616 1381h2.4M635 1381h2.4M616 1370h2.4M621 1346h2.4M625 1353h2.4M630 1354h2.4M630 1349h2.4M634 1361h2.4M640 1361h2.4M621 1330h2.4M620 1292h2.4M409 1544h2.4M638 1346h2.4M658 1463h2.4" stroke="#47ffb8"/>
<path d="M327 1452h2.4M340 1414h2.4M338 1390h2.4M355 1512h2.4M356 1482h2.4M356 1471h2.4M378 1471h2.4M348 1429h2.4M358 1430h2.4M350 1421h2.4M376 1435h2.4M368 1389h2.4M379 1389h2.4M379 1380h2.4M417 1511h2.4M397 1501h2.4M387 1479h2.4M394 1485h2.4M416 1502h2.4M405 1486h2.4M417 1468h2.4M388 1422h2.4M418 1437h2.4M395 1390h2.4M407 1404h2.4M404 1395h2.4M406 1387h2.4M432 1531h2.4M423 1487h2.4M437 1484h2.4M456 1500h2.4M454 1469h2.4M443 1362h2.4M456 1358h2.4M443 1337h2.4M436 1308h2.4M456 1305h2.4M465 1503h2.4M463 1495h2.4M471 1313h2.4M487 1314h2.4M475 1310h2.4M501 1500h2.4M501 1492h2.4M521 1388h2.4M515 1334h2.4M505 1321h2.4M509 1325h2.4M514 1318h2.4M533 1330h2.4M523 1317h2.4M530 1325h2.4M533 1325h2.4M513 1300h2.4M533 1290h2.4M557 1447h2.4M572 1443h2.4M538 1351h2.4M538 1345h2.4M562 1357h2.4M540 1343h2.4M562 1317h2.4M563 1313h2.4M574 1314h2.4M539 1289h2.4M543 1294h2.4M581 1455h2.4M600 1459h2.4M607 1464h2.4M596 1454h2.4M597 1446h2.4M610 1454h2.4M605 1443h2.4M587 1411h2.4M597 1439h2.4M587 1386h2.4M579 1373h2.4M589 1373h2.4M593 1345h2.4M599 1371h2.4M600 1366h2.4M607 1362h2.4M612 1367h2.4M602 1346h2.4M612 1345h2.4M592 1329h2.4M587 1322h2.4M616 1405h2.4M620 1383h2.4M621 1378h2.4M627 1388h2.4M625 1382h2.4M637 1405h2.4M614 1351h2.4M616 1345h2.4M626 1347h2.4M634 1370h2.4M639 1369h2.4M639 1358h2.4M640 1355h2.4M619 1316h2.4M617 1308h2.4M335 1502h2.4M649 1423h2.4M649 1446h2.4" stroke="#57ffa8"/>
<path d="M367 1446h2.4M370 1435h2.4M408 1479h2.4M417 1444h2.4M395 1422h2.4M397 1412h2.4M389 1390h2.4M416 1403h2.4M456 1443h2.4M424 1438h2.4M444 1412h2.4M427 1398h2.4M436 1405h2.4M447 1390h2.4M451 1390h2.4M455 1374h2.4M443 1334h2.4M464 1487h2.4M466 1479h2.4M491 1486h2.4M462 1439h2.4M472 1429h2.4M484 1428h2.4M462 1378h2.4M467 1381h2.4M465 1377h2.4M485 1377h2.4M463 1366h2.4M462 1317h2.4M461 1313h2.4M485 1317h2.4M495 1326h2.4M477 1302h2.4M481 1310h2.4M486 1301h2.4M485 1294h2.4M492 1293h2.4M500 1479h2.4M520 1484h2.4M532 1478h2.4M501 1438h2.4M523 1412h2.4M520 1404h2.4M524 1378h2.4M529 1381h2.4M505 1338h2.4M511 1338h2.4M509 1319h2.4M518 1313h2.4M520 1306h2.4M525 1310h2.4M525 1306h2.4M534 1309h2.4M539 1492h2.4M542 1487h2.4M568 1476h2.4M568 1460h2.4M562 1411h2.4M541 1397h2.4M542 1390h2.4M551 1388h2.4M549 1379h2.4M570 1398h2.4M539 1362h2.4M553 1345h2.4M569 1372h2.4M571 1362h2.4M563 1349h2.4M559 1341h2.4M557 1321h2.4M542 1307h2.4M602 1464h2.4M606 1456h2.4M612 1450h2.4M611 1443h2.4M580 1413h2.4M578 1395h2.4M581 1387h2.4M591 1350h2.4M596 1366h2.4M602 1355h2.4M596 1350h2.4M585 1337h2.4M587 1329h2.4M577 1320h2.4M582 1326h2.4M582 1318h2.4M627 1427h2.4M624 1378h2.4M625 1365h2.4M635 1349h2.4M619 1334h2.4M618 1301h2.4M394 1517h2.4M626 1301h2.4M639 1367h2.4M646 1406h2.4" stroke="#37ffc8"/>
<path d="M341 1430h2.4M351 1495h2.4M356 1452h2.4M369 1470h2.4M357 1438h2.4M349 1412h2.4M359 1421h2.4M368 1413h2.4M356 1406h2.4M359 1395h2.4M369 1371h2.4M417 1525h2.4M399 1479h2.4M408 1502h2.4M385 1468h2.4M387 1462h2.4M388 1446h2.4M394 1427h2.4M395 1404h2.4M437 1395h2.4M436 1374h2.4M444 1373h2.4M442 1353h2.4M449 1349h2.4M443 1313h2.4M438 1296h2.4M428 1292h2.4M457 1310h2.4M457 1284h2.4M480 1313h2.4M492 1317h2.4M462 1305h2.4M485 1306h2.4M482 1302h2.4M486 1297h2.4M480 1293h2.4M482 1290h2.4M521 1478h2.4M514 1337h2.4M511 1330h2.4M513 1330h2.4M509 1322h2.4M530 1338h2.4M529 1329h2.4M502 1301h2.4M511 1310h2.4M514 1309h2.4M512 1284h2.4M529 1306h2.4M522 1284h2.4M514 1277h2.4M563 1442h2.4M558 1365h2.4M554 1342h2.4M549 1335h2.4M553 1322h2.4M543 1289h2.4M538 1286h2.4M557 1305h2.4M569 1297h2.4M568 1288h2.4M589 1475h2.4M576 1459h2.4M588 1461h2.4M598 1469h2.4M597 1462h2.4M596 1460h2.4M606 1460h2.4M601 1455h2.4M607 1450h2.4M589 1435h2.4M597 1412h2.4M578 1380h2.4M612 1370h2.4M578 1314h2.4M591 1325h2.4M591 1321h2.4M577 1298h2.4M577 1284h2.4M581 1276h2.4M616 1430h2.4M628 1396h2.4M615 1378h2.4M637 1398h2.4M634 1378h2.4M616 1374h2.4M622 1374h2.4M620 1365h2.4M625 1375h2.4M625 1362h2.4M621 1358h2.4M622 1354h2.4M634 1375h2.4M640 1375h2.4M634 1354h2.4M620 1343h2.4M616 1329h2.4M625 1342h2.4M625 1337h2.4M618 1325h2.4M340 1511h2.4M633 1473h2.4" stroke="#67ff98"/>
<path d="M370 1430h2.4M387 1487h2.4M416 1492h2.4M386 1454h2.4M415 1460h2.4M408 1451h2.4M406 1446h2.4M415 1454h2.4M388 1414h2.4M417 1430h2.4M414 1420h2.4M417 1414h2.4M388 1396h2.4M446 1533h2.4M427 1493h2.4M446 1492h2.4M454 1494h2.4M445 1485h2.4M445 1462h2.4M425 1413h2.4M446 1435h2.4M427 1403h2.4M446 1403h2.4M456 1395h2.4M443 1378h2.4M447 1378h2.4M452 1387h2.4M457 1354h2.4M446 1338h2.4M443 1326h2.4M447 1313h2.4M453 1315h2.4M458 1318h2.4M456 1313h2.4M472 1493h2.4M484 1493h2.4M485 1486h2.4M463 1431h2.4M475 1420h2.4M463 1382h2.4M471 1377h2.4M480 1382h2.4M485 1381h2.4M464 1373h2.4M482 1321h2.4M481 1317h2.4M490 1325h2.4M461 1309h2.4M514 1430h2.4M504 1421h2.4M500 1414h2.4M522 1437h2.4M512 1396h2.4M515 1378h2.4M525 1383h2.4M515 1374h2.4M515 1371h2.4M519 1363h2.4M525 1363h2.4M529 1362h2.4M520 1353h2.4M525 1355h2.4M520 1347h2.4M524 1349h2.4M526 1341h2.4M524 1337h2.4M529 1313h2.4M534 1298h2.4M550 1471h2.4M543 1437h2.4M549 1428h2.4M553 1421h2.4M568 1427h2.4M559 1421h2.4M570 1422h2.4M568 1413h2.4M542 1403h2.4M548 1373h2.4M552 1363h2.4M572 1358h2.4M541 1317h2.4M557 1317h2.4M567 1322h2.4M597 1476h2.4M606 1413h2.4M578 1405h2.4M587 1366h2.4M600 1363h2.4M596 1355h2.4M588 1335h2.4M619 1469h2.4M616 1452h2.4M625 1420h2.4M637 1422h2.4M626 1371h2.4M631 1373h2.4M629 1363h2.4M634 1365h2.4M639 1462h2.4" stroke="#26ffd9"/>
<path d="M336 1464h2.4M328 1430h2.4M328 1414h2.4M310 1403h2.4M311 1396h2.4M320 1396h2.4M310 1381h2.4M337 1397h2.4M330 1388h2.4M329 1338h2.4M340 1305h2.4M347 1454h2.4M350 1444h2.4M360 1443h2.4M360 1364h2.4M388 1436h2.4M405 1383h2.4M410 1382h2.4M413 1379h2.4M403 1373h2.4M419 1374h2.4M434 1518h2.4M435 1501h2.4M434 1478h2.4M446 1468h2.4M427 1389h2.4M427 1380h2.4M429 1362h2.4M446 1363h2.4M448 1355h2.4M442 1346h2.4M428 1289h2.4M441 1309h2.4M453 1306h2.4M466 1305h2.4M466 1301h2.4M471 1294h2.4M472 1288h2.4M481 1306h2.4M494 1300h2.4M484 1284h2.4M512 1404h2.4M529 1354h2.4M501 1317h2.4M514 1325h2.4M514 1314h2.4M522 1331h2.4M529 1334h2.4M533 1334h2.4M524 1314h2.4M522 1301h2.4M522 1290h2.4M504 1276h2.4M549 1358h2.4M552 1354h2.4M557 1351h2.4M539 1330h2.4M552 1339h2.4M568 1318h2.4M552 1307h2.4M559 1309h2.4M567 1310h2.4M573 1286h2.4M589 1470h2.4M602 1442h2.4M601 1428h2.4M609 1429h2.4M607 1346h2.4M612 1349h2.4M583 1321h2.4M586 1318h2.4M592 1313h2.4M597 1338h2.4M577 1304h2.4M581 1298h2.4M579 1269h2.4M590 1275h2.4M618 1459h2.4M637 1389h2.4M639 1382h2.4M615 1359h2.4M617 1342h2.4M620 1337h2.4M615 1334h2.4M392 1534h2.4M632 1330h2.4" stroke="#77ff88"/>
<path d="M378 1446h2.4M416 1479h2.4M399 1469h2.4M396 1453h2.4M405 1469h2.4M398 1438h2.4M447 1477h2.4M424 1461h2.4M438 1468h2.4M447 1446h2.4M434 1412h2.4M447 1419h2.4M454 1406h2.4M446 1386h2.4M451 1379h2.4M458 1382h2.4M457 1377h2.4M448 1346h2.4M452 1345h2.4M484 1503h2.4M493 1494h2.4M482 1438h2.4M495 1420h2.4M466 1404h2.4M463 1397h2.4M467 1385h2.4M475 1383h2.4M494 1403h2.4M491 1378h2.4M472 1373h2.4M472 1369h2.4M462 1358h2.4M490 1375h2.4M482 1326h2.4M485 1322h2.4M514 1503h2.4M501 1484h2.4M533 1487h2.4M501 1405h2.4M503 1388h2.4M510 1382h2.4M533 1398h2.4M530 1388h2.4M515 1350h2.4M519 1374h2.4M525 1370h2.4M523 1366h2.4M528 1374h2.4M533 1370h2.4M524 1358h2.4M520 1338h2.4M550 1475h2.4M559 1493h2.4M559 1461h2.4M568 1454h2.4M540 1412h2.4M549 1414h2.4M561 1435h2.4M559 1395h2.4M543 1372h2.4M540 1300h2.4M539 1294h2.4M579 1478h2.4M580 1447h2.4M590 1454h2.4M590 1398h2.4M600 1395h2.4M608 1398h2.4M587 1346h2.4M606 1375h2.4M601 1357h2.4M581 1333h2.4M631 1346h2.4M630 1341h2.4" stroke="#16ffe9"/>
<path d="M298 1371h2.4M328 1514h2.4M327 1444h2.4M310 1437h2.4M338 1422h2.4M319 1388h2.4M331 1395h2.4M340 1406h2.4M308 1347h2.4M321 1340h2.4M347 1459h2.4M357 1382h2.4M347 1314h2.4M419 1382h2.4M434 1492h2.4M443 1499h2.4M456 1363h2.4M443 1358h2.4M453 1357h2.4M444 1341h2.4M428 1297h2.4M434 1294h2.4M442 1305h2.4M451 1310h2.4M458 1301h2.4M457 1294h2.4M494 1321h2.4M465 1297h2.4M476 1297h2.4M467 1288h2.4M475 1292h2.4M481 1299h2.4M502 1325h2.4M514 1321h2.4M519 1310h2.4M529 1270h2.4M561 1381h2.4M568 1380h2.4M543 1350h2.4M554 1358h2.4M539 1334h2.4M543 1333h2.4M537 1326h2.4M548 1293h2.4M567 1305h2.4M569 1302h2.4M573 1302h2.4M539 1278h2.4M582 1460h2.4M609 1419h2.4M587 1380h2.4M592 1343h2.4M591 1333h2.4M588 1314h2.4M591 1317h2.4M607 1333h2.4M612 1330h2.4M582 1301h2.4M591 1282h2.4M588 1268h2.4M580 1260h2.4M629 1445h2.4M617 1390h2.4M629 1378h2.4M641 1378h2.4M617 1366h2.4M615 1362h2.4M620 1362h2.4M631 1338h2.4M419 1538h2.4M632 1312h2.4M641 1383h2.4" stroke="#88ff77"/>
<path d="M404 1495h2.4M399 1446h2.4M415 1389h2.4M456 1477h2.4M425 1452h2.4M446 1453h2.4M435 1420h2.4M445 1428h2.4M454 1428h2.4M457 1391h2.4M447 1326h2.4M448 1321h2.4M473 1476h2.4M463 1470h2.4M473 1468h2.4M492 1443h2.4M472 1435h2.4M476 1412h2.4M483 1413h2.4M495 1411h2.4M484 1403h2.4M480 1385h2.4M491 1390h2.4M491 1382h2.4M470 1362h2.4M487 1375h2.4M463 1322h2.4M467 1318h2.4M485 1326h2.4M512 1492h2.4M523 1492h2.4M530 1469h2.4M500 1430h2.4M506 1379h2.4M509 1370h2.4M534 1375h2.4M520 1350h2.4M509 1341h2.4M534 1317h2.4M551 1446h2.4M552 1438h2.4M540 1422h2.4M552 1397h2.4M569 1404h2.4M563 1341h2.4M563 1338h2.4M559 1331h2.4M558 1325h2.4M571 1327h2.4M589 1486h2.4M611 1479h2.4M609 1470h2.4M579 1420h2.4M607 1404h2.4M606 1371h2.4M578 1330h2.4M626 1414h2.4" stroke="#06fff9"/>
<path d="M259 1479h2.4M299 1501h2.4M291 1356h2.4M327 1438h2.4M332 1422h2.4M322 1381h2.4M320 1347h2.4M339 1348h2.4M309 1340h2.4M378 1486h2.4M350 1468h2.4M370 1461h2.4M378 1460h2.4M351 1437h2.4M360 1414h2.4M377 1429h2.4M368 1419h2.4M376 1419h2.4M347 1398h2.4M348 1388h2.4M367 1398h2.4M349 1356h2.4M367 1364h2.4M349 1307h2.4M408 1378h2.4M404 1369h2.4M416 1291h2.4M422 1375h2.4M427 1374h2.4M427 1370h2.4M434 1363h2.4M427 1358h2.4M451 1367h2.4M452 1362h2.4M447 1359h2.4M443 1349h2.4M428 1304h2.4M423 1284h2.4M432 1290h2.4M447 1306h2.4M443 1297h2.4M443 1293h2.4M444 1283h2.4M453 1274h2.4M470 1296h2.4M462 1293h2.4M462 1288h2.4M475 1290h2.4M495 1275h2.4M501 1322h2.4M519 1317h2.4M512 1267h2.4M540 1357h2.4M542 1346h2.4M548 1301h2.4M542 1284h2.4M563 1301h2.4M568 1285h2.4M572 1282h2.4M597 1420h2.4M595 1345h2.4M602 1342h2.4M610 1335h2.4M596 1327h2.4M586 1309h2.4M592 1309h2.4M621 1369h2.4M628 1332h2.4M357 1515h2.4M616 1268h2.4M619 1290h2.4" stroke="#98ff67"/>
<path d="M425 1469h2.4M456 1454h2.4M437 1439h2.4M454 1437h2.4M454 1413h2.4M448 1382h2.4M451 1381h2.4M451 1329h2.4M475 1486h2.4M493 1478h2.4M475 1443h2.4M491 1427h2.4M470 1382h2.4M475 1378h2.4M496 1383h2.4M467 1358h2.4M480 1375h2.4M480 1367h2.4M467 1321h2.4M511 1446h2.4M520 1446h2.4M532 1447h2.4M530 1429h2.4M500 1382h2.4M532 1404h2.4M509 1347h2.4M514 1346h2.4M519 1371h2.4M530 1370h2.4M519 1359h2.4M519 1343h2.4M552 1484h2.4M558 1486h2.4M542 1470h2.4M539 1447h2.4M562 1428h2.4M562 1326h2.4M562 1321h2.4M580 1356h2.4M577 1348h2.4M587 1358h2.4M597 1362h2.4M583 1337h2.4M577 1334h2.4" stroke="#00f5ff"/>
<path d="M301 1414h2.4M279 1387h2.4M292 1397h2.4M299 1404h2.4M299 1398h2.4M290 1373h2.4M339 1452h2.4M338 1444h2.4M322 1428h2.4M319 1412h2.4M321 1406h2.4M330 1356h2.4M321 1309h2.4M320 1293h2.4M370 1455h2.4M348 1405h2.4M351 1372h2.4M347 1326h2.4M367 1317h2.4M359 1300h2.4M385 1379h2.4M419 1378h2.4M385 1374h2.4M400 1374h2.4M404 1366h2.4M417 1282h2.4M423 1371h2.4M422 1366h2.4M427 1366h2.4M443 1367h2.4M441 1317h2.4M432 1305h2.4M432 1301h2.4M423 1294h2.4M436 1290h2.4M448 1298h2.4M451 1297h2.4M426 1268h2.4M466 1293h2.4M482 1269h2.4M485 1260h2.4M502 1283h2.4M521 1268h2.4M529 1266h2.4M548 1345h2.4M545 1339h2.4M548 1343h2.4M552 1297h2.4M543 1281h2.4M549 1289h2.4M562 1305h2.4M557 1298h2.4M573 1306h2.4M571 1268h2.4M602 1328h2.4M606 1341h2.4M607 1339h2.4M610 1338h2.4M605 1330h2.4M598 1322h2.4M586 1305h2.4M590 1305h2.4M577 1252h2.4M616 1353h2.4M628 1323h2.4M308 1504h2.4" stroke="#a8ff57"/>
<path d="M470 1390h2.4M491 1397h2.4M485 1387h2.4M463 1353h2.4M481 1371h2.4M490 1331h2.4M511 1485h2.4M513 1478h2.4M514 1470h2.4M502 1445h2.4M511 1454h2.4M522 1469h2.4M524 1453h2.4M532 1455h2.4M514 1420h2.4M524 1430h2.4M532 1437h2.4M505 1382h2.4M519 1365h2.4M552 1493h2.4M540 1462h2.4M550 1461h2.4M540 1451h2.4M562 1454h2.4M559 1333h2.4M563 1334h2.4M562 1330h2.4M587 1349h2.4M596 1357h2.4" stroke="#00e5ff"/>
<path d="M291 1381h2.4M299 1349h2.4M312 1411h2.4M311 1390h2.4M327 1404h2.4M337 1382h2.4M320 1354h2.4M329 1348h2.4M310 1325h2.4M330 1298h2.4M340 1299h2.4M328 1292h2.4M378 1518h2.4M357 1389h2.4M348 1363h2.4M358 1373h2.4M356 1349h2.4M375 1367h2.4M360 1324h2.4M364 1321h2.4M360 1306h2.4M349 1291h2.4M386 1359h2.4M408 1375h2.4M419 1370h2.4M419 1367h2.4M389 1299h2.4M387 1291h2.4M419 1301h2.4M438 1341h2.4M438 1325h2.4M433 1313h2.4M424 1304h2.4M424 1301h2.4M427 1301h2.4M423 1288h2.4M437 1294h2.4M447 1302h2.4M451 1302h2.4M443 1290h2.4M448 1294h2.4M447 1290h2.4M451 1289h2.4M424 1276h2.4M462 1266h2.4M493 1266h2.4M503 1266h2.4M530 1277h2.4M547 1351h2.4M552 1300h2.4M558 1301h2.4M563 1298h2.4M569 1274h2.4M597 1333h2.4M597 1316h2.4M318 1542h2.4M382 1515h2.4M619 1279h2.4" stroke="#b8ff47"/>
<path d="M435 1445h2.4M457 1326h2.4M463 1462h2.4M465 1452h2.4M483 1445h2.4M492 1437h2.4M475 1374h2.4M467 1353h2.4M486 1330h2.4M520 1459h2.4M520 1421h2.4M514 1354h2.4M500 1338h2.4M506 1342h2.4M552 1454h2.4M570 1348h2.4M572 1331h2.4M582 1342h2.4" stroke="#00d4ff"/>
<path d="M278 1450h2.4M296 1468h2.4M279 1412h2.4M292 1422h2.4M293 1411h2.4M299 1419h2.4M291 1404h2.4M298 1386h2.4M290 1366h2.4M298 1363h2.4M290 1348h2.4M281 1316h2.4M293 1332h2.4M301 1331h2.4M293 1298h2.4M313 1500h2.4M319 1447h2.4M322 1438h2.4M308 1421h2.4M318 1374h2.4M338 1372h2.4M340 1355h2.4M312 1315h2.4M319 1326h2.4M319 1315h2.4M339 1330h2.4M330 1317h2.4M337 1290h2.4M366 1403h2.4M347 1349h2.4M379 1361h2.4M365 1350h2.4M376 1357h2.4M380 1358h2.4M348 1340h2.4M356 1315h2.4M366 1326h2.4M403 1377h2.4M389 1370h2.4M385 1361h2.4M399 1366h2.4M408 1370h2.4M385 1305h2.4M405 1302h2.4M405 1298h2.4M414 1307h2.4M398 1275h2.4M397 1265h2.4M406 1274h2.4M434 1349h2.4M439 1322h2.4M429 1310h2.4M436 1277h2.4M446 1265h2.4M473 1282h2.4M466 1274h2.4M474 1276h2.4M473 1259h2.4M483 1273h2.4M485 1250h2.4M535 1264h2.4M562 1293h2.4M568 1282h2.4M537 1265h2.4M544 1268h2.4M539 1261h2.4M570 1243h2.4M610 1325h2.4M612 1322h2.4M597 1275h2.4M612 1253h2.4" stroke="#c8ff37"/>
<path d="M452 1338h2.4M457 1338h2.4M453 1334h2.4M453 1322h2.4M482 1476h2.4M474 1398h2.4M476 1390h2.4M482 1396h2.4M487 1391h2.4M495 1378h2.4M476 1370h2.4M472 1365h2.4M471 1358h2.4M487 1369h2.4M466 1326h2.4M501 1470h2.4M511 1459h2.4M500 1377h2.4M505 1370h2.4M505 1354h2.4M506 1345h2.4M516 1358h2.4M578 1338h2.4" stroke="#00c4ff"/>
<path d="M295 1484h2.4M278 1428h2.4M291 1388h2.4M299 1381h2.4M280 1355h2.4M302 1358h2.4M282 1300h2.4M290 1306h2.4M299 1300h2.4M289 1284h2.4M289 1266h2.4M300 1273h2.4M330 1477h2.4M312 1372h2.4M308 1366h2.4M330 1371h2.4M312 1334h2.4M318 1331h2.4M329 1325h2.4M339 1322h2.4M319 1299h2.4M331 1282h2.4M375 1361h2.4M365 1345h2.4M371 1321h2.4M348 1300h2.4M375 1298h2.4M377 1289h2.4M378 1273h2.4M385 1369h2.4M388 1373h2.4M385 1354h2.4M389 1357h2.4M394 1359h2.4M415 1366h2.4M398 1298h2.4M419 1297h2.4M406 1291h2.4M418 1276h2.4M428 1355h2.4M437 1317h2.4M424 1309h2.4M445 1274h2.4M554 1289h2.4M548 1286h2.4M547 1282h2.4M539 1269h2.4M578 1463h2.4M602 1325h2.4M246 1539h2.4M607 1268h2.4M610 1279h2.4" stroke="#d9ff26"/>
<path d="M475 1462h2.4M473 1452h2.4M492 1460h2.4M481 1390h2.4M476 1359h2.4M495 1374h2.4M489 1367h2.4M462 1326h2.4M472 1326h2.4M509 1365h2.4M510 1362h2.4M504 1359h2.4M499 1350h2.4M509 1354h2.4M500 1343h2.4M578 1343h2.4" stroke="#00b4ff"/>
<path d="M292 1450h2.4M269 1342h2.4M289 1339h2.4M293 1325h2.4M299 1322h2.4M273 1309h2.4M281 1307h2.4M280 1290h2.4M303 1306h2.4M302 1285h2.4M329 1366h2.4M339 1364h2.4M332 1333h2.4M309 1307h2.4M312 1301h2.4M347 1380h2.4M351 1333h2.4M359 1340h2.4M365 1330h2.4M375 1313h2.4M370 1301h2.4M367 1274h2.4M388 1366h2.4M394 1374h2.4M393 1370h2.4M408 1301h2.4M413 1301h2.4M413 1297h2.4M406 1285h2.4M408 1267h2.4M432 1317h2.4M474 1268h2.4M511 1250h2.4M522 1259h2.4M530 1260h2.4M563 1289h2.4M542 1265h2.4M542 1261h2.4M563 1270h2.4M562 1265h2.4M578 1468h2.4M596 1314h2.4M267 1305h2.4M276 1505h2.4" stroke="#e9ff16"/>
<path d="M458 1342h2.4M482 1470h2.4M494 1454h2.4M475 1366h2.4M466 1330h2.4M476 1326h2.4M485 1333h2.4M495 1337h2.4M502 1451h2.4M505 1365h2.4M568 1338h2.4" stroke="#00a4ff"/>
<path d="M254 1468h2.4M254 1447h2.4M258 1436h2.4M252 1403h2.4M261 1366h2.4M292 1430h2.4M281 1370h2.4M281 1363h2.4M281 1333h2.4M271 1322h2.4M298 1317h2.4M274 1297h2.4M291 1275h2.4M330 1381h2.4M309 1355h2.4M310 1283h2.4M330 1309h2.4M374 1354h2.4M379 1354h2.4M358 1332h2.4M365 1334h2.4M370 1334h2.4M370 1329h2.4M359 1290h2.4M360 1268h2.4M370 1269h2.4M398 1358h2.4M390 1309h2.4M393 1301h2.4M394 1298h2.4M398 1285h2.4M415 1269h2.4M434 1327h2.4M437 1266h2.4M436 1260h2.4M464 1260h2.4M494 1259h2.4M495 1249h2.4M500 1258h2.4M514 1257h2.4M519 1252h2.4M553 1286h2.4M562 1285h2.4M543 1257h2.4M602 1317h2.4M607 1321h2.4M599 1309h2.4M598 1284h2.4M151 1356h2.4M604 1253h2.4" stroke="#f9ff06"/>
<path d="M485 1455h2.4M466 1351h2.4M472 1354h2.4M492 1370h2.4M462 1341h2.4M462 1329h2.4M480 1329h2.4M499 1374h2.4M506 1361h2.4M505 1350h2.4M509 1358h2.4" stroke="#0094ff"/>
<path d="M269 1372h2.4M269 1356h2.4M280 1347h2.4M269 1318h2.4M283 1325h2.4M291 1314h2.4M269 1292h2.4M299 1291h2.4M302 1268h2.4M317 1482h2.4M339 1317h2.4M318 1283h2.4M337 1283h2.4M309 1275h2.4M321 1267h2.4M328 1274h2.4M327 1265h2.4M370 1351h2.4M366 1337h2.4M368 1292h2.4M375 1269h2.4M394 1366h2.4M398 1362h2.4M386 1350h2.4M408 1366h2.4M418 1358h2.4M396 1290h2.4M387 1274h2.4M428 1349h2.4M422 1314h2.4M446 1261h2.4M453 1259h2.4M473 1252h2.4M562 1280h2.4M547 1264h2.4M564 1277h2.4M568 1252h2.4M610 1317h2.4M606 1309h2.4M611 1283h2.4M195 1252h2.4M228 1247h2.4M128 1329h2.4M143 1320h2.4M224 1312h2.4M204 1384h2.4M220 1442h2.4M263 1477h2.4M602 1237h2.4" stroke="#fff500"/>
<path d="M492 1469h2.4M472 1350h2.4M480 1362h2.4M494 1361h2.4M462 1338h2.4M472 1330h2.4M504 1461h2.4M499 1347h2.4" stroke="#0084ff"/>
<path d="M256 1413h2.4M253 1284h2.4M282 1479h2.4M274 1366h2.4M271 1330h2.4M278 1286h2.4M289 1261h2.4M308 1267h2.4M338 1275h2.4M329 1236h2.4M372 1347h2.4M366 1341h2.4M375 1321h2.4M359 1282h2.4M377 1306h2.4M366 1283h2.4M349 1258h2.4M380 1258h2.4M390 1362h2.4M394 1361h2.4M404 1362h2.4M417 1363h2.4M391 1313h2.4M393 1313h2.4M408 1314h2.4M419 1313h2.4M400 1302h2.4M408 1306h2.4M389 1259h2.4M415 1258h2.4M424 1350h2.4M429 1321h2.4M428 1314h2.4M447 1252h2.4M433 1245h2.4M501 1252h2.4M502 1243h2.4M559 1281h2.4M547 1276h2.4M548 1273h2.4M549 1269h2.4M552 1270h2.4M540 1257h2.4M544 1249h2.4M559 1265h2.4M599 1298h2.4M610 1298h2.4M600 1293h2.4M122 1279h2.4M152 1284h2.4M225 1356h2.4M243 1310h2.4M256 1307h2.4M218 1401h2.4M230 1509h2.4M179 1546h2.4M480 1188h2.4" stroke="#ffe500"/>
<path d="M482 1460h2.4M467 1346h2.4M470 1347h2.4M496 1370h2.4M490 1354h2.4M467 1343h2.4M471 1334h2.4M476 1330h2.4M482 1333h2.4M490 1338h2.4" stroke="#0073ff"/>
<path d="M254 1332h2.4M260 1319h2.4M256 1304h2.4M277 1468h2.4M277 1273h2.4M303 1260h2.4M301 1252h2.4M309 1259h2.4M320 1259h2.4M371 1339h2.4M381 1342h2.4M350 1284h2.4M348 1277h2.4M356 1253h2.4M390 1353h2.4M415 1363h2.4M419 1318h2.4M406 1261h2.4M427 1317h2.4M432 1321h2.4M466 1250h2.4M535 1257h2.4M513 1242h2.4M538 1254h2.4M601 1314h2.4M229 1286h2.4M200 1320h2.4M226 1382h2.4M281 1478h2.4M186 1497h2.4M612 1237h2.4" stroke="#ffd500"/>
<path d="M476 1355h2.4M490 1359h2.4M496 1357h2.4M494 1354h2.4M490 1347h2.4M495 1351h2.4M497 1347h2.4M472 1341h2.4M484 1337h2.4M495 1343h2.4" stroke="#0063ff"/>
<path d="M261 1381h2.4M341 1268h2.4M320 1236h2.4M381 1349h2.4M379 1347h2.4M376 1334h2.4M357 1259h2.4M398 1353h2.4M385 1314h2.4M400 1313h2.4M414 1314h2.4M414 1244h2.4M427 1346h2.4M428 1342h2.4M428 1259h2.4M436 1251h2.4M456 1252h2.4M446 1244h2.4M491 1243h2.4M553 1265h2.4M539 1250h2.4M543 1252h2.4M558 1268h2.4M560 1260h2.4M158 1255h2.4M203 1345h2.4M201 1365h2.4M182 1388h2.4M154 1396h2.4M179 1400h2.4M238 1469h2.4" stroke="#ffc400"/>
<path d="M494 1365h2.4M467 1333h2.4M499 1362h2.4" stroke="#0053ff"/>
<path d="M321 1274h2.4M311 1253h2.4M340 1252h2.4M311 1241h2.4M339 1243h2.4M375 1339h2.4M380 1338h2.4M374 1330h2.4M374 1318h2.4M388 1351h2.4M404 1357h2.4M419 1353h2.4M398 1309h2.4M423 1318h2.4M476 1243h2.4M501 1234h2.4M549 1262h2.4M553 1262h2.4M204 1409h2.4M131 1424h2.4M146 1438h2.4M514 1186h2.4M497 1187h2.4" stroke="#ffb400"/>
<path d="M475 1351h2.4M476 1341h2.4M475 1339h2.4M477 1334h2.4M482 1341h2.4M484 1342h2.4M500 1367h2.4" stroke="#0043ff"/>
<path d="M319 1250h2.4M331 1259h2.4M329 1250h2.4M330 1244h2.4M380 1317h2.4M349 1251h2.4M350 1228h2.4M379 1211h2.4M409 1359h2.4M389 1333h2.4M385 1319h2.4M398 1318h2.4M404 1314h2.4M389 1267h2.4M395 1249h2.4M424 1345h2.4M423 1341h2.4M429 1337h2.4M423 1322h2.4M452 1243h2.4M456 1193h2.4M464 1242h2.4M529 1257h2.4M530 1254h2.4M548 1258h2.4M551 1242h2.4M558 1243h2.4M561 1233h2.4M188 1346h2.4M179 1368h2.4M198 1431h2.4M221 1428h2.4M584 1182h2.4M534 1198h2.4M602 1288h2.4" stroke="#ffa400"/>
<path d="M482 1353h2.4M480 1351h2.4M485 1351h2.4M471 1337h2.4" stroke="#0033ff"/>
<path d="M320 1241h2.4M330 1227h2.4M339 1228h2.4M380 1334h2.4M379 1322h2.4M347 1269h2.4M369 1249h2.4M380 1252h2.4M348 1243h2.4M347 1219h2.4M380 1234h2.4M376 1227h2.4M413 1359h2.4M385 1334h2.4M386 1325h2.4M391 1317h2.4M407 1250h2.4M415 1252h2.4M398 1244h2.4M406 1236h2.4M398 1209h2.4M433 1203h2.4M491 1235h2.4M520 1242h2.4M522 1236h2.4M553 1280h2.4M552 1278h2.4M552 1257h2.4M197 1282h2.4M551 1184h2.4M557 1194h2.4" stroke="#ff9400"/>
<path d="M476 1346h2.4M482 1346h2.4" stroke="#0022ff"/>
<path d="M338 1233h2.4M366 1257h2.4M379 1243h2.4M389 1346h2.4M394 1351h2.4M399 1351h2.4M418 1351h2.4M395 1322h2.4M418 1321h2.4M396 1237h2.4M417 1203h2.4M427 1335h2.4M426 1235h2.4M447 1233h2.4M425 1200h2.4M553 1252h2.4M559 1249h2.4M607 1290h2.4M595 1208h2.4" stroke="#ff8400"/>
<path d="M490 1350h2.4" stroke="#0012ff"/>
<path d="M381 1329h2.4M351 1233h2.4M366 1227h2.4M367 1218h2.4M378 1220h2.4M390 1330h2.4M395 1217h2.4M404 1242h2.4M443 1228h2.4M474 1237h2.4M485 1234h2.4M529 1250h2.4M511 1236h2.4M501 1227h2.4M542 1242h2.4M610 1210h2.4" stroke="#ff7300"/>
<path d="M358 1241h2.4M360 1228h2.4M358 1220h2.4M394 1346h2.4M403 1353h2.4M409 1354h2.4M414 1353h2.4M418 1346h2.4M390 1337h2.4M407 1226h2.4M428 1330h2.4M435 1228h2.4M444 1201h2.4M462 1233h2.4M482 1201h2.4M534 1249h2.4M512 1217h2.4M502 1212h2.4M543 1236h2.4M542 1226h2.4" stroke="#ff6300"/>
<path d="M404 1322h2.4M403 1318h2.4M414 1322h2.4M386 1234h2.4M398 1225h2.4M435 1209h2.4M456 1204h2.4M493 1227h2.4M501 1219h2.4M512 1227h2.4M522 1225h2.4M514 1209h2.4" stroke="#ff5300"/>
<path d="M393 1329h2.4M394 1326h2.4M424 1225h2.4M433 1219h2.4M425 1211h2.4M453 1210h2.4M464 1201h2.4M533 1244h2.4" stroke="#ff4300"/>
<path d="M400 1346h2.4M399 1342h2.4M418 1325h2.4M407 1220h2.4M454 1226h2.4M492 1220h2.4M523 1219h2.4" stroke="#ff3300"/>
<path d="M409 1350h2.4M399 1322h2.4M419 1341h2.4M418 1226h2.4M415 1220h2.4M476 1227h2.4M465 1210h2.4" stroke="#ff2200"/>
<path d="M418 1338h2.4M418 1334h2.4M388 1227h2.4M418 1212h2.4M423 1330h2.4M455 1219h2.4M463 1228h2.4" stroke="#ff1200"/>
<path d="M414 1330h2.4M426 1219h2.4M462 1217h2.4" stroke="#ff0200"/>
<path d="M409 1346h2.4M396 1337h2.4M405 1342h2.4M413 1326h2.4M472 1209h2.4" stroke="#f10000"/>
<path d="M483 1211h2.4" stroke="#e10000"/>
<path d="M404 1345h2.4M400 1330h2.4M410 1342h2.4M405 1333h2.4M403 1330h2.4M408 1327h2.4M476 1218h2.4" stroke="#d00000"/>
<path d="M400 1337h2.4M413 1338h2.4" stroke="#c00000"/>
<path d="M413 1342h2.4" stroke="#b00000"/>
<path d="M409 1337h2.4M410 1334h2.4" stroke="#a00000"/>
<path d="M975 1337h2.4M975 1330h2.4M972 1271h2.4M984 1273h2.4M971 1266h2.4M983 1257h2.4M1013 1387h2.4M1020 1387h2.4M991 1372h2.4M992 1360h2.4M1003 1360h2.4M1011 1372h2.4M1003 1345h2.4M1001 1336h2.4M1002 1331h2.4M991 1312h2.4M995 1306h2.4M1001 1304h2.4M1013 1304h2.4M992 1280h2.4M991 1272h2.4M1003 1279h2.4M993 1258h2.4M1003 1264h2.4M1002 1255h2.4M1014 1264h2.4M1023 1256h2.4M994 1246h2.4M1003 1241h2.4M1013 1248h2.4M1012 1241h2.4M1022 1248h2.4M1021 1238h2.4M1013 1232h2.4M1022 1232h2.4M1030 1403h2.4M1042 1400h2.4M1030 1394h2.4M1051 1394h2.4M1031 1282h2.4M1039 1258h2.4M1041 1246h2.4M1043 1233h2.4M1050 1223h2.4M1059 1231h2.4M1068 1411h2.4M1078 1410h2.4M1090 1410h2.4M1099 1409h2.4M1073 1272h2.4M1081 1270h2.4M1078 1254h2.4M1090 1279h2.4M1098 1274h2.4M1089 1265h2.4M1090 1255h2.4M1081 1249h2.4M1079 1241h2.4M1071 1231h2.4M1081 1230h2.4M1089 1241h2.4M1097 1248h2.4M1091 1231h2.4M1101 1231h2.4M1111 1395h2.4M1119 1393h2.4M1125 1388h2.4M1127 1384h2.4M1135 1372h2.4M1140 1363h2.4M1120 1265h2.4M1120 1256h2.4M1108 1229h2.4" stroke="#47ffb8"/>
<path d="M1003 1352h2.4M1021 1378h2.4M1012 1361h2.4M1012 1353h2.4M1002 1320h2.4M1012 1331h2.4M1003 1315h2.4M1002 1298h2.4M1000 1288h2.4M1012 1314h2.4M1022 1304h2.4M1010 1297h2.4M1013 1287h2.4M1020 1288h2.4M1003 1272h2.4M1010 1279h2.4M1010 1270h2.4M1021 1280h2.4M1024 1273h2.4M1012 1255h2.4M1003 1246h2.4M1029 1386h2.4M1040 1394h2.4M1040 1387h2.4M1062 1408h2.4M1033 1378h2.4M1033 1289h2.4M1030 1273h2.4M1032 1263h2.4M1031 1255h2.4M1040 1264h2.4M1049 1262h2.4M1052 1254h2.4M1063 1263h2.4M1063 1257h2.4M1034 1237h2.4M1033 1233h2.4M1030 1224h2.4M1041 1225h2.4M1062 1248h2.4M1063 1239h2.4M1049 1231h2.4M1071 1402h2.4M1082 1403h2.4M1088 1401h2.4M1099 1395h2.4M1072 1264h2.4M1069 1239h2.4M1128 1379h2.4M1136 1367h2.4" stroke="#57ffa8"/>
<path d="M936 1338h2.4M981 1377h2.4M980 1368h2.4M973 1361h2.4M972 1354h2.4M984 1363h2.4M981 1354h2.4M963 1339h2.4M972 1344h2.4M983 1337h2.4M973 1320h2.4M982 1327h2.4M981 1323h2.4M956 1302h2.4M963 1312h2.4M964 1306h2.4M951 1297h2.4M960 1291h2.4M972 1311h2.4M975 1303h2.4M985 1312h2.4M982 1305h2.4M971 1289h2.4M981 1296h2.4M984 1290h2.4M973 1280h2.4M982 1278h2.4M985 1265h2.4M1004 1412h2.4M1010 1410h2.4M1014 1400h2.4M1023 1411h2.4M1020 1402h2.4M1013 1394h2.4M1021 1396h2.4M994 1378h2.4M1001 1379h2.4M991 1352h2.4M1012 1376h2.4M991 1345h2.4M994 1339h2.4M993 1331h2.4M994 1320h2.4M992 1288h2.4M991 1264h2.4M1053 1441h2.4M1051 1425h2.4M1051 1419h2.4M1060 1425h2.4M1039 1412h2.4M1049 1409h2.4M1050 1403h2.4M1031 1247h2.4M1062 1224h2.4M1062 1216h2.4M1071 1442h2.4M1072 1420h2.4M1078 1428h2.4M1080 1418h2.4M1100 1287h2.4M1091 1272h2.4M1099 1263h2.4M1099 1256h2.4M1078 1221h2.4M1088 1247h2.4M1090 1225h2.4M1099 1225h2.4M1081 1213h2.4M1101 1217h2.4M1101 1207h2.4M1111 1409h2.4M1111 1403h2.4M1120 1411h2.4M1121 1401h2.4M1130 1409h2.4M1126 1392h2.4M1140 1368h2.4M1141 1359h2.4M1108 1281h2.4M1110 1273h2.4M1112 1264h2.4M1130 1270h2.4M1130 1266h2.4M1131 1257h2.4M1137 1264h2.4M1109 1240h2.4M1117 1250h2.4M1110 1224h2.4M1119 1233h2.4M1117 1224h2.4M1130 1249h2.4M1136 1248h2.4M1109 1216h2.4M1109 1205h2.4M1119 1213h2.4M1117 1207h2.4M1146 1222h2.4M1167 1215h2.4M938 1312h2.4M949 1311h2.4" stroke="#37ffc8"/>
<path d="M1022 1370h2.4M1011 1344h2.4M1014 1339h2.4M1013 1322h2.4M1021 1327h2.4M1023 1311h2.4M1020 1295h2.4M1050 1385h2.4M1062 1394h2.4M1042 1287h2.4M1049 1288h2.4M1043 1273h2.4M1050 1279h2.4M1053 1274h2.4M1061 1278h2.4M1058 1274h2.4M1072 1396h2.4M1078 1396h2.4M1089 1393h2.4M1111 1386h2.4M1127 1372h2.4M1130 1369h2.4M1137 1363h2.4M1130 1344h2.4M1108 1306h2.4" stroke="#67ff98"/>
<path d="M943 1387h2.4M937 1309h2.4M934 1289h2.4M981 1507h2.4M977 1491h2.4M975 1417h2.4M981 1425h2.4M973 1410h2.4M981 1410h2.4M981 1404h2.4M973 1394h2.4M973 1386h2.4M980 1392h2.4M982 1387h2.4M955 1372h2.4M951 1361h2.4M962 1361h2.4M962 1353h2.4M972 1379h2.4M952 1327h2.4M951 1323h2.4M965 1330h2.4M963 1321h2.4M955 1315h2.4M962 1295h2.4M959 1278h2.4M1011 1521h2.4M1012 1483h2.4M1019 1470h2.4M1009 1450h2.4M1022 1458h2.4M1005 1444h2.4M1002 1418h2.4M1010 1444h2.4M1011 1435h2.4M1024 1435h2.4M1014 1428h2.4M1010 1420h2.4M1020 1428h2.4M1023 1420h2.4M993 1409h2.4M1003 1402h2.4M994 1395h2.4M1001 1394h2.4M1004 1387h2.4M1033 1474h2.4M1030 1465h2.4M1039 1477h2.4M1030 1460h2.4M1039 1458h2.4M1053 1467h2.4M1061 1466h2.4M1053 1461h2.4M1050 1452h2.4M1061 1459h2.4M1040 1444h2.4M1041 1436h2.4M1033 1427h2.4M1032 1418h2.4M1042 1427h2.4M1043 1420h2.4M1053 1436h2.4M1059 1441h2.4M1061 1435h2.4M1030 1411h2.4M1077 1522h2.4M1080 1507h2.4M1070 1493h2.4M1071 1485h2.4M1078 1492h2.4M1088 1502h2.4M1082 1475h2.4M1069 1460h2.4M1072 1452h2.4M1079 1459h2.4M1082 1452h2.4M1099 1466h2.4M1092 1457h2.4M1089 1452h2.4M1099 1460h2.4M1101 1450h2.4M1082 1444h2.4M1078 1433h2.4M1071 1427h2.4M1092 1445h2.4M1089 1434h2.4M1100 1436h2.4M1090 1426h2.4M1088 1420h2.4M1098 1425h2.4M1101 1420h2.4M1102 1281h2.4M1115 1537h2.4M1111 1499h2.4M1118 1499h2.4M1121 1491h2.4M1130 1499h2.4M1107 1453h2.4M1130 1459h2.4M1108 1418h2.4M1118 1418h2.4M1130 1441h2.4M1129 1434h2.4M1138 1443h2.4M1138 1433h2.4M1131 1425h2.4M1128 1418h2.4M1138 1412h2.4M1127 1397h2.4M1130 1391h2.4M1131 1384h2.4M1136 1350h2.4M1123 1327h2.4M1117 1318h2.4M1112 1309h2.4M1107 1299h2.4M1107 1293h2.4M1107 1289h2.4M1120 1282h2.4M1121 1271h2.4M1129 1278h2.4M1137 1279h2.4M1140 1257h2.4M1131 1238h2.4M1127 1233h2.4M1139 1231h2.4M1139 1224h2.4M1128 1205h2.4M1137 1214h2.4M1140 1197h2.4M1160 1510h2.4M1156 1499h2.4M1147 1469h2.4M1169 1461h2.4M1178 1460h2.4M1156 1435h2.4M1168 1289h2.4M1150 1279h2.4M1146 1271h2.4M1158 1281h2.4M1158 1273h2.4M1150 1255h2.4M1158 1257h2.4M1168 1278h2.4M1166 1274h2.4M1169 1265h2.4M1170 1255h2.4M1179 1254h2.4M1159 1241h2.4M1147 1233h2.4M1160 1232h2.4M1160 1223h2.4M1176 1247h2.4M1176 1240h2.4M1178 1232h2.4M1176 1224h2.4M1156 1214h2.4M1166 1206h2.4M1185 1506h2.4M1186 1498h2.4M1197 1498h2.4M1206 1484h2.4M1188 1467h2.4M1195 1460h2.4M1196 1453h2.4M1215 1475h2.4M1185 1436h2.4M1199 1436h2.4M1199 1262h2.4M1195 1255h2.4M1206 1273h2.4M1214 1271h2.4M1207 1264h2.4M1187 1247h2.4M1186 1239h2.4M1198 1247h2.4M1196 1241h2.4M1186 1232h2.4M1186 1223h2.4M1197 1231h2.4M1218 1248h2.4M1186 1217h2.4M1227 1493h2.4M1228 1485h2.4M1235 1482h2.4M1227 1476h2.4M1227 1231h2.4M1275 1476h2.4M1274 1467h2.4M1284 1476h2.4M1283 1469h2.4M1282 1460h2.4M833 1289h2.4M909 1252h2.4M911 1291h2.4M869 1351h2.4M906 1361h2.4M905 1317h2.4M925 1316h2.4M879 1437h2.4M958 1511h2.4M1018 1508h2.4M1023 1518h2.4M1102 1544h2.4M1076 1541h2.4M1199 1191h2.4M1165 1192h2.4M1296 1214h2.4M1345 1469h2.4" stroke="#26ffd9"/>
<path d="M1023 1360h2.4M1022 1353h2.4M1021 1335h2.4M1063 1386h2.4M1041 1378h2.4M1031 1305h2.4M1032 1297h2.4M1042 1295h2.4M1100 1296h2.4M1070 1279h2.4M1081 1280h2.4M1120 1380h2.4M1127 1368h2.4M1131 1364h2.4M1133 1351h2.4" stroke="#77ff88"/>
<path d="M941 1486h2.4M935 1474h2.4M936 1453h2.4M938 1419h2.4M933 1408h2.4M943 1371h2.4M942 1324h2.4M964 1486h2.4M960 1456h2.4M978 1474h2.4M961 1418h2.4M974 1436h2.4M974 1428h2.4M961 1393h2.4M974 1403h2.4M951 1378h2.4M963 1375h2.4M963 1369h2.4M972 1371h2.4M951 1347h2.4M953 1335h2.4M1000 1488h2.4M1010 1458h2.4M1021 1450h2.4M993 1443h2.4M1004 1434h2.4M990 1427h2.4M994 1417h2.4M993 1401h2.4M992 1386h2.4M1038 1518h2.4M1061 1525h2.4M1034 1501h2.4M1061 1492h2.4M1043 1449h2.4M1052 1477h2.4M1061 1477h2.4M1061 1452h2.4M1034 1443h2.4M1031 1435h2.4M1100 1532h2.4M1100 1517h2.4M1091 1509h2.4M1100 1508h2.4M1088 1493h2.4M1102 1490h2.4M1100 1485h2.4M1069 1475h2.4M1071 1468h2.4M1089 1475h2.4M1101 1474h2.4M1101 1443h2.4M1118 1524h2.4M1130 1539h2.4M1107 1493h2.4M1118 1484h2.4M1127 1505h2.4M1138 1500h2.4M1129 1492h2.4M1131 1484h2.4M1137 1490h2.4M1140 1483h2.4M1108 1475h2.4M1108 1467h2.4M1121 1474h2.4M1119 1466h2.4M1109 1458h2.4M1120 1461h2.4M1119 1451h2.4M1130 1474h2.4M1129 1468h2.4M1138 1475h2.4M1131 1452h2.4M1140 1460h2.4M1140 1449h2.4M1108 1444h2.4M1108 1436h2.4M1121 1445h2.4M1108 1428h2.4M1119 1426h2.4M1138 1418h2.4M1131 1396h2.4M1139 1379h2.4M1121 1322h2.4M1111 1306h2.4M1112 1298h2.4M1112 1294h2.4M1127 1296h2.4M1132 1300h2.4M1131 1296h2.4M1128 1288h2.4M1135 1294h2.4M1141 1290h2.4M1140 1209h2.4M1149 1510h2.4M1148 1493h2.4M1160 1492h2.4M1157 1483h2.4M1169 1499h2.4M1176 1510h2.4M1177 1501h2.4M1170 1492h2.4M1167 1482h2.4M1175 1492h2.4M1177 1485h2.4M1147 1476h2.4M1157 1475h2.4M1160 1468h2.4M1149 1458h2.4M1158 1458h2.4M1159 1449h2.4M1166 1476h2.4M1167 1466h2.4M1177 1466h2.4M1167 1451h2.4M1176 1449h2.4M1157 1441h2.4M1167 1444h2.4M1177 1443h2.4M1175 1433h2.4M1179 1426h2.4M1176 1403h2.4M1165 1396h2.4M1171 1396h2.4M1169 1392h2.4M1175 1395h2.4M1147 1372h2.4M1157 1287h2.4M1148 1265h2.4M1157 1264h2.4M1179 1280h2.4M1177 1271h2.4M1178 1264h2.4M1149 1247h2.4M1146 1238h2.4M1160 1247h2.4M1170 1239h2.4M1149 1215h2.4M1148 1206h2.4M1199 1510h2.4M1186 1490h2.4M1196 1492h2.4M1198 1484h2.4M1208 1498h2.4M1215 1499h2.4M1205 1490h2.4M1218 1494h2.4M1217 1485h2.4M1199 1476h2.4M1196 1465h2.4M1186 1457h2.4M1187 1451h2.4M1207 1475h2.4M1204 1452h2.4M1217 1461h2.4M1217 1453h2.4M1185 1444h2.4M1196 1443h2.4M1188 1427h2.4M1185 1420h2.4M1207 1443h2.4M1218 1428h2.4M1217 1418h2.4M1205 1410h2.4M1187 1288h2.4M1207 1295h2.4M1187 1271h2.4M1197 1272h2.4M1185 1263h2.4M1185 1257h2.4M1214 1275h2.4M1204 1256h2.4M1215 1259h2.4M1214 1255h2.4M1219 1254h2.4M1196 1222h2.4M1205 1247h2.4M1206 1241h2.4M1199 1214h2.4M1224 1498h2.4M1237 1500h2.4M1238 1490h2.4M1244 1499h2.4M1243 1492h2.4M1253 1482h2.4M1225 1468h2.4M1236 1477h2.4M1235 1467h2.4M1225 1457h2.4M1237 1461h2.4M1236 1452h2.4M1244 1476h2.4M1244 1467h2.4M1254 1466h2.4M1247 1460h2.4M1242 1453h2.4M1243 1449h2.4M1248 1448h2.4M1253 1460h2.4M1258 1449h2.4M1228 1443h2.4M1256 1442h2.4M1224 1274h2.4M1222 1270h2.4M1227 1270h2.4M1233 1278h2.4M1224 1266h2.4M1225 1262h2.4M1229 1262h2.4M1238 1267h2.4M1237 1262h2.4M1247 1270h2.4M1246 1265h2.4M1244 1254h2.4M1253 1257h2.4M1227 1246h2.4M1228 1241h2.4M1255 1247h2.4M1264 1485h2.4M1275 1493h2.4M1274 1482h2.4M1283 1482h2.4M1296 1485h2.4M1263 1475h2.4M1263 1469h2.4M1262 1466h2.4M1268 1466h2.4M1266 1461h2.4M1265 1453h2.4M1276 1460h2.4M1273 1452h2.4M1282 1466h2.4M1287 1470h2.4M1286 1466h2.4M1293 1470h2.4M1292 1466h2.4M1296 1469h2.4M1282 1457h2.4M1287 1461h2.4M1286 1457h2.4M1282 1452h2.4M1288 1448h2.4M1291 1449h2.4M1283 1445h2.4M1287 1434h2.4M1282 1426h2.4M1263 1256h2.4M1305 1475h2.4M1305 1465h2.4M1302 1458h2.4M1306 1452h2.4M1312 1426h2.4M802 1284h2.4M839 1260h2.4M876 1257h2.4M823 1325h2.4M881 1325h2.4M884 1350h2.4M832 1361h2.4M860 1374h2.4M883 1371h2.4M863 1394h2.4M885 1390h2.4M907 1388h2.4M834 1402h2.4M860 1406h2.4M885 1414h2.4M899 1407h2.4M827 1444h2.4M902 1434h2.4M902 1448h2.4M919 1475h2.4M944 1483h2.4M963 1484h2.4M912 1515h2.4M859 1552h2.4M928 1546h2.4M1000 1549h2.4M990 1510h2.4M1065 1522h2.4M1077 1523h2.4M1093 1551h2.4M1237 1188h2.4M1270 1187h2.4M1182 1191h2.4M1242 1198h2.4M1219 1202h2.4M1280 1213h2.4M1298 1242h2.4M1332 1412h2.4M1335 1452h2.4M1320 1479h2.4M1326 1468h2.4" stroke="#16ffe9"/>
<path d="M1021 1323h2.4M1031 1368h2.4M1032 1312h2.4M1068 1385h2.4M1088 1388h2.4M1093 1387h2.4M1102 1388h2.4M1132 1360h2.4M1133 1354h2.4M1127 1339h2.4" stroke="#88ff77"/>
<path d="M939 1442h2.4M959 1474h2.4M974 1456h2.4M960 1434h2.4M984 1420h2.4M995 1507h2.4M1001 1453h2.4M1039 1488h2.4M1033 1450h2.4M1082 1485h2.4M1099 1498h2.4M1091 1485h2.4M1119 1507h2.4M1140 1507h2.4M1140 1400h2.4M1132 1388h2.4M1127 1332h2.4M1112 1302h2.4M1115 1310h2.4M1116 1295h2.4M1147 1501h2.4M1150 1485h2.4M1168 1509h2.4M1176 1475h2.4M1146 1445h2.4M1147 1437h2.4M1169 1434h2.4M1179 1417h2.4M1147 1402h2.4M1167 1402h2.4M1179 1409h2.4M1146 1293h2.4M1151 1293h2.4M1164 1298h2.4M1166 1295h2.4M1176 1298h2.4M1185 1485h2.4M1185 1476h2.4M1204 1465h2.4M1209 1459h2.4M1199 1426h2.4M1196 1417h2.4M1209 1436h2.4M1217 1443h2.4M1215 1435h2.4M1205 1427h2.4M1208 1418h2.4M1185 1411h2.4M1188 1403h2.4M1197 1410h2.4M1197 1402h2.4M1188 1393h2.4M1187 1306h2.4M1195 1311h2.4M1185 1298h2.4M1197 1289h2.4M1207 1289h2.4M1218 1296h2.4M1218 1289h2.4M1189 1281h2.4M1199 1282h2.4M1215 1282h2.4M1220 1269h2.4M1215 1265h2.4M1214 1262h2.4M1220 1262h2.4M1207 1229h2.4M1208 1223h2.4M1225 1453h2.4M1237 1444h2.4M1234 1434h2.4M1225 1428h2.4M1225 1418h2.4M1246 1441h2.4M1248 1434h2.4M1254 1433h2.4M1247 1417h2.4M1256 1428h2.4M1254 1419h2.4M1226 1403h2.4M1244 1401h2.4M1254 1410h2.4M1224 1294h2.4M1228 1299h2.4M1228 1294h2.4M1223 1291h2.4M1227 1289h2.4M1233 1298h2.4M1234 1295h2.4M1239 1285h2.4M1224 1283h2.4M1230 1273h2.4M1232 1281h2.4M1238 1283h2.4M1235 1274h2.4M1232 1269h2.4M1237 1275h2.4M1239 1270h2.4M1227 1265h2.4M1223 1258h2.4M1224 1254h2.4M1228 1257h2.4M1229 1254h2.4M1234 1267h2.4M1233 1263h2.4M1238 1257h2.4M1244 1270h2.4M1248 1274h2.4M1254 1278h2.4M1236 1247h2.4M1243 1248h2.4M1247 1238h2.4M1295 1476h2.4M1296 1466h2.4M1292 1462h2.4M1292 1456h2.4M1296 1460h2.4M1298 1456h2.4M1297 1449h2.4M1265 1436h2.4M1275 1441h2.4M1276 1433h2.4M1265 1426h2.4M1295 1435h2.4M1283 1418h2.4M1295 1425h2.4M1283 1408h2.4M1293 1410h2.4M1266 1281h2.4M1264 1274h2.4M1273 1273h2.4M1266 1265h2.4M1316 1451h2.4M1305 1444h2.4M1302 1436h2.4M1316 1443h2.4M1313 1433h2.4M1305 1426h2.4M1312 1420h2.4M1323 1428h2.4M1323 1411h2.4M878 1287h2.4M808 1335h2.4M812 1430h2.4M867 1503h2.4M1040 1522h2.4M1288 1242h2.4M1335 1429h2.4" stroke="#06fff9"/>
<path d="M1043 1369h2.4M1032 1362h2.4M1030 1355h2.4M1030 1331h2.4M1030 1319h2.4M1042 1305h2.4M1051 1297h2.4M1061 1294h2.4M1087 1383h2.4M1091 1384h2.4M1097 1385h2.4M1103 1383h2.4M1082 1290h2.4M1103 1302h2.4M1090 1290h2.4M1106 1380h2.4M1111 1379h2.4M1127 1364h2.4M1122 1330h2.4M1113 1316h2.4" stroke="#98ff67"/>
<path d="M1135 1396h2.4M1136 1393h2.4M1135 1387h2.4M1135 1385h2.4M1116 1306h2.4M1122 1301h2.4M1118 1299h2.4M1120 1299h2.4M1120 1295h2.4M1127 1302h2.4M1132 1303h2.4M1135 1302h2.4M1127 1299h2.4M1141 1299h2.4M1160 1426h2.4M1158 1403h2.4M1155 1396h2.4M1160 1396h2.4M1164 1391h2.4M1164 1388h2.4M1165 1383h2.4M1169 1387h2.4M1169 1383h2.4M1176 1388h2.4M1176 1383h2.4M1157 1379h2.4M1146 1363h2.4M1165 1381h2.4M1150 1302h2.4M1146 1298h2.4M1150 1298h2.4M1155 1299h2.4M1156 1293h2.4M1160 1297h2.4M1159 1296h2.4M1170 1302h2.4M1179 1305h2.4M1169 1299h2.4M1217 1410h2.4M1218 1404h2.4M1206 1393h2.4M1200 1311h2.4M1198 1305h2.4M1210 1311h2.4M1207 1306h2.4M1219 1303h2.4M1238 1426h2.4M1234 1419h2.4M1245 1427h2.4M1227 1409h2.4M1237 1403h2.4M1227 1312h2.4M1225 1306h2.4M1224 1299h2.4M1228 1286h2.4M1239 1294h2.4M1233 1291h2.4M1232 1287h2.4M1239 1291h2.4M1244 1286h2.4M1247 1290h2.4M1247 1285h2.4M1253 1293h2.4M1253 1290h2.4M1254 1287h2.4M1258 1287h2.4M1249 1282h2.4M1244 1273h2.4M1256 1273h2.4M1265 1419h2.4M1273 1417h2.4M1292 1419h2.4M1263 1411h2.4M1274 1412h2.4M1276 1404h2.4M1277 1287h2.4M1293 1295h2.4M1275 1280h2.4M1283 1280h2.4M1302 1411h2.4M1314 1412h2.4M1314 1402h2.4M1323 1404h2.4M1324 1395h2.4M1325 1388h2.4M1327 1384h2.4M1317 1379h2.4M1320 1375h2.4M1326 1381h2.4M1325 1375h2.4M1327 1367h2.4M1290 1258h2.4M1298 1258h2.4M1293 1273h2.4M1302 1273h2.4M1296 1284h2.4M1305 1284h2.4M1318 1317h2.4M1326 1373h2.4M1327 1388h2.4" stroke="#00f5ff"/>
<path d="M1052 1376h2.4M1031 1345h2.4M1034 1338h2.4M1043 1312h2.4M1103 1380h2.4M1117 1369h2.4M1126 1359h2.4M1127 1354h2.4M1116 1322h2.4M1127 1347h2.4M1127 1343h2.4" stroke="#a8ff57"/>
<path d="M1141 1383h2.4M1120 1314h2.4M1125 1314h2.4M1159 1389h2.4M1159 1383h2.4M1168 1409h2.4M1180 1389h2.4M1180 1384h2.4M1148 1379h2.4M1156 1375h2.4M1160 1379h2.4M1166 1376h2.4M1172 1380h2.4M1171 1375h2.4M1174 1380h2.4M1155 1301h2.4M1166 1304h2.4M1170 1306h2.4M1190 1388h2.4M1195 1388h2.4M1215 1394h2.4M1218 1330h2.4M1219 1328h2.4M1214 1318h2.4M1199 1315h2.4M1204 1315h2.4M1205 1311h2.4M1210 1316h2.4M1213 1315h2.4M1214 1312h2.4M1219 1315h2.4M1218 1311h2.4M1227 1396h2.4M1236 1394h2.4M1255 1403h2.4M1248 1393h2.4M1247 1386h2.4M1226 1322h2.4M1233 1306h2.4M1238 1306h2.4M1237 1302h2.4M1244 1307h2.4M1248 1303h2.4M1252 1315h2.4M1254 1302h2.4M1258 1307h2.4M1247 1298h2.4M1248 1294h2.4M1257 1299h2.4M1259 1291h2.4M1263 1401h2.4M1273 1392h2.4M1285 1401h2.4M1294 1403h2.4M1285 1377h2.4M1292 1377h2.4M1297 1372h2.4M1282 1319h2.4M1263 1303h2.4M1268 1306h2.4M1263 1289h2.4M1296 1303h2.4M1286 1298h2.4M1283 1289h2.4M1297 1288h2.4M1304 1402h2.4M1303 1396h2.4M1307 1384h2.4M1313 1394h2.4M1311 1388h2.4M1315 1384h2.4M1321 1387h2.4M1320 1384h2.4M1311 1381h2.4M1311 1371h2.4M1311 1367h2.4M1315 1369h2.4M1301 1364h2.4M1308 1360h2.4M1311 1359h2.4M1316 1359h2.4M1316 1355h2.4M1320 1381h2.4M1320 1371h2.4M1320 1367h2.4M1320 1359h2.4M1325 1363h2.4M1307 1335h2.4M1314 1338h2.4M1305 1330h2.4M1314 1328h2.4M1304 1306h2.4M1306 1297h2.4M1288 1293h2.4M1305 1295h2.4M1312 1306h2.4M1318 1335h2.4M1324 1351h2.4" stroke="#00e5ff"/>
<path d="M1069 1379h2.4M1072 1379h2.4M1077 1379h2.4M1091 1380h2.4M1103 1376h2.4M1107 1376h2.4M1111 1375h2.4M1126 1351h2.4M1107 1310h2.4" stroke="#b8ff47"/>
<path d="M1141 1397h2.4M1137 1344h2.4M1127 1326h2.4M1125 1323h2.4M1127 1318h2.4M1126 1310h2.4M1130 1315h2.4M1131 1311h2.4M1131 1307h2.4M1140 1310h2.4M1135 1307h2.4M1142 1306h2.4M1150 1410h2.4M1150 1383h2.4M1155 1383h2.4M1161 1375h2.4M1156 1371h2.4M1154 1368h2.4M1147 1359h2.4M1164 1373h2.4M1179 1379h2.4M1150 1307h2.4M1162 1307h2.4M1161 1302h2.4M1166 1308h2.4M1179 1312h2.4M1185 1388h2.4M1190 1385h2.4M1204 1388h2.4M1210 1389h2.4M1183 1380h2.4M1196 1318h2.4M1199 1319h2.4M1204 1322h2.4M1203 1318h2.4M1219 1323h2.4M1185 1315h2.4M1195 1315h2.4M1253 1386h2.4M1254 1377h2.4M1224 1335h2.4M1223 1327h2.4M1229 1330h2.4M1238 1327h2.4M1236 1321h2.4M1244 1336h2.4M1248 1339h2.4M1247 1335h2.4M1242 1326h2.4M1248 1327h2.4M1242 1323h2.4M1243 1318h2.4M1247 1322h2.4M1248 1318h2.4M1252 1327h2.4M1257 1332h2.4M1253 1323h2.4M1252 1319h2.4M1259 1319h2.4M1238 1313h2.4M1244 1314h2.4M1242 1310h2.4M1248 1310h2.4M1242 1303h2.4M1249 1307h2.4M1252 1310h2.4M1259 1311h2.4M1254 1307h2.4M1267 1393h2.4M1263 1386h2.4M1272 1386h2.4M1294 1395h2.4M1297 1387h2.4M1265 1378h2.4M1267 1371h2.4M1275 1379h2.4M1282 1372h2.4M1283 1368h2.4M1286 1371h2.4M1286 1369h2.4M1291 1380h2.4M1298 1380h2.4M1297 1376h2.4M1291 1372h2.4M1293 1367h2.4M1296 1368h2.4M1288 1360h2.4M1297 1364h2.4M1295 1359h2.4M1293 1356h2.4M1298 1355h2.4M1269 1342h2.4M1263 1339h2.4M1263 1336h2.4M1267 1339h2.4M1273 1340h2.4M1273 1334h2.4M1262 1326h2.4M1268 1327h2.4M1264 1319h2.4M1268 1323h2.4M1277 1330h2.4M1277 1326h2.4M1271 1323h2.4M1274 1319h2.4M1278 1318h2.4M1292 1338h2.4M1291 1335h2.4M1296 1340h2.4M1298 1335h2.4M1282 1332h2.4M1284 1327h2.4M1282 1322h2.4M1288 1322h2.4M1287 1319h2.4M1296 1331h2.4M1298 1327h2.4M1296 1322h2.4M1267 1311h2.4M1267 1303h2.4M1278 1314h2.4M1276 1310h2.4M1285 1314h2.4M1285 1303h2.4M1302 1387h2.4M1301 1383h2.4M1306 1388h2.4M1310 1383h2.4M1308 1380h2.4M1308 1375h2.4M1301 1368h2.4M1306 1371h2.4M1306 1367h2.4M1312 1376h2.4M1302 1359h2.4M1307 1364h2.4M1300 1357h2.4M1312 1352h2.4M1317 1352h2.4M1326 1360h2.4M1322 1354h2.4M1307 1348h2.4M1306 1342h2.4M1301 1339h2.4M1302 1334h2.4M1305 1339h2.4M1311 1347h2.4M1311 1343h2.4M1316 1347h2.4M1317 1343h2.4M1305 1321h2.4M1303 1313h2.4" stroke="#00d4ff"/>
<path d="M1039 1354h2.4M1050 1370h2.4M1039 1320h2.4M1083 1379h2.4M1086 1379h2.4M1079 1295h2.4M1090 1296h2.4M1111 1371h2.4M1112 1368h2.4" stroke="#c8ff37"/>
<path d="M1131 1331h2.4M1131 1318h2.4M1137 1311h2.4M1167 1419h2.4M1146 1384h2.4M1155 1388h2.4M1160 1371h2.4M1152 1364h2.4M1155 1363h2.4M1176 1375h2.4M1174 1372h2.4M1145 1314h2.4M1146 1310h2.4M1151 1311h2.4M1166 1312h2.4M1170 1311h2.4M1185 1383h2.4M1200 1384h2.4M1209 1383h2.4M1214 1387h2.4M1199 1380h2.4M1204 1380h2.4M1213 1380h2.4M1219 1381h2.4M1199 1323h2.4M1218 1339h2.4M1218 1335h2.4M1208 1323h2.4M1209 1319h2.4M1215 1331h2.4M1234 1385h2.4M1228 1378h2.4M1234 1379h2.4M1237 1368h2.4M1238 1351h2.4M1247 1376h2.4M1243 1370h2.4M1257 1368h2.4M1247 1362h2.4M1243 1356h2.4M1242 1351h2.4M1248 1355h2.4M1257 1363h2.4M1256 1353h2.4M1230 1344h2.4M1225 1340h2.4M1228 1338h2.4M1237 1344h2.4M1234 1340h2.4M1232 1335h2.4M1238 1335h2.4M1223 1331h2.4M1244 1339h2.4M1254 1343h2.4M1258 1337h2.4M1244 1330h2.4M1247 1331h2.4M1259 1328h2.4M1259 1324h2.4M1248 1315h2.4M1273 1372h2.4M1266 1361h2.4M1263 1354h2.4M1273 1363h2.4M1273 1354h2.4M1272 1351h2.4M1277 1355h2.4M1279 1351h2.4M1282 1360h2.4M1287 1362h2.4M1288 1356h2.4M1288 1352h2.4M1292 1359h2.4M1292 1351h2.4M1298 1351h2.4M1263 1348h2.4M1264 1343h2.4M1267 1348h2.4M1273 1348h2.4M1271 1343h2.4M1277 1338h2.4M1278 1334h2.4M1267 1332h2.4M1272 1327h2.4M1277 1322h2.4M1283 1343h2.4M1283 1338h2.4M1288 1334h2.4M1292 1346h2.4M1293 1344h2.4M1296 1344h2.4M1288 1330h2.4M1293 1327h2.4M1263 1310h2.4M1272 1314h2.4M1272 1310h2.4M1292 1314h2.4M1302 1379h2.4M1302 1376h2.4M1303 1372h2.4M1302 1350h2.4M1307 1351h2.4M1303 1347h2.4" stroke="#00c4ff"/>
<path d="M1059 1373h2.4M1053 1306h2.4M1058 1303h2.4M1068 1375h2.4M1072 1375h2.4M1077 1375h2.4M1103 1372h2.4M1070 1296h2.4M1106 1371h2.4" stroke="#d9ff26"/>
<path d="M1142 1387h2.4M1142 1348h2.4M1137 1339h2.4M1135 1334h2.4M1132 1326h2.4M1132 1322h2.4M1135 1315h2.4M1141 1316h2.4M1151 1391h2.4M1147 1388h2.4M1151 1387h2.4M1151 1359h2.4M1150 1356h2.4M1165 1367h2.4M1180 1375h2.4M1145 1318h2.4M1151 1315h2.4M1170 1315h2.4M1190 1376h2.4M1194 1376h2.4M1200 1377h2.4M1210 1376h2.4M1215 1376h2.4M1218 1375h2.4M1199 1326h2.4M1214 1339h2.4M1214 1335h2.4M1225 1368h2.4M1223 1351h2.4M1228 1355h2.4M1235 1364h2.4M1239 1364h2.4M1237 1360h2.4M1232 1356h2.4M1233 1350h2.4M1223 1342h2.4M1234 1348h2.4M1239 1347h2.4M1244 1347h2.4M1248 1346h2.4M1249 1343h2.4M1281 1362h2.4M1281 1355h2.4M1281 1351h2.4M1278 1348h2.4M1287 1347h2.4" stroke="#00b4ff"/>
<path d="M1091 1376h2.4M1098 1372h2.4M1097 1302h2.4M1103 1306h2.4" stroke="#e9ff16"/>
<path d="M1141 1344h2.4M1137 1327h2.4M1137 1320h2.4M1142 1323h2.4M1140 1318h2.4M1160 1418h2.4M1160 1364h2.4M1160 1360h2.4M1179 1371h2.4M1146 1346h2.4M1146 1322h2.4M1150 1319h2.4M1159 1315h2.4M1166 1315h2.4M1185 1372h2.4M1194 1371h2.4M1204 1376h2.4M1185 1322h2.4M1194 1327h2.4M1199 1331h2.4M1194 1324h2.4M1215 1343h2.4M1223 1356h2.4M1227 1351h2.4M1225 1348h2.4" stroke="#00a4ff"/>
<path d="M1058 1367h2.4M1048 1355h2.4M1042 1346h2.4M1041 1338h2.4M1043 1329h2.4M1071 1372h2.4M1088 1375h2.4M1111 1364h2.4M1121 1347h2.4" stroke="#f9ff06"/>
<path d="M1141 1332h2.4M1151 1351h2.4M1157 1359h2.4M1157 1356h2.4M1155 1352h2.4M1159 1356h2.4M1179 1367h2.4M1174 1364h2.4M1146 1343h2.4M1155 1318h2.4M1164 1318h2.4M1171 1319h2.4M1190 1371h2.4M1204 1371h2.4M1208 1372h2.4M1210 1368h2.4M1214 1368h2.4M1198 1335h2.4M1189 1327h2.4M1193 1330h2.4M1205 1343h2.4M1210 1347h2.4M1209 1342h2.4M1207 1336h2.4M1225 1363h2.4" stroke="#0094ff"/>
<path d="M1048 1351h2.4M1078 1371h2.4M1092 1371h2.4M1098 1369h2.4M1101 1368h2.4M1112 1360h2.4M1118 1355h2.4M1112 1319h2.4" stroke="#fff500"/>
<path d="M1166 1359h2.4M1151 1348h2.4M1146 1334h2.4M1147 1332h2.4M1147 1327h2.4M1151 1326h2.4M1151 1324h2.4M1160 1323h2.4M1165 1323h2.4M1169 1322h2.4M1174 1326h2.4M1177 1323h2.4M1184 1367h2.4M1191 1367h2.4M1194 1368h2.4M1200 1364h2.4M1204 1368h2.4M1204 1364h2.4M1209 1363h2.4M1210 1360h2.4M1205 1352h2.4M1208 1355h2.4M1214 1360h2.4M1195 1339h2.4M1196 1336h2.4M1186 1327h2.4M1191 1331h2.4" stroke="#0084ff"/>
<path d="M1063 1367h2.4M1047 1327h2.4M1051 1322h2.4M1082 1372h2.4M1087 1371h2.4M1118 1332h2.4M1107 1315h2.4" stroke="#ffe500"/>
<path d="M1161 1351h2.4M1165 1356h2.4M1169 1356h2.4M1180 1362h2.4M1151 1339h2.4M1150 1336h2.4M1156 1347h2.4M1150 1332h2.4M1167 1326h2.4M1180 1331h2.4M1179 1327h2.4M1189 1364h2.4M1194 1364h2.4M1199 1360h2.4M1199 1352h2.4M1205 1356h2.4M1184 1334h2.4M1199 1342h2.4M1199 1340h2.4M1186 1330h2.4M1204 1348h2.4" stroke="#0073ff"/>
<path d="M1053 1356h2.4M1059 1363h2.4M1048 1339h2.4M1048 1335h2.4M1049 1331h2.4M1061 1311h2.4M1068 1367h2.4M1073 1367h2.4M1072 1304h2.4M1078 1303h2.4M1088 1303h2.4M1096 1306h2.4M1116 1327h2.4" stroke="#ffd500"/>
<path d="M1167 1351h2.4M1174 1359h2.4M1179 1360h2.4M1175 1355h2.4M1175 1352h2.4M1180 1356h2.4M1156 1343h2.4M1161 1346h2.4M1159 1344h2.4M1161 1332h2.4M1169 1347h2.4M1169 1328h2.4M1175 1330h2.4M1190 1355h2.4M1190 1350h2.4M1200 1356h2.4M1205 1359h2.4M1189 1343h2.4M1190 1338h2.4M1195 1343h2.4" stroke="#0063ff"/>
<path d="M1058 1360h2.4M1063 1364h2.4M1049 1346h2.4M1049 1343h2.4M1069 1365h2.4M1102 1363h2.4M1082 1303h2.4M1112 1355h2.4" stroke="#ffc400"/>
<path d="M1181 1352h2.4M1155 1339h2.4M1162 1339h2.4M1157 1331h2.4M1166 1347h2.4M1169 1342h2.4M1164 1334h2.4M1170 1335h2.4M1180 1348h2.4M1179 1342h2.4M1175 1336h2.4M1166 1331h2.4M1169 1332h2.4M1190 1359h2.4M1184 1356h2.4M1184 1352h2.4M1193 1359h2.4M1193 1352h2.4M1185 1348h2.4M1184 1343h2.4M1191 1347h2.4M1193 1346h2.4" stroke="#0053ff"/>
<path d="M1058 1318h2.4M1078 1366h2.4M1082 1367h2.4M1087 1368h2.4M1097 1364h2.4M1077 1307h2.4M1092 1306h2.4M1111 1322h2.4" stroke="#ffb400"/>
<path d="M1157 1335h2.4M1160 1335h2.4M1167 1338h2.4M1170 1339h2.4M1175 1343h2.4" stroke="#0043ff"/>
<path d="M1055 1352h2.4M1062 1360h2.4M1054 1326h2.4M1058 1323h2.4M1077 1365h2.4M1092 1365h2.4M1089 1307h2.4M1107 1355h2.4M1111 1352h2.4M1112 1347h2.4" stroke="#ffa400"/>
<path d="M1053 1334h2.4M1072 1363h2.4M1102 1358h2.4M1069 1310h2.4M1083 1307h2.4M1113 1343h2.4M1113 1327h2.4M1106 1319h2.4" stroke="#ff9400"/>
<path d="M1055 1344h2.4M1053 1340h2.4M1069 1359h2.4M1098 1313h2.4M1108 1351h2.4" stroke="#ff8400"/>
<path d="M1058 1326h2.4M1082 1363h2.4M1088 1363h2.4M1102 1356h2.4M1092 1311h2.4M1111 1340h2.4M1111 1335h2.4" stroke="#ff7300"/>
<path d="M1064 1354h2.4M1062 1352h2.4M1063 1322h2.4M1073 1358h2.4M1092 1360h2.4M1098 1358h2.4M1107 1323h2.4" stroke="#ff6300"/>
<path d="M1059 1344h2.4M1057 1335h2.4M1102 1352h2.4M1102 1319h2.4M1107 1347h2.4M1107 1327h2.4" stroke="#ff5300"/>
<path d="M1062 1327h2.4M1069 1355h2.4M1072 1356h2.4M1068 1319h2.4M1103 1323h2.4M1074 1314h2.4M1082 1314h2.4" stroke="#ff4300"/>
<path d="M1059 1339h2.4M1081 1358h2.4M1086 1359h2.4M1103 1347h2.4M1098 1319h2.4M1106 1335h2.4" stroke="#ff3300"/>
<path d="M1064 1348h2.4M1077 1356h2.4M1093 1356h2.4" stroke="#ff2200"/>
<path d="M1063 1343h2.4M1074 1318h2.4M1077 1318h2.4M1083 1318h2.4" stroke="#ff1200"/>
<path d="M1063 1339h2.4M1064 1334h2.4M1083 1356h2.4M1069 1324h2.4M1102 1343h2.4M1087 1319h2.4M1092 1319h2.4M1102 1326h2.4" stroke="#ff0200"/>
<path d="M1072 1351h2.4M1077 1352h2.4M1093 1352h2.4M1074 1322h2.4M1097 1348h2.4M1102 1340h2.4M1102 1330h2.4" stroke="#f10000"/>
<path d="M1068 1340h2.4" stroke="#e10000"/>
<path d="M1084 1351h2.4M1069 1331h2.4M1094 1348h2.4M1096 1343h2.4M1087 1323h2.4M1097 1327h2.4" stroke="#d00000"/>
<path d="M1088 1351h2.4M1082 1323h2.4" stroke="#c00000"/>
<path d="M1073 1342h2.4M1073 1338h2.4M1073 1335h2.4M1078 1327h2.4M1082 1327h2.4M1098 1335h2.4M1087 1327h2.4M1096 1332h2.4" stroke="#b00000"/>
<path d="M1083 1347h2.4M1088 1348h2.4M1092 1342h2.4M1094 1339h2.4" stroke="#a00000"/>
<path d="M1079 1342h2.4M1077 1331h2.4M1092 1332h2.4" stroke="#900000"/>
<path d="M1084 1342h2.4M1077 1335h2.4M1083 1335h2.4M1088 1338h2.4M1086 1335h2.4" stroke="#800000"/>
<path d="M1649 1431h2.4M1663 1400h2.4M1640 1375h2.4M1652 1366h2.4M1662 1358h2.4M1660 1341h2.4M1664 1334h2.4M1662 1316h2.4M1684 1503h2.4M1701 1480h2.4M1679 1423h2.4M1698 1441h2.4M1681 1405h2.4M1698 1406h2.4M1700 1350h2.4M1710 1350h2.4M1683 1336h2.4M1680 1277h2.4M1691 1238h2.4M1711 1230h2.4M1749 1488h2.4M1721 1471h2.4M1718 1456h2.4M1741 1464h2.4M1749 1474h2.4M1741 1457h2.4M1729 1433h2.4M1730 1424h2.4M1719 1390h2.4M1751 1382h2.4M1722 1375h2.4M1720 1359h2.4M1738 1367h2.4M1746 1357h2.4M1752 1351h2.4M1730 1335h2.4M1743 1341h2.4M1742 1331h2.4M1751 1340h2.4M1748 1336h2.4M1746 1332h2.4M1752 1331h2.4M1747 1323h2.4M1720 1293h2.4M1749 1308h2.4M1739 1294h2.4M1747 1271h2.4M1719 1244h2.4M1722 1235h2.4M1787 1494h2.4M1770 1449h2.4M1777 1471h2.4M1760 1417h2.4M1760 1393h2.4M1757 1381h2.4M1778 1407h2.4M1791 1380h2.4M1760 1372h2.4M1757 1352h2.4M1765 1353h2.4M1765 1349h2.4M1771 1353h2.4M1775 1365h2.4M1780 1368h2.4M1791 1369h2.4M1790 1348h2.4M1767 1339h2.4M1776 1345h2.4M1781 1339h2.4M1785 1324h2.4M1790 1327h2.4M1790 1323h2.4M1786 1316h2.4M1762 1311h2.4M1765 1303h2.4M1770 1287h2.4M1777 1300h2.4M1778 1293h2.4M1766 1251h2.4M1778 1252h2.4M1806 1521h2.4M1795 1490h2.4M1815 1502h2.4M1818 1495h2.4M1817 1488h2.4M1809 1470h2.4M1807 1463h2.4M1817 1465h2.4M1818 1456h2.4M1796 1433h2.4M1818 1437h2.4M1826 1430h2.4M1815 1415h2.4M1808 1408h2.4M1817 1405h2.4M1830 1384h2.4M1799 1376h2.4M1800 1365h2.4M1795 1352h2.4M1796 1347h2.4M1815 1369h2.4M1827 1365h2.4M1795 1324h2.4M1804 1319h2.4M1814 1307h2.4M1819 1308h2.4M1829 1296h2.4M1796 1278h2.4M1800 1261h2.4M1828 1254h2.4M1835 1498h2.4M1844 1496h2.4M1863 1489h2.4M1834 1441h2.4M1848 1415h2.4M1867 1423h2.4M1839 1388h2.4M1835 1384h2.4M1839 1384h2.4M1842 1385h2.4M1843 1380h2.4M1847 1386h2.4M1854 1398h2.4M1853 1392h2.4M1859 1393h2.4M1857 1380h2.4M1863 1392h2.4M1864 1380h2.4M1868 1386h2.4M1848 1372h2.4M1842 1365h2.4M1847 1368h2.4M1852 1377h2.4M1859 1377h2.4M1866 1364h2.4M1854 1356h2.4M1850 1336h2.4M1848 1332h2.4M1834 1328h2.4M1839 1321h2.4M1838 1307h2.4M1837 1299h2.4M1834 1295h2.4M1847 1294h2.4M1847 1292h2.4M1845 1284h2.4M1857 1296h2.4M1836 1262h2.4M1867 1277h2.4M1902 1432h2.4M1892 1424h2.4M1902 1384h2.4M1871 1377h2.4M1882 1368h2.4M1882 1365h2.4M1882 1324h2.4M1896 1339h2.4M1902 1327h2.4M1874 1303h2.4M1873 1295h2.4M1877 1278h2.4M1887 1278h2.4M1924 1496h2.4M1923 1478h2.4M1915 1473h2.4M1935 1431h2.4M1921 1382h2.4M1912 1365h2.4M1922 1360h2.4M1921 1345h2.4M1925 1341h2.4M1932 1335h2.4M1935 1332h2.4M1935 1328h2.4M1935 1324h2.4M1940 1324h2.4M1941 1320h2.4M1939 1316h2.4M1936 1312h2.4M1944 1270h2.4M1962 1473h2.4M1983 1466h2.4M1970 1449h2.4M1962 1438h2.4M1964 1430h2.4M1970 1441h2.4M1982 1421h2.4M1979 1415h2.4M1963 1401h2.4M1985 1377h2.4M1951 1345h2.4M1954 1328h2.4M1960 1324h2.4M1964 1323h2.4M1984 1285h2.4M1963 1277h2.4M1961 1270h2.4M1990 1433h2.4M1999 1417h2.4M1989 1384h2.4M1998 1385h2.4M2010 1401h2.4M2013 1378h2.4M2014 1363h2.4M1647 1507h2.4M1989 1270h2.4M2014 1385h2.4M2022 1426h2.4M2007 1475h2.4" stroke="#47ffb8"/>
<path d="M1648 1453h2.4M1669 1389h2.4M1661 1350h2.4M1651 1318h2.4M1670 1302h2.4M1660 1286h2.4M1662 1277h2.4M1711 1417h2.4M1708 1399h2.4M1689 1376h2.4M1681 1328h2.4M1690 1328h2.4M1690 1317h2.4M1701 1319h2.4M1710 1320h2.4M1692 1276h2.4M1680 1261h2.4M1699 1276h2.4M1709 1235h2.4M1732 1446h2.4M1722 1440h2.4M1741 1438h2.4M1747 1438h2.4M1730 1397h2.4M1718 1382h2.4M1750 1405h2.4M1729 1375h2.4M1727 1351h2.4M1746 1364h2.4M1751 1363h2.4M1737 1352h2.4M1736 1348h2.4M1747 1359h2.4M1752 1360h2.4M1750 1349h2.4M1718 1316h2.4M1736 1332h2.4M1737 1328h2.4M1736 1324h2.4M1731 1302h2.4M1718 1270h2.4M1779 1505h2.4M1760 1449h2.4M1787 1456h2.4M1766 1430h2.4M1759 1424h2.4M1756 1408h2.4M1770 1399h2.4M1776 1385h2.4M1756 1372h2.4M1766 1363h2.4M1770 1364h2.4M1765 1361h2.4M1770 1360h2.4M1779 1372h2.4M1776 1360h2.4M1761 1339h2.4M1772 1339h2.4M1766 1328h2.4M1782 1345h2.4M1775 1316h2.4M1791 1316h2.4M1766 1300h2.4M1778 1276h2.4M1790 1278h2.4M1817 1431h2.4M1826 1440h2.4M1826 1415h2.4M1799 1400h2.4M1800 1351h2.4M1816 1376h2.4M1821 1351h2.4M1828 1360h2.4M1810 1327h2.4M1811 1324h2.4M1809 1319h2.4M1813 1319h2.4M1800 1299h2.4M1810 1298h2.4M1804 1292h2.4M1823 1299h2.4M1816 1285h2.4M1825 1261h2.4M1865 1481h2.4M1845 1471h2.4M1864 1472h2.4M1855 1440h2.4M1857 1430h2.4M1863 1430h2.4M1855 1415h2.4M1837 1380h2.4M1847 1380h2.4M1856 1406h2.4M1867 1405h2.4M1852 1388h2.4M1852 1379h2.4M1867 1381h2.4M1844 1376h2.4M1838 1353h2.4M1844 1356h2.4M1867 1376h2.4M1862 1361h2.4M1862 1356h2.4M1838 1328h2.4M1838 1304h2.4M1848 1299h2.4M1853 1309h2.4M1866 1302h2.4M1846 1278h2.4M1865 1268h2.4M1873 1503h2.4M1873 1473h2.4M1892 1449h2.4M1876 1424h2.4M1906 1425h2.4M1875 1390h2.4M1872 1380h2.4M1904 1406h2.4M1898 1386h2.4M1878 1368h2.4M1887 1377h2.4M1876 1361h2.4M1892 1373h2.4M1872 1340h2.4M1877 1340h2.4M1883 1333h2.4M1887 1337h2.4M1887 1328h2.4M1893 1340h2.4M1894 1333h2.4M1903 1340h2.4M1902 1336h2.4M1905 1332h2.4M1923 1473h2.4M1913 1424h2.4M1932 1424h2.4M1942 1406h2.4M1940 1383h2.4M1915 1374h2.4M1913 1359h2.4M1910 1353h2.4M1911 1348h2.4M1920 1353h2.4M1942 1374h2.4M1936 1351h2.4M1943 1350h2.4M1912 1345h2.4M1910 1339h2.4M1912 1332h2.4M1911 1323h2.4M1925 1324h2.4M1931 1327h2.4M1944 1329h2.4M1947 1325h2.4M1962 1489h2.4M1982 1472h2.4M1975 1445h2.4M1979 1459h2.4M1984 1446h2.4M1952 1432h2.4M1953 1415h2.4M1970 1415h2.4M1951 1407h2.4M1950 1383h2.4M1981 1400h2.4M1949 1323h2.4M1971 1286h2.4M2003 1439h2.4M2002 1398h2.4M2001 1391h2.4M1997 1380h2.4M2002 1381h2.4M2011 1392h2.4M2007 1377h2.4M2013 1357h2.4M2001 1325h2.4M1753 1518h2.4M1993 1281h2.4M2019 1409h2.4M2031 1465h2.4" stroke="#57ffa8"/>
<path d="M1653 1482h2.4M1666 1487h2.4M1672 1417h2.4M1670 1406h2.4M1670 1401h2.4M1662 1391h2.4M1661 1383h2.4M1640 1294h2.4M1663 1300h2.4M1672 1254h2.4M1683 1414h2.4M1712 1432h2.4M1699 1417h2.4M1692 1408h2.4M1691 1399h2.4M1682 1392h2.4M1681 1383h2.4M1701 1390h2.4M1709 1393h2.4M1689 1333h2.4M1690 1301h2.4M1689 1285h2.4M1701 1311h2.4M1691 1261h2.4M1691 1243h2.4M1732 1417h2.4M1741 1433h2.4M1719 1400h2.4M1729 1391h2.4M1739 1382h2.4M1730 1343h2.4M1718 1328h2.4M1732 1326h2.4M1737 1343h2.4M1736 1336h2.4M1741 1337h2.4M1739 1319h2.4M1741 1303h2.4M1747 1300h2.4M1737 1285h2.4M1729 1261h2.4M1728 1255h2.4M1737 1259h2.4M1729 1243h2.4M1751 1245h2.4M1751 1236h2.4M1759 1481h2.4M1780 1454h2.4M1759 1439h2.4M1789 1433h2.4M1787 1406h2.4M1777 1390h2.4M1779 1381h2.4M1785 1382h2.4M1760 1376h2.4M1789 1365h2.4M1780 1361h2.4M1757 1327h2.4M1780 1316h2.4M1791 1303h2.4M1769 1277h2.4M1777 1262h2.4M1769 1246h2.4M1806 1495h2.4M1809 1487h2.4M1806 1481h2.4M1828 1503h2.4M1796 1471h2.4M1826 1472h2.4M1807 1422h2.4M1806 1414h2.4M1815 1394h2.4M1795 1373h2.4M1799 1368h2.4M1808 1376h2.4M1805 1365h2.4M1799 1360h2.4M1818 1366h2.4M1827 1376h2.4M1819 1361h2.4M1820 1357h2.4M1829 1356h2.4M1804 1324h2.4M1830 1320h2.4M1795 1312h2.4M1801 1313h2.4M1796 1303h2.4M1799 1303h2.4M1795 1296h2.4M1800 1295h2.4M1800 1291h2.4M1808 1296h2.4M1819 1304h2.4M1828 1307h2.4M1823 1304h2.4M1830 1303h2.4M1815 1295h2.4M1808 1278h2.4M1818 1263h2.4M1838 1481h2.4M1864 1506h2.4M1846 1400h2.4M1834 1360h2.4M1839 1361h2.4M1848 1357h2.4M1853 1373h2.4M1852 1364h2.4M1868 1372h2.4M1834 1331h2.4M1845 1332h2.4M1834 1319h2.4M1838 1316h2.4M1854 1335h2.4M1852 1331h2.4M1867 1339h2.4M1857 1312h2.4M1853 1301h2.4M1858 1303h2.4M1856 1286h2.4M1838 1252h2.4M1846 1254h2.4M1858 1252h2.4M1866 1261h2.4M1873 1481h2.4M1903 1472h2.4M1904 1449h2.4M1887 1423h2.4M1876 1400h2.4M1907 1377h2.4M1878 1335h2.4M1886 1332h2.4M1874 1327h2.4M1877 1323h2.4M1882 1321h2.4M1892 1319h2.4M1896 1319h2.4M1915 1481h2.4M1931 1489h2.4M1912 1415h2.4M1943 1439h2.4M1941 1430h2.4M1943 1424h2.4M1924 1390h2.4M1921 1375h2.4M1916 1352h2.4M1926 1361h2.4M1926 1332h2.4M1931 1333h2.4M1945 1333h2.4M1930 1315h2.4M1935 1315h2.4M1925 1310h2.4M1931 1245h2.4M1970 1479h2.4M1952 1423h2.4M1974 1431h2.4M1950 1398h2.4M1981 1407h2.4M1981 1392h2.4M1979 1377h2.4M1951 1333h2.4M1956 1323h2.4M1955 1320h2.4M1964 1327h2.4M1970 1319h2.4M1969 1316h2.4M1993 1449h2.4M1992 1441h2.4M2000 1430h2.4M1992 1422h2.4M2010 1425h2.4M1991 1399h2.4M1993 1385h2.4M1994 1380h2.4M2004 1375h2.4M2009 1351h2.4M1993 1294h2.4M1598 1249h2.4M1594 1314h2.4M1765 1520h2.4M1980 1270h2.4M1975 1290h2.4M2005 1332h2.4M2022 1449h2.4" stroke="#37ffc8"/>
<path d="M1670 1421h2.4M1670 1293h2.4M1710 1446h2.4M1703 1425h2.4M1709 1425h2.4M1702 1397h2.4M1712 1408h2.4M1691 1356h2.4M1712 1270h2.4M1728 1474h2.4M1721 1446h2.4M1741 1473h2.4M1728 1440h2.4M1721 1424h2.4M1720 1415h2.4M1749 1431h2.4M1739 1416h2.4M1737 1406h2.4M1739 1400h2.4M1742 1353h2.4M1743 1349h2.4M1750 1357h2.4M1737 1340h2.4M1742 1323h2.4M1730 1292h2.4M1741 1271h2.4M1740 1251h2.4M1766 1488h2.4M1788 1504h2.4M1776 1489h2.4M1767 1455h2.4M1770 1441h2.4M1780 1441h2.4M1777 1431h2.4M1766 1393h2.4M1757 1376h2.4M1756 1364h2.4M1766 1376h2.4M1765 1372h2.4M1772 1376h2.4M1757 1361h2.4M1757 1356h2.4M1774 1376h2.4M1790 1353h2.4M1775 1324h2.4M1760 1301h2.4M1770 1300h2.4M1785 1299h2.4M1791 1299h2.4M1778 1287h2.4M1788 1293h2.4M1819 1480h2.4M1825 1486h2.4M1795 1449h2.4M1828 1457h2.4M1799 1406h2.4M1799 1391h2.4M1807 1390h2.4M1815 1381h2.4M1823 1393h2.4M1829 1380h2.4M1794 1377h2.4M1799 1372h2.4M1794 1368h2.4M1799 1349h2.4M1824 1364h2.4M1795 1290h2.4M1806 1296h2.4M1820 1300h2.4M1798 1270h2.4M1809 1268h2.4M1825 1275h2.4M1819 1254h2.4M1857 1488h2.4M1847 1465h2.4M1855 1448h2.4M1848 1422h2.4M1863 1400h2.4M1844 1372h2.4M1847 1376h2.4M1843 1360h2.4M1848 1361h2.4M1852 1369h2.4M1868 1353h2.4M1869 1349h2.4M1838 1333h2.4M1867 1345h2.4M1843 1298h2.4M1834 1290h2.4M1838 1295h2.4M1843 1296h2.4M1858 1299h2.4M1852 1295h2.4M1854 1292h2.4M1864 1295h2.4M1845 1261h2.4M1856 1275h2.4M1854 1271h2.4M1874 1494h2.4M1904 1481h2.4M1873 1417h2.4M1904 1440h2.4M1904 1415h2.4M1885 1398h2.4M1872 1385h2.4M1882 1384h2.4M1892 1385h2.4M1871 1364h2.4M1871 1349h2.4M1892 1365h2.4M1896 1351h2.4M1878 1344h2.4M1878 1327h2.4M1887 1323h2.4M1883 1315h2.4M1887 1320h2.4M1902 1332h2.4M1906 1319h2.4M1915 1489h2.4M1935 1445h2.4M1926 1423h2.4M1933 1438h2.4M1941 1416h2.4M1942 1400h2.4M1935 1373h2.4M1935 1359h2.4M1930 1353h2.4M1912 1337h2.4M1910 1328h2.4M1923 1318h2.4M1930 1323h2.4M1935 1319h2.4M1946 1321h2.4M1952 1481h2.4M1980 1467h2.4M1979 1463h2.4M1983 1462h2.4M1983 1457h2.4M1960 1413h2.4M1961 1409h2.4M1954 1278h2.4M1952 1271h2.4M2007 1380h2.4M1712 1514h2.4M1728 1518h2.4M1790 1541h2.4M1764 1537h2.4M1993 1292h2.4M1999 1303h2.4M2013 1465h2.4" stroke="#67ff98"/>
<path d="M1624 1470h2.4M1627 1416h2.4M1631 1321h2.4M1623 1286h2.4M1669 1504h2.4M1644 1369h2.4M1640 1358h2.4M1661 1368h2.4M1669 1373h2.4M1672 1333h2.4M1664 1327h2.4M1670 1324h2.4M1648 1275h2.4M1671 1275h2.4M1673 1270h2.4M1673 1262h2.4M1700 1517h2.4M1707 1467h2.4M1698 1447h2.4M1710 1454h2.4M1681 1440h2.4M1693 1440h2.4M1693 1431h2.4M1701 1358h2.4M1680 1342h2.4M1692 1342h2.4M1710 1324h2.4M1681 1285h2.4M1701 1301h2.4M1711 1301h2.4M1708 1292h2.4M1708 1285h2.4M1692 1269h2.4M1682 1255h2.4M1690 1252h2.4M1682 1243h2.4M1726 1515h2.4M1727 1485h2.4M1727 1455h2.4M1719 1432h2.4M1719 1352h2.4M1751 1336h2.4M1746 1320h2.4M1722 1286h2.4M1730 1284h2.4M1719 1279h2.4M1720 1252h2.4M1751 1260h2.4M1751 1254h2.4M1748 1228h2.4M1768 1504h2.4M1776 1498h2.4M1757 1471h2.4M1787 1463h2.4M1759 1399h2.4M1767 1407h2.4M1776 1398h2.4M1782 1384h2.4M1770 1355h2.4M1772 1348h2.4M1786 1366h2.4M1775 1355h2.4M1790 1360h2.4M1771 1344h2.4M1757 1321h2.4M1762 1319h2.4M1772 1315h2.4M1758 1276h2.4M1761 1269h2.4M1769 1267h2.4M1780 1269h2.4M1787 1260h2.4M1768 1238h2.4M1803 1534h2.4M1807 1504h2.4M1827 1480h2.4M1809 1441h2.4M1814 1355h2.4M1825 1359h2.4M1801 1324h2.4M1800 1316h2.4M1819 1328h2.4M1815 1315h2.4M1825 1324h2.4M1800 1306h2.4M1813 1311h2.4M1818 1312h2.4M1815 1299h2.4M1825 1308h2.4M1829 1313h2.4M1820 1297h2.4M1819 1292h2.4M1808 1253h2.4M1818 1267h2.4M1865 1497h2.4M1835 1433h2.4M1834 1381h2.4M1843 1393h2.4M1848 1393h2.4M1844 1368h2.4M1839 1355h2.4M1861 1369h2.4M1835 1324h2.4M1848 1320h2.4M1858 1336h2.4M1863 1327h2.4M1868 1328h2.4M1839 1312h2.4M1857 1308h2.4M1854 1304h2.4M1838 1276h2.4M1857 1262h2.4M1867 1251h2.4M1874 1487h2.4M1895 1494h2.4M1882 1373h2.4M1888 1374h2.4M1871 1331h2.4M1874 1324h2.4M1886 1316h2.4M1896 1316h2.4M1905 1327h2.4M1907 1325h2.4M1873 1311h2.4M1883 1312h2.4M1874 1285h2.4M1873 1260h2.4M1873 1254h2.4M1931 1496h2.4M1922 1416h2.4M1914 1399h2.4M1915 1392h2.4M1915 1348h2.4M1920 1347h2.4M1945 1360h2.4M1915 1335h2.4M1917 1327h2.4M1914 1319h2.4M1936 1343h2.4M1936 1340h2.4M1941 1340h2.4M1930 1320h2.4M1946 1316h2.4M1925 1303h2.4M1924 1299h2.4M1931 1311h2.4M1933 1262h2.4M1971 1472h2.4M1954 1389h2.4M1973 1398h2.4M1984 1383h2.4M1950 1350h2.4M1951 1340h2.4M1956 1339h2.4M1954 1336h2.4M1958 1339h2.4M1960 1331h2.4M1961 1316h2.4M1979 1343h2.4M1983 1300h2.4M1980 1292h2.4M1990 1393h2.4M2012 1385h2.4M2014 1381h2.4M1995 1377h2.4M2012 1372h2.4M2004 1340h2.4M1990 1310h2.4M1492 1281h2.4M1522 1286h2.4M1521 1358h2.4M1556 1500h2.4M1689 1545h2.4M1706 1505h2.4" stroke="#26ffd9"/>
<path d="M1670 1384h2.4M1688 1485h2.4M1710 1245h2.4M1750 1462h2.4M1750 1456h2.4M1748 1422h2.4M1727 1408h2.4M1728 1384h2.4M1731 1308h2.4M1749 1291h2.4M1788 1514h2.4M1759 1490h2.4M1770 1481h2.4M1779 1482h2.4M1790 1486h2.4M1788 1482h2.4M1759 1465h2.4M1770 1472h2.4M1766 1424h2.4M1769 1414h2.4M1778 1423h2.4M1789 1416h2.4M1760 1369h2.4M1770 1369h2.4M1761 1359h2.4M1760 1353h2.4M1779 1377h2.4M1791 1373h2.4M1787 1369h2.4M1781 1349h2.4M1756 1337h2.4M1770 1324h2.4M1770 1320h2.4M1782 1336h2.4M1780 1329h2.4M1775 1320h2.4M1758 1293h2.4M1767 1292h2.4M1788 1284h2.4M1807 1448h2.4M1796 1425h2.4M1814 1389h2.4M1819 1393h2.4M1820 1384h2.4M1823 1384h2.4M1823 1381h2.4M1806 1351h2.4M1815 1351h2.4M1823 1331h2.4M1815 1329h2.4M1815 1292h2.4M1823 1291h2.4M1829 1286h2.4M1808 1262h2.4M1817 1275h2.4M1845 1479h2.4M1855 1478h2.4M1846 1455h2.4M1838 1407h2.4M1857 1389h2.4M1852 1385h2.4M1857 1383h2.4M1863 1384h2.4M1835 1368h2.4M1859 1372h2.4M1862 1377h2.4M1853 1353h2.4M1867 1356h2.4M1862 1352h2.4M1843 1336h2.4M1863 1340h2.4M1839 1290h2.4M1844 1290h2.4M1886 1506h2.4M1884 1488h2.4M1892 1486h2.4M1884 1462h2.4M1896 1456h2.4M1884 1414h2.4M1896 1432h2.4M1885 1407h2.4M1878 1381h2.4M1906 1401h2.4M1894 1390h2.4M1903 1391h2.4M1878 1363h2.4M1871 1352h2.4M1881 1361h2.4M1891 1376h2.4M1897 1372h2.4M1896 1369h2.4M1898 1365h2.4M1901 1377h2.4M1902 1373h2.4M1891 1361h2.4M1892 1352h2.4M1892 1349h2.4M1873 1345h2.4M1886 1339h2.4M1882 1336h2.4M1881 1327h2.4M1891 1345h2.4M1898 1344h2.4M1905 1336h2.4M1912 1495h2.4M1925 1486h2.4M1932 1464h2.4M1930 1445h2.4M1925 1440h2.4M1921 1431h2.4M1925 1400h2.4M1931 1398h2.4M1935 1389h2.4M1924 1356h2.4M1962 1478h2.4M1951 1471h2.4M1950 1466h2.4M1978 1446h2.4M1982 1431h2.4M1970 1405h2.4M1964 1284h2.4M1992 1462h2.4M2003 1448h2.4M2010 1407h2.4M2008 1384h2.4M1992 1318h2.4M1781 1548h2.4M2005 1314h2.4" stroke="#77ff88"/>
<path d="M1628 1438h2.4M1647 1470h2.4M1663 1453h2.4M1650 1415h2.4M1662 1425h2.4M1650 1389h2.4M1651 1357h2.4M1660 1375h2.4M1654 1327h2.4M1644 1299h2.4M1673 1287h2.4M1660 1268h2.4M1660 1263h2.4M1700 1432h2.4M1691 1349h2.4M1701 1373h2.4M1700 1368h2.4M1711 1357h2.4M1682 1317h2.4M1700 1341h2.4M1680 1309h2.4M1683 1303h2.4M1692 1312h2.4M1691 1295h2.4M1699 1294h2.4M1702 1284h2.4M1679 1269h2.4M1698 1267h2.4M1749 1449h2.4M1739 1422h2.4M1739 1391h2.4M1731 1366h2.4M1719 1342h2.4M1746 1315h2.4M1751 1319h2.4M1721 1309h2.4M1731 1270h2.4M1722 1230h2.4M1732 1230h2.4M1750 1221h2.4M1765 1518h2.4M1788 1528h2.4M1775 1380h2.4M1760 1348h2.4M1780 1356h2.4M1776 1348h2.4M1781 1353h2.4M1785 1361h2.4M1791 1355h2.4M1757 1316h2.4M1765 1315h2.4M1791 1320h2.4M1777 1304h2.4M1785 1303h2.4M1760 1261h2.4M1787 1253h2.4M1818 1471h2.4M1809 1398h2.4M1800 1357h2.4M1815 1364h2.4M1823 1369h2.4M1815 1360h2.4M1795 1320h2.4M1805 1315h2.4M1815 1323h2.4M1829 1329h2.4M1795 1307h2.4M1804 1303h2.4M1795 1286h2.4M1836 1490h2.4M1856 1506h2.4M1856 1496h2.4M1835 1473h2.4M1864 1372h2.4M1844 1328h2.4M1843 1315h2.4M1858 1332h2.4M1854 1323h2.4M1867 1324h2.4M1833 1311h2.4M1847 1312h2.4M1850 1304h2.4M1846 1270h2.4M1872 1369h2.4M1890 1315h2.4M1882 1308h2.4M1887 1312h2.4M1887 1308h2.4M1885 1286h2.4M1875 1268h2.4M1926 1347h2.4M1917 1341h2.4M1927 1344h2.4M1936 1336h2.4M1914 1309h2.4M1929 1307h2.4M1935 1307h2.4M1936 1303h2.4M1939 1312h2.4M1936 1271h2.4M1941 1275h2.4M1941 1254h2.4M1924 1244h2.4M1934 1235h2.4M1943 1244h2.4M1970 1422h2.4M1960 1389h2.4M1962 1376h2.4M1960 1368h2.4M1960 1360h2.4M1960 1351h2.4M1955 1345h2.4M1964 1335h2.4M1965 1331h2.4M1951 1316h2.4M1971 1324h2.4M1983 1319h2.4M1953 1262h2.4M1970 1277h2.4M1999 1423h2.4M1995 1371h2.4M1990 1368h2.4M1993 1368h2.4M2004 1348h2.4M2007 1363h2.4M2012 1360h2.4M1998 1344h2.4M2003 1344h2.4M1652 1481h2.4M1957 1184h2.4M1983 1281h2.4M2011 1348h2.4M2013 1370h2.4" stroke="#16ffe9"/>
<path d="M1719 1408h2.4M1750 1391h2.4M1727 1317h2.4M1747 1341h2.4M1753 1344h2.4M1749 1275h2.4M1757 1457h2.4M1789 1471h2.4M1777 1449h2.4M1790 1440h2.4M1786 1422h2.4M1787 1392h2.4M1791 1385h2.4M1761 1364h2.4M1766 1368h2.4M1761 1355h2.4M1791 1377h2.4M1767 1324h2.4M1791 1343h2.4M1786 1332h2.4M1784 1329h2.4M1796 1441h2.4M1796 1415h2.4M1826 1408h2.4M1818 1388h2.4M1818 1381h2.4M1808 1292h2.4M1837 1506h2.4M1848 1506h2.4M1848 1489h2.4M1835 1465h2.4M1854 1472h2.4M1865 1463h2.4M1844 1438h2.4M1844 1432h2.4M1867 1414h2.4M1835 1399h2.4M1836 1376h2.4M1845 1353h2.4M1839 1335h2.4M1857 1339h2.4M1885 1495h2.4M1885 1481h2.4M1903 1495h2.4M1894 1481h2.4M1876 1464h2.4M1883 1456h2.4M1892 1462h2.4M1873 1433h2.4M1883 1440h2.4M1887 1432h2.4M1894 1440h2.4M1896 1414h2.4M1893 1407h2.4M1878 1352h2.4M1887 1349h2.4M1891 1368h2.4M1906 1372h2.4M1897 1360h2.4M1897 1357h2.4M1881 1343h2.4M1883 1340h2.4M1912 1465h2.4M1912 1450h2.4M1930 1450h2.4M1945 1446h2.4M1934 1414h2.4M1915 1406h2.4M1934 1383h2.4M1925 1365h2.4M1961 1463h2.4M1970 1465h2.4M1975 1467h2.4M1973 1453h2.4M1985 1453h2.4M1992 1471h2.4M1989 1455h2.4M1989 1408h2.4" stroke="#88ff77"/>
<path d="M1625 1449h2.4M1631 1368h2.4M1664 1413h2.4M1652 1372h2.4M1669 1365h2.4M1670 1351h2.4M1640 1344h2.4M1642 1332h2.4M1652 1335h2.4M1669 1320h2.4M1651 1292h2.4M1661 1308h2.4M1690 1450h2.4M1690 1415h2.4M1682 1398h2.4M1690 1390h2.4M1683 1375h2.4M1680 1357h2.4M1679 1349h2.4M1700 1328h2.4M1711 1308h2.4M1709 1277h2.4M1700 1252h2.4M1723 1497h2.4M1718 1462h2.4M1738 1449h2.4M1720 1365h2.4M1741 1373h2.4M1722 1335h2.4M1750 1324h2.4M1720 1302h2.4M1720 1260h2.4M1719 1221h2.4M1786 1355h2.4M1770 1311h2.4M1780 1308h2.4M1780 1303h2.4M1776 1244h2.4M1799 1496h2.4M1826 1497h2.4M1808 1457h2.4M1794 1316h2.4M1803 1307h2.4M1835 1356h2.4M1866 1367h2.4M1839 1323h2.4M1833 1315h2.4M1849 1329h2.4M1862 1333h2.4M1857 1328h2.4M1862 1323h2.4M1834 1307h2.4M1853 1312h2.4M1867 1309h2.4M1848 1244h2.4M1864 1244h2.4M1878 1373h2.4M1885 1269h2.4M1883 1252h2.4M1944 1365h2.4M1922 1337h2.4M1920 1332h2.4M1930 1300h2.4M1984 1482h2.4M1960 1382h2.4M1952 1375h2.4M1953 1358h2.4M1959 1348h2.4M1980 1348h2.4M1950 1336h2.4M1959 1320h2.4M1965 1315h2.4M1980 1341h2.4M1959 1307h2.4M1950 1286h2.4M1950 1253h2.4M1988 1380h2.4M1990 1376h2.4M1998 1377h2.4M1998 1367h2.4M1998 1364h2.4M2002 1365h2.4M1989 1347h2.4M1990 1344h2.4M1993 1339h2.4M1990 1331h2.4M1992 1327h2.4M1991 1303h2.4M1528 1257h2.4M1595 1358h2.4M1552 1391h2.4M1591 1431h2.4M1608 1472h2.4M1601 1512h2.4M1549 1549h2.4M1617 1542h2.4" stroke="#06fff9"/>
<path d="M1789 1447h2.4M1776 1416h2.4M1776 1372h2.4M1775 1368h2.4M1761 1335h2.4M1765 1332h2.4M1776 1335h2.4M1785 1345h2.4M1790 1340h2.4M1786 1271h2.4M1796 1464h2.4M1797 1454h2.4M1819 1449h2.4M1819 1422h2.4M1828 1397h2.4M1813 1384h2.4M1824 1390h2.4M1829 1393h2.4M1800 1344h2.4M1837 1455h2.4M1847 1353h2.4M1868 1359h2.4M1905 1490h2.4M1887 1473h2.4M1878 1385h2.4M1887 1381h2.4M1896 1380h2.4M1888 1361h2.4M1922 1464h2.4M1924 1457h2.4M1924 1448h2.4M1932 1473h2.4M1916 1440h2.4M1931 1367h2.4M1955 1462h2.4M1969 1457h2.4M1980 1453h2.4" stroke="#98ff67"/>
<path d="M1622 1405h2.4M1632 1384h2.4M1662 1432h2.4M1673 1360h2.4M1641 1324h2.4M1644 1311h2.4M1652 1309h2.4M1674 1309h2.4M1698 1455h2.4M1693 1384h2.4M1710 1367h2.4M1710 1332h2.4M1702 1261h2.4M1711 1253h2.4M1701 1245h2.4M1701 1229h2.4M1749 1521h2.4M1747 1369h2.4M1738 1276h2.4M1729 1222h2.4M1737 1229h2.4M1762 1315h2.4M1757 1307h2.4M1771 1304h2.4M1786 1310h2.4M1799 1319h2.4M1820 1319h2.4M1819 1315h2.4M1825 1317h2.4M1828 1315h2.4M1808 1310h2.4M1823 1312h2.4M1797 1237h2.4M1805 1247h2.4M1819 1235h2.4M1853 1319h2.4M1852 1315h2.4M1837 1244h2.4M1857 1236h2.4M1873 1319h2.4M1902 1315h2.4M1892 1312h2.4M1930 1348h2.4M1912 1303h2.4M1912 1296h2.4M1915 1296h2.4M1927 1291h2.4M1940 1307h2.4M1946 1304h2.4M1934 1267h2.4M1914 1243h2.4M1969 1369h2.4M1979 1373h2.4M1969 1357h2.4M1975 1349h2.4M1985 1348h2.4M1961 1345h2.4M1964 1319h2.4M1975 1344h2.4M1983 1341h2.4M1974 1316h2.4M1954 1308h2.4M1972 1300h2.4M1979 1311h2.4M1973 1295h2.4M1989 1373h2.4M1999 1373h2.4M2007 1372h2.4M2007 1367h2.4M2007 1356h2.4M1567 1284h2.4M1600 1288h2.4M1497 1331h2.4M1614 1312h2.4M1588 1404h2.4M1968 1210h2.4M1983 1211h2.4" stroke="#00f5ff"/>
<path d="M1761 1332h2.4M1774 1332h2.4M1784 1340h2.4M1818 1536h2.4M1828 1446h2.4M1799 1382h2.4M1820 1348h2.4M1806 1329h2.4M1847 1446h2.4M1839 1348h2.4M1857 1353h2.4M1873 1407h2.4M1877 1356h2.4M1878 1347h2.4M1887 1357h2.4M1888 1353h2.4M1902 1365h2.4M1902 1356h2.4M1940 1478h2.4M1913 1454h2.4M1954 1458h2.4M1974 1458h2.4M2001 1409h2.4" stroke="#a8ff57"/>
<path d="M1630 1482h2.4M1625 1335h2.4M1662 1407h2.4M1653 1302h2.4M1701 1384h2.4M1708 1384h2.4M1679 1368h2.4M1709 1375h2.4M1703 1336h2.4M1700 1238h2.4M1738 1220h2.4M1777 1238h2.4M1820 1323h2.4M1796 1226h2.4M1854 1328h2.4M1857 1324h2.4M1859 1316h2.4M1834 1268h2.4M1863 1237h2.4M1893 1308h2.4M1906 1308h2.4M1887 1259h2.4M1874 1245h2.4M1932 1344h2.4M1921 1303h2.4M1926 1267h2.4M1926 1254h2.4M1932 1251h2.4M1964 1352h2.4M1972 1373h2.4M1973 1368h2.4M1985 1369h2.4M1969 1359h2.4M1961 1337h2.4M1975 1331h2.4M1950 1307h2.4M1959 1311h2.4M1963 1307h2.4M1972 1311h2.4M1994 1361h2.4M1994 1345h2.4M1559 1348h2.4M1549 1371h2.4M1572 1367h2.4M1638 1307h2.4M1524 1399h2.4M1633 1480h2.4M1679 1507h2.4M1977 1255h2.4" stroke="#00e5ff"/>
<path d="M1771 1332h2.4M1814 1348h2.4M1795 1344h2.4M1855 1463h2.4M1866 1457h2.4M1864 1446h2.4M1864 1439h2.4M1895 1472h2.4M1881 1356h2.4M1893 1356h2.4M1973 1462h2.4M1969 1453h2.4" stroke="#b8ff47"/>
<path d="M1666 1470h2.4M1651 1350h2.4M1649 1288h2.4M1750 1213h2.4M1757 1236h2.4M1759 1228h2.4M1769 1227h2.4M1818 1246h2.4M1865 1319h2.4M1885 1302h2.4M1897 1313h2.4M1901 1312h2.4M1906 1312h2.4M1894 1286h2.4M1907 1251h2.4M1886 1244h2.4M1905 1245h2.4M1920 1295h2.4M1931 1303h2.4M1946 1308h2.4M1912 1251h2.4M1925 1259h2.4M1915 1238h2.4M1954 1368h2.4M1974 1365h2.4M1985 1373h2.4M1978 1369h2.4M1983 1364h2.4M1968 1348h2.4M1985 1332h2.4M1969 1329h2.4M1983 1327h2.4M1965 1311h2.4M1993 1364h2.4M1988 1361h2.4M1994 1348h2.4M1998 1356h2.4M2003 1356h2.4M1999 1349h2.4M2003 1351h2.4M1988 1336h2.4M1993 1336h2.4M1994 1332h2.4M1999 1340h2.4M2002 1335h2.4M1565 1254h2.4M1570 1322h2.4M1549 1403h2.4M1501 1427h2.4M1887 1188h2.4" stroke="#00d4ff"/>
<path d="M1790 1337h2.4M1824 1347h2.4M1801 1340h2.4M1794 1332h2.4M1825 1336h2.4M1842 1349h2.4M1863 1349h2.4M1834 1343h2.4M1844 1339h2.4M1854 1344h2.4M1857 1344h2.4M1883 1449h2.4M1904 1458h2.4M1873 1440h2.4M1881 1349h2.4M1953 1449h2.4M1961 1448h2.4M1969 1463h2.4" stroke="#c8ff37"/>
<path d="M1626 1306h2.4M1789 1228h2.4M1824 1245h2.4M1814 1230h2.4M1826 1228h2.4M1857 1319h2.4M1906 1300h2.4M1895 1261h2.4M1908 1259h2.4M1922 1291h2.4M1926 1288h2.4M1936 1300h2.4M1942 1304h2.4M1935 1295h2.4M1932 1283h2.4M1916 1254h2.4M1920 1260h2.4M1931 1267h2.4M1915 1228h2.4M1966 1348h2.4M1970 1365h2.4M1980 1364h2.4M1983 1355h2.4M1980 1353h2.4M1985 1352h2.4M1970 1335h2.4M1975 1319h2.4M1985 1324h2.4M1950 1300h2.4M1988 1364h2.4M1989 1355h2.4M1995 1357h2.4M1574 1387h2.4M1574 1411h2.4M1516 1440h2.4M1870 1189h2.4" stroke="#00c4ff"/>
<path d="M1857 1457h2.4M1847 1341h2.4M1874 1454h2.4M1949 1462h2.4" stroke="#d9ff26"/>
<path d="M1640 1320h2.4M1785 1245h2.4M1779 1228h2.4M1770 1210h2.4M1789 1204h2.4M1807 1230h2.4M1797 1202h2.4M1834 1219h2.4M1848 1229h2.4M1898 1308h2.4M1894 1303h2.4M1894 1292h2.4M1894 1270h2.4M1907 1266h2.4M1884 1238h2.4M1884 1228h2.4M1915 1291h2.4M1941 1299h2.4M1916 1251h2.4M1925 1264h2.4M1931 1270h2.4M1969 1352h2.4M1970 1340h2.4M1980 1335h2.4M1983 1337h2.4M1955 1303h2.4M1987 1353h2.4M1573 1347h2.4M1627 1309h2.4M1596 1384h2.4M1591 1444h2.4M1924 1185h2.4M1853 1189h2.4M1985 1255h2.4" stroke="#00b4ff"/>
<path d="M1799 1332h2.4M1809 1343h2.4M1855 1348h2.4M1834 1340h2.4M1875 1448h2.4M1935 1457h2.4M1963 1457h2.4" stroke="#e9ff16"/>
<path d="M1767 1218h2.4M1779 1222h2.4M1816 1203h2.4M1846 1239h2.4M1901 1308h2.4M1892 1253h2.4M1901 1259h2.4M1915 1286h2.4M1920 1288h2.4M1935 1291h2.4M1945 1284h2.4M1920 1266h2.4M1913 1259h2.4M1916 1259h2.4M1910 1255h2.4M1975 1357h2.4M1984 1360h2.4M1965 1345h2.4M1978 1332h2.4M1975 1327h2.4M1980 1324h2.4M1513 1322h2.4M1568 1433h2.4" stroke="#00a4ff"/>
<path d="M1830 1345h2.4M1941 1463h2.4M1941 1457h2.4" stroke="#f9ff06"/>
<path d="M1807 1210h2.4M1834 1235h2.4M1835 1230h2.4M1905 1286h2.4M1902 1272h2.4M1901 1268h2.4M1902 1256h2.4M1901 1252h2.4M1873 1236h2.4M1912 1291h2.4M1926 1282h2.4M1935 1287h2.4M1934 1282h2.4M1941 1287h2.4M1946 1288h2.4M1911 1263h2.4M1922 1264h2.4M1937 1279h2.4M1974 1359h2.4M1975 1353h2.4M1980 1355h2.4M1954 1300h2.4M1985 1239h2.4" stroke="#0094ff"/>
<path d="M1815 1344h2.4M1824 1341h2.4M1848 1348h2.4M1848 1343h2.4" stroke="#fff500"/>
<path d="M1789 1214h2.4M1805 1221h2.4M1836 1203h2.4M1903 1279h2.4M1903 1262h2.4M1893 1244h2.4M1894 1238h2.4M1894 1227h2.4M1895 1220h2.4M1886 1211h2.4M1941 1290h2.4M1944 1296h2.4M1941 1284h2.4M1910 1267h2.4M1917 1270h2.4M1922 1271h2.4M1925 1272h2.4" stroke="#0084ff"/>
<path d="M1799 1337h2.4M1818 1340h2.4M1839 1345h2.4" stroke="#ffe500"/>
<path d="M1828 1194h2.4M1844 1211h2.4M1906 1292h2.4M1911 1288h2.4M1920 1284h2.4M1911 1271h2.4M1915 1267h2.4M1915 1262h2.4M1930 1195h2.4M1975 1239h2.4" stroke="#0073ff"/>
<path d="M1829 1340h2.4" stroke="#ffd500"/>
<path d="M1787 1222h2.4M1827 1221h2.4M1805 1204h2.4M1828 1206h2.4M1866 1229h2.4M1855 1213h2.4M1854 1203h2.4M1884 1219h2.4M1916 1283h2.4M1920 1275h2.4" stroke="#0063ff"/>
<path d="M1815 1336h2.4" stroke="#ffc400"/>
<path d="M1797 1213h2.4M1825 1211h2.4M1837 1212h2.4M1912 1280h2.4M1925 1280h2.4M1907 1199h2.4" stroke="#0053ff"/>
<path d="M1815 1340h2.4M1844 1344h2.4" stroke="#ffb400"/>
<path d="M1798 1221h2.4M1848 1220h2.4M1874 1229h2.4" stroke="#0043ff"/>
<path d="M1864 1221h2.4M1874 1214h2.4" stroke="#0033ff"/>
<path d="M1874 1220h2.4M1920 1278h2.4" stroke="#0022ff"/>
<path d="M479 1915h2.4M478 1866h2.4M488 1854h2.4M490 1805h2.4M500 1966h2.4M500 1956h2.4M509 1933h2.4M533 1929h2.4M527 1921h2.4M533 1921h2.4M529 1916h2.4M532 1916h2.4M505 1862h2.4M507 1862h2.4M504 1845h2.4M509 1858h2.4M514 1848h2.4M518 1860h2.4M500 1830h2.4M503 1813h2.4M509 1780h2.4M521 1786h2.4M519 1779h2.4M520 1772h2.4M548 1964h2.4M557 1964h2.4M538 1931h2.4M548 1931h2.4M551 1907h2.4M570 1898h2.4M569 1871h2.4M539 1839h2.4M587 1963h2.4M578 1913h2.4M589 1912h2.4M598 1921h2.4M577 1906h2.4M589 1881h2.4M587 1847h2.4M598 1855h2.4M600 1846h2.4M608 1854h2.4M609 1847h2.4M366 2055h2.4M382 2025h2.4M397 2025h2.4M414 2042h2.4M479 2057h2.4M480 2041h2.4M496 2056h2.4M529 2008h2.4M544 2024h2.4M545 1977h2.4M595 2009h2.4M592 1773h2.4M610 1767h2.4M559 2056h2.4M596 2013h2.4M541 2024h2.4M393 2067h2.4M443 2076h2.4" stroke="#47ffb8"/>
<path d="M474 1913h2.4M484 1916h2.4M471 1907h2.4M471 1905h2.4M469 1883h2.4M490 1857h2.4M491 1814h2.4M493 1798h2.4M509 1973h2.4M523 1929h2.4M528 1929h2.4M527 1923h2.4M509 1874h2.4M509 1866h2.4M503 1857h2.4M503 1853h2.4M513 1853h2.4M518 1844h2.4M522 1849h2.4M522 1838h2.4M521 1830h2.4M519 1823h2.4M519 1813h2.4M502 1805h2.4M521 1803h2.4M532 1788h2.4M548 1973h2.4M548 1854h2.4M571 1856h2.4M558 1839h2.4M558 1803h2.4M560 1794h2.4M600 1955h2.4M607 1865h2.4M578 1821h2.4M588 1822h2.4M398 2007h2.4M413 2073h2.4M413 2056h2.4M431 2040h2.4M430 2023h2.4M480 2026h2.4M481 2007h2.4M480 1992h2.4M494 2024h2.4M513 1992h2.4M530 2023h2.4M560 1994h2.4M611 1991h2.4M612 1977h2.4M471 2079h2.4" stroke="#57ffa8"/>
<path d="M485 1919h2.4M469 1879h2.4M475 1866h2.4M474 1853h2.4M483 1866h2.4M531 1966h2.4M499 1934h2.4M503 1933h2.4M513 1933h2.4M518 1933h2.4M532 1933h2.4M532 1924h2.4M514 1870h2.4M514 1867h2.4M512 1861h2.4M500 1856h2.4M507 1845h2.4M517 1857h2.4M517 1849h2.4M502 1837h2.4M519 1794h2.4M530 1797h2.4M531 1782h2.4M570 1972h2.4M540 1938h2.4M547 1941h2.4M539 1921h2.4M551 1913h2.4M558 1938h2.4M566 1941h2.4M558 1898h2.4M560 1890h2.4M560 1873h2.4M569 1865h2.4M559 1813h2.4M538 1780h2.4M589 1971h2.4M589 1945h2.4M598 1962h2.4M606 1945h2.4M577 1920h2.4M587 1923h2.4M597 1931h2.4M608 1932h2.4M608 1914h2.4M576 1896h2.4M586 1899h2.4M606 1906h2.4M595 1887h2.4M598 1879h2.4M580 1862h2.4M586 1862h2.4M579 1848h2.4M577 1838h2.4M598 1838h2.4M333 2039h2.4M332 2025h2.4M381 2009h2.4M399 2071h2.4M398 2055h2.4M398 2039h2.4M397 1994h2.4M414 2007h2.4M496 2008h2.4M495 1976h2.4M511 2040h2.4M513 2008h2.4M527 1994h2.4M578 2010h2.4M595 1786h2.4M612 1960h2.4M610 1834h2.4M610 1788h2.4M612 1772h2.4M575 1757h2.4M584 2022h2.4M400 2071h2.4M498 2080h2.4" stroke="#37ffc8"/>
<path d="M474 1874h2.4M475 1869h2.4M478 1869h2.4M495 1865h2.4M527 1913h2.4M533 1912h2.4M503 1875h2.4M503 1869h2.4M498 1865h2.4M507 1870h2.4M513 1856h2.4M519 1874h2.4M518 1866h2.4M517 1854h2.4M524 1852h2.4M510 1829h2.4M508 1823h2.4M531 1821h2.4M512 1803h2.4M528 1805h2.4M553 1891h2.4M552 1883h2.4M560 1856h2.4M576 1831h2.4M586 1813h2.4M580 1805h2.4M447 2073h2.4M560 1978h2.4M611 1754h2.4" stroke="#67ff98"/>
<path d="M484 1971h2.4M493 1947h2.4M491 1930h2.4M465 1886h2.4M474 1857h2.4M483 1861h2.4M490 1860h2.4M483 1858h2.4M485 1854h2.4M493 1854h2.4M492 1848h2.4M490 1820h2.4M483 1806h2.4M501 1949h2.4M520 1962h2.4M511 1941h2.4M497 1848h2.4M499 1846h2.4M513 1845h2.4M499 1781h2.4M510 1762h2.4M531 1770h2.4M539 1956h2.4M549 1946h2.4M556 1972h2.4M559 1955h2.4M551 1923h2.4M567 1932h2.4M557 1878h2.4M568 1890h2.4M551 1845h2.4M568 1804h2.4M570 1795h2.4M559 1780h2.4M570 1788h2.4M539 1771h2.4M559 1770h2.4M576 1966h2.4M578 1946h2.4M576 1940h2.4M589 1929h2.4M608 1937h2.4M607 1924h2.4M598 1897h2.4M607 1890h2.4M605 1881h2.4M588 1871h2.4M588 1854h2.4M596 1873h2.4M596 1865h2.4M590 1831h2.4M606 1837h2.4M577 1795h2.4M334 2055h2.4M347 2056h2.4M348 2041h2.4M380 2055h2.4M447 1976h2.4M462 1994h2.4M496 2073h2.4M513 1756h2.4M529 1756h2.4M546 1993h2.4M593 1978h2.4M593 1757h2.4M626 1897h2.4M625 1756h2.4M610 1742h2.4M637 1798h2.4" stroke="#26ffd9"/>
<path d="M488 1866h2.4M498 1929h2.4M509 1928h2.4M509 1877h2.4M502 1864h2.4M514 1875h2.4M509 1853h2.4M523 1857h2.4M500 1822h2.4M528 1811h2.4M553 1874h2.4M559 1862h2.4M561 1820h2.4M567 1821h2.4M580 1814h2.4M414 2024h2.4M431 2055h2.4M446 2024h2.4M463 2071h2.4M463 2057h2.4M480 2071h2.4M496 2041h2.4M560 2009h2.4" stroke="#77ff88"/>
<path d="M474 1966h2.4M490 1974h2.4M491 1964h2.4M465 1903h2.4M465 1875h2.4M470 1874h2.4M470 1870h2.4M475 1861h2.4M470 1853h2.4M475 1849h2.4M479 1853h2.4M479 1848h2.4M484 1848h2.4M485 1844h2.4M484 1796h2.4M490 1789h2.4M481 1773h2.4M489 1770h2.4M493 1754h2.4M510 1954h2.4M512 1949h2.4M502 1850h2.4M510 1837h2.4M499 1771h2.4M510 1769h2.4M540 1963h2.4M568 1966h2.4M560 1949h2.4M568 1956h2.4M556 1930h2.4M560 1914h2.4M538 1820h2.4M578 1973h2.4M578 1956h2.4M597 1949h2.4M598 1938h2.4M590 1903h2.4M580 1880h2.4M585 1890h2.4M599 1906h2.4M605 1896h2.4M579 1872h2.4M579 1856h2.4M609 1870h2.4M599 1831h2.4M616 1949h2.4M616 1931h2.4M363 2023h2.4M366 1994h2.4M380 2071h2.4M380 1993h2.4M414 1994h2.4M430 1994h2.4M447 2008h2.4M446 1994h2.4M464 2010h2.4M481 1976h2.4M560 1771h2.4M577 1994h2.4M576 1787h2.4M578 1772h2.4M576 1755h2.4M628 1914h2.4M625 1835h2.4M627 1772h2.4M590 1758h2.4" stroke="#16ffe9"/>
<path d="M470 1886h2.4M483 1871h2.4M493 1870h2.4M504 1928h2.4M498 1925h2.4M517 1924h2.4M514 1878h2.4M519 1885h2.4M518 1882h2.4M519 1878h2.4M512 1811h2.4M463 2023h2.4" stroke="#88ff77"/>
<path d="M443 1963h2.4M452 1956h2.4M461 1972h2.4M471 1939h2.4M492 1937h2.4M480 1920h2.4M464 1882h2.4M465 1878h2.4M469 1866h2.4M471 1857h2.4M474 1820h2.4M490 1837h2.4M484 1821h2.4M482 1813h2.4M481 1752h2.4M529 1972h2.4M522 1946h2.4M530 1957h2.4M531 1948h2.4M499 1852h2.4M501 1787h2.4M500 1762h2.4M528 1763h2.4M568 1948h2.4M568 1912h2.4M560 1907h2.4M578 1932h2.4M586 1938h2.4M599 1913h2.4M578 1889h2.4M315 2025h2.4M349 2025h2.4M348 2010h2.4M366 2040h2.4M366 2010h2.4M494 1740h2.4M527 1977h2.4M545 2009h2.4M560 1756h2.4M594 1803h2.4M610 1802h2.4M626 1883h2.4M627 1866h2.4M627 1851h2.4M287 2045h2.4M633 1746h2.4M637 1766h2.4M623 1822h2.4" stroke="#06fff9"/>
<path d="M470 1900h2.4M474 1879h2.4M503 1925h2.4M509 1924h2.4M513 1924h2.4M524 1919h2.4M524 1916h2.4M513 1885h2.4M512 1883h2.4M529 1907h2.4M518 1890h2.4M522 1892h2.4M522 1885h2.4M522 1881h2.4M522 1871h2.4M552 1878h2.4M552 1871h2.4M447 2057h2.4M463 2041h2.4" stroke="#98ff67"/>
<path d="M443 1946h2.4M445 1925h2.4M463 1956h2.4M492 1955h2.4M474 1916h2.4M464 1894h2.4M460 1878h2.4M464 1870h2.4M462 1854h2.4M464 1849h2.4M479 1845h2.4M484 1781h2.4M492 1780h2.4M500 1939h2.4M522 1762h2.4M540 1947h2.4M541 1830h2.4M549 1789h2.4M549 1770h2.4M331 2010h2.4M380 1977h2.4M381 1740h2.4M464 1978h2.4M481 1740h2.4M627 1820h2.4M628 1802h2.4M628 1787h2.4M334 2052h2.4M587 1741h2.4M632 1819h2.4" stroke="#00f5ff"/>
<path d="M484 1912h2.4M479 1875h2.4M489 1874h2.4M523 1912h2.4M528 1853h2.4M532 1832h2.4M540 1914h2.4" stroke="#a8ff57"/>
<path d="M393 1745h2.4M452 1965h2.4M454 1948h2.4M444 1929h2.4M450 1925h2.4M482 1964h2.4M481 1947h2.4M464 1899h2.4M470 1848h2.4M470 1829h2.4M470 1812h2.4M474 1803h2.4M483 1787h2.4M482 1762h2.4M548 1837h2.4M548 1794h2.4M284 1993h2.4M298 1992h2.4M316 2040h2.4M317 1994h2.4M316 1977h2.4M349 1993h2.4M365 1976h2.4M397 1976h2.4M399 1962h2.4M397 1740h2.4M414 1978h2.4M430 1976h2.4M543 1756h2.4M267 2022h2.4" stroke="#00e5ff"/>
<path d="M475 1906h2.4M470 1894h2.4M484 1875h2.4M495 1875h2.4M514 1920h2.4M514 1895h2.4M504 1879h2.4M508 1883h2.4M522 1908h2.4M522 1904h2.4M519 1895h2.4M522 1895h2.4M523 1873h2.4M524 1866h2.4M528 1857h2.4M531 1840h2.4M537 1846h2.4" stroke="#b8ff47"/>
<path d="M403 1744h2.4M433 1948h2.4M454 1941h2.4M449 1920h2.4M470 1974h2.4M463 1948h2.4M472 1949h2.4M481 1955h2.4M484 1925h2.4M460 1875h2.4M461 1862h2.4M466 1845h2.4M476 1843h2.4M464 1823h2.4M538 1815h2.4M539 1803h2.4M541 1788h2.4M301 2024h2.4M316 2009h2.4M430 1741h2.4M447 1740h2.4M463 1739h2.4M222 1705h2.4M269 1986h2.4" stroke="#00d4ff"/>
<path d="M473 1885h2.4M474 1882h2.4M498 1878h2.4M513 1892h2.4M548 1883h2.4M547 1875h2.4M548 1865h2.4" stroke="#c8ff37"/>
<path d="M394 1957h2.4M413 1949h2.4M426 1957h2.4M447 1919h2.4M455 1845h2.4M443 1813h2.4M451 1812h2.4M480 1939h2.4M485 1933h2.4M480 1925h2.4M465 1907h2.4M459 1895h2.4M461 1891h2.4M460 1882h2.4M460 1849h2.4M480 1840h2.4M464 1795h2.4M473 1796h2.4M463 1764h2.4M540 1796h2.4M549 1803h2.4M331 1992h2.4M347 1739h2.4M275 1711h2.4M320 1715h2.4M298 2027h2.4" stroke="#00c4ff"/>
<path d="M474 1903h2.4M479 1879h2.4M495 1878h2.4M503 1921h2.4M517 1920h2.4M502 1882h2.4M526 1869h2.4M531 1847h2.4M548 1878h2.4" stroke="#d9ff26"/>
<path d="M395 1948h2.4M412 1965h2.4M384 1940h2.4M388 1932h2.4M413 1939h2.4M414 1929h2.4M388 1771h2.4M451 1929h2.4M439 1920h2.4M454 1874h2.4M454 1806h2.4M453 1746h2.4M470 1916h2.4M479 1933h2.4M461 1908h2.4M460 1900h2.4M459 1870h2.4M460 1845h2.4M463 1829h2.4M472 1836h2.4M465 1812h2.4M463 1803h2.4M462 1788h2.4M473 1772h2.4M547 1829h2.4M549 1819h2.4M282 1977h2.4M298 1977h2.4M331 1757h2.4M347 1977h2.4M366 1741h2.4M280 1749h2.4" stroke="#00b4ff"/>
<path d="M488 1913h2.4M479 1908h2.4M489 1879h2.4M518 1913h2.4M498 1882h2.4M508 1887h2.4M517 1904h2.4M527 1885h2.4M533 1852h2.4M543 1862h2.4M547 1870h2.4" stroke="#e9ff16"/>
<path d="M394 1762h2.4M394 1755h2.4M425 1949h2.4M443 1937h2.4M455 1924h2.4M451 1913h2.4M455 1877h2.4M452 1870h2.4M456 1869h2.4M456 1862h2.4M445 1854h2.4M446 1849h2.4M445 1844h2.4M454 1854h2.4M457 1849h2.4M455 1838h2.4M444 1780h2.4M433 1744h2.4M452 1772h2.4M461 1904h2.4M460 1839h2.4M461 1780h2.4M462 1771h2.4M333 1976h2.4M333 1945h2.4M332 1770h2.4M331 1738h2.4M347 1754h2.4M364 1773h2.4M366 1755h2.4M382 1962h2.4M240 2043h2.4" stroke="#00a4ff"/>
<path d="M475 1890h2.4M485 1878h2.4M509 1919h2.4M512 1900h2.4M503 1886h2.4M507 1891h2.4M517 1900h2.4M532 1892h2.4M529 1861h2.4M539 1904h2.4" stroke="#f9ff06"/>
<path d="M404 1946h2.4M413 1958h2.4M404 1940h2.4M404 1923h2.4M387 1780h2.4M385 1764h2.4M394 1769h2.4M424 1938h2.4M431 1923h2.4M436 1924h2.4M437 1917h2.4M440 1924h2.4M440 1915h2.4M425 1904h2.4M455 1899h2.4M452 1877h2.4M455 1883h2.4M449 1853h2.4M454 1856h2.4M450 1844h2.4M426 1813h2.4M452 1830h2.4M442 1821h2.4M454 1794h2.4M455 1781h2.4M434 1753h2.4M441 1763h2.4M453 1761h2.4M445 1747h2.4M474 1919h2.4M459 1887h2.4M470 1761h2.4M298 1962h2.4M317 1962h2.4M364 1962h2.4M365 1787h2.4M415 1741h2.4M218 2014h2.4" stroke="#0094ff"/>
<path d="M475 1898h2.4M498 1920h2.4M546 1890h2.4" stroke="#fff500"/>
<path d="M394 1921h2.4M394 1912h2.4M404 1907h2.4M384 1795h2.4M395 1786h2.4M396 1781h2.4M402 1807h2.4M404 1778h2.4M404 1769h2.4M407 1754h2.4M415 1754h2.4M424 1929h2.4M426 1916h2.4M431 1919h2.4M435 1921h2.4M442 1912h2.4M446 1912h2.4M420 1908h2.4M423 1895h2.4M454 1906h2.4M454 1887h2.4M450 1860h2.4M446 1858h2.4M433 1813h2.4M441 1829h2.4M422 1805h2.4M425 1789h2.4M443 1797h2.4M445 1787h2.4M445 1769h2.4M451 1753h2.4M267 1962h2.4M284 1772h2.4M317 1754h2.4M349 1961h2.4M261 1959h2.4M164 2015h2.4" stroke="#0084ff"/>
<path d="M474 1896h2.4M512 1915h2.4M514 1912h2.4M513 1908h2.4M513 1904h2.4M531 1896h2.4M528 1878h2.4M527 1873h2.4M531 1865h2.4M531 1858h2.4M538 1898h2.4M542 1865h2.4" stroke="#ffe500"/>
<path d="M403 1915h2.4M413 1922h2.4M412 1891h2.4M418 1890h2.4M415 1812h2.4M404 1798h2.4M416 1803h2.4M403 1761h2.4M416 1770h2.4M416 1763h2.4M424 1923h2.4M422 1915h2.4M427 1911h2.4M456 1916h2.4M436 1903h2.4M432 1900h2.4M435 1894h2.4M436 1890h2.4M443 1907h2.4M445 1875h2.4M440 1856h2.4M440 1853h2.4M440 1845h2.4M434 1829h2.4M434 1821h2.4M442 1805h2.4M267 1977h2.4M282 1961h2.4M300 1786h2.4M349 1945h2.4M349 1789h2.4M349 1773h2.4M366 1802h2.4" stroke="#0073ff"/>
<path d="M485 1909h2.4M479 1883h2.4M499 1886h2.4" stroke="#ffd500"/>
<path d="M375 1921h2.4M375 1913h2.4M375 1788h2.4M395 1939h2.4M387 1923h2.4M388 1914h2.4M403 1930h2.4M415 1913h2.4M418 1886h2.4M412 1878h2.4M394 1812h2.4M395 1805h2.4M393 1796h2.4M417 1787h2.4M421 1913h2.4M437 1913h2.4M455 1919h2.4M422 1902h2.4M427 1895h2.4M432 1885h2.4M456 1895h2.4M454 1891h2.4M449 1883h2.4M435 1866h2.4M435 1861h2.4M432 1854h2.4M437 1852h2.4M441 1874h2.4M444 1869h2.4M440 1864h2.4M450 1875h2.4M450 1865h2.4M422 1820h2.4M445 1839h2.4M433 1803h2.4M422 1781h2.4M424 1769h2.4M432 1763h2.4M426 1756h2.4M442 1756h2.4M461 1929h2.4M470 1932h2.4M462 1912h2.4M284 1945h2.4M298 1771h2.4M350 1818h2.4M364 1930h2.4M214 1757h2.4" stroke="#0063ff"/>
<path d="M500 1917h2.4M508 1898h2.4M529 1882h2.4M532 1883h2.4M536 1892h2.4M543 1886h2.4" stroke="#ffc400"/>
<path d="M395 1904h2.4M397 1887h2.4M412 1895h2.4M418 1900h2.4M413 1888h2.4M417 1882h2.4M405 1812h2.4M415 1823h2.4M387 1806h2.4M431 1912h2.4M427 1908h2.4M423 1899h2.4M425 1887h2.4M431 1890h2.4M435 1886h2.4M441 1894h2.4M447 1900h2.4M451 1896h2.4M442 1879h2.4M446 1879h2.4M423 1866h2.4M428 1861h2.4M435 1848h2.4M444 1860h2.4M425 1830h2.4M432 1795h2.4M425 1762h2.4M433 1773h2.4M474 1923h2.4M268 1930h2.4M266 1802h2.4M281 1787h2.4M299 1930h2.4M300 1913h2.4M315 1945h2.4M315 1930h2.4M333 1914h2.4M333 1804h2.4M348 1929h2.4M366 1946h2.4M199 1959h2.4M266 1794h2.4M255 1938h2.4" stroke="#0053ff"/>
<path d="M478 1890h2.4M485 1882h2.4M488 1882h2.4M543 1875h2.4M543 1871h2.4M536 1861h2.4" stroke="#ffb400"/>
<path d="M377 1938h2.4M368 1899h2.4M378 1906h2.4M376 1871h2.4M374 1804h2.4M397 1930h2.4M397 1882h2.4M416 1905h2.4M412 1882h2.4M384 1854h2.4M412 1873h2.4M416 1874h2.4M405 1831h2.4M403 1786h2.4M427 1882h2.4M437 1879h2.4M440 1899h2.4M445 1894h2.4M442 1892h2.4M450 1890h2.4M431 1867h2.4M437 1857h2.4M442 1870h2.4M446 1866h2.4M434 1839h2.4M436 1787h2.4M475 1929h2.4M268 1946h2.4M282 1802h2.4M299 1944h2.4M299 1802h2.4M349 1803h2.4M363 1914h2.4M366 1820h2.4M235 1925h2.4" stroke="#0043ff"/>
<path d="M478 1887h2.4M493 1884h2.4M503 1916h2.4M542 1882h2.4M536 1867h2.4" stroke="#ffa400"/>
<path d="M374 1862h2.4M377 1857h2.4M374 1846h2.4M366 1840h2.4M367 1830h2.4M374 1830h2.4M374 1812h2.4M405 1899h2.4M394 1862h2.4M406 1864h2.4M412 1869h2.4M421 1890h2.4M422 1887h2.4M430 1883h2.4M432 1879h2.4M436 1883h2.4M440 1888h2.4M447 1892h2.4M445 1882h2.4M426 1869h2.4M421 1861h2.4M431 1874h2.4M435 1779h2.4M300 1896h2.4M300 1820h2.4M317 1804h2.4M317 1772h2.4M333 1930h2.4M333 1820h2.4M331 1787h2.4M347 1834h2.4M226 1798h2.4M223 1959h2.4" stroke="#0033ff"/>
<path d="M507 1915h2.4M502 1892h2.4M532 1879h2.4M531 1874h2.4M533 1869h2.4M537 1886h2.4M536 1869h2.4" stroke="#ff9400"/>
<path d="M377 1896h2.4M366 1888h2.4M369 1872h2.4M368 1847h2.4M376 1839h2.4M378 1820h2.4M388 1905h2.4M383 1897h2.4M393 1896h2.4M411 1898h2.4M385 1864h2.4M383 1846h2.4M396 1854h2.4M394 1846h2.4M418 1870h2.4M403 1855h2.4M417 1856h2.4M412 1847h2.4M394 1830h2.4M388 1813h2.4M394 1820h2.4M412 1829h2.4M404 1821h2.4M422 1883h2.4M421 1878h2.4M426 1878h2.4M446 1886h2.4M451 1887h2.4M421 1874h2.4M425 1865h2.4M430 1860h2.4M422 1846h2.4M267 1913h2.4M267 1897h2.4M267 1881h2.4M268 1819h2.4M284 1819h2.4M299 1881h2.4M300 1836h2.4M316 1912h2.4M315 1787h2.4M333 1833h2.4M349 1914h2.4M350 1867h2.4M195 1799h2.4M199 1825h2.4M169 1939h2.4M255 1919h2.4" stroke="#0022ff"/>
<path d="M508 1903h2.4M499 1890h2.4M538 1881h2.4" stroke="#ff8400"/>
<path d="M367 1882h2.4M368 1863h2.4M365 1855h2.4M393 1873h2.4M406 1873h2.4M405 1846h2.4M395 1838h2.4M386 1822h2.4M414 1837h2.4M420 1871h2.4M425 1873h2.4M469 1928h2.4M465 1920h2.4M265 1788h2.4M285 1913h2.4M284 1896h2.4M332 1849h2.4M348 1882h2.4M210 1874h2.4M188 1925h2.4M255 1899h2.4" stroke="#0012ff"/>
<path d="M481 1902h2.4M480 1895h2.4M489 1886h2.4M504 1912h2.4M504 1899h2.4" stroke="#ff7300"/>
<path d="M374 1890h2.4M384 1838h2.4M406 1839h2.4M471 1925h2.4M470 1920h2.4M265 1849h2.4M267 1833h2.4M299 1852h2.4M317 1834h2.4M349 1897h2.4M174 1844h2.4" stroke="#0002ff"/>
<path d="M479 1899h2.4M493 1886h2.4M504 1903h2.4M538 1877h2.4" stroke="#ff6300"/>
<path d="M384 1879h2.4M283 1881h2.4M284 1866h2.4M282 1849h2.4M299 1865h2.4M315 1897h2.4M317 1851h2.4M315 1820h2.4M349 1851h2.4M225 1831h2.4M172 1893h2.4M259 1862h2.4M256 1881h2.4" stroke="#0000f1"/>
<path d="M484 1887h2.4M499 1894h2.4M536 1873h2.4" stroke="#ff5300"/>
<path d="M384 1874h2.4M267 1866h2.4M334 1897h2.4M331 1881h2.4M333 1867h2.4" stroke="#0000e1"/>
<path d="M495 1910h2.4M490 1908h2.4" stroke="#ff4300"/>
<path d="M316 1883h2.4" stroke="#0000d0"/>
<path d="M485 1903h2.4M494 1892h2.4" stroke="#ff3300"/>
<path d="M316 1867h2.4" stroke="#0000c0"/>
<path d="M483 1895h2.4M484 1891h2.4M488 1889h2.4" stroke="#ff2200"/>
<path d="M483 1900h2.4M503 1908h2.4" stroke="#ff1200"/>
<path d="M488 1904h2.4" stroke="#ff0200"/>
<path d="M493 1908h2.4M492 1894h2.4M500 1907h2.4" stroke="#f10000"/>
<path d="M499 1904h2.4" stroke="#e10000"/>
<path d="M492 1904h2.4M493 1899h2.4M498 1900h2.4" stroke="#d00000"/>
<path d="M490 1895h2.4" stroke="#b00000"/>
<path d="M490 1898h2.4" stroke="#a00000"/>
<path d="M1102 1828h2.4M1104 1823h2.4M1093 1798h2.4M1106 1803h2.4M1093 1786h2.4M1094 1778h2.4M1106 1769h2.4M1132 1870h2.4M1112 1805h2.4M1123 1803h2.4M1122 1795h2.4M1115 1788h2.4M1112 1780h2.4M1125 1778h2.4M1133 1797h2.4M1135 1787h2.4M1142 1771h2.4M1174 1926h2.4M1153 1788h2.4M1175 1780h2.4M1154 1763h2.4M1163 1771h2.4M1172 1772h2.4M1173 1761h2.4M1180 1769h2.4M1171 1752h2.4M1184 1753h2.4M1201 1955h2.4M1191 1761h2.4M1201 1761h2.4M1213 1761h2.4M1223 1770h2.4M1219 1762h2.4M1231 1964h2.4M1240 1974h2.4M1230 1957h2.4M1240 1770h2.4M1270 1947h2.4M1282 1946h2.4M1268 1941h2.4M1270 1933h2.4M1278 1939h2.4M1281 1929h2.4M1279 1923h2.4M1290 1939h2.4M1300 1932h2.4M1291 1922h2.4M1299 1924h2.4M1299 1906h2.4M1297 1896h2.4M1301 1871h2.4M1272 1814h2.4M1120 1740h2.4M1153 1738h2.4M1171 1739h2.4M1204 1755h2.4M1220 1755h2.4M1236 1977h2.4M1235 1756h2.4M1268 1754h2.4M1284 1772h2.4M1304 1960h2.4M1302 1802h2.4M1304 1772h2.4M1318 1897h2.4M1319 1852h2.4M1318 1835h2.4M1320 1820h2.4M1320 1802h2.4M1303 1741h2.4M1329 1798h2.4" stroke="#47ffb8"/>
<path d="M1122 1854h2.4M1125 1848h2.4M1130 1865h2.4M1115 1830h2.4M1124 1839h2.4M1112 1820h2.4M1116 1813h2.4M1124 1821h2.4M1123 1813h2.4M1131 1829h2.4M1132 1821h2.4M1133 1813h2.4M1141 1812h2.4M1132 1804h2.4M1144 1794h2.4M1134 1779h2.4M1161 1812h2.4M1154 1794h2.4M1174 1795h2.4M1183 1798h2.4M1173 1787h2.4M1181 1788h2.4M1153 1770h2.4M1222 1958h2.4M1201 1780h2.4M1210 1778h2.4M1190 1771h2.4M1201 1769h2.4M1231 1947h2.4M1240 1946h2.4M1239 1942h2.4M1258 1942h2.4M1258 1933h2.4M1232 1796h2.4M1240 1788h2.4M1250 1803h2.4M1251 1780h2.4M1262 1787h2.4M1230 1771h2.4M1281 1913h2.4M1291 1913h2.4M1300 1915h2.4M1282 1904h2.4M1292 1907h2.4M1290 1897h2.4M1300 1890h2.4M1297 1881h2.4M1300 1865h2.4M1292 1846h2.4M1301 1854h2.4M1301 1847h2.4M1278 1813h2.4M1291 1838h2.4M1291 1831h2.4M1299 1837h2.4M1272 1805h2.4M1269 1795h2.4M1268 1787h2.4M1287 1785h2.4M1302 1834h2.4M1302 1787h2.4M1320 1866h2.4M1315 1822h2.4" stroke="#57ffa8"/>
<path d="M1095 1812h2.4M1105 1811h2.4M1082 1795h2.4M1077 1780h2.4M1084 1785h2.4M1085 1781h2.4M1092 1806h2.4M1106 1787h2.4M1077 1770h2.4M1074 1763h2.4M1083 1762h2.4M1083 1755h2.4M1082 1744h2.4M1093 1760h2.4M1106 1762h2.4M1097 1754h2.4M1092 1744h2.4M1125 1861h2.4M1135 1875h2.4M1126 1787h2.4M1146 1781h2.4M1114 1769h2.4M1115 1762h2.4M1123 1773h2.4M1122 1762h2.4M1116 1755h2.4M1124 1752h2.4M1123 1744h2.4M1135 1769h2.4M1132 1763h2.4M1143 1761h2.4M1132 1755h2.4M1142 1753h2.4M1143 1745h2.4M1183 1938h2.4M1152 1779h2.4M1161 1760h2.4M1211 1963h2.4M1220 1973h2.4M1222 1966h2.4M1240 1965h2.4M1248 1973h2.4M1248 1965h2.4M1262 1973h2.4M1259 1967h2.4M1251 1956h2.4M1251 1950h2.4M1259 1957h2.4M1260 1949h2.4M1250 1769h2.4M1270 1974h2.4M1268 1967h2.4M1281 1972h2.4M1279 1963h2.4M1269 1957h2.4M1291 1963h2.4M1292 1956h2.4M1289 1950h2.4M1290 1932h2.4M1300 1938h2.4M1309 1949h2.4M1309 1932h2.4M1021 2026h2.4M1036 2057h2.4M1055 2057h2.4M1055 2041h2.4M1055 2011h2.4M1055 1755h2.4M1069 2073h2.4M1071 2026h2.4M1088 2056h2.4M1088 2040h2.4M1086 1739h2.4M1102 2075h2.4M1104 2043h2.4M1103 2026h2.4M1105 1740h2.4M1121 2056h2.4M1137 2074h2.4M1137 2009h2.4M1138 1739h2.4M1153 2058h2.4M1154 2025h2.4M1171 2073h2.4M1187 2057h2.4M1186 2042h2.4M1219 1978h2.4M1236 2026h2.4M1237 1994h2.4M1252 2010h2.4M1252 1979h2.4M1252 1771h2.4M1251 1755h2.4M1270 2011h2.4M1270 1771h2.4M1287 2010h2.4M1285 1978h2.4M1303 1992h2.4M1304 1978h2.4M1303 1754h2.4M1321 1915h2.4M1319 1883h2.4M1321 1787h2.4M1320 1771h2.4M1318 1755h2.4M901 1756h2.4M882 1799h2.4M861 1844h2.4M855 1939h2.4M905 2015h2.4M928 2044h2.4M1326 1746h2.4M1267 1756h2.4M1282 1758h2.4M1325 1818h2.4M1289 2014h2.4M1232 2025h2.4" stroke="#37ffc8"/>
<path d="M1127 1857h2.4M1127 1852h2.4M1135 1869h2.4M1135 1860h2.4M1137 1858h2.4M1135 1854h2.4M1130 1845h2.4M1135 1844h2.4M1124 1828h2.4M1135 1839h2.4M1145 1838h2.4M1144 1806h2.4M1150 1896h2.4M1150 1845h2.4M1151 1839h2.4M1155 1812h2.4M1165 1820h2.4M1172 1813h2.4M1153 1803h2.4M1165 1803h2.4M1164 1796h2.4M1174 1805h2.4M1180 1804h2.4M1183 1779h2.4M1203 1950h2.4M1223 1948h2.4M1192 1787h2.4M1190 1781h2.4M1210 1794h2.4M1221 1797h2.4M1213 1786h2.4M1223 1787h2.4M1222 1781h2.4M1211 1772h2.4M1231 1938h2.4M1239 1932h2.4M1249 1939h2.4M1248 1930h2.4M1251 1813h2.4M1259 1821h2.4M1230 1803h2.4M1240 1802h2.4M1240 1794h2.4M1233 1787h2.4M1229 1779h2.4M1252 1794h2.4M1262 1795h2.4M1269 1921h2.4M1288 1888h2.4M1290 1879h2.4M1278 1862h2.4M1280 1854h2.4M1279 1847h2.4M1288 1873h2.4M1289 1866h2.4M1290 1855h2.4M1269 1838h2.4M1268 1831h2.4M1282 1831h2.4M1270 1821h2.4M1280 1822h2.4M1287 1803h2.4" stroke="#67ff98"/>
<path d="M1064 1787h2.4M1104 1837h2.4M1093 1821h2.4M1074 1794h2.4M1084 1805h2.4M1083 1769h2.4M1093 1769h2.4M1105 1753h2.4M1140 1883h2.4M1112 1846h2.4M1135 1746h2.4M1298 1946h2.4M1004 2041h2.4M1004 2010h2.4M1006 1754h2.4M1022 2056h2.4M1022 2040h2.4M1037 2042h2.4M1038 2026h2.4M1036 1978h2.4M1036 1754h2.4M1036 1738h2.4M1055 1995h2.4M1053 1772h2.4M1055 1740h2.4M1070 2057h2.4M1071 2010h2.4M1069 1994h2.4M1069 1978h2.4M1071 1739h2.4M1088 2073h2.4M1086 2026h2.4M1088 2008h2.4M1086 1995h2.4M1103 2058h2.4M1104 2008h2.4M1104 1995h2.4M1121 2041h2.4M1119 2025h2.4M1120 1995h2.4M1137 2058h2.4M1136 2025h2.4M1153 2072h2.4M1153 2042h2.4M1170 2058h2.4M1170 2042h2.4M1171 2008h2.4M1170 1993h2.4M1187 2075h2.4M1185 2025h2.4M1186 2009h2.4M1185 1739h2.4M1202 2041h2.4M1204 2009h2.4M1204 1993h2.4M1221 2024h2.4M1218 1995h2.4M1236 2011h2.4M1252 1995h2.4M1269 1995h2.4M1285 1756h2.4M910 1704h2.4M963 1710h2.4M1008 1714h2.4M913 1798h2.4M885 1825h2.4M912 1831h2.4M897 1875h2.4M875 1926h2.4M885 1960h2.4M910 1960h2.4M850 2016h2.4M1022 2054h2.4M1279 1740h2.4M1329 1765h2.4M1303 1767h2.4M1251 2057h2.4M1090 2073h2.4M1082 2068h2.4M1133 2078h2.4M1162 2080h2.4M1189 2081h2.4" stroke="#26ffd9"/>
<path d="M1136 1866h2.4M1140 1861h2.4M1131 1856h2.4M1130 1853h2.4M1136 1849h2.4M1139 1853h2.4M1145 1856h2.4M1145 1854h2.4M1141 1844h2.4M1145 1845h2.4M1143 1830h2.4M1171 1920h2.4M1150 1849h2.4M1153 1829h2.4M1161 1829h2.4M1155 1823h2.4M1175 1821h2.4M1194 1813h2.4M1203 1811h2.4M1193 1804h2.4M1203 1803h2.4M1213 1803h2.4M1219 1804h2.4M1239 1829h2.4M1230 1814h2.4M1241 1819h2.4M1252 1820h2.4M1260 1804h2.4M1270 1914h2.4M1278 1899h2.4M1272 1863h2.4M1270 1856h2.4M1271 1848h2.4" stroke="#77ff88"/>
<path d="M1083 1812h2.4M1136 1879h2.4M1192 1950h2.4M955 1978h2.4M955 1947h2.4M954 1914h2.4M954 1801h2.4M953 1788h2.4M973 1994h2.4M972 1771h2.4M989 2025h2.4M986 1993h2.4M988 1786h2.4M986 1770h2.4M1004 2026h2.4M1005 1995h2.4M1020 2011h2.4M1020 1993h2.4M1022 1977h2.4M1021 1770h2.4M1019 1756h2.4M1019 1737h2.4M1037 2011h2.4M1038 1994h2.4M1038 1962h2.4M1038 1788h2.4M1038 1772h2.4M1052 2025h2.4M1054 1977h2.4M1054 1786h2.4M1071 1963h2.4M1104 1979h2.4M1136 1995h2.4M1155 2011h2.4M1152 1995h2.4M1171 2027h2.4M1221 2010h2.4M967 1748h2.4M858 1893h2.4M922 1926h2.4M942 1920h2.4M949 1960h2.4M955 2023h2.4M975 2047h2.4M986 2028h2.4M953 1793h2.4M947 1862h2.4M942 1900h2.4M942 1939h2.4M957 1987h2.4M1276 2023h2.4" stroke="#16ffe9"/>
<path d="M1141 1865h2.4M1147 1849h2.4M1156 1903h2.4M1153 1854h2.4M1154 1849h2.4M1156 1845h2.4M1163 1836h2.4M1180 1820h2.4M1182 1814h2.4M1191 1829h2.4M1191 1822h2.4M1199 1823h2.4M1222 1821h2.4M1219 1811h2.4M1229 1931h2.4M1260 1913h2.4M1232 1830h2.4M1229 1820h2.4M1269 1906h2.4M1277 1891h2.4M1281 1881h2.4M1280 1871h2.4" stroke="#88ff77"/>
<path d="M1175 1972h2.4M1181 1975h2.4M1200 1974h2.4M955 1963h2.4M956 1930h2.4M955 1897h2.4M955 1866h2.4M953 1849h2.4M955 1833h2.4M970 1978h2.4M970 1962h2.4M972 1945h2.4M970 1802h2.4M969 1786h2.4M987 1978h2.4M986 1963h2.4M1005 1978h2.4M1004 1945h2.4M1004 1787h2.4M1006 1772h2.4M1020 1787h2.4M1053 1963h2.4M1086 1977h2.4M1172 1977h2.4M1185 1977h2.4M944 1881h2.4" stroke="#06fff9"/>
<path d="M1182 1931h2.4M1161 1848h2.4M1166 1843h2.4M1175 1844h2.4M1170 1840h2.4M1181 1837h2.4M1213 1946h2.4M1191 1939h2.4M1223 1934h2.4M1224 1930h2.4M1192 1837h2.4M1201 1837h2.4M1201 1829h2.4M1213 1830h2.4M1210 1823h2.4M1210 1812h2.4M1243 1923h2.4M1262 1856h2.4M1240 1837h2.4M1250 1839h2.4M1268 1897h2.4" stroke="#98ff67"/>
<path d="M1063 1804h2.4M1077 1813h2.4M1076 1806h2.4M1141 1887h2.4M1161 1974h2.4M1164 1967h2.4M1182 1965h2.4M1165 1917h2.4M1191 1967h2.4M1191 1956h2.4M955 1882h2.4M956 1819h2.4M973 1914h2.4M972 1897h2.4M970 1849h2.4M972 1819h2.4M987 1944h2.4M987 1930h2.4M1005 1963h2.4M1004 1931h2.4M1005 1803h2.4M1022 1946h2.4M1022 1931h2.4M1038 1946h2.4M1055 1802h2.4M1088 1963h2.4M1120 1977h2.4M1138 1977h2.4M1154 1979h2.4" stroke="#00f5ff"/>
<path d="M1145 1887h2.4M1140 1875h2.4M1146 1862h2.4M1166 1849h2.4M1169 1848h2.4M1170 1845h2.4M1175 1848h2.4M1190 1846h2.4M1193 1850h2.4M1195 1845h2.4M1198 1845h2.4M1204 1845h2.4M1213 1838h2.4M1222 1840h2.4M1223 1832h2.4M1230 1922h2.4M1242 1845h2.4M1261 1865h2.4M1230 1839h2.4M1270 1889h2.4M1272 1880h2.4M1271 1873h2.4" stroke="#a8ff57"/>
<path d="M1084 1958h2.4M1102 1966h2.4M1084 1820h2.4M1095 1831h2.4M1134 1964h2.4M1142 1966h2.4M1120 1860h2.4M1125 1867h2.4M1131 1874h2.4M1152 1973h2.4M1172 1964h2.4M1172 1955h2.4M1183 1956h2.4M1184 1948h2.4M971 1882h2.4M972 1866h2.4M988 1897h2.4M988 1820h2.4M987 1802h2.4M1004 1820h2.4M1022 1804h2.4M1038 1802h2.4M1055 1946h2.4" stroke="#00e5ff"/>
<path d="M1142 1871h2.4M1165 1913h2.4M1152 1862h2.4M1161 1853h2.4M1165 1853h2.4M1169 1853h2.4M1175 1854h2.4M1179 1854h2.4M1183 1848h2.4M1202 1941h2.4M1194 1853h2.4M1188 1848h2.4M1200 1853h2.4M1205 1848h2.4M1209 1844h2.4M1222 1847h2.4M1251 1914h2.4M1262 1899h2.4M1229 1846h2.4" stroke="#b8ff47"/>
<path d="M1066 1939h2.4M1063 1812h2.4M1084 1949h2.4M1103 1959h2.4M1074 1941h2.4M1075 1822h2.4M1116 1957h2.4M1153 1957h2.4M1175 1933h2.4M1171 1925h2.4M988 1914h2.4M987 1882h2.4M988 1852h2.4M988 1836h2.4M1004 1913h2.4M1022 1820h2.4M1037 1929h2.4" stroke="#00d4ff"/>
<path d="M1142 1878h2.4M1146 1869h2.4M1161 1857h2.4M1164 1857h2.4M1181 1857h2.4M1184 1854h2.4M1190 1934h2.4M1223 1924h2.4M1225 1921h2.4M1190 1852h2.4M1194 1857h2.4M1214 1849h2.4M1242 1913h2.4M1240 1854h2.4M1261 1871h2.4M1252 1856h2.4" stroke="#c8ff37"/>
<path d="M1067 1819h2.4M1084 1830h2.4M1096 1839h2.4M1143 1957h2.4M1144 1892h2.4M1154 1949h2.4M1163 1950h2.4M1171 1948h2.4M987 1865h2.4M1004 1898h2.4M1004 1867h2.4M1005 1834h2.4M1021 1914h2.4M1038 1914h2.4M1039 1818h2.4M1054 1930h2.4M1055 1820h2.4" stroke="#00c4ff"/>
<path d="M1145 1874h2.4M1149 1870h2.4M1174 1858h2.4M1191 1856h2.4M1205 1856h2.4M1204 1853h2.4M1208 1857h2.4M1208 1854h2.4M1215 1853h2.4M1208 1849h2.4M1220 1853h2.4M1225 1852h2.4M1231 1914h2.4M1252 1907h2.4M1259 1891h2.4M1251 1862h2.4" stroke="#d9ff26"/>
<path d="M1056 1830h2.4M1093 1946h2.4M1103 1949h2.4M1077 1932h2.4M1084 1939h2.4M1103 1940h2.4M1115 1950h2.4M1123 1949h2.4M1144 1949h2.4M1118 1861h2.4M1170 1939h2.4M1004 1883h2.4M1005 1851h2.4M1020 1881h2.4M1022 1833h2.4" stroke="#00b4ff"/>
<path d="M1166 1861h2.4M1181 1860h2.4M1219 1929h2.4M1223 1917h2.4M1200 1858h2.4M1214 1857h2.4M1219 1857h2.4" stroke="#e9ff16"/>
<path d="M1064 1922h2.4M1063 1830h2.4M1087 1930h2.4M1094 1941h2.4M1102 1847h2.4M1084 1838h2.4M1133 1946h2.4M1165 1920h2.4M1155 1907h2.4M1150 1900h2.4M1022 1898h2.4M1022 1867h2.4M1021 1849h2.4M1037 1898h2.4M1036 1833h2.4M1053 1914h2.4" stroke="#00a4ff"/>
<path d="M1145 1883h2.4M1170 1915h2.4M1154 1900h2.4M1161 1908h2.4M1174 1861h2.4M1194 1933h2.4M1218 1924h2.4M1218 1921h2.4M1198 1862h2.4M1203 1861h2.4M1209 1861h2.4M1223 1858h2.4M1243 1907h2.4M1250 1899h2.4M1234 1862h2.4" stroke="#f9ff06"/>
<path d="M1064 1914h2.4M1055 1840h2.4M1077 1923h2.4M1083 1846h2.4M1094 1846h2.4M1073 1838h2.4M1114 1939h2.4M1133 1938h2.4M1146 1895h2.4M1161 1940h2.4M1170 1933h2.4M1038 1851h2.4" stroke="#0094ff"/>
<path d="M1146 1878h2.4M1176 1920h2.4M1159 1867h2.4M1189 1930h2.4M1220 1916h2.4M1218 1913h2.4M1224 1912h2.4M1189 1865h2.4M1193 1865h2.4M1196 1862h2.4M1227 1861h2.4M1251 1873h2.4" stroke="#fff500"/>
<path d="M1065 1838h2.4M1077 1914h2.4M1084 1921h2.4M1093 1930h2.4M1106 1857h2.4M1145 1942h2.4M1135 1882h2.4M1121 1867h2.4M1037 1882h2.4M1039 1867h2.4" stroke="#0084ff"/>
<path d="M1155 1870h2.4M1165 1866h2.4M1185 1865h2.4M1214 1930h2.4M1220 1907h2.4M1200 1866h2.4M1205 1867h2.4M1209 1866h2.4M1220 1861h2.4M1252 1890h2.4M1233 1865h2.4M1240 1866h2.4" stroke="#ffe500"/>
<path d="M1057 1899h2.4M1067 1906h2.4M1054 1855h2.4M1057 1847h2.4M1063 1846h2.4M1083 1912h2.4M1104 1930h2.4M1094 1923h2.4M1073 1854h2.4M1073 1846h2.4M1093 1855h2.4M1114 1929h2.4M1132 1879h2.4M1111 1861h2.4M1115 1865h2.4M1165 1929h2.4M1161 1916h2.4" stroke="#0073ff"/>
<path d="M1150 1875h2.4M1169 1867h2.4M1199 1933h2.4M1209 1933h2.4M1215 1920h2.4M1215 1916h2.4M1215 1913h2.4M1194 1869h2.4M1215 1866h2.4M1223 1865h2.4M1231 1904h2.4M1238 1870h2.4M1243 1871h2.4" stroke="#ffd500"/>
<path d="M1067 1897h2.4M1056 1888h2.4M1056 1882h2.4M1063 1890h2.4M1067 1857h2.4M1093 1916h2.4M1102 1922h2.4M1077 1905h2.4M1073 1898h2.4M1083 1862h2.4M1085 1854h2.4M1095 1864h2.4M1114 1923h2.4M1140 1890h2.4M1113 1866h2.4M1165 1924h2.4" stroke="#0063ff"/>
<path d="M1161 1870h2.4M1174 1867h2.4M1179 1867h2.4M1204 1933h2.4M1213 1908h2.4M1198 1871h2.4M1205 1870h2.4M1210 1874h2.4M1214 1871h2.4M1218 1869h2.4M1244 1891h2.4M1249 1879h2.4M1234 1871h2.4M1228 1867h2.4M1244 1875h2.4" stroke="#ffc400"/>
<path d="M1058 1872h2.4M1057 1863h2.4M1066 1871h2.4M1063 1862h2.4M1073 1879h2.4M1093 1907h2.4M1075 1864h2.4M1095 1873h2.4M1102 1869h2.4M1134 1930h2.4M1110 1871h2.4M1116 1869h2.4M1160 1932h2.4M1160 1928h2.4" stroke="#0053ff"/>
<path d="M1175 1917h2.4M1151 1879h2.4M1166 1869h2.4M1169 1869h2.4M1183 1871h2.4M1213 1904h2.4M1213 1895h2.4M1209 1883h2.4M1200 1874h2.4M1205 1875h2.4M1214 1873h2.4M1219 1873h2.4M1225 1869h2.4M1230 1898h2.4M1244 1883h2.4M1227 1869h2.4M1234 1875h2.4M1239 1875h2.4" stroke="#ffb400"/>
<path d="M1105 1914h2.4M1084 1904h2.4M1082 1897h2.4M1087 1887h2.4M1087 1882h2.4M1102 1878h2.4M1073 1874h2.4M1083 1873h2.4M1102 1874h2.4M1106 1874h2.4M1107 1870h2.4M1111 1916h2.4M1111 1913h2.4M1116 1916h2.4M1121 1924h2.4M1110 1909h2.4M1136 1886h2.4M1111 1874h2.4M1115 1873h2.4M1121 1874h2.4M1161 1926h2.4M1161 1921h2.4M1151 1904h2.4" stroke="#0043ff"/>
<path d="M1156 1875h2.4M1195 1928h2.4M1189 1925h2.4M1206 1895h2.4M1204 1886h2.4M1200 1877h2.4M1205 1878h2.4M1209 1904h2.4M1208 1900h2.4M1210 1895h2.4M1222 1896h2.4M1210 1886h2.4M1213 1892h2.4M1210 1878h2.4M1213 1882h2.4M1193 1875h2.4M1239 1883h2.4M1239 1878h2.4M1243 1879h2.4M1228 1873h2.4" stroke="#ffa400"/>
<path d="M1095 1899h2.4M1106 1906h2.4M1101 1899h2.4M1102 1882h2.4M1121 1920h2.4M1126 1924h2.4M1125 1921h2.4M1141 1930h2.4M1130 1925h2.4M1135 1926h2.4M1117 1908h2.4M1111 1878h2.4M1116 1878h2.4M1122 1879h2.4M1127 1879h2.4M1151 1930h2.4" stroke="#0033ff"/>
<path d="M1161 1905h2.4M1151 1891h2.4M1150 1887h2.4M1150 1883h2.4M1174 1871h2.4M1209 1913h2.4M1195 1880h2.4M1204 1892h2.4M1203 1883h2.4M1210 1890h2.4M1213 1886h2.4M1223 1892h2.4M1219 1878h2.4M1222 1875h2.4M1235 1886h2.4M1229 1878h2.4M1237 1890h2.4" stroke="#ff9400"/>
<path d="M1102 1895h2.4M1108 1900h2.4M1101 1891h2.4M1103 1888h2.4M1108 1890h2.4M1106 1882h2.4M1117 1911h2.4M1121 1912h2.4M1130 1920h2.4M1141 1925h2.4M1112 1903h2.4M1115 1904h2.4M1112 1899h2.4M1117 1882h2.4" stroke="#0022ff"/>
<path d="M1160 1874h2.4M1185 1875h2.4M1200 1928h2.4M1204 1904h2.4M1203 1900h2.4M1199 1887h2.4M1199 1883h2.4M1219 1886h2.4M1220 1882h2.4M1224 1883h2.4M1223 1879h2.4M1227 1892h2.4M1228 1887h2.4M1230 1882h2.4M1234 1882h2.4" stroke="#ff8400"/>
<path d="M1108 1887h2.4M1137 1920h2.4M1145 1924h2.4M1112 1896h2.4M1112 1883h2.4M1125 1887h2.4M1120 1883h2.4M1126 1883h2.4M1145 1900h2.4M1155 1921h2.4" stroke="#0012ff"/>
<path d="M1156 1878h2.4M1194 1926h2.4M1208 1925h2.4M1208 1920h2.4M1204 1909h2.4M1188 1879h2.4M1198 1891h2.4" stroke="#ff7300"/>
<path d="M1127 1917h2.4M1139 1920h2.4M1117 1895h2.4M1122 1900h2.4M1125 1894h2.4M1111 1890h2.4M1112 1888h2.4M1115 1887h2.4M1121 1890h2.4M1122 1886h2.4M1141 1896h2.4M1130 1888h2.4M1153 1913h2.4M1151 1909h2.4" stroke="#0002ff"/>
<path d="M1175 1913h2.4M1165 1874h2.4M1180 1875h2.4M1200 1925h2.4M1204 1925h2.4M1205 1912h2.4M1199 1903h2.4M1199 1899h2.4M1193 1883h2.4" stroke="#ff6300"/>
<path d="M1127 1913h2.4M1130 1915h2.4M1145 1920h2.4M1147 1916h2.4M1126 1904h2.4M1126 1891h2.4M1135 1895h2.4M1132 1892h2.4M1137 1892h2.4" stroke="#0000f1"/>
<path d="M1154 1895h2.4M1186 1878h2.4M1174 1875h2.4M1194 1887h2.4" stroke="#ff5300"/>
<path d="M1132 1912h2.4M1137 1912h2.4M1141 1913h2.4M1131 1895h2.4" stroke="#0000e1"/>
<path d="M1166 1907h2.4M1169 1875h2.4M1189 1921h2.4M1205 1920h2.4M1203 1915h2.4" stroke="#ff4300"/>
<path d="M1133 1908h2.4M1130 1900h2.4M1137 1900h2.4M1144 1906h2.4" stroke="#0000d0"/>
<path d="M1179 1913h2.4M1155 1882h2.4M1160 1879h2.4M1169 1909h2.4M1200 1920h2.4M1195 1903h2.4M1195 1899h2.4M1189 1883h2.4" stroke="#ff3300"/>
<path d="M1194 1921h2.4M1190 1886h2.4M1193 1892h2.4" stroke="#ff2200"/>
<path d="M1156 1886h2.4M1176 1909h2.4M1190 1917h2.4M1198 1916h2.4" stroke="#ff1200"/>
<path d="M1175 1879h2.4M1179 1879h2.4M1194 1917h2.4M1190 1890h2.4" stroke="#ff0200"/>
<path d="M1165 1903h2.4M1161 1901h2.4M1165 1879h2.4M1195 1913h2.4M1190 1905h2.4M1194 1908h2.4M1190 1894h2.4" stroke="#f10000"/>
<path d="M1186 1911h2.4M1159 1883h2.4M1180 1908h2.4M1169 1879h2.4M1179 1882h2.4M1184 1884h2.4M1191 1908h2.4" stroke="#e10000"/>
<path d="M1183 1908h2.4M1183 1886h2.4M1189 1900h2.4" stroke="#d00000"/>
<path d="M1164 1883h2.4M1183 1905h2.4M1176 1882h2.4" stroke="#c00000"/>
<path d="M1160 1887h2.4M1171 1903h2.4M1176 1903h2.4M1179 1904h2.4M1185 1892h2.4" stroke="#b00000"/>
<path d="M1161 1895h2.4M1184 1900h2.4M1180 1886h2.4" stroke="#a00000"/>
<path d="M1166 1899h2.4M1183 1895h2.4M1169 1883h2.4" stroke="#900000"/>
<path d="M1165 1896h2.4M1166 1890h2.4M1164 1886h2.4M1170 1900h2.4M1170 1895h2.4M1174 1900h2.4M1174 1895h2.4M1181 1898h2.4M1181 1895h2.4M1169 1890h2.4M1169 1887h2.4M1174 1891h2.4M1174 1887h2.4M1179 1890h2.4" stroke="#800000"/>
<path d="M1799 1912h2.4M1821 1937h2.4M1819 1894h2.4M1832 1891h2.4M1839 1972h2.4M1854 1898h2.4M1869 1894h2.4M1857 1883h2.4M1867 1878h2.4M1871 1883h2.4M1853 1860h2.4M1842 1849h2.4M1857 1866h2.4M1878 1966h2.4M1899 1962h2.4M1883 1927h2.4M1882 1916h2.4M1888 1924h2.4M1911 1933h2.4M1905 1920h2.4M1912 1920h2.4M1882 1907h2.4M1881 1891h2.4M1886 1887h2.4M1891 1885h2.4M1896 1904h2.4M1908 1881h2.4M1881 1864h2.4M1888 1873h2.4M1898 1874h2.4M1901 1873h2.4M1900 1830h2.4M1946 1932h2.4M1969 1945h2.4M1969 1928h2.4M1957 1906h2.4M1979 1906h2.4M1996 1931h2.4M1644 1881h2.4M1711 2055h2.4M1710 1913h2.4M1710 1866h2.4M1725 2056h2.4M1741 2023h2.4M1774 1976h2.4M1791 2056h2.4M1792 2024h2.4M1841 2071h2.4M1842 1978h2.4M1859 2071h2.4M1892 1992h2.4M1711 2052h2.4M1963 2022h2.4M1771 2067h2.4M1850 2079h2.4" stroke="#47ffb8"/>
<path d="M1755 1938h2.4M1765 1931h2.4M1765 1922h2.4M1765 1913h2.4M1790 1890h2.4M1804 1956h2.4M1811 1948h2.4M1822 1963h2.4M1821 1945h2.4M1831 1956h2.4M1805 1910h2.4M1822 1929h2.4M1835 1915h2.4M1805 1907h2.4M1810 1853h2.4M1813 1847h2.4M1833 1856h2.4M1833 1853h2.4M1835 1848h2.4M1833 1845h2.4M1833 1837h2.4M1870 1964h2.4M1859 1947h2.4M1870 1930h2.4M1863 1916h2.4M1867 1912h2.4M1842 1894h2.4M1854 1906h2.4M1852 1896h2.4M1859 1902h2.4M1873 1877h2.4M1871 1870h2.4M1868 1860h2.4M1849 1828h2.4M1901 1945h2.4M1909 1957h2.4M1877 1920h2.4M1890 1914h2.4M1893 1911h2.4M1902 1929h2.4M1891 1899h2.4M1876 1878h2.4M1896 1882h2.4M1898 1877h2.4M1883 1861h2.4M1892 1866h2.4M1891 1860h2.4M1909 1847h2.4M1888 1837h2.4M1889 1761h2.4M1930 1912h2.4M1939 1913h2.4M1939 1907h2.4M1939 1889h2.4M1926 1874h2.4M1957 1946h2.4M1977 1949h2.4M1957 1932h2.4M1967 1922h2.4M1978 1912h2.4M1966 1898h2.4M1958 1888h2.4M1976 1873h2.4M1987 1865h2.4M1988 1853h2.4M1645 1818h2.4M1661 1896h2.4M1693 2040h2.4M1692 1897h2.4M1711 1976h2.4M1710 1930h2.4M1726 1945h2.4M1791 2073h2.4M1792 2007h2.4M1825 2073h2.4M1824 1993h2.4M1858 1992h2.4M1875 2073h2.4M1892 2008h2.4M1939 1978h2.4M1991 1753h2.4M2005 1834h2.4M1664 2045h2.4M1675 2027h2.4M1822 2076h2.4" stroke="#57ffa8"/>
<path d="M1765 1904h2.4M1775 1887h2.4M1823 1894h2.4M1825 1891h2.4M1828 1889h2.4M1841 1912h2.4M1863 1908h2.4M1867 1903h2.4M1871 1904h2.4M1872 1899h2.4M1864 1881h2.4M1841 1853h2.4M1838 1849h2.4M1857 1874h2.4M1873 1874h2.4M1873 1865h2.4M1883 1912h2.4M1887 1919h2.4M1906 1928h2.4M1896 1919h2.4M1911 1923h2.4M1878 1894h2.4M1878 1889h2.4M1882 1879h2.4M1891 1882h2.4M1892 1878h2.4M1907 1877h2.4M1906 1872h2.4M1897 1843h2.4M1946 1941h2.4M1917 1897h2.4M1938 1898h2.4M1922 1870h2.4M1915 1860h2.4M1965 1890h2.4M1694 1962h2.4M1726 2025h2.4M1725 1977h2.4M1744 2040h2.4M1744 1994h2.4M1776 2072h2.4M1792 1978h2.4M1809 2055h2.4M1843 2010h2.4M1858 2057h2.4M1859 2026h2.4M1923 2024h2.4M1939 2008h2.4M1617 2043h2.4M1633 1880h2.4M1877 2080h2.4" stroke="#37ffc8"/>
<path d="M1744 1839h2.4M1791 1921h2.4M1761 1897h2.4M1771 1896h2.4M1761 1878h2.4M1789 1898h2.4M1803 1949h2.4M1832 1948h2.4M1800 1915h2.4M1818 1924h2.4M1803 1903h2.4M1814 1903h2.4M1810 1899h2.4M1813 1893h2.4M1821 1907h2.4M1815 1852h2.4M1819 1855h2.4M1825 1857h2.4M1803 1829h2.4M1849 1973h2.4M1841 1956h2.4M1863 1971h2.4M1853 1928h2.4M1858 1938h2.4M1849 1907h2.4M1849 1904h2.4M1849 1900h2.4M1849 1894h2.4M1848 1886h2.4M1853 1878h2.4M1871 1907h2.4M1873 1891h2.4M1849 1856h2.4M1852 1856h2.4M1852 1853h2.4M1854 1843h2.4M1857 1848h2.4M1868 1819h2.4M1869 1814h2.4M1879 1955h2.4M1888 1954h2.4M1908 1971h2.4M1910 1965h2.4M1882 1932h2.4M1887 1927h2.4M1878 1916h2.4M1892 1924h2.4M1897 1932h2.4M1912 1929h2.4M1896 1924h2.4M1902 1916h2.4M1902 1912h2.4M1906 1912h2.4M1911 1916h2.4M1912 1911h2.4M1878 1907h2.4M1883 1898h2.4M1891 1904h2.4M1893 1894h2.4M1881 1882h2.4M1886 1890h2.4M1900 1903h2.4M1896 1899h2.4M1898 1894h2.4M1908 1906h2.4M1897 1889h2.4M1901 1891h2.4M1881 1874h2.4M1882 1868h2.4M1877 1864h2.4M1886 1862h2.4M1893 1847h2.4M1901 1870h2.4M1897 1865h2.4M1896 1853h2.4M1896 1849h2.4M1912 1852h2.4M1879 1829h2.4M1927 1973h2.4M1936 1972h2.4M1931 1882h2.4M1931 1878h2.4M1947 1890h2.4M1947 1821h2.4M1978 1962h2.4M1955 1940h2.4M1957 1920h2.4M1977 1938h2.4M1956 1896h2.4M1969 1903h2.4M1959 1879h2.4M1968 1880h2.4M1975 1887h2.4M1988 1846h2.4M1996 1948h2.4M1645 1929h2.4M1642 1849h2.4M1658 1786h2.4M1675 1992h2.4M1675 1977h2.4M1675 1962h2.4M1677 1913h2.4M1693 1882h2.4M1743 1976h2.4M1741 1962h2.4M1743 1945h2.4M1742 1929h2.4M1760 2024h2.4M1757 1993h2.4M1758 1977h2.4M1776 2055h2.4M1774 2025h2.4M1775 1993h2.4M1777 1961h2.4M1825 2008h2.4M1859 2007h2.4M1859 1976h2.4M1873 2024h2.4M1906 1994h2.4M1957 1994h2.4M1974 2008h2.4M1990 1991h2.4M2005 1896h2.4M2006 1851h2.4M2008 1786h2.4M2007 1771h2.4M1601 1830h2.4M1548 1893h2.4M1638 1959h2.4M1631 1899h2.4M1938 2056h2.4M1976 2012h2.4" stroke="#67ff98"/>
<path d="M1791 1939h2.4M1830 1965h2.4M1839 1908h2.4M1843 1902h2.4M1842 1899h2.4M1862 1894h2.4M1857 1886h2.4M1857 1878h2.4M1871 1885h2.4M1862 1874h2.4M1862 1870h2.4M1868 1874h2.4M1893 1919h2.4M1902 1919h2.4M1897 1912h2.4M1906 1923h2.4M1878 1904h2.4M1876 1899h2.4M1886 1870h2.4M1903 1866h2.4M1918 1903h2.4M1930 1906h2.4M1915 1891h2.4M1950 1898h2.4M1776 2039h2.4M1776 2007h2.4M1809 2040h2.4M1808 2023h2.4M1825 2057h2.4M1841 2041h2.4M1874 2008h2.4M1889 2040h2.4M1924 2009h2.4M1925 1993h2.4M1545 1938h2.4" stroke="#26ffd9"/>
<path d="M1755 1906h2.4M1744 1887h2.4M1745 1881h2.4M1772 1912h2.4M1792 1929h2.4M1796 1886h2.4M1772 1861h2.4M1781 1854h2.4M1783 1845h2.4M1784 1839h2.4M1783 1831h2.4M1814 1923h2.4M1825 1911h2.4M1798 1908h2.4M1809 1890h2.4M1814 1886h2.4M1828 1860h2.4M1818 1853h2.4M1829 1844h2.4M1823 1838h2.4M1852 1966h2.4M1868 1974h2.4M1860 1954h2.4M1872 1947h2.4M1849 1925h2.4M1849 1920h2.4M1853 1923h2.4M1849 1915h2.4M1853 1912h2.4M1863 1932h2.4M1871 1937h2.4M1858 1924h2.4M1858 1915h2.4M1843 1906h2.4M1853 1902h2.4M1852 1885h2.4M1852 1882h2.4M1857 1908h2.4M1868 1907h2.4M1853 1865h2.4M1848 1853h2.4M1849 1847h2.4M1867 1866h2.4M1863 1848h2.4M1839 1838h2.4M1841 1828h2.4M1843 1822h2.4M1858 1839h2.4M1868 1769h2.4M1888 1973h2.4M1879 1938h2.4M1882 1925h2.4M1882 1921h2.4M1908 1915h2.4M1883 1902h2.4M1887 1903h2.4M1892 1908h2.4M1887 1898h2.4M1878 1885h2.4M1876 1882h2.4M1892 1891h2.4M1887 1883h2.4M1900 1885h2.4M1901 1881h2.4M1906 1885h2.4M1911 1891h2.4M1893 1870h2.4M1888 1866h2.4M1889 1828h2.4M1882 1812h2.4M1880 1786h2.4M1909 1796h2.4M1911 1787h2.4M1918 1956h2.4M1947 1966h2.4M1938 1955h2.4M1919 1913h2.4M1936 1929h2.4M1932 1890h2.4M1927 1878h2.4M1932 1874h2.4M1940 1819h2.4M1965 1938h2.4M1968 1912h2.4M1978 1921h2.4M1965 1812h2.4M1986 1837h2.4M1644 1962h2.4M1644 1946h2.4M1660 1881h2.4M1676 1929h2.4M1677 1896h2.4M1676 1881h2.4M1677 1835h2.4M1693 1912h2.4M1708 2010h2.4M1711 1945h2.4M1725 2040h2.4M1725 2009h2.4M1726 1882h2.4M1744 2055h2.4M1758 2071h2.4M1758 2055h2.4M1759 2009h2.4M1808 1976h2.4M1824 2023h2.4M1826 1976h2.4M1908 2008h2.4M1939 1993h2.4M1939 1755h2.4M1958 2010h2.4M1991 1959h2.4M1990 1787h2.4M2005 1755h2.4M1571 1799h2.4M1603 1797h2.4M1550 1843h2.4M1586 1874h2.4M1575 1959h2.4M1540 2015h2.4M2013 1745h2.4M1990 1766h2.4M2012 1818h2.4" stroke="#77ff88"/>
<path d="M1802 1938h2.4M1825 1899h2.4M1854 1889h2.4M1858 1899h2.4M1862 1899h2.4M1857 1889h2.4M1862 1890h2.4M1866 1889h2.4M1868 1885h2.4M1867 1882h2.4M1886 1915h2.4M1888 1876h2.4M1911 1882h2.4M1893 1874h2.4M1901 1848h2.4M1792 2042h2.4M1858 2041h2.4M1875 2056h2.4M1874 2041h2.4M1778 2072h2.4" stroke="#16ffe9"/>
<path d="M1753 1913h2.4M1755 1896h2.4M1752 1861h2.4M1745 1846h2.4M1753 1838h2.4M1791 1948h2.4M1772 1938h2.4M1782 1940h2.4M1775 1881h2.4M1783 1899h2.4M1790 1894h2.4M1796 1899h2.4M1771 1872h2.4M1774 1853h2.4M1784 1873h2.4M1790 1828h2.4M1793 1822h2.4M1809 1919h2.4M1813 1920h2.4M1823 1925h2.4M1825 1919h2.4M1829 1912h2.4M1818 1899h2.4M1820 1891h2.4M1824 1848h2.4M1823 1843h2.4M1828 1852h2.4M1829 1812h2.4M1871 1955h2.4M1839 1929h2.4M1848 1931h2.4M1848 1873h2.4M1853 1873h2.4M1854 1868h2.4M1838 1845h2.4M1854 1848h2.4M1857 1868h2.4M1862 1866h2.4M1863 1853h2.4M1851 1836h2.4M1869 1836h2.4M1868 1788h2.4M1891 1949h2.4M1878 1933h2.4M1877 1929h2.4M1887 1932h2.4M1892 1932h2.4M1877 1924h2.4M1881 1886h2.4M1901 1907h2.4M1910 1895h2.4M1898 1885h2.4M1892 1856h2.4M1892 1852h2.4M1897 1860h2.4M1907 1811h2.4M1898 1778h2.4M1899 1771h2.4M1936 1964h2.4M1949 1972h2.4M1939 1949h2.4M1948 1948h2.4M1919 1937h2.4M1917 1930h2.4M1937 1878h2.4M1917 1814h2.4M1938 1812h2.4M1918 1802h2.4M1937 1803h2.4M1940 1794h2.4M1918 1770h2.4M1978 1896h2.4M1986 1905h2.4M1958 1872h2.4M1988 1870h2.4M1959 1814h2.4M1968 1821h2.4M1644 1896h2.4M1644 1865h2.4M1644 1833h2.4M1659 1960h2.4M1661 1818h2.4M1676 1943h2.4M1677 1851h2.4M1692 2025h2.4M1693 1944h2.4M1709 1880h2.4M1726 1928h2.4M1760 1962h2.4M1826 1739h2.4M1859 1739h2.4M1906 1977h2.4M1924 1976h2.4M1974 1803h2.4M1991 1977h2.4M1989 1833h2.4M1991 1771h2.4M2006 1882h2.4M1575 1825h2.4M1611 1925h2.4M1594 2014h2.4M1631 1938h2.4M1966 1740h2.4M1954 1756h2.4" stroke="#88ff77"/>
<path d="M1838 1895h2.4M1864 1902h2.4M1858 1894h2.4M1868 1897h2.4M1871 1894h2.4M1862 1886h2.4M1863 1878h2.4M1911 1878h2.4M1905 1868h2.4M1901 1837h2.4M1927 1882h2.4M1840 1994h2.4M1920 2024h2.4" stroke="#06fff9"/>
<path d="M1752 1889h2.4M1746 1862h2.4M1754 1871h2.4M1745 1829h2.4M1752 1829h2.4M1791 1957h2.4M1772 1920h2.4M1773 1903h2.4M1794 1905h2.4M1791 1887h2.4M1796 1889h2.4M1790 1881h2.4M1790 1877h2.4M1763 1863h2.4M1796 1870h2.4M1795 1856h2.4M1764 1821h2.4M1771 1811h2.4M1781 1820h2.4M1783 1811h2.4M1780 1806h2.4M1804 1916h2.4M1809 1923h2.4M1829 1929h2.4M1818 1919h2.4M1820 1911h2.4M1801 1895h2.4M1810 1885h2.4M1808 1883h2.4M1814 1882h2.4M1800 1846h2.4M1818 1844h2.4M1812 1839h2.4M1831 1829h2.4M1812 1802h2.4M1820 1804h2.4M1842 1948h2.4M1849 1939h2.4M1848 1927h2.4M1843 1920h2.4M1853 1919h2.4M1857 1932h2.4M1862 1925h2.4M1864 1919h2.4M1863 1912h2.4M1873 1910h2.4M1839 1890h2.4M1844 1844h2.4M1862 1861h2.4M1857 1852h2.4M1862 1857h2.4M1863 1844h2.4M1869 1857h2.4M1871 1848h2.4M1853 1819h2.4M1863 1820h2.4M1871 1797h2.4M1870 1779h2.4M1861 1761h2.4M1879 1949h2.4M1889 1940h2.4M1900 1894h2.4M1878 1851h2.4M1878 1845h2.4M1886 1845h2.4M1891 1844h2.4M1896 1856h2.4M1879 1821h2.4M1887 1822h2.4M1898 1822h2.4M1880 1804h2.4M1891 1802h2.4M1877 1780h2.4M1898 1793h2.4M1900 1785h2.4M1910 1781h2.4M1879 1761h2.4M1888 1768h2.4M1901 1761h2.4M1910 1769h2.4M1907 1762h2.4M1919 1963h2.4M1928 1945h2.4M1926 1940h2.4M1927 1931h2.4M1918 1921h2.4M1937 1938h2.4M1948 1912h2.4M1921 1865h2.4M1926 1870h2.4M1948 1870h2.4M1948 1864h2.4M1928 1819h2.4M1919 1795h2.4M1927 1793h2.4M1928 1788h2.4M1957 1973h2.4M1966 1962h2.4M1957 1956h2.4M1979 1955h2.4M1957 1913h2.4M1977 1931h2.4M1984 1896h2.4M1978 1879h2.4M1985 1880h2.4M1979 1845h2.4M1978 1837h2.4M1661 1993h2.4M1661 1944h2.4M1678 2024h2.4M1676 1864h2.4M1694 1994h2.4M1694 1977h2.4M1692 1930h2.4M1692 1819h2.4M1709 1991h2.4M1709 1849h2.4M1727 1961h2.4M1726 1897h2.4M1792 1994h2.4M1808 1994h2.4M1873 1976h2.4M1956 1786h2.4M1955 1754h2.4M1972 1772h2.4M2008 1914h2.4M2007 1865h2.4M1564 1925h2.4M1600 1959h2.4M1631 1919h2.4M1642 1793h2.4M1990 1741h2.4M2016 1797h2.4" stroke="#98ff67"/>
<path d="M1832 1905h2.4M1839 1903h2.4M1838 1900h2.4M1902 1856h2.4M1910 1857h2.4M1916 1886h2.4M1922 1874h2.4M1842 2023h2.4" stroke="#00f5ff"/>
<path d="M1752 1921h2.4M1751 1845h2.4M1753 1787h2.4M1772 1957h2.4M1773 1948h2.4M1790 1965h2.4M1782 1945h2.4M1762 1940h2.4M1782 1922h2.4M1781 1915h2.4M1793 1913h2.4M1762 1873h2.4M1761 1845h2.4M1784 1863h2.4M1792 1836h2.4M1773 1804h2.4M1802 1928h2.4M1802 1922h2.4M1809 1911h2.4M1833 1941h2.4M1827 1919h2.4M1833 1923h2.4M1833 1919h2.4M1801 1899h2.4M1805 1894h2.4M1799 1889h2.4M1814 1890h2.4M1818 1887h2.4M1799 1861h2.4M1806 1860h2.4M1823 1860h2.4M1823 1853h2.4M1800 1819h2.4M1812 1821h2.4M1821 1812h2.4M1823 1746h2.4M1851 1949h2.4M1853 1916h2.4M1859 1919h2.4M1848 1878h2.4M1848 1869h2.4M1847 1866h2.4M1857 1844h2.4M1848 1811h2.4M1860 1812h2.4M1841 1787h2.4M1860 1772h2.4M1882 1856h2.4M1883 1844h2.4M1888 1857h2.4M1890 1810h2.4M1888 1779h2.4M1878 1770h2.4M1927 1964h2.4M1919 1946h2.4M1947 1955h2.4M1931 1870h2.4M1939 1872h2.4M1917 1819h2.4M1928 1802h2.4M1917 1779h2.4M1956 1966h2.4M1985 1945h2.4M1987 1931h2.4M1987 1914h2.4M1987 1889h2.4M1968 1870h2.4M1977 1854h2.4M1957 1820h2.4M1978 1830h2.4M1959 1804h2.4M1956 1794h2.4M1642 1787h2.4M1661 1865h2.4M1658 1849h2.4M1693 2009h2.4M1693 1867h2.4M1694 1833h2.4M1694 1803h2.4M1710 2039h2.4M1711 1897h2.4M1710 1820h2.4M1727 1993h2.4M1727 1850h2.4M1741 1913h2.4M1908 1755h2.4M1989 1801h2.4M2007 1819h2.4M1644 2022h2.4M1646 1986h2.4" stroke="#a8ff57"/>
<path d="M1829 1895h2.4M1834 1894h2.4M1910 1874h2.4M1909 2023h2.4" stroke="#00e5ff"/>
<path d="M1745 1898h2.4M1746 1872h2.4M1742 1855h2.4M1755 1819h2.4M1781 1929h2.4M1782 1906h2.4M1795 1881h2.4M1772 1845h2.4M1790 1846h2.4M1772 1830h2.4M1766 1813h2.4M1793 1811h2.4M1815 1916h2.4M1815 1912h2.4M1829 1924h2.4M1800 1902h2.4M1815 1878h2.4M1824 1885h2.4M1799 1874h2.4M1812 1828h2.4M1811 1812h2.4M1810 1795h2.4M1804 1755h2.4M1811 1743h2.4M1823 1768h2.4M1860 1963h2.4M1847 1882h2.4M1867 1853h2.4M1872 1853h2.4M1842 1794h2.4M1839 1779h2.4M1861 1786h2.4M1841 1763h2.4M1878 1855h2.4M1882 1852h2.4M1880 1836h2.4M1907 1804h2.4M1931 1922h2.4M1939 1862h2.4M1920 1787h2.4M1949 1794h2.4M1939 1779h2.4M1949 1787h2.4M1968 1971h2.4M1986 1923h2.4M1960 1862h2.4M1968 1853h2.4M1976 1865h2.4M1644 1977h2.4M1659 1977h2.4M1661 1771h2.4M1676 1802h2.4M1694 1771h2.4M1709 2025h2.4M1710 1832h2.4M1727 1913h2.4M1727 1866h2.4M1743 2010h2.4M1775 1739h2.4M1892 1755h2.4M1957 1771h2.4M1973 1977h2.4M1972 1756h2.4M1636 1861h2.4M2016 1765h2.4M1969 1757h2.4M2002 1821h2.4" stroke="#b8ff47"/>
<path d="M1841 2057h2.4" stroke="#00d4ff"/>
<path d="M1775 1929h2.4M1790 1873h2.4M1790 1868h2.4M1794 1873h2.4M1761 1837h2.4M1772 1838h2.4M1772 1819h2.4M1762 1794h2.4M1794 1802h2.4M1782 1777h2.4M1780 1743h2.4M1818 1914h2.4M1800 1887h2.4M1800 1882h2.4M1805 1881h2.4M1829 1886h2.4M1801 1866h2.4M1815 1857h2.4M1824 1866h2.4M1829 1864h2.4M1834 1862h2.4M1819 1828h2.4M1820 1821h2.4M1801 1804h2.4M1803 1788h2.4M1823 1786h2.4M1803 1761h2.4M1830 1771h2.4M1831 1760h2.4M1844 1885h2.4M1840 1862h2.4M1843 1811h2.4M1852 1796h2.4M1862 1805h2.4M1862 1795h2.4M1863 1780h2.4M1851 1771h2.4M1849 1760h2.4M1910 1947h2.4M1876 1848h2.4M1881 1849h2.4M1887 1853h2.4M1909 1839h2.4M1900 1802h2.4M1922 1861h2.4M1927 1865h2.4M1916 1845h2.4M1939 1855h2.4M1950 1855h2.4M1947 1803h2.4M1928 1769h2.4M1938 1769h2.4M1988 1937h2.4M1643 1913h2.4M1661 1913h2.4M1659 1801h2.4M1677 1819h2.4M1675 1770h2.4M1693 1786h2.4M1711 1804h2.4M1727 1802h2.4M1727 1772h2.4M1743 1819h2.4M1922 1755h2.4M1939 1770h2.4M2008 1802h2.4M1599 1704h2.4M1590 1756h2.4" stroke="#c8ff37"/>
<path d="M1903 1852h2.4M1907 1856h2.4M1925 1889h2.4" stroke="#00c4ff"/>
<path d="M1755 1856h2.4M1761 1853h2.4M1771 1795h2.4M1781 1797h2.4M1803 1886h2.4M1804 1878h2.4M1810 1878h2.4M1810 1873h2.4M1808 1859h2.4M1804 1812h2.4M1814 1786h2.4M1821 1797h2.4M1832 1793h2.4M1834 1780h2.4M1802 1768h2.4M1812 1752h2.4M1820 1762h2.4M1831 1745h2.4M1868 1804h2.4M1859 1751h2.4M1872 1753h2.4M1898 1812h2.4M1910 1820h2.4M1928 1854h2.4M1926 1828h2.4M1955 1830h2.4M1969 1830h2.4M1677 1785h2.4M1694 1851h2.4M1727 1817h2.4M1744 1754h2.4M1793 1740h2.4M1841 1738h2.4M1873 1739h2.4M1974 1785h2.4" stroke="#d9ff26"/>
<path d="M1910 1864h2.4M1915 1866h2.4" stroke="#00b4ff"/>
<path d="M1751 1803h2.4M1773 1785h2.4M1774 1780h2.4M1795 1786h2.4M1772 1754h2.4M1794 1769h2.4M1794 1762h2.4M1799 1877h2.4M1833 1886h2.4M1798 1870h2.4M1804 1868h2.4M1803 1864h2.4M1800 1780h2.4M1813 1778h2.4M1811 1772h2.4M1830 1752h2.4M1843 1870h2.4M1841 1802h2.4M1841 1770h2.4M1920 1829h2.4M1937 1838h2.4M1958 1855h2.4M1643 1801h2.4M1694 1753h2.4M1725 1833h2.4M1743 1740h2.4M1652 1710h2.4M1697 1714h2.4M1656 1748h2.4" stroke="#e9ff16"/>
<path d="M1833 1899h2.4M1912 1869h2.4M1907 1853h2.4M1922 1885h2.4M1915 1868h2.4" stroke="#00a4ff"/>
<path d="M1752 1811h2.4M1781 1785h2.4M1765 1770h2.4M1834 1868h2.4M1822 1779h2.4M1810 1762h2.4M1821 1755h2.4M1843 1881h2.4M1852 1802h2.4M1910 1831h2.4M1930 1844h2.4M1965 1861h2.4M1709 1786h2.4M1725 1753h2.4M1743 1802h2.4M1742 1786h2.4M1741 1772h2.4M1809 1740h2.4" stroke="#f9ff06"/>
<path d="M1915 1872h2.4" stroke="#0094ff"/>
<path d="M1764 1806h2.4M1765 1779h2.4M1771 1744h2.4M1782 1768h2.4M1785 1753h2.4M1823 1881h2.4M1828 1882h2.4M1803 1873h2.4M1813 1860h2.4M1832 1805h2.4M1927 1836h2.4M1966 1846h2.4M1708 1756h2.4" stroke="#fff500"/>
<path d="M1908 1860h2.4M1917 1881h2.4M1921 1881h2.4" stroke="#0084ff"/>
<path d="M1793 1753h2.4M1809 1866h2.4M1818 1864h2.4M1838 1886h2.4M1844 1874h2.4M1956 1837h2.4M1709 1770h2.4M1726 1788h2.4" stroke="#ffe500"/>
<path d="M1762 1763h2.4M1771 1768h2.4M1772 1761h2.4M1781 1760h2.4M1814 1866h2.4M1837 1869h2.4M1958 1847h2.4M1724 1738h2.4" stroke="#ffd500"/>
<path d="M1823 1868h2.4M1830 1870h2.4M1844 1877h2.4M1917 1839h2.4" stroke="#ffc400"/>
<path d="M1917 1877h2.4" stroke="#0053ff"/>
<path d="M1820 1878h2.4M1820 1873h2.4M1838 1874h2.4M1759 1739h2.4" stroke="#ffb400"/>
<path d="M1833 1882h2.4M1820 1869h2.4M1823 1874h2.4M1838 1882h2.4M1839 1878h2.4M1708 1737h2.4" stroke="#ffa400"/>
<path d="M1833 1873h2.4" stroke="#ff9400"/>
<path d="M1824 1878h2.4" stroke="#ff8400"/>
<path d="M1830 1877h2.4M1834 1877h2.4M1828 1874h2.4" stroke="#ff5300"/></g>
<path d="M206.5 463.0v-6M206.5 60.0v6M303.0 463.0v-6M303.0 60.0v6M399.5 463.0v-6M399.5 60.0v6M496.0 463.0v-6M496.0 60.0v6M592.5 463.0v-6M592.5 60.0v6M110.0 412.6h6M689.0 412.6h-6M110.0 362.3h6M689.0 362.3h-6M110.0 311.9h6M689.0 311.9h-6M110.0 261.5h6M689.0 261.5h-6M110.0 211.1h6M689.0 211.1h-6M110.0 160.7h6M689.0 160.7h-6M110.0 110.4h6M689.0 110.4h-6" stroke="#333333" stroke-width="1.6" fill="none"/>
<rect x="110.0" y="60.0" width="579.0" height="403.0" stroke="#333333" stroke-width="2" fill="none"/>
<text class="tk" x="110.0" y="491.3" text-anchor="middle">99.2</text>
<text class="tk" x="206.5" y="491.3" text-anchor="middle">99.4</text>
<text class="tk" x="303.0" y="491.3" text-anchor="middle">99.6</text>
<text class="tk" x="399.5" y="491.3" text-anchor="middle">99.8</text>
<text class="tk" x="496.0" y="491.3" text-anchor="middle">100</text>
<text class="tk" x="592.5" y="491.3" text-anchor="middle">100.2</text>
<text class="tk" x="689.0" y="491.3" text-anchor="middle">100.4</text>
<text class="tk" x="100.0" y="471.6" text-anchor="end">25.2</text>
<text class="tk" x="100.0" y="421.2" text-anchor="end">25.3</text>
<text class="tk" x="100.0" y="370.9" text-anchor="end">25.4</text>
<text class="tk" x="100.0" y="320.5" text-anchor="end">25.5</text>
<text class="tk" x="100.0" y="270.1" text-anchor="end">25.6</text>
<text class="tk" x="100.0" y="219.7" text-anchor="end">25.7</text>
<text class="tk" x="100.0" y="169.3" text-anchor="end">25.8</text>
<text class="tk" x="100.0" y="119.0" text-anchor="end">25.9</text>
<text class="tk" x="100.0" y="68.6" text-anchor="end">26</text>
<text class="ti" x="399.5" y="49.0" text-anchor="middle">observation</text>
<text class="pl" x="118.5" y="93.1">(a)</text>
<path d="M887.8 466.0v-6M887.8 60.0v6M985.5 466.0v-6M985.5 60.0v6M1083.2 466.0v-6M1083.2 60.0v6M1181.0 466.0v-6M1181.0 60.0v6M1278.8 466.0v-6M1278.8 60.0v6M790.0 415.2h6M1376.5 415.2h-6M790.0 364.5h6M1376.5 364.5h-6M790.0 313.7h6M1376.5 313.7h-6M790.0 263.0h6M1376.5 263.0h-6M790.0 212.3h6M1376.5 212.3h-6M790.0 161.5h6M1376.5 161.5h-6M790.0 110.8h6M1376.5 110.8h-6" stroke="#333333" stroke-width="1.6" fill="none"/>
<rect x="790.0" y="60.0" width="586.5" height="406.0" stroke="#333333" stroke-width="2" fill="none"/>
<text class="tk" x="790.0" y="495.5" text-anchor="middle">99.2</text>
<text class="tk" x="887.8" y="495.5" text-anchor="middle">99.4</text>
<text class="tk" x="985.5" y="495.5" text-anchor="middle">99.6</text>
<text class="tk" x="1083.2" y="495.5" text-anchor="middle">99.8</text>
<text class="tk" x="1181.0" y="495.5" text-anchor="middle">100</text>
<text class="tk" x="1278.8" y="495.5" text-anchor="middle">100.2</text>
<text class="tk" x="1376.5" y="495.5" text-anchor="middle">100.4</text>
<text class="tk" x="780.0" y="474.6" text-anchor="end">25.2</text>
<text class="tk" x="780.0" y="423.8" text-anchor="end">25.3</text>
<text class="tk" x="780.0" y="373.1" text-anchor="end">25.4</text>
<text class="tk" x="780.0" y="322.3" text-anchor="end">25.5</text>
<text class="tk" x="780.0" y="271.6" text-anchor="end">25.6</text>
<text class="tk" x="780.0" y="220.9" text-anchor="end">25.7</text>
<text class="tk" x="780.0" y="170.1" text-anchor="end">25.8</text>
<text class="tk" x="780.0" y="119.4" text-anchor="end">25.9</text>
<text class="tk" x="780.0" y="68.6" text-anchor="end">26</text>
<text class="ti" x="1083.2" y="49.0" text-anchor="middle">prediction</text>
<text class="pl" x="798.5" y="91.9">(b)</text>
<path d="M1572.8 467.7v-6M1572.8 60.0v6M1671.3 467.7v-6M1671.3 60.0v6M1769.7 467.7v-6M1769.7 60.0v6M1868.1 467.7v-6M1868.1 60.0v6M1966.6 467.7v-6M1966.6 60.0v6M1474.4 416.7h6M2065.0 416.7h-6M1474.4 365.8h6M2065.0 365.8h-6M1474.4 314.8h6M2065.0 314.8h-6M1474.4 263.9h6M2065.0 263.9h-6M1474.4 212.9h6M2065.0 212.9h-6M1474.4 161.9h6M2065.0 161.9h-6M1474.4 111.0h6M2065.0 111.0h-6" stroke="#333333" stroke-width="1.6" fill="none"/>
<rect x="1474.4" y="60.0" width="590.6" height="407.7" stroke="#333333" stroke-width="2" fill="none"/>
<text class="tk" x="1474.4" y="497.2" text-anchor="middle">99.2</text>
<text class="tk" x="1572.8" y="497.2" text-anchor="middle">99.4</text>
<text class="tk" x="1671.3" y="497.2" text-anchor="middle">99.6</text>
<text class="tk" x="1769.7" y="497.2" text-anchor="middle">99.8</text>
<text class="tk" x="1868.1" y="497.2" text-anchor="middle">100</text>
<text class="tk" x="1966.6" y="497.2" text-anchor="middle">100.2</text>
<text class="tk" x="2065.0" y="497.2" text-anchor="middle">100.4</text>
<text class="tk" x="1464.4" y="476.3" text-anchor="end">25.2</text>
<text class="tk" x="1464.4" y="425.3" text-anchor="end">25.3</text>
<text class="tk" x="1464.4" y="374.4" text-anchor="end">25.4</text>
<text class="tk" x="1464.4" y="323.4" text-anchor="end">25.5</text>
<text class="tk" x="1464.4" y="272.5" text-anchor="end">25.6</text>
<text class="tk" x="1464.4" y="221.5" text-anchor="end">25.7</text>
<text class="tk" x="1464.4" y="170.5" text-anchor="end">25.8</text>
<text class="tk" x="1464.4" y="119.6" text-anchor="end">25.9</text>
<text class="tk" x="1464.4" y="68.6" text-anchor="end">26</text>
<text class="ti" x="1769.7" y="49.0" text-anchor="middle">residual</text>
<text class="pl" x="1484.3" y="93.1">(c)</text>
<path d="M202.8 1017.1v-6M202.8 571.0v6M300.0 1017.1v-6M300.0 571.0v6M397.2 1017.1v-6M397.2 571.0v6M494.5 1017.1v-6M494.5 571.0v6M591.8 1017.1v-6M591.8 571.0v6M105.5 967.5h6M689.0 967.5h-6M105.5 918.0h6M689.0 918.0h-6M105.5 868.4h6M689.0 868.4h-6M105.5 818.8h6M689.0 818.8h-6M105.5 769.3h6M689.0 769.3h-6M105.5 719.7h6M689.0 719.7h-6M105.5 670.1h6M689.0 670.1h-6M105.5 620.6h6M689.0 620.6h-6" stroke="#333333" stroke-width="1.6" fill="none"/>
<rect x="105.5" y="571.0" width="583.5" height="446.1" stroke="#333333" stroke-width="2" fill="none"/>
<text class="tk" x="105.5" y="1045.0" text-anchor="middle">99.2</text>
<text class="tk" x="202.8" y="1045.0" text-anchor="middle">99.4</text>
<text class="tk" x="300.0" y="1045.0" text-anchor="middle">99.6</text>
<text class="tk" x="397.2" y="1045.0" text-anchor="middle">99.8</text>
<text class="tk" x="494.5" y="1045.0" text-anchor="middle">100</text>
<text class="tk" x="591.8" y="1045.0" text-anchor="middle">100.2</text>
<text class="tk" x="689.0" y="1045.0" text-anchor="middle">100.4</text>
<text class="tk" x="95.5" y="1025.7" text-anchor="end">25.2</text>
<text class="tk" x="95.5" y="976.1" text-anchor="end">25.3</text>
<text class="tk" x="95.5" y="926.6" text-anchor="end">25.4</text>
<text class="tk" x="95.5" y="877.0" text-anchor="end">25.5</text>
<text class="tk" x="95.5" y="827.4" text-anchor="end">25.6</text>
<text class="tk" x="95.5" y="777.9" text-anchor="end">25.7</text>
<text class="tk" x="95.5" y="728.3" text-anchor="end">25.8</text>
<text class="tk" x="95.5" y="678.7" text-anchor="end">25.9</text>
<text class="tk" x="95.5" y="629.2" text-anchor="end">26</text>
<text class="tk" x="95.5" y="579.6" text-anchor="end">26.1</text>
<text class="ti" x="397.2" y="560.0" text-anchor="middle">observation</text>
<text class="pl" x="112.9" y="597.6">(d)</text>
<path d="M894.9 1017.1v-6M894.9 570.7v6M991.9 1017.1v-6M991.9 570.7v6M1088.8 1017.1v-6M1088.8 570.7v6M1185.7 1017.1v-6M1185.7 570.7v6M1282.7 1017.1v-6M1282.7 570.7v6M798.0 967.5h6M1379.6 967.5h-6M798.0 917.9h6M1379.6 917.9h-6M798.0 868.3h6M1379.6 868.3h-6M798.0 818.7h6M1379.6 818.7h-6M798.0 769.1h6M1379.6 769.1h-6M798.0 719.5h6M1379.6 719.5h-6M798.0 669.9h6M1379.6 669.9h-6M798.0 620.3h6M1379.6 620.3h-6" stroke="#333333" stroke-width="1.6" fill="none"/>
<rect x="798.0" y="570.7" width="581.6" height="446.4" stroke="#333333" stroke-width="2" fill="none"/>
<text class="tk" x="798.0" y="1045.0" text-anchor="middle">99.2</text>
<text class="tk" x="894.9" y="1045.0" text-anchor="middle">99.4</text>
<text class="tk" x="991.9" y="1045.0" text-anchor="middle">99.6</text>
<text class="tk" x="1088.8" y="1045.0" text-anchor="middle">99.8</text>
<text class="tk" x="1185.7" y="1045.0" text-anchor="middle">100</text>
<text class="tk" x="1282.7" y="1045.0" text-anchor="middle">100.2</text>
<text class="tk" x="1379.6" y="1045.0" text-anchor="middle">100.4</text>
<text class="tk" x="788.0" y="1025.7" text-anchor="end">25.2</text>
<text class="tk" x="788.0" y="976.1" text-anchor="end">25.3</text>
<text class="tk" x="788.0" y="926.5" text-anchor="end">25.4</text>
<text class="tk" x="788.0" y="876.9" text-anchor="end">25.5</text>
<text class="tk" x="788.0" y="827.3" text-anchor="end">25.6</text>
<text class="tk" x="788.0" y="777.7" text-anchor="end">25.7</text>
<text class="tk" x="788.0" y="728.1" text-anchor="end">25.8</text>
<text class="tk" x="788.0" y="678.5" text-anchor="end">25.9</text>
<text class="tk" x="788.0" y="628.9" text-anchor="end">26</text>
<text class="tk" x="788.0" y="579.3" text-anchor="end">26.1</text>
<text class="ti" x="1088.8" y="559.7" text-anchor="middle">prediction</text>
<text class="pl" x="809.0" y="600.8">(e)</text>
<path d="M1577.5 1019.9v-6M1577.5 571.0v6M1674.5 1019.9v-6M1674.5 571.0v6M1771.5 1019.9v-6M1771.5 571.0v6M1868.5 1019.9v-6M1868.5 571.0v6M1965.5 1019.9v-6M1965.5 571.0v6M1480.5 970.0h6M2062.5 970.0h-6M1480.5 920.1h6M2062.5 920.1h-6M1480.5 870.3h6M2062.5 870.3h-6M1480.5 820.4h6M2062.5 820.4h-6M1480.5 770.5h6M2062.5 770.5h-6M1480.5 720.6h6M2062.5 720.6h-6M1480.5 670.8h6M2062.5 670.8h-6M1480.5 620.9h6M2062.5 620.9h-6" stroke="#333333" stroke-width="1.6" fill="none"/>
<rect x="1480.5" y="571.0" width="582.0" height="448.9" stroke="#333333" stroke-width="2" fill="none"/>
<text class="tk" x="1480.5" y="1048.0" text-anchor="middle">99.2</text>
<text class="tk" x="1577.5" y="1048.0" text-anchor="middle">99.4</text>
<text class="tk" x="1674.5" y="1048.0" text-anchor="middle">99.6</text>
<text class="tk" x="1771.5" y="1048.0" text-anchor="middle">99.8</text>
<text class="tk" x="1868.5" y="1048.0" text-anchor="middle">100</text>
<text class="tk" x="1965.5" y="1048.0" text-anchor="middle">100.2</text>
<text class="tk" x="2062.5" y="1048.0" text-anchor="middle">100.4</text>
<text class="tk" x="1470.5" y="1028.5" text-anchor="end">25.2</text>
<text class="tk" x="1470.5" y="978.6" text-anchor="end">25.3</text>
<text class="tk" x="1470.5" y="928.7" text-anchor="end">25.4</text>
<text class="tk" x="1470.5" y="878.9" text-anchor="end">25.5</text>
<text class="tk" x="1470.5" y="829.0" text-anchor="end">25.6</text>
<text class="tk" x="1470.5" y="779.1" text-anchor="end">25.7</text>
<text class="tk" x="1470.5" y="729.2" text-anchor="end">25.8</text>
<text class="tk" x="1470.5" y="679.4" text-anchor="end">25.9</text>
<text class="tk" x="1470.5" y="629.5" text-anchor="end">26</text>
<text class="tk" x="1470.5" y="579.6" text-anchor="end">26.1</text>
<text class="ti" x="1771.5" y="560.0" text-anchor="middle">residual</text>
<text class="pl" x="1490.5" y="601.8">(f)</text>
<path d="M210.2 1570.2v-6M210.2 1166.0v6M306.5 1570.2v-6M306.5 1166.0v6M402.7 1570.2v-6M402.7 1166.0v6M498.9 1570.2v-6M498.9 1166.0v6M595.2 1570.2v-6M595.2 1166.0v6M114.0 1519.7h6M691.4 1519.7h-6M114.0 1469.2h6M691.4 1469.2h-6M114.0 1418.6h6M691.4 1418.6h-6M114.0 1368.1h6M691.4 1368.1h-6M114.0 1317.6h6M691.4 1317.6h-6M114.0 1267.0h6M691.4 1267.0h-6M114.0 1216.5h6M691.4 1216.5h-6" stroke="#333333" stroke-width="1.6" fill="none"/>
<rect x="114.0" y="1166.0" width="577.4" height="404.2" stroke="#333333" stroke-width="2" fill="none"/>
<text class="tk" x="114.0" y="1598.4" text-anchor="middle">99.2</text>
<text class="tk" x="210.2" y="1598.4" text-anchor="middle">99.4</text>
<text class="tk" x="306.5" y="1598.4" text-anchor="middle">99.6</text>
<text class="tk" x="402.7" y="1598.4" text-anchor="middle">99.8</text>
<text class="tk" x="498.9" y="1598.4" text-anchor="middle">100</text>
<text class="tk" x="595.2" y="1598.4" text-anchor="middle">100.2</text>
<text class="tk" x="691.4" y="1598.4" text-anchor="middle">100.4</text>
<text class="tk" x="104.0" y="1578.8" text-anchor="end">25.2</text>
<text class="tk" x="104.0" y="1528.3" text-anchor="end">25.3</text>
<text class="tk" x="104.0" y="1477.8" text-anchor="end">25.4</text>
<text class="tk" x="104.0" y="1427.2" text-anchor="end">25.5</text>
<text class="tk" x="104.0" y="1376.7" text-anchor="end">25.6</text>
<text class="tk" x="104.0" y="1326.2" text-anchor="end">25.7</text>
<text class="tk" x="104.0" y="1275.6" text-anchor="end">25.8</text>
<text class="tk" x="104.0" y="1225.1" text-anchor="end">25.9</text>
<text class="tk" x="104.0" y="1174.6" text-anchor="end">26</text>
<text class="ti" x="402.7" y="1155.0" text-anchor="middle">observation</text>
<text class="pl" x="121.0" y="1192.6">(g)</text>
<path d="M891.4 1577.0v-6M891.4 1170.3v6M988.8 1577.0v-6M988.8 1170.3v6M1086.1 1577.0v-6M1086.1 1170.3v6M1183.5 1577.0v-6M1183.5 1170.3v6M1280.9 1577.0v-6M1280.9 1170.3v6M794.0 1526.2h6M1378.3 1526.2h-6M794.0 1475.3h6M1378.3 1475.3h-6M794.0 1424.5h6M1378.3 1424.5h-6M794.0 1373.7h6M1378.3 1373.7h-6M794.0 1322.8h6M1378.3 1322.8h-6M794.0 1272.0h6M1378.3 1272.0h-6M794.0 1221.1h6M1378.3 1221.1h-6" stroke="#333333" stroke-width="1.6" fill="none"/>
<rect x="794.0" y="1170.3" width="584.3" height="406.7" stroke="#333333" stroke-width="2" fill="none"/>
<text class="tk" x="794.0" y="1603.8" text-anchor="middle">99.2</text>
<text class="tk" x="891.4" y="1603.8" text-anchor="middle">99.4</text>
<text class="tk" x="988.8" y="1603.8" text-anchor="middle">99.6</text>
<text class="tk" x="1086.1" y="1603.8" text-anchor="middle">99.8</text>
<text class="tk" x="1183.5" y="1603.8" text-anchor="middle">100</text>
<text class="tk" x="1280.9" y="1603.8" text-anchor="middle">100.2</text>
<text class="tk" x="1378.3" y="1603.8" text-anchor="middle">100.4</text>
<text class="tk" x="784.0" y="1585.6" text-anchor="end">25.2</text>
<text class="tk" x="784.0" y="1534.8" text-anchor="end">25.3</text>
<text class="tk" x="784.0" y="1483.9" text-anchor="end">25.4</text>
<text class="tk" x="784.0" y="1433.1" text-anchor="end">25.5</text>
<text class="tk" x="784.0" y="1382.3" text-anchor="end">25.6</text>
<text class="tk" x="784.0" y="1331.4" text-anchor="end">25.7</text>
<text class="tk" x="784.0" y="1280.6" text-anchor="end">25.8</text>
<text class="tk" x="784.0" y="1229.7" text-anchor="end">25.9</text>
<text class="tk" x="784.0" y="1178.9" text-anchor="end">26</text>
<text class="ti" x="1086.2" y="1159.3" text-anchor="middle">prediction</text>
<text class="pl" x="803.9" y="1203.3">(h)</text>
<path d="M1580.4 1573.4v-6M1580.4 1167.5v6M1677.4 1573.4v-6M1677.4 1167.5v6M1774.3 1573.4v-6M1774.3 1167.5v6M1871.2 1573.4v-6M1871.2 1167.5v6M1968.2 1573.4v-6M1968.2 1167.5v6M1483.5 1522.7h6M2065.1 1522.7h-6M1483.5 1471.9h6M2065.1 1471.9h-6M1483.5 1421.2h6M2065.1 1421.2h-6M1483.5 1370.5h6M2065.1 1370.5h-6M1483.5 1319.7h6M2065.1 1319.7h-6M1483.5 1269.0h6M2065.1 1269.0h-6M1483.5 1218.2h6M2065.1 1218.2h-6" stroke="#333333" stroke-width="1.6" fill="none"/>
<rect x="1483.5" y="1167.5" width="581.6" height="405.9" stroke="#333333" stroke-width="2" fill="none"/>
<text class="tk" x="1483.5" y="1599.9" text-anchor="middle">99.2</text>
<text class="tk" x="1580.4" y="1599.9" text-anchor="middle">99.4</text>
<text class="tk" x="1677.4" y="1599.9" text-anchor="middle">99.6</text>
<text class="tk" x="1774.3" y="1599.9" text-anchor="middle">99.8</text>
<text class="tk" x="1871.2" y="1599.9" text-anchor="middle">100</text>
<text class="tk" x="1968.2" y="1599.9" text-anchor="middle">100.2</text>
<text class="tk" x="2065.1" y="1599.9" text-anchor="middle">100.4</text>
<text class="tk" x="1473.5" y="1582.0" text-anchor="end">25.2</text>
<text class="tk" x="1473.5" y="1531.3" text-anchor="end">25.3</text>
<text class="tk" x="1473.5" y="1480.5" text-anchor="end">25.4</text>
<text class="tk" x="1473.5" y="1429.8" text-anchor="end">25.5</text>
<text class="tk" x="1473.5" y="1379.1" text-anchor="end">25.6</text>
<text class="tk" x="1473.5" y="1328.3" text-anchor="end">25.7</text>
<text class="tk" x="1473.5" y="1277.6" text-anchor="end">25.8</text>
<text class="tk" x="1473.5" y="1226.8" text-anchor="end">25.9</text>
<text class="tk" x="1473.5" y="1176.1" text-anchor="end">26</text>
<text class="ti" x="1774.3" y="1156.5" text-anchor="middle">residual</text>
<text class="pl" x="1492.0" y="1200.8">(i)</text>
<path d="M208.6 2111.2v-6M208.6 1666.6v6M304.9 2111.2v-6M304.9 1666.6v6M401.1 2111.2v-6M401.1 1666.6v6M497.4 2111.2v-6M497.4 1666.6v6M593.7 2111.2v-6M593.7 1666.6v6M112.3 2061.8h6M690.0 2061.8h-6M112.3 2012.4h6M690.0 2012.4h-6M112.3 1963.0h6M690.0 1963.0h-6M112.3 1913.6h6M690.0 1913.6h-6M112.3 1864.2h6M690.0 1864.2h-6M112.3 1814.8h6M690.0 1814.8h-6M112.3 1765.4h6M690.0 1765.4h-6M112.3 1716.0h6M690.0 1716.0h-6" stroke="#333333" stroke-width="1.6" fill="none"/>
<rect x="112.3" y="1666.6" width="577.7" height="444.6" stroke="#333333" stroke-width="2" fill="none"/>
<text class="tk" x="112.3" y="2139.0" text-anchor="middle">99.2</text>
<text class="tk" x="208.6" y="2139.0" text-anchor="middle">99.4</text>
<text class="tk" x="304.9" y="2139.0" text-anchor="middle">99.6</text>
<text class="tk" x="401.1" y="2139.0" text-anchor="middle">99.8</text>
<text class="tk" x="497.4" y="2139.0" text-anchor="middle">100</text>
<text class="tk" x="593.7" y="2139.0" text-anchor="middle">100.2</text>
<text class="tk" x="690.0" y="2139.0" text-anchor="middle">100.4</text>
<text class="tk" x="102.3" y="2119.8" text-anchor="end">25.2</text>
<text class="tk" x="102.3" y="2070.4" text-anchor="end">25.3</text>
<text class="tk" x="102.3" y="2021.0" text-anchor="end">25.4</text>
<text class="tk" x="102.3" y="1971.6" text-anchor="end">25.5</text>
<text class="tk" x="102.3" y="1922.2" text-anchor="end">25.6</text>
<text class="tk" x="102.3" y="1872.8" text-anchor="end">25.7</text>
<text class="tk" x="102.3" y="1823.4" text-anchor="end">25.8</text>
<text class="tk" x="102.3" y="1774.0" text-anchor="end">25.9</text>
<text class="tk" x="102.3" y="1724.6" text-anchor="end">26</text>
<text class="tk" x="102.3" y="1675.2" text-anchor="end">26.1</text>
<text class="ti" x="401.1" y="1655.6" text-anchor="middle">observation</text>
<text class="pl" x="118.7" y="1697.3">(j)</text>
<path d="M895.6 2113.0v-6M895.6 1665.4v6M993.1 2113.0v-6M993.1 1665.4v6M1090.7 2113.0v-6M1090.7 1665.4v6M1188.3 2113.0v-6M1188.3 1665.4v6M1285.8 2113.0v-6M1285.8 1665.4v6M798.0 2063.3h6M1383.4 2063.3h-6M798.0 2013.5h6M1383.4 2013.5h-6M798.0 1963.8h6M1383.4 1963.8h-6M798.0 1914.1h6M1383.4 1914.1h-6M798.0 1864.3h6M1383.4 1864.3h-6M798.0 1814.6h6M1383.4 1814.6h-6M798.0 1764.9h6M1383.4 1764.9h-6M798.0 1715.1h6M1383.4 1715.1h-6" stroke="#333333" stroke-width="1.6" fill="none"/>
<rect x="798.0" y="1665.4" width="585.4" height="447.6" stroke="#333333" stroke-width="2" fill="none"/>
<text class="tk" x="798.0" y="2142.8" text-anchor="middle">99.2</text>
<text class="tk" x="895.6" y="2142.8" text-anchor="middle">99.4</text>
<text class="tk" x="993.1" y="2142.8" text-anchor="middle">99.6</text>
<text class="tk" x="1090.7" y="2142.8" text-anchor="middle">99.8</text>
<text class="tk" x="1188.3" y="2142.8" text-anchor="middle">100</text>
<text class="tk" x="1285.8" y="2142.8" text-anchor="middle">100.2</text>
<text class="tk" x="1383.4" y="2142.8" text-anchor="middle">100.4</text>
<text class="tk" x="788.0" y="2121.6" text-anchor="end">25.2</text>
<text class="tk" x="788.0" y="2071.9" text-anchor="end">25.3</text>
<text class="tk" x="788.0" y="2022.1" text-anchor="end">25.4</text>
<text class="tk" x="788.0" y="1972.4" text-anchor="end">25.5</text>
<text class="tk" x="788.0" y="1922.7" text-anchor="end">25.6</text>
<text class="tk" x="788.0" y="1872.9" text-anchor="end">25.7</text>
<text class="tk" x="788.0" y="1823.2" text-anchor="end">25.8</text>
<text class="tk" x="788.0" y="1773.5" text-anchor="end">25.9</text>
<text class="tk" x="788.0" y="1723.7" text-anchor="end">26</text>
<text class="tk" x="788.0" y="1674.0" text-anchor="end">26.1</text>
<text class="ti" x="1090.7" y="1654.4" text-anchor="middle">prediction</text>
<text class="pl" x="808.3" y="1697.3">(k)</text>
<path d="M1584.9 2111.4v-6M1584.9 1665.3v6M1681.9 2111.4v-6M1681.9 1665.3v6M1779.0 2111.4v-6M1779.0 1665.3v6M1876.1 2111.4v-6M1876.1 1665.3v6M1973.1 2111.4v-6M1973.1 1665.3v6M1487.8 2061.8h6M2070.2 2061.8h-6M1487.8 2012.3h6M2070.2 2012.3h-6M1487.8 1962.7h6M2070.2 1962.7h-6M1487.8 1913.1h6M2070.2 1913.1h-6M1487.8 1863.6h6M2070.2 1863.6h-6M1487.8 1814.0h6M2070.2 1814.0h-6M1487.8 1764.4h6M2070.2 1764.4h-6M1487.8 1714.9h6M2070.2 1714.9h-6" stroke="#333333" stroke-width="1.6" fill="none"/>
<rect x="1487.8" y="1665.3" width="582.4" height="446.1" stroke="#333333" stroke-width="2" fill="none"/>
<text class="tk" x="1487.8" y="2139.2" text-anchor="middle">99.2</text>
<text class="tk" x="1584.9" y="2139.2" text-anchor="middle">99.4</text>
<text class="tk" x="1681.9" y="2139.2" text-anchor="middle">99.6</text>
<text class="tk" x="1779.0" y="2139.2" text-anchor="middle">99.8</text>
<text class="tk" x="1876.1" y="2139.2" text-anchor="middle">100</text>
<text class="tk" x="1973.1" y="2139.2" text-anchor="middle">100.2</text>
<text class="tk" x="2070.2" y="2139.2" text-anchor="middle">100.4</text>
<text class="tk" x="1477.8" y="2120.0" text-anchor="end">25.2</text>
<text class="tk" x="1477.8" y="2070.4" text-anchor="end">25.3</text>
<text class="tk" x="1477.8" y="2020.9" text-anchor="end">25.4</text>
<text class="tk" x="1477.8" y="1971.3" text-anchor="end">25.5</text>
<text class="tk" x="1477.8" y="1921.7" text-anchor="end">25.6</text>
<text class="tk" x="1477.8" y="1872.2" text-anchor="end">25.7</text>
<text class="tk" x="1477.8" y="1822.6" text-anchor="end">25.8</text>
<text class="tk" x="1477.8" y="1773.0" text-anchor="end">25.9</text>
<text class="tk" x="1477.8" y="1723.5" text-anchor="end">26</text>
<text class="tk" x="1477.8" y="1673.9" text-anchor="end">26.1</text>
<text class="ti" x="1779.0" y="1654.3" text-anchor="middle">residual</text>
<text class="pl" x="1495.1" y="1700.1">(l)</text>
<linearGradient id="cb1074" x1="0" x2="1" y1="0" y2="0"><stop offset="0.0000" stop-color="#000080"/><stop offset="0.0156" stop-color="#00008f"/><stop offset="0.0312" stop-color="#00009f"/><stop offset="0.0469" stop-color="#0000af"/><stop offset="0.0625" stop-color="#0000bf"/><stop offset="0.0781" stop-color="#0000cf"/><stop offset="0.0938" stop-color="#0000df"/><stop offset="0.1094" stop-color="#0000ef"/><stop offset="0.1250" stop-color="#0000ff"/><stop offset="0.1406" stop-color="#0010ff"/><stop offset="0.1562" stop-color="#0020ff"/><stop offset="0.1719" stop-color="#0030ff"/><stop offset="0.1875" stop-color="#0040ff"/><stop offset="0.2031" stop-color="#0050ff"/><stop offset="0.2188" stop-color="#0060ff"/><stop offset="0.2344" stop-color="#0070ff"/><stop offset="0.2500" stop-color="#0080ff"/><stop offset="0.2656" stop-color="#008fff"/><stop offset="0.2812" stop-color="#009fff"/><stop offset="0.2969" stop-color="#00afff"/><stop offset="0.3125" stop-color="#00bfff"/><stop offset="0.3281" stop-color="#00cfff"/><stop offset="0.3438" stop-color="#00dfff"/><stop offset="0.3594" stop-color="#00efff"/><stop offset="0.3750" stop-color="#00ffff"/><stop offset="0.3906" stop-color="#10ffef"/><stop offset="0.4062" stop-color="#20ffdf"/><stop offset="0.4219" stop-color="#30ffcf"/><stop offset="0.4375" stop-color="#40ffbf"/><stop offset="0.4531" stop-color="#50ffaf"/><stop offset="0.4688" stop-color="#60ff9f"/><stop offset="0.4844" stop-color="#70ff8f"/><stop offset="0.5000" stop-color="#80ff80"/><stop offset="0.5156" stop-color="#8fff70"/><stop offset="0.5312" stop-color="#9fff60"/><stop offset="0.5469" stop-color="#afff50"/><stop offset="0.5625" stop-color="#bfff40"/><stop offset="0.5781" stop-color="#cfff30"/><stop offset="0.5938" stop-color="#dfff20"/><stop offset="0.6094" stop-color="#efff10"/><stop offset="0.6250" stop-color="#ffff00"/><stop offset="0.6406" stop-color="#ffef00"/><stop offset="0.6562" stop-color="#ffdf00"/><stop offset="0.6719" stop-color="#ffcf00"/><stop offset="0.6875" stop-color="#ffbf00"/><stop offset="0.7031" stop-color="#ffaf00"/><stop offset="0.7188" stop-color="#ff9f00"/><stop offset="0.7344" stop-color="#ff8f00"/><stop offset="0.7500" stop-color="#ff8000"/><stop offset="0.7656" stop-color="#ff7000"/><stop offset="0.7812" stop-color="#ff6000"/><stop offset="0.7969" stop-color="#ff5000"/><stop offset="0.8125" stop-color="#ff4000"/><stop offset="0.8281" stop-color="#ff3000"/><stop offset="0.8438" stop-color="#ff2000"/><stop offset="0.8594" stop-color="#ff1000"/><stop offset="0.8750" stop-color="#ff0000"/><stop offset="0.8906" stop-color="#ef0000"/><stop offset="0.9062" stop-color="#df0000"/><stop offset="0.9219" stop-color="#cf0000"/><stop offset="0.9375" stop-color="#bf0000"/><stop offset="0.9531" stop-color="#af0000"/><stop offset="0.9688" stop-color="#9f0000"/><stop offset="0.9844" stop-color="#8f0000"/><stop offset="1.0000" stop-color="#800000"/></linearGradient>
<rect x="757.1" y="1074.5" width="613.1" height="22.6" fill="url(#cb1074)" stroke="#333" stroke-width="1.2"/>
<path d="M954.5 1097.1v-5M1052.0 1097.1v-5M1150.9 1097.1v-5M1346.5 1097.1v-5" stroke="#333" stroke-width="1.2"/>
<text class="cl" transform="translate(770.0 1122.5) scale(1.1 1)" text-anchor="middle">-0.06</text>
<text class="cl" transform="translate(855.4 1122.5) scale(1.1 1)" text-anchor="middle">-0.04</text>
<text class="cl" transform="translate(951.9 1122.5) scale(1.1 1)" text-anchor="middle">-0.02</text>
<text class="cl" transform="translate(1052.5 1122.5) scale(1.1 1)" text-anchor="middle">0</text>
<text class="cl" transform="translate(1154.6 1122.5) scale(1.1 1)" text-anchor="middle">0.02</text>
<text class="cl" transform="translate(1252.8 1122.5) scale(1.1 1)" text-anchor="middle">0.04</text>
<text class="cl" transform="translate(1349.2 1122.5) scale(1.1 1)" text-anchor="middle">0.06</text>
<text class="cl" x="1385.4" y="1092.0" text-anchor="middle">m</text>
<linearGradient id="cb2172" x1="0" x2="1" y1="0" y2="0"><stop offset="0.0000" stop-color="#000080"/><stop offset="0.0156" stop-color="#00008f"/><stop offset="0.0312" stop-color="#00009f"/><stop offset="0.0469" stop-color="#0000af"/><stop offset="0.0625" stop-color="#0000bf"/><stop offset="0.0781" stop-color="#0000cf"/><stop offset="0.0938" stop-color="#0000df"/><stop offset="0.1094" stop-color="#0000ef"/><stop offset="0.1250" stop-color="#0000ff"/><stop offset="0.1406" stop-color="#0010ff"/><stop offset="0.1562" stop-color="#0020ff"/><stop offset="0.1719" stop-color="#0030ff"/><stop offset="0.1875" stop-color="#0040ff"/><stop offset="0.2031" stop-color="#0050ff"/><stop offset="0.2188" stop-color="#0060ff"/><stop offset="0.2344" stop-color="#0070ff"/><stop offset="0.2500" stop-color="#0080ff"/><stop offset="0.2656" stop-color="#008fff"/><stop offset="0.2812" stop-color="#009fff"/><stop offset="0.2969" stop-color="#00afff"/><stop offset="0.3125" stop-color="#00bfff"/><stop offset="0.3281" stop-color="#00cfff"/><stop offset="0.3438" stop-color="#00dfff"/><stop offset="0.3594" stop-color="#00efff"/><stop offset="0.3750" stop-color="#00ffff"/><stop offset="0.3906" stop-color="#10ffef"/><stop offset="0.4062" stop-color="#20ffdf"/><stop offset="0.4219" stop-color="#30ffcf"/><stop offset="0.4375" stop-color="#40ffbf"/><stop offset="0.4531" stop-color="#50ffaf"/><stop offset="0.4688" stop-color="#60ff9f"/><stop offset="0.4844" stop-color="#70ff8f"/><stop offset="0.5000" stop-color="#80ff80"/><stop offset="0.5156" stop-color="#8fff70"/><stop offset="0.5312" stop-color="#9fff60"/><stop offset="0.5469" stop-color="#afff50"/><stop offset="0.5625" stop-color="#bfff40"/><stop offset="0.5781" stop-color="#cfff30"/><stop offset="0.5938" stop-color="#dfff20"/><stop offset="0.6094" stop-color="#efff10"/><stop offset="0.6250" stop-color="#ffff00"/><stop offset="0.6406" stop-color="#ffef00"/><stop offset="0.6562" stop-color="#ffdf00"/><stop offset="0.6719" stop-color="#ffcf00"/><stop offset="0.6875" stop-color="#ffbf00"/><stop offset="0.7031" stop-color="#ffaf00"/><stop offset="0.7188" stop-color="#ff9f00"/><stop offset="0.7344" stop-color="#ff8f00"/><stop offset="0.7500" stop-color="#ff8000"/><stop offset="0.7656" stop-color="#ff7000"/><stop offset="0.7812" stop-color="#ff6000"/><stop offset="0.7969" stop-color="#ff5000"/><stop offset="0.8125" stop-color="#ff4000"/><stop offset="0.8281" stop-color="#ff3000"/><stop offset="0.8438" stop-color="#ff2000"/><stop offset="0.8594" stop-color="#ff1000"/><stop offset="0.8750" stop-color="#ff0000"/><stop offset="0.8906" stop-color="#ef0000"/><stop offset="0.9062" stop-color="#df0000"/><stop offset="0.9219" stop-color="#cf0000"/><stop offset="0.9375" stop-color="#bf0000"/><stop offset="0.9531" stop-color="#af0000"/><stop offset="0.9688" stop-color="#9f0000"/><stop offset="0.9844" stop-color="#8f0000"/><stop offset="1.0000" stop-color="#800000"/></linearGradient>
<rect x="763.1" y="2172.0" width="610.6" height="21.9" fill="url(#cb2172)" stroke="#333" stroke-width="1.2"/>
<path d="M960.5 2193.9v-5M1057.2 2193.9v-5M1154.9 2193.9v-5M1350.2 2193.9v-5" stroke="#333" stroke-width="1.2"/>
<text class="cl" transform="translate(775.2 2219.0) scale(1.1 1)" text-anchor="middle">-0.06</text>
<text class="cl" transform="translate(861.5 2219.0) scale(1.1 1)" text-anchor="middle">-0.04</text>
<text class="cl" transform="translate(957.2 2219.0) scale(1.1 1)" text-anchor="middle">-0.02</text>
<text class="cl" transform="translate(1057.8 2219.0) scale(1.1 1)" text-anchor="middle">0</text>
<text class="cl" transform="translate(1158.2 2219.0) scale(1.1 1)" text-anchor="middle">0.02</text>
<text class="cl" transform="translate(1255.5 2219.0) scale(1.1 1)" text-anchor="middle">0.04</text>
<text class="cl" transform="translate(1353.4 2219.0) scale(1.1 1)" text-anchor="middle">0.06</text>
<text class="cl" x="1389.8" y="2189.5" text-anchor="middle">m</text>
</g>
</svg></div></body></html>
